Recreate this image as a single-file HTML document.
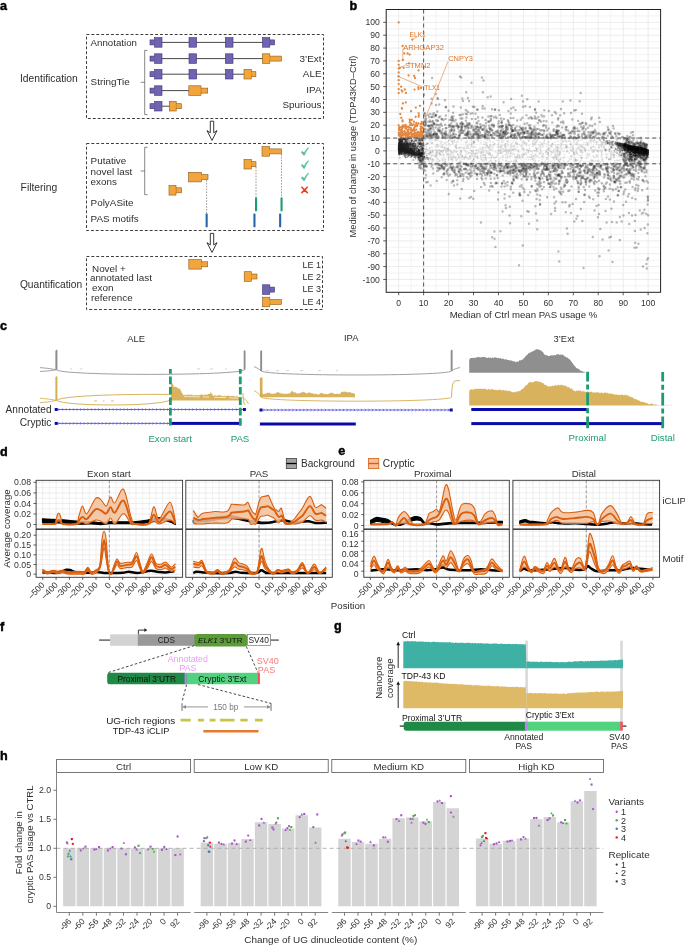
<!DOCTYPE html>
<html><head><meta charset="utf-8"><style>
html,body{margin:0;padding:0;background:#fff;}
svg{display:block;font-family:"Liberation Sans", sans-serif;opacity:0.999;will-change:transform;}
</style></head><body>
<svg width="685" height="945" viewBox="0 0 685 945">
<rect width="685" height="945" fill="#fff"/>
<text x="0.0" y="10.2" font-size="12.6" font-weight="bold" fill="#000" stroke="#000" stroke-width="0.45">a</text>
<rect x="86.5" y="34.5" width="237.0" height="84.0" fill="none" stroke="#333" stroke-width="0.95" stroke-dasharray="2.9,2.0"/>
<text x="20.0" y="81.8" font-size="10.3" fill="#2e2e2e">Identification</text>
<text x="90.6" y="45.7" font-size="9.7" fill="#2e2e2e">Annotation</text>
<text x="90.6" y="85.3" font-size="9.9" fill="#2e2e2e">StringTie</text>
<path d="M147.5,50.4 H144.7 V114.6 H147.5 M144.7,82.3 H140.7" fill="none" stroke="#555" stroke-width="0.7"/>
<line x1="160.0" y1="42.4" x2="263.0" y2="42.4" stroke="#333" stroke-width="0.9"/>
<rect x="150.0" y="39.9" width="4.6" height="5.0" fill="#6f64b2" stroke="#3d3475" stroke-width="0.6"/><rect x="154.6" y="37.6" width="7.4" height="9.6" fill="#6f64b2" stroke="#3d3475" stroke-width="0.6"/><rect x="154.2" y="40.2" width="0.9" height="4.4" fill="#6f64b2"/>
<rect x="189.0" y="37.6" width="7.6" height="9.6" fill="#6f64b2" stroke="#3d3475" stroke-width="0.6"/>
<rect x="225.4" y="37.6" width="7.6" height="9.6" fill="#6f64b2" stroke="#3d3475" stroke-width="0.6"/>
<rect x="269.8" y="39.9" width="4.8" height="5.0" fill="#6f64b2" stroke="#3d3475" stroke-width="0.6"/><rect x="262.5" y="37.6" width="7.3" height="9.6" fill="#6f64b2" stroke="#3d3475" stroke-width="0.6"/><rect x="269.3" y="40.2" width="0.9" height="4.4" fill="#6f64b2"/>
<line x1="160.0" y1="58.6" x2="263.0" y2="58.6" stroke="#333" stroke-width="0.9"/>
<rect x="150.0" y="56.1" width="4.6" height="5.0" fill="#6f64b2" stroke="#3d3475" stroke-width="0.6"/><rect x="154.6" y="53.8" width="7.4" height="9.6" fill="#6f64b2" stroke="#3d3475" stroke-width="0.6"/><rect x="154.2" y="56.4" width="0.9" height="4.4" fill="#6f64b2"/>
<rect x="189.0" y="53.8" width="7.6" height="9.6" fill="#6f64b2" stroke="#3d3475" stroke-width="0.6"/>
<rect x="225.4" y="53.8" width="7.6" height="9.6" fill="#6f64b2" stroke="#3d3475" stroke-width="0.6"/>
<rect x="269.8" y="56.1" width="11.7" height="5.0" fill="#f2a53c" stroke="#8a5a1c" stroke-width="0.6"/><rect x="262.4" y="53.8" width="7.4" height="9.6" fill="#f2a53c" stroke="#8a5a1c" stroke-width="0.6"/><rect x="269.3" y="56.4" width="0.9" height="4.4" fill="#f2a53c"/>
<line x1="160.0" y1="74.2" x2="245.0" y2="74.2" stroke="#333" stroke-width="0.9"/>
<rect x="150.0" y="71.7" width="4.6" height="5.0" fill="#6f64b2" stroke="#3d3475" stroke-width="0.6"/><rect x="154.6" y="69.4" width="7.4" height="9.6" fill="#6f64b2" stroke="#3d3475" stroke-width="0.6"/><rect x="154.2" y="72.0" width="0.9" height="4.4" fill="#6f64b2"/>
<rect x="189.0" y="69.4" width="7.6" height="9.6" fill="#6f64b2" stroke="#3d3475" stroke-width="0.6"/>
<rect x="225.4" y="69.4" width="7.6" height="9.6" fill="#6f64b2" stroke="#3d3475" stroke-width="0.6"/>
<rect x="251.3" y="71.7" width="4.6" height="5.0" fill="#f2a53c" stroke="#8a5a1c" stroke-width="0.6"/><rect x="244.0" y="69.4" width="7.3" height="9.6" fill="#f2a53c" stroke="#8a5a1c" stroke-width="0.6"/><rect x="250.8" y="72.0" width="0.9" height="4.4" fill="#f2a53c"/>
<line x1="160.0" y1="90.6" x2="190.0" y2="90.6" stroke="#333" stroke-width="0.9"/>
<rect x="150.0" y="88.1" width="4.6" height="5.0" fill="#6f64b2" stroke="#3d3475" stroke-width="0.6"/><rect x="154.6" y="85.8" width="7.4" height="9.6" fill="#6f64b2" stroke="#3d3475" stroke-width="0.6"/><rect x="154.2" y="88.4" width="0.9" height="4.4" fill="#6f64b2"/>
<rect x="201.0" y="88.1" width="6.7" height="5.0" fill="#f2a53c" stroke="#8a5a1c" stroke-width="0.6"/><rect x="188.8" y="85.8" width="12.2" height="9.6" fill="#f2a53c" stroke="#8a5a1c" stroke-width="0.6"/><rect x="200.5" y="88.4" width="0.9" height="4.4" fill="#f2a53c"/>
<line x1="160.0" y1="106.2" x2="170.0" y2="106.2" stroke="#333" stroke-width="0.9"/>
<rect x="150.0" y="103.7" width="4.6" height="5.0" fill="#6f64b2" stroke="#3d3475" stroke-width="0.6"/><rect x="154.6" y="101.4" width="7.4" height="9.6" fill="#6f64b2" stroke="#3d3475" stroke-width="0.6"/><rect x="154.2" y="104.0" width="0.9" height="4.4" fill="#6f64b2"/>
<rect x="176.2" y="103.7" width="5.3" height="5.0" fill="#f2a53c" stroke="#8a5a1c" stroke-width="0.6"/><rect x="169.4" y="101.4" width="6.8" height="9.6" fill="#f2a53c" stroke="#8a5a1c" stroke-width="0.6"/><rect x="175.7" y="104.0" width="0.9" height="4.4" fill="#f2a53c"/>
<text x="321.5" y="62.4" font-size="9.9" text-anchor="end" fill="#2e2e2e">3’Ext</text>
<text x="321.5" y="77.4" font-size="9.9" text-anchor="end" fill="#2e2e2e">ALE</text>
<text x="321.5" y="92.7" font-size="9.9" text-anchor="end" fill="#2e2e2e">IPA</text>
<text x="321.5" y="107.8" font-size="9.9" text-anchor="end" fill="#2e2e2e">Spurious</text>
<path d="M210.3,121.2 H213.7 V132.8 L217.0,130.6 L212.0,140.4 L207.0,130.6 L210.3,132.8 Z" fill="#fff" stroke="#222" stroke-width="0.9" stroke-linejoin="miter"/>
<rect x="86.5" y="143.5" width="237.0" height="87.0" fill="none" stroke="#333" stroke-width="0.95" stroke-dasharray="2.9,2.0"/>
<text x="20.6" y="191.2" font-size="10.3" fill="#2e2e2e">Filtering</text>
<text x="90.6" y="163.8" font-size="9.9" fill="#2e2e2e">Putative</text>
<text x="90.6" y="174.5" font-size="9.9" fill="#2e2e2e">novel last</text>
<text x="90.6" y="185.2" font-size="9.9" fill="#2e2e2e">exons</text>
<text x="90.6" y="205.6" font-size="9.9" fill="#2e2e2e">PolyASite</text>
<text x="90.6" y="221.9" font-size="9.9" fill="#2e2e2e">PAS motifs</text>
<path d="M147.5,147.3 H144.7 V194.7 H147.5 M144.7,171.0 H140.7" fill="none" stroke="#555" stroke-width="0.7"/>
<rect x="269.6" y="148.9" width="11.9" height="5.0" fill="#f2a53c" stroke="#8a5a1c" stroke-width="0.6"/><rect x="262.0" y="146.6" width="7.6" height="9.6" fill="#f2a53c" stroke="#8a5a1c" stroke-width="0.6"/><rect x="269.1" y="149.2" width="0.9" height="4.4" fill="#f2a53c"/>
<rect x="251.3" y="161.7" width="4.7" height="5.0" fill="#f2a53c" stroke="#8a5a1c" stroke-width="0.6"/><rect x="244.0" y="159.4" width="7.3" height="9.6" fill="#f2a53c" stroke="#8a5a1c" stroke-width="0.6"/><rect x="250.8" y="162.0" width="0.9" height="4.4" fill="#f2a53c"/>
<rect x="201.5" y="174.6" width="6.5" height="5.0" fill="#f2a53c" stroke="#8a5a1c" stroke-width="0.6"/><rect x="188.5" y="172.3" width="13.0" height="9.6" fill="#f2a53c" stroke="#8a5a1c" stroke-width="0.6"/><rect x="201.0" y="174.9" width="0.9" height="4.4" fill="#f2a53c"/>
<rect x="176.0" y="187.8" width="5.6" height="5.0" fill="#f2a53c" stroke="#8a5a1c" stroke-width="0.6"/><rect x="169.0" y="185.5" width="7.0" height="9.6" fill="#f2a53c" stroke="#8a5a1c" stroke-width="0.6"/><rect x="175.5" y="188.1" width="0.9" height="4.4" fill="#f2a53c"/>
<line x1="206.6" y1="180" x2="206.6" y2="214" stroke="#555" stroke-width="0.6" stroke-dasharray="1.6,1.3"/>
<line x1="256.0" y1="167" x2="256.0" y2="198" stroke="#555" stroke-width="0.6" stroke-dasharray="1.6,1.3"/>
<line x1="281.5" y1="154" x2="281.5" y2="198" stroke="#555" stroke-width="0.6" stroke-dasharray="1.6,1.3"/>
<rect x="255.0" y="197.4" width="2.1" height="13.9" rx="0.6" fill="#1f9a72"/>
<rect x="280.5" y="197.4" width="2.1" height="13.9" rx="0.6" fill="#1f9a72"/>
<rect x="205.6" y="213.5" width="2.1" height="13.8" rx="0.6" fill="#2566a8"/>
<rect x="253.4" y="213.5" width="2.1" height="13.8" rx="0.6" fill="#2566a8"/>
<rect x="279.1" y="213.5" width="2.1" height="13.8" rx="0.6" fill="#2566a8"/>
<path d="M301.20,152.20 L302.50,151.30 L304.10,153.10 Q305.80,149.30 308.30,147.50 L308.60,148.10 Q306.40,150.30 304.40,155.30 L303.70,155.30 Z" fill="#52be98" stroke="#52be98" stroke-width="0.5" stroke-linejoin="round"/>
<path d="M301.20,165.30 L302.50,164.40 L304.10,166.20 Q305.80,162.40 308.30,160.60 L308.60,161.20 Q306.40,163.40 304.40,168.40 L303.70,168.40 Z" fill="#52be98" stroke="#52be98" stroke-width="0.5" stroke-linejoin="round"/>
<path d="M301.20,177.70 L302.50,176.80 L304.10,178.60 Q305.80,174.80 308.30,173.00 L308.60,173.60 Q306.40,175.80 304.40,180.80 L303.70,180.80 Z" fill="#52be98" stroke="#52be98" stroke-width="0.5" stroke-linejoin="round"/>
<path d="M301.9,187.2 L307.3,192.6 M307.3,187.2 L301.9,192.6" stroke="#e8401e" stroke-width="1.6" stroke-linecap="round"/>
<path d="M210.3,233.4 H213.7 V244.9 L217.0,242.7 L212.0,252.4 L207.0,242.7 L210.3,244.9 Z" fill="#fff" stroke="#222" stroke-width="0.9" stroke-linejoin="miter"/>
<rect x="86.5" y="256.5" width="236.0" height="53.0" fill="none" stroke="#333" stroke-width="0.95" stroke-dasharray="2.9,2.0"/>
<text x="19.9" y="288.2" font-size="10.2" fill="#2e2e2e">Quantification</text>
<text x="92.0" y="271.8" font-size="9.9" fill="#2e2e2e">Novel +</text>
<text x="89.9" y="281.3" font-size="9.9" fill="#2e2e2e">annotated last</text>
<text x="92.0" y="291.2" font-size="9.9" fill="#2e2e2e">exon</text>
<text x="91.0" y="301.0" font-size="9.9" fill="#2e2e2e">reference</text>
<rect x="201.3" y="261.8" width="6.4" height="5.0" fill="#f2a53c" stroke="#8a5a1c" stroke-width="0.6"/><rect x="188.8" y="259.5" width="12.5" height="9.6" fill="#f2a53c" stroke="#8a5a1c" stroke-width="0.6"/><rect x="200.8" y="262.1" width="0.9" height="4.4" fill="#f2a53c"/>
<rect x="251.3" y="274.0" width="5.7" height="5.0" fill="#f2a53c" stroke="#8a5a1c" stroke-width="0.6"/><rect x="244.2" y="271.7" width="7.1" height="9.6" fill="#f2a53c" stroke="#8a5a1c" stroke-width="0.6"/><rect x="250.8" y="274.3" width="0.9" height="4.4" fill="#f2a53c"/>
<rect x="269.8" y="287.1" width="4.7" height="5.0" fill="#6f64b2" stroke="#3d3475" stroke-width="0.6"/><rect x="262.5" y="284.8" width="7.3" height="9.6" fill="#6f64b2" stroke="#3d3475" stroke-width="0.6"/><rect x="269.3" y="287.4" width="0.9" height="4.4" fill="#6f64b2"/>
<rect x="269.8" y="299.5" width="11.7" height="5.0" fill="#f2a53c" stroke="#8a5a1c" stroke-width="0.6"/><rect x="262.5" y="297.2" width="7.3" height="9.6" fill="#f2a53c" stroke="#8a5a1c" stroke-width="0.6"/><rect x="269.3" y="299.8" width="0.9" height="4.4" fill="#f2a53c"/>
<text x="321.0" y="267.9" font-size="9.0" text-anchor="end" fill="#2e2e2e">LE 1</text>
<text x="321.0" y="280.1" font-size="9.0" text-anchor="end" fill="#2e2e2e">LE 2</text>
<text x="321.0" y="292.4" font-size="9.0" text-anchor="end" fill="#2e2e2e">LE 3</text>
<text x="321.0" y="304.8" font-size="9.0" text-anchor="end" fill="#2e2e2e">LE 4</text>
<text x="349.6" y="10.3" font-size="12.6" font-weight="bold" fill="#000" stroke="#000" stroke-width="0.45">b</text>
<rect x="386.2" y="9.5" width="274.4" height="282.8" fill="#fff"/>
<line x1="411.15" y1="9.5" x2="411.15" y2="292.3" stroke="#f1f1f1" stroke-width="0.85"/><line x1="436.09" y1="9.5" x2="436.09" y2="292.3" stroke="#f1f1f1" stroke-width="0.85"/><line x1="461.04" y1="9.5" x2="461.04" y2="292.3" stroke="#f1f1f1" stroke-width="0.85"/><line x1="485.98" y1="9.5" x2="485.98" y2="292.3" stroke="#f1f1f1" stroke-width="0.85"/><line x1="510.93" y1="9.5" x2="510.93" y2="292.3" stroke="#f1f1f1" stroke-width="0.85"/><line x1="535.87" y1="9.5" x2="535.87" y2="292.3" stroke="#f1f1f1" stroke-width="0.85"/><line x1="560.82" y1="9.5" x2="560.82" y2="292.3" stroke="#f1f1f1" stroke-width="0.85"/><line x1="585.76" y1="9.5" x2="585.76" y2="292.3" stroke="#f1f1f1" stroke-width="0.85"/><line x1="610.71" y1="9.5" x2="610.71" y2="292.3" stroke="#f1f1f1" stroke-width="0.85"/><line x1="635.65" y1="9.5" x2="635.65" y2="292.3" stroke="#f1f1f1" stroke-width="0.85"/><line x1="386.2" y1="285.87" x2="660.6" y2="285.87" stroke="#f1f1f1" stroke-width="0.85"/><line x1="386.2" y1="273.02" x2="660.6" y2="273.02" stroke="#f1f1f1" stroke-width="0.85"/><line x1="386.2" y1="260.16" x2="660.6" y2="260.16" stroke="#f1f1f1" stroke-width="0.85"/><line x1="386.2" y1="247.31" x2="660.6" y2="247.31" stroke="#f1f1f1" stroke-width="0.85"/><line x1="386.2" y1="234.45" x2="660.6" y2="234.45" stroke="#f1f1f1" stroke-width="0.85"/><line x1="386.2" y1="221.60" x2="660.6" y2="221.60" stroke="#f1f1f1" stroke-width="0.85"/><line x1="386.2" y1="208.75" x2="660.6" y2="208.75" stroke="#f1f1f1" stroke-width="0.85"/><line x1="386.2" y1="195.89" x2="660.6" y2="195.89" stroke="#f1f1f1" stroke-width="0.85"/><line x1="386.2" y1="183.04" x2="660.6" y2="183.04" stroke="#f1f1f1" stroke-width="0.85"/><line x1="386.2" y1="170.18" x2="660.6" y2="170.18" stroke="#f1f1f1" stroke-width="0.85"/><line x1="386.2" y1="157.33" x2="660.6" y2="157.33" stroke="#f1f1f1" stroke-width="0.85"/><line x1="386.2" y1="144.47" x2="660.6" y2="144.47" stroke="#f1f1f1" stroke-width="0.85"/><line x1="386.2" y1="131.62" x2="660.6" y2="131.62" stroke="#f1f1f1" stroke-width="0.85"/><line x1="386.2" y1="118.76" x2="660.6" y2="118.76" stroke="#f1f1f1" stroke-width="0.85"/><line x1="386.2" y1="105.91" x2="660.6" y2="105.91" stroke="#f1f1f1" stroke-width="0.85"/><line x1="386.2" y1="93.05" x2="660.6" y2="93.05" stroke="#f1f1f1" stroke-width="0.85"/><line x1="386.2" y1="80.20" x2="660.6" y2="80.20" stroke="#f1f1f1" stroke-width="0.85"/><line x1="386.2" y1="67.35" x2="660.6" y2="67.35" stroke="#f1f1f1" stroke-width="0.85"/><line x1="386.2" y1="54.49" x2="660.6" y2="54.49" stroke="#f1f1f1" stroke-width="0.85"/><line x1="386.2" y1="41.64" x2="660.6" y2="41.64" stroke="#f1f1f1" stroke-width="0.85"/><line x1="386.2" y1="28.78" x2="660.6" y2="28.78" stroke="#f1f1f1" stroke-width="0.85"/><line x1="386.2" y1="15.93" x2="660.6" y2="15.93" stroke="#f1f1f1" stroke-width="0.85"/><line x1="398.67" y1="9.5" x2="398.67" y2="292.3" stroke="#ebebeb" stroke-width="0.95"/><line x1="423.62" y1="9.5" x2="423.62" y2="292.3" stroke="#ebebeb" stroke-width="0.95"/><line x1="448.56" y1="9.5" x2="448.56" y2="292.3" stroke="#ebebeb" stroke-width="0.95"/><line x1="473.51" y1="9.5" x2="473.51" y2="292.3" stroke="#ebebeb" stroke-width="0.95"/><line x1="498.45" y1="9.5" x2="498.45" y2="292.3" stroke="#ebebeb" stroke-width="0.95"/><line x1="523.40" y1="9.5" x2="523.40" y2="292.3" stroke="#ebebeb" stroke-width="0.95"/><line x1="548.35" y1="9.5" x2="548.35" y2="292.3" stroke="#ebebeb" stroke-width="0.95"/><line x1="573.29" y1="9.5" x2="573.29" y2="292.3" stroke="#ebebeb" stroke-width="0.95"/><line x1="598.24" y1="9.5" x2="598.24" y2="292.3" stroke="#ebebeb" stroke-width="0.95"/><line x1="623.18" y1="9.5" x2="623.18" y2="292.3" stroke="#ebebeb" stroke-width="0.95"/><line x1="648.13" y1="9.5" x2="648.13" y2="292.3" stroke="#ebebeb" stroke-width="0.95"/><line x1="386.2" y1="279.45" x2="660.6" y2="279.45" stroke="#ebebeb" stroke-width="0.95"/><line x1="386.2" y1="266.59" x2="660.6" y2="266.59" stroke="#ebebeb" stroke-width="0.95"/><line x1="386.2" y1="253.74" x2="660.6" y2="253.74" stroke="#ebebeb" stroke-width="0.95"/><line x1="386.2" y1="240.88" x2="660.6" y2="240.88" stroke="#ebebeb" stroke-width="0.95"/><line x1="386.2" y1="228.03" x2="660.6" y2="228.03" stroke="#ebebeb" stroke-width="0.95"/><line x1="386.2" y1="215.17" x2="660.6" y2="215.17" stroke="#ebebeb" stroke-width="0.95"/><line x1="386.2" y1="202.32" x2="660.6" y2="202.32" stroke="#ebebeb" stroke-width="0.95"/><line x1="386.2" y1="189.46" x2="660.6" y2="189.46" stroke="#ebebeb" stroke-width="0.95"/><line x1="386.2" y1="176.61" x2="660.6" y2="176.61" stroke="#ebebeb" stroke-width="0.95"/><line x1="386.2" y1="163.75" x2="660.6" y2="163.75" stroke="#ebebeb" stroke-width="0.95"/><line x1="386.2" y1="150.90" x2="660.6" y2="150.90" stroke="#ebebeb" stroke-width="0.95"/><line x1="386.2" y1="138.05" x2="660.6" y2="138.05" stroke="#ebebeb" stroke-width="0.95"/><line x1="386.2" y1="125.19" x2="660.6" y2="125.19" stroke="#ebebeb" stroke-width="0.95"/><line x1="386.2" y1="112.34" x2="660.6" y2="112.34" stroke="#ebebeb" stroke-width="0.95"/><line x1="386.2" y1="99.48" x2="660.6" y2="99.48" stroke="#ebebeb" stroke-width="0.95"/><line x1="386.2" y1="86.63" x2="660.6" y2="86.63" stroke="#ebebeb" stroke-width="0.95"/><line x1="386.2" y1="73.77" x2="660.6" y2="73.77" stroke="#ebebeb" stroke-width="0.95"/><line x1="386.2" y1="60.92" x2="660.6" y2="60.92" stroke="#ebebeb" stroke-width="0.95"/><line x1="386.2" y1="48.06" x2="660.6" y2="48.06" stroke="#ebebeb" stroke-width="0.95"/><line x1="386.2" y1="35.21" x2="660.6" y2="35.21" stroke="#ebebeb" stroke-width="0.95"/><line x1="386.2" y1="22.35" x2="660.6" y2="22.35" stroke="#ebebeb" stroke-width="0.95"/>
<path d="M611.1 152.4h0M444.4 142.9h0M476.1 163.0h0M548.8 155.7h0M453.7 155.2h0M523.6 153.7h0M436.5 144.7h0M471.6 150.8h0M446.8 142.2h0M575.5 139.7h0M507.0 143.6h0M610.6 158.6h0M580.5 161.2h0M622.2 153.6h0M427.3 153.6h0M598.6 161.1h0M440.0 154.2h0M507.6 156.0h0M442.0 141.7h0M558.5 160.6h0M433.0 159.6h0M600.7 141.4h0M575.8 159.8h0M516.0 149.1h0M533.5 146.1h0M548.3 155.0h0M574.6 158.0h0M494.2 143.9h0M619.2 147.8h0M551.6 145.6h0M504.9 145.4h0M497.9 144.8h0M508.2 156.3h0M534.1 142.3h0M462.3 138.6h0M478.5 140.2h0M597.2 142.3h0M590.7 140.3h0M555.9 155.8h0M507.6 144.5h0M613.3 157.6h0M612.3 143.7h0M442.2 146.5h0M425.0 146.2h0M558.1 141.2h0M435.7 156.4h0M472.2 152.4h0M574.8 160.5h0M617.3 160.1h0M451.0 151.2h0M461.7 162.5h0M558.7 155.0h0M486.3 160.3h0M474.0 142.9h0M606.5 158.0h0M591.0 142.7h0M587.2 143.4h0M521.6 154.9h0M517.0 139.4h0M451.2 141.5h0M476.5 155.6h0M461.0 154.5h0M480.8 157.6h0M544.7 138.1h0M556.8 159.0h0M615.9 148.2h0M498.8 146.9h0M463.4 138.6h0M558.2 156.3h0M574.3 141.7h0M517.1 156.7h0M451.6 159.8h0M436.6 153.3h0M433.1 161.2h0M511.5 147.4h0M511.9 147.1h0M581.1 145.8h0M448.5 141.0h0M540.3 142.4h0M581.6 157.8h0M431.9 143.2h0M558.9 155.5h0M593.7 142.5h0M455.6 158.3h0M603.8 147.7h0M597.4 156.4h0M620.5 139.4h0M602.4 158.8h0M537.5 149.1h0M616.8 149.4h0M500.1 149.8h0M564.8 162.3h0M434.9 146.4h0M458.6 138.7h0M481.4 140.4h0M565.5 140.9h0M619.2 148.2h0M616.4 139.3h0M431.6 155.7h0M566.3 141.7h0M581.9 150.5h0M455.8 145.4h0M439.4 150.3h0M574.7 155.0h0M566.8 146.3h0M481.1 159.1h0M522.4 145.6h0M504.3 145.6h0M454.5 142.4h0M535.4 154.5h0M435.6 138.1h0M533.6 159.0h0M508.1 153.3h0M597.9 151.6h0M608.8 143.5h0M497.0 155.6h0M444.3 147.0h0M448.3 160.1h0M518.1 151.1h0M557.5 148.3h0M517.2 142.9h0M578.2 143.9h0M541.8 155.6h0M580.2 149.7h0M450.3 151.9h0M490.0 152.9h0M528.6 140.6h0M457.1 151.3h0M524.6 149.6h0M574.1 154.1h0M540.5 150.2h0M564.0 140.3h0M539.9 153.5h0M570.4 143.4h0M558.1 159.9h0M427.7 150.5h0M611.0 159.4h0M460.3 163.0h0M613.2 147.9h0M503.5 163.7h0M465.8 143.4h0M612.6 153.8h0M589.5 140.5h0M618.2 147.7h0M554.1 159.1h0M494.6 139.4h0M555.3 141.9h0M539.0 144.7h0M462.4 159.0h0M567.0 147.3h0M489.1 147.2h0M441.9 152.1h0M512.9 163.1h0M491.4 157.8h0M607.6 154.1h0M599.1 146.7h0M550.5 151.3h0M565.8 163.3h0M565.7 147.2h0M616.2 162.8h0M500.0 150.0h0M446.5 138.3h0M427.2 143.6h0M455.4 151.5h0M573.2 138.5h0M519.1 154.8h0M477.9 158.6h0M574.0 153.0h0M608.8 160.1h0M576.5 143.5h0M564.5 162.4h0M617.6 138.8h0M438.5 149.8h0M561.5 163.3h0M525.0 138.5h0M455.9 146.6h0M572.9 151.4h0M510.6 146.4h0M609.4 142.3h0M486.7 158.4h0M618.6 146.3h0M570.7 147.1h0M536.9 141.7h0M484.8 139.6h0M467.3 148.1h0M477.7 156.1h0M434.3 155.7h0M440.0 160.4h0M576.7 142.7h0M569.1 153.0h0M447.6 154.5h0M513.5 160.9h0M568.6 140.8h0M548.8 141.9h0M580.0 145.0h0M472.4 147.6h0M579.5 145.6h0M431.4 143.2h0M609.0 151.4h0M432.7 142.9h0M544.6 143.3h0M601.8 151.7h0M602.3 160.1h0M533.5 155.9h0M435.1 149.7h0M556.8 158.2h0M611.7 142.6h0M618.5 149.1h0M526.7 154.6h0M500.3 153.1h0M611.1 157.2h0M448.8 150.4h0M458.9 156.9h0M489.7 140.2h0M450.8 151.0h0M443.6 150.4h0M473.8 159.1h0M555.7 154.8h0M490.7 145.3h0M431.3 156.2h0M619.0 150.9h0M587.3 154.9h0M604.3 149.1h0M437.3 145.8h0M499.3 150.0h0M613.6 152.8h0M461.6 140.3h0M573.1 146.4h0M461.2 151.5h0M576.8 153.5h0M571.6 145.2h0M464.9 158.1h0M500.9 151.9h0M493.1 156.1h0M611.4 143.1h0M458.0 140.9h0M451.0 157.8h0M442.4 160.6h0M592.2 160.7h0M557.6 146.9h0M578.5 148.2h0M601.2 156.6h0M614.1 157.4h0M578.5 148.3h0M593.9 161.2h0M445.4 160.0h0M482.6 147.6h0M432.0 147.2h0M535.8 147.8h0M483.9 144.4h0M572.0 147.4h0M476.1 153.3h0M448.8 157.8h0M551.2 146.3h0M540.7 149.0h0M435.4 163.2h0M459.4 158.7h0M485.1 158.0h0M453.1 142.9h0M619.2 143.0h0M602.2 142.3h0M443.8 150.0h0M606.6 149.4h0M571.1 141.6h0M478.5 150.7h0M507.0 154.8h0M519.9 156.7h0M605.9 151.3h0M614.5 145.4h0M506.6 138.2h0M446.8 148.5h0M486.2 145.3h0M589.7 153.9h0M601.5 154.8h0M563.7 151.6h0M450.8 153.9h0M547.7 152.8h0M616.2 149.6h0M533.5 139.9h0M600.3 161.7h0M501.4 146.6h0M537.6 151.9h0M484.2 163.4h0M529.3 147.7h0M575.0 163.4h0M471.9 146.7h0M526.7 143.2h0M596.3 149.6h0M547.9 148.8h0M607.5 143.6h0M614.0 140.9h0M529.7 150.1h0M498.8 163.0h0M459.2 148.3h0M497.1 139.9h0M559.2 162.0h0M501.3 153.2h0M522.2 156.8h0M553.5 151.9h0M554.0 157.4h0M468.1 146.9h0M466.9 157.1h0M429.6 154.0h0M547.1 149.9h0M558.0 149.0h0M585.5 139.1h0M593.2 155.6h0M535.3 139.0h0M554.0 160.0h0M547.2 157.5h0M581.2 151.7h0M498.2 150.0h0M584.6 150.0h0M443.0 160.8h0M470.9 145.4h0M507.8 142.3h0M602.0 150.5h0M598.5 138.3h0M429.9 153.6h0M506.2 148.6h0M498.0 153.9h0M616.1 162.4h0M542.8 147.1h0M505.3 155.0h0" stroke="#000" stroke-opacity="0.1" stroke-width="1.9" stroke-linecap="round" fill="none"/><path d="M570.2 148.9h0M434.4 160.1h0M490.2 146.8h0M566.7 151.6h0M601.7 143.9h0M496.6 156.9h0M473.9 152.9h0M431.5 140.2h0M573.1 139.0h0M500.9 146.8h0M459.7 162.8h0M466.3 148.4h0M483.9 154.8h0M581.8 147.2h0M573.0 148.1h0M527.0 138.3h0M456.1 148.7h0M576.9 144.6h0M441.6 163.5h0M558.0 150.0h0M507.3 150.1h0M594.0 139.7h0M499.4 152.8h0M601.1 146.0h0M585.6 145.2h0M556.2 150.1h0M517.2 156.3h0M520.5 158.7h0M582.7 152.6h0M522.2 141.6h0M543.5 156.3h0M452.3 144.1h0M426.2 158.5h0M475.2 156.2h0M524.6 154.8h0M485.8 144.1h0M515.7 161.4h0M546.2 151.8h0M431.6 150.4h0M570.2 144.6h0M488.5 148.4h0M487.1 163.0h0M458.1 148.0h0M541.0 145.8h0M513.2 146.2h0M471.9 153.6h0M484.6 158.0h0M581.1 152.5h0M452.3 152.3h0M559.2 160.3h0M434.5 140.4h0M485.5 159.1h0M610.2 145.5h0M469.8 144.1h0M560.1 158.9h0M511.1 161.4h0M454.6 157.2h0M535.2 162.5h0M506.0 150.3h0M590.7 148.3h0M591.7 149.0h0M610.6 155.7h0M475.1 154.0h0M579.7 162.6h0M566.7 147.1h0M585.4 162.8h0M616.2 149.5h0M430.6 150.6h0M431.6 153.1h0M446.3 151.4h0M457.4 153.5h0M424.9 161.2h0M612.1 146.2h0M532.1 151.6h0M516.7 163.0h0M621.8 145.7h0M543.5 163.3h0M515.3 157.1h0M587.6 153.4h0M455.7 159.6h0M595.2 147.4h0M484.1 141.9h0M619.0 156.2h0M468.7 147.8h0M622.7 157.5h0M460.7 162.3h0M593.2 151.3h0M621.5 154.9h0M524.4 142.9h0M438.8 160.4h0M533.2 144.2h0M612.3 155.3h0M512.0 154.7h0M622.9 143.5h0M526.1 144.4h0M521.4 146.8h0M456.6 142.0h0M446.1 162.4h0M482.4 152.8h0M426.2 152.5h0M550.6 161.3h0M576.6 160.5h0M544.4 139.8h0M444.4 148.3h0M560.9 146.4h0M581.3 157.4h0M559.7 152.2h0M435.0 140.1h0M559.3 154.8h0M433.3 152.6h0M609.4 151.5h0M440.8 151.3h0M570.8 156.1h0M498.7 151.5h0M580.1 155.5h0M474.5 142.1h0M443.4 159.5h0M502.7 157.3h0M508.1 152.0h0M616.9 146.2h0M445.4 142.9h0M551.9 163.4h0M515.9 149.6h0M456.3 152.4h0M491.8 146.6h0M425.9 138.4h0M516.1 160.2h0M620.7 143.7h0M531.5 157.4h0M603.8 163.5h0M491.1 149.2h0M470.5 140.0h0M473.3 159.5h0M526.3 159.4h0M477.6 158.0h0M530.3 138.9h0M471.6 150.8h0M503.4 149.1h0M603.5 142.2h0M440.0 153.1h0M531.0 154.6h0M570.7 149.7h0M489.7 149.9h0M489.8 153.4h0M424.5 140.2h0M559.7 159.4h0M582.5 139.7h0M592.5 146.7h0M491.5 157.3h0M515.6 142.3h0M474.9 155.7h0M528.7 150.8h0M501.8 148.1h0M577.0 153.3h0M577.8 154.9h0M456.1 160.5h0M447.7 148.8h0M532.5 146.1h0M534.7 150.8h0M621.8 153.8h0M475.6 153.7h0M443.1 154.6h0M435.7 156.2h0M553.2 158.2h0M491.9 162.2h0M445.4 162.5h0M585.2 151.0h0M600.1 150.7h0M589.9 162.9h0M582.9 152.5h0M461.7 157.3h0M621.5 147.5h0M607.7 141.4h0M451.4 152.2h0M576.1 153.1h0M591.6 150.0h0M581.0 152.0h0M549.0 150.3h0M610.6 154.8h0M524.9 143.0h0M424.0 144.9h0M552.2 143.6h0M487.7 139.1h0M429.3 150.0h0M585.4 149.3h0M588.7 149.8h0M461.2 151.0h0M605.9 153.9h0M483.0 154.9h0M610.5 144.8h0M437.4 144.8h0M432.9 139.0h0M555.6 157.1h0M514.4 149.3h0M575.1 159.8h0M439.1 161.2h0M425.5 139.6h0M452.1 158.7h0M619.2 160.6h0M592.5 146.6h0M509.1 150.4h0M486.6 151.0h0M556.7 154.6h0M479.1 161.9h0M472.5 160.6h0M533.1 143.6h0M498.3 161.9h0M534.8 139.5h0M612.4 142.8h0M561.6 143.9h0M566.0 145.8h0M454.0 140.3h0M474.4 146.5h0M555.9 138.8h0M589.1 161.6h0M541.6 144.0h0M445.7 162.3h0M536.5 150.4h0M474.6 157.0h0M566.5 147.4h0M573.2 149.2h0M595.6 160.7h0M595.4 157.6h0M486.9 147.3h0M452.4 156.7h0M519.5 144.7h0M556.5 159.3h0M462.2 156.0h0M551.4 153.2h0M479.3 148.9h0M478.4 140.9h0M464.4 147.3h0M528.2 152.5h0M513.1 146.1h0M466.8 153.5h0M480.6 156.3h0M559.1 160.6h0M492.3 150.1h0M452.8 142.0h0M500.7 158.1h0M596.3 142.4h0M510.7 153.1h0M493.2 144.9h0M476.5 150.0h0M529.0 145.4h0M469.9 155.5h0M485.0 155.4h0M604.2 147.1h0M429.1 153.7h0M489.3 157.9h0M597.9 150.9h0M523.5 155.4h0M615.9 151.6h0M571.6 156.0h0M440.0 154.9h0M546.1 159.4h0M465.7 156.3h0M518.7 152.4h0M490.2 142.3h0M558.4 151.7h0M468.4 158.4h0M509.4 151.0h0M505.7 157.7h0M554.7 162.8h0M457.4 158.6h0M582.6 152.7h0M528.9 141.4h0M424.6 157.1h0M439.0 145.7h0M494.8 158.3h0M621.1 147.4h0M534.3 162.1h0M595.0 149.9h0M539.5 153.8h0M573.9 152.2h0M505.7 161.0h0M602.3 143.5h0M490.6 154.9h0M425.6 151.9h0M457.0 142.7h0M456.3 145.3h0M565.5 139.1h0M477.5 139.7h0M560.8 143.5h0M432.6 158.9h0M441.0 151.3h0M472.4 156.2h0M467.2 152.1h0M539.2 138.3h0M493.0 142.2h0M611.4 151.1h0M480.8 142.7h0M440.4 146.0h0M593.6 152.1h0M495.4 151.9h0M445.7 139.2h0M586.8 157.7h0M537.3 156.3h0M593.0 146.5h0M437.7 154.6h0M465.7 154.6h0M500.6 146.7h0M437.8 147.1h0M611.6 144.8h0M505.3 143.5h0M499.5 161.1h0M551.0 139.5h0M482.7 149.6h0M557.4 157.1h0M559.2 152.7h0M513.7 140.6h0M506.8 140.9h0M562.0 142.6h0M442.8 144.7h0M522.9 148.7h0M424.3 154.5h0M470.6 157.6h0M518.6 151.9h0M551.2 154.9h0M439.5 150.8h0M449.0 144.0h0M495.8 160.6h0M506.8 151.5h0M561.5 149.4h0" stroke="#000" stroke-opacity="0.1" stroke-width="1.9" stroke-linecap="round" fill="none"/><path d="M583.5 147.6h0M528.0 149.9h0M621.9 154.9h0M567.6 150.5h0M526.3 145.6h0M505.3 150.8h0M559.9 151.8h0M594.2 150.8h0M477.3 157.0h0M618.0 147.7h0M602.1 139.1h0M603.2 161.2h0M621.0 153.7h0M449.8 155.4h0M615.0 160.8h0M430.0 147.8h0M468.8 153.0h0M442.0 150.4h0M482.8 148.6h0M498.8 143.5h0M505.0 144.3h0M473.3 150.6h0M508.2 146.1h0M477.6 156.8h0M514.6 146.2h0M474.2 161.2h0M458.2 162.5h0M492.5 147.9h0M454.8 146.3h0M557.3 152.3h0M568.2 147.4h0M597.5 161.1h0M548.1 153.2h0M593.3 149.6h0M432.4 151.7h0M611.2 138.4h0M500.8 139.3h0M487.1 145.6h0M528.2 151.8h0M612.1 144.4h0M616.7 139.5h0M578.4 146.8h0M463.4 148.7h0M448.5 158.7h0M532.6 153.6h0M473.5 150.9h0M592.8 152.0h0M518.4 155.5h0M593.6 140.7h0M558.8 145.2h0M435.2 139.8h0M590.9 161.5h0M508.9 149.2h0M436.7 147.0h0M504.8 150.2h0M582.0 155.1h0M432.2 143.0h0M577.8 148.9h0M527.6 157.1h0M610.5 148.8h0M601.6 141.9h0M564.4 148.3h0M450.7 155.9h0M485.8 156.9h0M536.1 155.5h0M489.1 161.7h0M579.4 148.7h0M559.6 148.4h0M466.3 138.6h0M566.3 148.1h0M583.9 142.5h0M458.2 154.9h0M490.7 160.1h0M536.8 149.0h0M614.9 147.7h0M545.8 152.5h0M501.0 162.6h0M453.5 156.4h0M536.4 151.1h0M534.1 150.5h0M550.9 145.9h0M620.8 143.1h0M466.8 140.9h0M480.3 147.4h0M617.5 142.2h0M477.4 153.5h0M452.7 160.5h0M602.5 145.3h0M452.4 159.7h0M576.3 151.7h0M587.0 142.3h0M425.7 159.6h0M547.0 149.8h0M571.5 163.2h0M623.2 140.7h0M541.7 156.5h0M609.5 146.3h0M562.5 148.1h0M472.2 161.4h0M475.6 139.5h0M472.0 154.0h0M467.1 142.3h0M437.6 162.3h0M471.9 144.1h0M465.2 163.2h0M616.6 146.6h0M560.1 138.8h0M514.0 149.9h0M602.0 159.6h0M512.8 142.8h0M465.6 157.4h0M436.4 154.6h0M563.5 144.8h0M563.4 141.8h0M611.5 147.0h0M423.9 145.7h0M616.3 142.4h0M481.7 159.5h0M445.3 158.9h0M514.9 159.4h0M525.0 143.0h0M521.0 140.3h0M560.0 153.2h0M587.3 144.4h0M537.3 138.8h0M462.4 156.4h0M607.1 141.7h0M436.0 153.0h0M489.1 154.6h0M552.3 157.1h0M436.8 139.4h0M568.8 160.6h0M517.3 143.6h0M580.4 147.3h0M476.5 150.1h0M552.5 144.1h0M534.4 143.7h0M524.8 153.7h0M460.8 147.7h0M573.9 138.4h0M506.0 147.2h0M603.7 142.6h0M548.5 145.5h0M474.2 141.1h0M474.9 154.0h0M578.6 140.4h0M488.1 153.6h0M584.5 148.8h0M432.7 150.9h0M426.6 142.9h0M447.8 153.7h0M436.9 153.3h0M437.9 152.1h0M446.4 152.7h0M621.0 155.4h0M507.3 157.8h0M533.4 160.6h0M609.9 149.4h0M450.4 139.2h0M622.9 157.3h0M522.4 154.5h0M505.4 149.5h0M570.6 144.1h0M519.7 156.3h0M513.1 153.4h0M544.5 140.9h0M603.4 162.8h0M468.6 159.3h0M604.8 142.2h0M425.1 139.5h0M481.2 152.7h0M431.9 160.7h0M617.4 160.6h0M470.2 158.7h0M492.2 162.4h0M481.9 161.0h0M519.3 157.2h0M481.3 152.1h0M529.8 163.8h0M483.3 155.2h0M538.9 160.7h0M575.5 144.3h0M427.5 149.1h0M620.6 152.7h0M459.5 147.3h0M619.0 145.7h0M509.8 156.9h0M569.6 158.9h0M561.1 145.3h0M605.0 149.7h0M527.0 149.4h0M521.1 145.6h0M489.9 145.0h0M569.3 138.2h0M439.7 153.6h0M592.9 141.1h0M428.3 159.3h0M436.5 150.5h0M474.2 142.3h0M532.9 163.4h0M448.8 140.1h0M483.6 147.0h0M545.5 161.6h0M446.4 149.2h0M546.5 151.5h0M534.5 157.6h0M561.5 140.3h0M499.1 140.7h0M439.6 153.2h0M616.5 143.1h0M482.1 159.8h0M566.9 151.5h0M483.3 152.1h0M488.7 147.2h0M601.7 143.9h0M449.2 140.1h0M430.9 142.5h0M574.1 153.2h0M447.5 151.2h0M546.1 146.6h0M512.5 149.7h0M538.1 139.4h0M426.3 154.4h0M459.0 163.1h0M582.8 144.8h0M440.2 154.4h0M596.6 144.5h0M582.1 158.4h0M621.9 159.6h0M615.7 138.3h0M430.7 139.0h0M474.1 159.1h0M597.0 155.4h0M436.1 140.6h0M543.3 153.7h0M518.8 158.3h0M575.9 160.8h0M594.1 156.7h0M570.9 156.3h0M495.7 163.2h0M540.2 146.1h0M558.1 144.7h0M515.7 144.1h0M529.2 157.0h0M469.9 156.6h0M441.2 143.5h0M437.0 158.1h0M564.4 154.9h0M597.2 150.7h0M508.3 150.3h0M576.2 151.4h0M429.6 161.8h0M516.3 157.8h0M605.0 143.9h0M451.0 155.3h0M460.8 150.6h0M505.5 145.9h0M562.4 163.7h0M456.4 148.0h0M473.0 151.3h0M557.2 162.9h0M495.1 143.7h0M590.8 146.9h0M432.1 162.6h0M559.8 148.0h0M581.2 160.1h0M520.3 138.6h0M459.8 152.6h0M621.8 157.3h0M506.3 152.0h0M471.7 139.4h0M577.4 160.2h0M487.7 139.7h0M549.1 149.0h0M446.1 153.2h0M515.4 161.2h0M449.3 154.8h0M480.1 152.3h0M425.4 157.0h0M447.9 148.9h0M606.8 142.4h0M503.8 140.2h0M606.5 157.7h0M508.2 141.0h0M464.5 156.6h0M506.0 160.3h0M485.5 154.7h0M604.9 149.2h0M444.4 162.4h0M442.7 147.6h0M516.1 160.5h0M449.4 156.4h0M428.6 153.4h0M557.3 147.5h0M565.0 163.6h0M532.3 143.2h0M473.2 142.0h0M473.5 143.0h0M557.8 154.2h0M591.9 140.7h0M517.4 147.0h0M455.6 147.8h0M445.1 147.6h0M550.7 144.5h0M506.3 153.1h0M452.0 163.2h0M463.7 162.8h0M495.7 157.3h0M555.6 148.5h0M445.1 149.1h0M602.3 154.4h0M546.8 157.7h0M455.9 156.7h0M483.8 160.0h0M461.1 152.8h0M484.0 160.7h0M532.6 158.5h0M581.9 146.0h0M538.8 157.4h0M585.7 150.4h0M483.6 152.8h0M606.2 149.4h0M601.9 146.2h0M534.0 156.0h0" stroke="#000" stroke-opacity="0.1" stroke-width="1.9" stroke-linecap="round" fill="none"/><path d="M542.7 143.5h0M500.5 145.5h0M500.4 150.7h0M561.0 163.4h0M530.8 151.0h0M555.4 156.5h0M567.7 163.5h0M584.4 138.7h0M445.1 161.4h0M503.7 150.8h0M501.7 140.4h0M552.7 143.4h0M437.0 151.6h0M509.0 161.7h0M553.7 150.5h0M503.1 155.1h0M555.6 145.0h0M571.0 163.6h0M457.0 159.9h0M552.0 146.5h0M526.9 149.9h0M476.4 157.4h0M446.4 145.5h0M549.1 147.8h0M464.2 159.0h0M574.5 154.2h0M424.3 148.4h0M430.0 148.1h0M576.1 150.0h0M491.1 160.5h0M502.8 159.8h0M425.6 151.2h0M453.6 150.6h0M591.1 159.8h0M594.8 139.8h0M564.3 157.5h0M465.5 142.0h0M525.4 163.1h0M535.5 142.5h0M601.9 147.6h0M541.7 144.1h0M480.6 153.2h0M574.0 139.4h0M443.3 151.2h0M460.0 161.2h0M609.2 144.2h0M616.3 153.0h0M459.6 156.5h0M517.3 158.2h0M601.5 152.5h0M576.3 148.1h0M588.0 155.7h0M471.6 144.1h0M575.7 159.1h0M596.0 141.5h0M489.0 153.9h0M541.9 161.9h0M614.0 162.5h0M493.6 157.7h0M481.1 155.3h0M566.0 144.7h0M581.1 157.6h0M592.3 163.5h0M432.7 151.2h0M502.9 142.1h0M518.5 150.0h0M584.2 148.0h0M587.9 145.8h0M607.0 140.8h0M557.2 150.6h0M517.1 161.5h0M488.7 152.1h0M562.8 157.9h0M486.7 142.7h0M499.4 159.1h0M553.9 149.1h0M588.6 142.7h0M510.2 155.7h0M534.8 144.6h0M440.6 141.8h0M514.1 162.2h0M426.4 147.1h0M531.3 159.5h0M541.4 152.7h0M560.5 159.3h0M495.7 160.8h0M566.7 146.0h0M497.1 153.2h0M452.3 141.0h0M442.7 152.5h0M578.0 141.1h0M577.1 141.6h0M432.3 159.4h0M469.3 152.9h0M489.2 162.9h0M620.0 159.7h0M431.6 155.3h0M486.1 142.8h0M622.4 146.9h0M543.6 142.4h0M470.3 148.7h0M617.4 140.0h0M618.8 148.3h0M600.2 149.6h0M502.8 152.0h0M437.7 159.2h0M583.8 161.9h0M493.1 163.1h0M505.1 138.6h0M471.6 142.8h0M439.9 141.4h0M606.7 156.0h0M542.9 157.7h0M552.5 152.6h0M550.3 148.4h0M589.1 155.3h0M428.4 159.7h0M522.5 143.5h0M437.0 155.9h0M464.3 148.9h0M567.8 161.5h0M525.9 153.0h0M504.4 147.4h0M575.3 161.4h0M450.4 145.5h0M620.7 152.1h0M492.2 155.3h0M569.5 141.3h0M615.2 152.6h0M516.0 143.0h0M501.5 142.4h0M425.5 163.7h0M523.4 149.1h0M528.3 139.9h0M580.6 139.8h0M511.3 145.4h0M504.1 151.1h0M441.7 155.3h0M470.0 138.2h0M604.0 145.8h0M615.2 163.7h0M536.4 149.0h0M465.4 151.7h0M477.9 152.6h0M517.3 154.5h0M539.0 147.7h0M502.5 156.2h0M437.4 140.3h0M471.9 155.2h0M436.7 162.1h0M499.9 147.6h0M566.7 141.4h0M542.3 159.5h0M611.3 153.6h0M468.3 145.5h0M443.7 157.2h0M493.9 145.7h0M471.7 141.4h0M581.9 149.5h0M514.7 155.8h0M429.6 140.9h0M457.9 154.7h0M454.3 140.4h0M490.3 154.8h0M535.6 144.0h0M432.7 150.3h0M618.4 163.2h0M486.5 152.5h0M481.7 151.4h0M531.9 155.7h0M547.7 162.4h0M469.9 156.4h0M618.8 139.2h0M458.4 162.7h0M437.9 139.5h0M612.0 145.1h0M464.2 157.7h0M554.0 156.5h0M456.4 146.7h0M617.2 150.0h0M442.0 158.9h0M571.3 151.0h0M453.3 157.7h0M609.3 141.7h0M555.0 152.9h0M547.9 159.3h0M612.2 146.4h0M447.0 155.5h0M582.9 146.9h0M429.9 152.0h0M532.8 140.8h0M441.0 150.9h0M559.5 161.7h0M543.2 145.5h0M428.6 154.5h0M500.9 153.0h0M466.9 145.5h0M507.6 161.7h0M497.4 146.9h0M563.5 160.5h0M442.7 152.1h0M429.4 139.9h0M531.0 157.0h0M514.2 154.1h0M428.5 160.7h0M432.9 155.0h0M471.8 146.3h0M502.3 145.1h0M465.2 150.8h0M501.6 163.1h0M445.8 150.4h0M489.7 149.1h0M540.4 147.4h0M484.2 150.4h0M435.6 155.3h0M460.7 138.2h0M529.0 159.6h0M623.1 143.6h0M481.1 149.2h0M621.5 154.9h0M517.1 161.4h0M483.1 157.2h0M470.5 152.9h0M560.1 153.7h0M534.9 160.4h0M605.8 144.0h0M576.3 138.3h0M452.1 153.5h0M547.2 154.3h0M510.7 148.9h0M450.7 159.3h0M513.2 149.0h0M467.0 158.6h0M547.0 143.7h0M439.0 153.0h0M453.7 152.8h0M474.4 142.6h0M621.4 149.2h0M600.1 144.7h0M485.3 147.9h0M473.7 141.5h0M487.4 146.3h0M557.1 147.2h0M591.9 139.1h0M593.7 146.5h0M577.1 139.4h0M571.1 159.0h0M613.9 156.8h0M454.2 150.7h0M616.0 142.5h0M601.7 138.6h0M495.2 161.9h0M599.0 144.9h0M441.2 147.5h0M585.5 163.7h0M532.2 159.4h0M598.3 138.3h0M456.5 138.6h0M466.5 146.2h0M572.5 149.2h0M520.7 162.9h0M514.0 146.8h0M441.7 146.9h0M605.7 149.8h0M460.2 162.1h0M511.8 150.2h0M548.5 153.4h0M499.7 151.0h0M510.6 152.1h0M458.9 157.3h0M460.2 154.4h0M622.7 150.8h0M475.6 147.0h0M522.1 148.7h0M535.9 141.8h0M619.6 163.2h0M511.0 144.0h0M451.8 140.5h0M517.1 144.4h0M556.5 151.4h0M616.0 149.2h0M552.8 144.1h0M501.8 149.3h0M598.8 147.5h0M590.5 140.9h0M424.7 162.1h0M570.2 138.8h0M573.2 149.8h0M510.2 153.6h0M542.9 154.4h0M610.4 159.3h0M505.5 146.1h0M616.2 155.6h0M537.2 140.0h0M548.4 141.9h0M523.8 141.4h0M540.3 152.5h0M444.0 154.8h0M436.9 150.1h0M562.5 141.2h0M438.2 138.2h0M596.1 155.2h0M591.1 148.3h0M565.9 145.1h0M555.2 154.2h0M522.5 157.2h0M556.4 158.4h0M448.0 150.1h0M462.8 147.2h0M592.7 160.3h0M487.2 152.8h0M620.0 143.8h0M556.4 146.4h0M551.4 151.8h0M522.1 148.2h0M448.4 148.1h0M580.4 150.6h0M588.4 143.7h0M520.9 139.1h0M540.8 150.6h0M462.6 156.0h0M450.1 149.7h0M510.2 150.3h0" stroke="#000" stroke-opacity="0.1" stroke-width="1.9" stroke-linecap="round" fill="none"/><path d="M468.1 173.6h0M513.0 130.6h0M488.4 132.3h0M507.5 171.4h0M640.6 161.4h0M536.1 112.7h0M486.3 168.8h0M553.1 166.0h0M513.5 170.1h0M445.7 128.3h0M434.0 134.1h0M624.4 162.1h0M426.0 137.6h0M528.2 136.1h0M455.5 167.6h0M585.7 123.0h0M533.7 130.3h0M641.5 159.4h0M486.0 133.8h0M489.5 172.8h0M461.3 126.6h0M620.7 187.3h0M625.9 163.8h0M643.6 148.5h0M441.5 119.3h0M646.5 163.1h0M558.7 137.1h0M531.2 164.2h0M474.1 170.8h0M521.3 216.3h0M481.8 167.9h0M526.4 130.9h0M641.9 213.5h0M628.3 138.8h0M558.2 166.1h0M578.1 121.1h0M474.4 106.9h0M593.4 133.2h0M523.1 171.3h0M524.5 133.0h0M502.1 135.6h0M503.0 132.7h0M423.1 155.1h0M431.4 125.2h0M558.4 251.6h0M642.7 180.6h0M630.1 164.0h0M633.2 167.0h0M466.9 177.3h0M564.3 135.0h0M646.2 213.8h0M545.2 137.7h0M538.5 129.0h0M546.2 166.1h0M500.4 171.1h0M493.5 126.8h0M517.7 175.5h0M436.2 124.4h0M641.3 156.9h0M554.5 203.6h0M451.9 168.1h0M455.7 119.9h0M635.5 156.2h0M615.3 134.0h0M474.5 134.6h0M511.5 135.6h0M640.6 163.4h0M639.3 145.6h0M516.4 136.6h0M550.5 137.8h0M635.3 146.4h0M609.6 188.7h0M606.6 222.6h0M510.0 223.2h0M507.4 168.4h0M522.1 169.5h0M452.8 118.3h0M427.1 137.3h0M639.2 169.5h0M642.3 144.6h0M571.8 131.4h0M491.5 172.7h0M547.2 134.8h0M420.5 161.3h0M554.1 170.6h0M475.5 166.0h0M645.3 152.9h0M431.6 103.5h0M528.1 133.3h0M444.3 132.9h0M419.0 167.6h0M635.4 150.2h0M451.4 164.1h0M615.2 181.7h0M599.9 121.9h0M429.2 117.0h0M558.9 180.7h0M447.3 173.2h0M470.9 127.9h0M454.3 121.2h0M543.7 133.8h0M524.8 164.3h0M646.3 144.9h0M617.1 170.1h0M565.4 164.4h0M430.5 136.0h0M498.3 192.5h0M488.7 170.2h0M463.8 164.0h0M454.3 129.8h0M626.0 160.1h0M635.3 154.9h0M465.5 169.1h0M643.4 149.7h0M546.7 136.7h0M554.1 170.9h0M624.4 160.8h0M504.2 171.0h0M436.5 133.7h0M462.8 114.3h0M546.5 168.9h0M641.3 158.2h0M634.3 153.6h0M629.6 146.6h0M576.4 218.8h0M433.9 113.3h0M624.7 144.7h0M546.6 164.4h0M596.5 163.9h0M600.9 165.7h0M580.1 165.6h0M581.4 182.6h0M515.0 168.9h0M480.9 126.4h0M578.2 163.9h0M624.0 165.8h0M439.5 168.0h0M482.0 175.5h0M617.8 187.3h0M489.4 132.1h0M550.2 177.0h0M644.6 150.1h0M517.8 132.7h0M538.4 137.3h0M551.9 135.9h0M520.7 166.9h0M572.6 203.9h0M590.3 164.7h0M425.9 118.8h0M643.7 149.7h0M520.5 174.5h0M616.1 167.5h0M548.8 110.9h0M441.6 168.3h0M470.3 172.9h0M615.8 188.9h0M445.9 133.1h0M640.3 164.7h0M441.4 164.7h0M643.4 147.6h0M491.1 120.4h0M633.6 144.5h0M621.5 172.7h0M623.6 167.7h0M626.5 140.2h0M507.3 185.5h0M443.9 169.5h0M521.2 164.9h0M634.7 148.6h0M454.7 126.2h0M558.8 175.0h0M494.9 109.7h0M620.5 176.1h0M516.6 126.5h0M640.1 157.0h0M561.4 166.1h0M628.1 158.7h0M584.6 195.1h0M602.6 239.6h0M547.3 130.2h0M633.0 131.9h0M592.2 133.5h0M621.9 169.0h0M632.1 148.1h0M420.7 153.8h0M619.9 177.4h0M607.7 177.9h0M457.8 127.1h0M542.1 170.4h0M574.6 137.0h0M632.4 173.8h0M643.5 152.2h0M506.1 126.7h0M628.8 160.3h0M600.4 134.6h0M462.4 123.7h0M635.7 167.4h0M525.6 127.8h0M433.8 124.0h0M520.8 133.6h0M646.9 146.7h0M638.3 179.6h0M646.1 148.2h0M525.2 137.3h0M526.5 169.9h0M534.7 118.6h0M579.2 137.2h0M632.9 152.0h0M527.1 136.7h0M571.5 131.8h0M648.1 215.3h0M626.3 170.1h0M619.8 133.8h0M425.3 131.7h0M521.6 166.0h0M597.0 173.2h0M603.6 136.7h0M489.1 190.5h0M586.3 167.6h0M426.2 182.2h0M534.4 126.7h0M420.3 157.2h0M475.9 135.1h0M595.9 168.4h0M618.5 167.7h0M561.8 137.6h0M433.4 137.0h0M566.2 164.3h0M593.8 182.4h0M635.5 152.6h0M476.0 165.0h0M457.3 184.4h0M551.1 134.7h0M520.5 171.5h0M514.5 136.3h0M641.2 167.1h0M643.3 212.8h0M640.8 147.8h0M459.9 134.6h0M577.9 135.7h0M454.1 134.4h0M489.2 169.4h0M595.5 131.7h0M643.3 160.1h0M455.1 137.5h0M511.6 128.5h0M437.8 129.8h0M489.2 125.7h0M452.5 137.5h0M630.1 172.9h0M489.2 127.9h0M420.3 165.0h0M557.0 133.4h0M618.6 191.0h0M647.4 233.3h0M613.6 166.9h0M560.9 168.1h0M563.0 121.6h0M531.7 137.5h0M643.0 152.2h0M624.7 145.1h0M631.1 146.7h0M419.9 159.5h0M485.6 120.0h0M554.8 171.1h0M502.1 183.2h0M555.1 208.0h0M424.4 129.7h0M504.5 198.6h0M419.4 158.9h0M614.0 169.9h0M576.3 176.7h0M592.8 237.1h0M600.1 173.0h0M573.4 170.2h0M644.8 146.2h0M532.9 132.5h0M434.7 132.0h0M455.7 125.8h0M638.0 153.3h0M629.8 150.0h0M593.4 169.3h0M437.4 167.6h0M627.9 149.0h0M598.6 204.9h0M582.5 133.7h0M496.7 131.3h0M504.9 134.5h0M531.2 128.8h0M577.2 138.0h0M420.7 159.9h0M631.6 158.4h0M430.6 185.5h0M637.5 149.7h0M644.9 149.7h0M609.8 133.3h0M471.6 137.3h0M503.8 181.1h0M543.0 135.1h0M608.0 174.8h0M607.2 169.0h0M427.4 130.5h0M509.5 196.5h0M593.0 172.4h0M420.2 165.6h0M579.0 176.3h0M482.0 167.8h0M637.0 178.9h0M637.9 147.4h0M630.6 159.5h0M591.2 119.3h0M453.4 116.4h0M518.9 170.8h0M586.8 179.3h0M463.5 174.5h0M431.9 125.9h0M481.3 164.5h0M637.3 138.2h0M561.4 194.2h0M561.7 135.4h0M641.8 157.6h0M588.2 178.0h0M543.9 182.0h0M428.8 125.7h0M562.5 165.8h0M513.3 117.9h0M522.4 117.7h0M478.0 133.8h0M459.2 171.9h0M520.2 194.9h0M524.2 175.9h0M644.9 160.7h0M529.5 166.5h0M647.5 204.5h0M420.0 158.0h0M419.4 143.4h0M632.5 148.0h0M547.2 137.0h0M519.7 126.8h0M584.4 169.8h0M425.9 136.8h0M482.5 129.3h0M451.3 135.5h0M431.5 116.9h0M645.7 149.9h0M537.2 220.5h0M640.2 154.5h0M418.9 157.2h0M490.7 96.5h0M586.1 137.0h0M628.7 158.3h0M626.2 158.5h0M564.5 166.1h0M607.5 172.0h0M421.9 152.8h0M634.5 159.1h0M611.4 208.8h0M639.7 150.5h0M451.6 128.1h0M466.5 165.2h0M444.5 167.5h0M426.6 134.6h0M495.4 247.1h0M638.0 162.7h0M577.1 174.5h0M564.1 113.3h0M452.2 120.7h0M494.7 167.5h0M550.2 186.9h0M525.4 164.9h0M473.8 137.6h0M625.3 189.4h0M423.7 132.1h0M447.2 174.1h0M625.6 160.6h0M478.0 127.2h0M451.6 135.5h0M637.6 147.7h0M534.6 128.0h0M628.4 141.9h0M642.1 156.5h0M509.0 124.9h0M641.6 146.7h0M522.8 245.6h0M454.9 172.8h0M555.0 134.9h0M581.3 171.6h0M489.7 129.3h0M631.4 147.5h0M477.2 173.9h0M639.9 154.3h0M589.3 180.9h0M639.0 169.6h0M434.6 134.5h0M418.8 162.8h0M631.4 157.4h0M490.9 182.9h0M463.3 176.0h0M625.2 143.9h0M517.0 175.2h0M499.0 110.2h0M537.4 165.0h0M635.5 199.3h0M634.5 247.8h0M644.4 143.7h0M574.8 128.0h0M590.8 179.7h0M543.5 137.2h0M628.3 147.0h0M642.5 157.4h0M618.1 195.2h0M573.9 170.5h0M539.6 184.1h0M604.4 173.9h0M591.4 164.3h0M643.8 147.4h0M460.4 123.4h0M477.9 129.9h0M569.9 175.3h0M480.2 135.6h0M464.4 169.0h0M638.4 185.8h0M619.4 170.0h0M425.8 123.3h0M535.4 206.3h0M420.3 141.5h0M422.6 153.4h0M536.6 199.1h0M515.0 172.3h0M531.5 133.0h0" stroke="#000" stroke-opacity="0.27" stroke-width="2.5" stroke-linecap="round" fill="none"/><path d="M462.0 124.1h0M513.1 166.5h0M612.0 221.9h0M468.3 136.1h0M476.7 168.1h0M476.9 133.0h0M634.2 145.9h0M641.7 145.4h0M602.7 137.9h0M577.1 165.6h0M519.9 186.6h0M516.0 177.5h0M554.7 167.9h0M508.3 137.1h0M570.4 100.5h0M530.4 136.4h0M629.5 149.6h0M461.0 124.1h0M449.9 132.8h0M456.8 123.5h0M515.5 110.1h0M451.6 129.9h0M583.8 127.7h0M490.3 164.0h0M648.0 199.5h0M556.1 131.9h0M482.8 137.2h0M530.9 164.2h0M564.3 168.0h0M538.9 164.3h0M645.2 144.4h0M632.3 147.9h0M613.6 164.0h0M599.4 174.2h0M421.0 168.4h0M478.5 169.8h0M495.6 132.9h0M455.2 136.9h0M606.1 168.1h0M644.4 209.7h0M558.7 174.6h0M646.7 152.9h0M523.1 167.9h0M637.8 150.7h0M501.5 167.1h0M631.1 151.3h0M646.9 151.8h0M645.1 149.5h0M461.7 129.3h0M442.7 137.6h0M596.7 182.1h0M568.5 137.9h0M543.3 125.9h0M484.6 169.3h0M546.6 177.3h0M627.5 145.2h0M527.0 166.0h0M630.1 147.1h0M459.5 115.1h0M460.8 107.6h0M556.2 188.5h0M575.6 178.2h0M419.1 138.2h0M498.0 166.2h0M432.1 137.4h0M539.3 120.3h0M425.5 122.9h0M513.3 178.9h0M491.1 135.0h0M522.6 133.1h0M626.6 162.8h0M562.2 127.6h0M626.6 138.6h0M442.1 134.9h0M640.7 146.9h0M556.0 183.5h0M638.8 154.9h0M547.1 197.3h0M494.0 125.9h0M601.2 165.7h0M548.7 175.3h0M535.3 180.4h0M554.7 168.9h0M589.1 137.2h0M632.0 215.4h0M425.4 178.1h0M597.3 192.8h0M500.6 168.6h0M544.0 169.2h0M581.9 135.4h0M566.8 179.8h0M619.8 240.0h0M562.8 101.6h0M461.6 166.8h0M638.2 146.9h0M613.3 171.4h0M420.8 144.2h0M632.5 163.5h0M640.0 146.0h0M630.8 148.3h0M597.1 177.3h0M617.1 164.0h0M492.1 137.1h0M514.5 165.3h0M518.6 167.6h0M638.4 243.7h0M553.2 134.9h0M505.8 134.6h0M583.4 175.8h0M633.5 147.5h0M552.0 165.3h0M605.5 188.2h0M538.6 101.5h0M566.8 182.9h0M505.3 183.6h0M487.0 172.9h0M584.3 131.6h0M541.9 135.1h0M447.9 169.2h0M523.5 130.4h0M571.9 167.0h0M554.0 197.3h0M573.6 179.1h0M528.0 176.7h0M556.2 131.9h0M562.3 138.0h0M638.9 154.0h0M586.5 135.7h0M553.9 129.2h0M645.6 160.8h0M572.6 137.7h0M593.0 169.9h0M504.9 133.9h0M563.2 135.1h0M457.5 165.6h0M560.9 122.3h0M422.7 158.9h0M644.1 159.9h0M549.4 175.6h0M632.1 152.4h0M491.6 115.9h0M636.0 155.6h0M478.0 134.6h0M505.9 128.2h0M422.8 140.9h0M506.8 165.8h0M495.7 169.5h0M644.2 168.8h0M640.2 145.5h0M424.3 121.6h0M426.5 133.0h0M545.1 164.7h0M457.8 165.8h0M579.6 168.8h0M552.4 182.7h0M512.0 182.7h0M578.6 134.5h0M504.6 186.4h0M567.8 176.3h0M436.1 115.1h0M468.0 133.0h0M470.5 113.8h0M601.1 166.1h0M471.6 163.8h0M641.6 149.0h0M533.2 166.7h0M468.7 137.7h0M508.1 165.0h0M469.3 197.9h0M575.1 131.5h0M568.4 173.7h0M568.1 169.0h0M637.4 142.8h0M521.6 171.1h0M457.3 180.3h0M532.0 135.5h0M439.4 165.1h0M500.6 165.5h0M498.5 135.9h0M636.9 151.4h0M628.7 147.7h0M583.5 267.9h0M495.5 132.0h0M508.3 121.6h0M588.5 135.5h0M464.9 126.0h0M536.8 128.9h0M509.8 206.8h0M614.1 173.0h0M628.0 171.4h0M459.2 132.3h0M624.2 169.1h0M594.4 166.9h0M503.8 166.6h0M626.6 152.7h0M632.4 148.6h0M537.4 168.7h0M627.9 196.5h0M630.2 170.4h0M486.0 123.2h0M637.1 159.2h0M450.4 165.5h0M471.9 118.9h0M641.4 148.5h0M551.3 178.8h0M637.5 149.3h0M560.1 180.7h0M477.1 132.6h0M509.2 163.8h0M596.4 165.3h0M523.4 176.6h0M633.7 163.7h0M557.9 164.9h0M468.5 134.0h0M424.9 113.8h0M522.1 129.3h0M596.3 174.8h0M631.8 159.2h0M501.5 186.5h0M483.8 170.4h0M522.9 134.6h0M506.8 133.3h0M614.0 166.1h0M635.1 160.8h0M477.9 134.4h0M446.4 128.0h0M614.4 177.9h0M539.3 177.9h0M624.9 147.1h0M624.4 157.6h0M578.7 188.4h0M479.1 129.9h0M547.2 169.7h0M444.4 174.0h0M579.4 175.8h0M441.6 133.4h0M535.1 190.4h0M510.6 125.3h0M476.0 165.8h0M510.6 172.8h0M429.4 134.6h0M525.6 177.1h0M460.1 176.2h0M465.0 134.9h0M566.6 127.0h0M639.6 165.2h0M430.3 128.8h0M628.5 145.2h0M450.2 174.6h0M530.1 169.5h0M435.7 94.1h0M634.6 145.3h0M438.0 99.0h0M556.7 126.8h0M497.6 136.1h0M431.4 166.5h0M646.7 144.9h0M581.0 178.6h0M438.2 136.3h0M555.4 174.2h0M525.7 169.0h0M522.9 127.9h0M570.7 137.0h0M552.7 165.9h0M527.4 131.4h0M498.5 126.6h0M646.1 150.4h0M524.2 166.6h0M583.8 126.3h0M585.5 181.9h0M626.3 144.7h0M439.9 169.0h0M630.8 151.5h0M536.0 164.3h0M590.7 131.9h0M524.0 166.8h0M551.7 165.7h0M459.5 130.9h0M507.5 182.0h0M582.0 113.7h0M556.4 178.5h0M590.1 136.4h0M633.9 155.9h0M460.6 133.1h0M525.4 137.6h0M588.9 136.4h0M494.5 178.6h0M577.6 175.8h0M480.9 222.6h0M484.5 136.5h0M636.4 148.5h0M554.8 112.0h0M467.2 135.4h0M503.2 168.7h0M489.7 121.1h0M536.8 173.2h0M527.3 172.2h0M515.1 134.1h0M603.8 191.2h0M563.0 135.2h0M482.9 92.2h0M473.3 133.7h0M531.7 185.9h0M497.7 178.1h0M642.4 170.0h0M510.9 137.3h0M624.1 156.5h0M646.9 268.6h0M552.3 166.1h0M604.7 175.2h0M625.3 164.5h0M526.9 133.2h0M646.4 170.2h0M558.1 133.7h0M492.1 124.6h0M477.9 135.8h0M590.0 180.1h0M432.3 135.2h0M422.9 148.1h0M449.8 167.7h0M506.0 127.5h0M557.4 170.0h0M543.9 173.8h0M592.7 169.4h0M558.8 126.2h0M562.5 172.4h0M625.2 144.3h0M475.6 119.0h0M584.1 132.6h0M638.8 164.0h0M438.4 131.2h0M483.5 80.4h0M516.3 167.8h0M498.0 199.5h0M595.5 174.6h0M611.1 168.1h0M640.9 152.8h0M441.7 177.2h0M635.9 149.9h0M506.4 132.3h0M586.2 124.2h0M600.3 229.0h0M594.2 136.8h0M619.9 217.1h0M638.6 155.7h0M501.7 121.1h0M539.6 186.8h0M526.2 174.3h0M547.0 168.1h0M642.3 158.1h0M644.6 163.0h0M642.9 148.2h0M641.6 170.4h0M458.6 170.5h0M546.5 137.5h0M502.7 175.4h0M527.1 179.2h0M461.9 174.0h0M638.1 152.9h0M500.0 170.8h0M626.8 147.9h0M608.5 129.6h0M477.0 175.2h0M429.9 120.7h0M554.7 183.7h0M627.4 141.5h0M442.1 118.9h0M424.1 94.7h0M514.1 135.5h0M628.8 143.1h0M483.3 129.8h0M553.5 186.9h0M501.3 171.0h0M441.9 125.8h0M439.4 164.6h0M560.4 193.5h0M511.8 127.0h0M478.8 137.5h0M629.3 169.7h0M526.2 172.1h0M629.5 148.4h0M628.0 150.0h0M582.4 129.5h0M625.1 149.8h0M577.9 183.3h0M635.1 161.3h0M531.4 179.2h0M594.3 170.7h0M597.9 217.2h0M419.7 138.2h0M531.1 168.3h0M573.6 178.8h0M524.1 133.4h0M506.9 164.9h0M601.6 168.5h0M540.0 204.7h0M559.6 180.7h0M547.4 180.2h0M519.2 194.2h0M628.9 155.5h0M500.9 118.6h0M432.1 165.3h0M537.8 134.6h0M606.7 167.1h0M626.9 149.0h0M470.5 133.5h0M485.1 169.0h0M628.5 145.0h0M424.1 114.9h0M642.6 154.1h0M644.4 172.5h0M426.9 125.5h0M538.0 164.4h0M541.0 174.0h0M523.5 136.9h0M596.5 172.8h0M624.3 165.1h0M454.2 172.3h0M514.1 169.9h0M637.1 141.7h0M558.6 131.1h0M493.4 132.9h0M503.8 119.0h0M428.3 121.8h0M465.9 168.8h0M594.6 176.8h0M439.6 125.1h0M521.5 185.2h0M646.5 153.5h0M597.1 165.9h0" stroke="#000" stroke-opacity="0.27" stroke-width="2.5" stroke-linecap="round" fill="none"/><path d="M513.6 176.7h0M630.3 152.0h0M558.9 184.1h0M634.3 148.4h0M632.5 161.3h0M448.8 194.0h0M644.3 153.4h0M475.2 166.6h0M541.5 114.9h0M490.4 128.8h0M418.7 139.5h0M504.4 131.3h0M428.4 133.0h0M514.1 130.6h0M634.2 146.6h0M623.8 146.2h0M438.9 117.2h0M453.1 167.7h0M556.1 113.6h0M495.2 109.5h0M631.6 174.6h0M469.3 131.6h0M624.3 175.6h0M633.1 135.2h0M490.1 175.4h0M522.6 130.3h0M421.7 158.5h0M445.0 134.0h0M453.0 119.7h0M468.0 130.7h0M594.6 210.5h0M646.8 144.8h0M553.4 130.4h0M547.7 137.6h0M471.6 175.4h0M621.6 171.6h0M604.1 177.4h0M496.3 168.1h0M419.1 144.1h0M452.9 134.5h0M639.7 149.8h0M594.4 184.0h0M631.1 142.0h0M454.7 170.6h0M469.3 124.8h0M523.2 136.9h0M633.3 176.1h0M424.5 113.2h0M469.0 124.7h0M450.9 166.9h0M563.7 135.1h0M515.3 130.6h0M554.4 165.3h0M627.7 166.1h0M495.3 165.9h0M595.8 135.4h0M428.9 125.9h0M422.6 164.4h0M512.5 183.8h0M480.4 127.4h0M613.9 181.6h0M613.1 190.3h0M492.0 109.2h0M467.4 170.5h0M419.0 151.4h0M434.2 124.5h0M524.4 191.9h0M438.6 168.4h0M425.5 116.3h0M446.9 165.6h0M618.4 178.2h0M504.8 168.6h0M451.3 123.3h0M632.2 176.3h0M604.6 134.3h0M528.7 211.7h0M462.3 98.6h0M568.8 133.6h0M639.7 143.4h0M547.0 176.2h0M619.6 175.9h0M535.4 132.4h0M446.0 106.9h0M638.3 143.5h0M549.2 183.8h0M633.7 148.1h0M512.3 130.9h0M545.5 165.7h0M574.6 129.1h0M582.5 165.2h0M624.1 170.8h0M527.3 99.3h0M632.6 157.4h0M580.0 165.6h0M524.2 170.0h0M459.1 135.3h0M615.7 180.4h0M456.0 134.5h0M636.7 149.9h0M629.9 160.7h0M562.5 135.8h0M624.7 144.5h0M640.7 142.2h0M485.1 163.9h0M465.7 172.7h0M588.0 127.8h0M488.0 173.8h0M577.2 180.9h0M449.1 125.4h0M557.9 167.0h0M528.2 195.0h0M449.0 126.8h0M611.8 136.2h0M566.8 130.0h0M553.8 130.9h0M503.6 102.3h0M449.9 135.4h0M484.7 184.8h0M583.2 164.7h0M437.2 171.0h0M494.5 167.1h0M535.0 166.3h0M607.5 164.8h0M430.5 133.2h0M471.5 125.8h0M635.9 147.9h0M421.9 160.8h0M493.9 169.5h0M630.8 154.6h0M453.2 126.6h0M499.9 134.1h0M535.1 129.9h0M607.7 175.1h0M512.3 130.6h0M557.1 131.2h0M596.4 133.6h0M605.8 132.5h0M491.8 130.5h0M630.4 136.7h0M516.1 165.7h0M531.0 135.3h0M432.9 121.1h0M542.2 172.4h0M635.0 159.1h0M535.9 177.4h0M461.9 132.9h0M559.6 136.3h0M616.2 165.5h0M623.6 160.8h0M633.9 149.3h0M420.6 156.5h0M484.0 164.1h0M628.5 146.7h0M576.6 177.7h0M535.6 130.5h0M500.4 136.0h0M419.5 153.5h0M605.9 168.2h0M524.0 132.9h0M544.1 116.3h0M627.9 146.8h0M427.7 181.9h0M564.4 164.3h0M483.3 167.4h0M423.4 153.4h0M639.1 151.7h0M471.6 167.4h0M438.3 170.5h0M546.2 135.7h0M529.8 134.8h0M499.8 115.0h0M488.5 172.8h0M510.7 113.6h0M466.2 164.7h0M625.1 138.4h0M633.9 149.5h0M547.2 179.7h0M495.5 116.4h0M631.0 164.9h0M473.3 198.7h0M445.5 119.0h0M630.8 142.9h0M646.4 149.3h0M507.7 173.8h0M529.4 134.5h0M479.9 132.3h0M515.5 171.1h0M470.5 163.8h0M435.9 115.8h0M425.7 165.9h0M551.3 181.9h0M645.5 176.2h0M538.3 185.1h0M557.5 164.4h0M484.3 128.3h0M640.2 155.2h0M444.4 163.8h0M456.8 174.7h0M510.8 126.0h0M642.7 180.1h0M607.5 170.6h0M546.0 169.3h0M457.2 125.8h0M591.6 180.7h0M644.4 149.4h0M499.8 137.0h0M419.5 149.8h0M483.9 182.9h0M505.6 165.7h0M549.1 174.0h0M534.8 116.4h0M491.0 118.7h0M553.3 163.8h0M493.8 124.7h0M513.6 176.2h0M630.9 146.3h0M598.2 195.7h0M484.7 108.5h0M584.2 171.1h0M612.5 262.0h0M643.9 154.8h0M641.6 164.1h0M580.2 173.0h0M451.4 117.7h0M465.8 133.8h0M629.8 182.5h0M474.6 168.2h0M488.4 116.6h0M431.6 98.8h0M647.8 196.5h0M500.6 134.9h0M642.5 151.5h0M475.1 173.3h0M462.1 127.2h0M439.0 130.6h0M599.5 171.8h0M640.7 229.6h0M556.6 130.1h0M550.3 135.2h0M500.2 164.3h0M637.0 147.9h0M639.2 152.4h0M574.3 110.6h0M558.6 175.6h0M547.6 169.0h0M467.5 125.3h0M484.5 136.2h0M463.4 179.1h0M579.2 137.1h0M491.2 172.8h0M422.0 155.7h0M593.2 199.3h0M565.2 165.6h0M442.0 166.4h0M565.1 138.0h0M497.2 182.9h0M585.9 129.3h0M508.2 133.1h0M594.8 180.9h0M582.3 221.0h0M529.4 166.2h0M500.2 126.2h0M540.8 175.8h0M419.7 140.5h0M497.6 171.2h0M634.5 144.3h0M418.8 153.6h0M646.4 158.4h0M490.5 130.3h0M481.5 178.0h0M512.1 170.5h0M534.9 175.8h0M453.4 181.2h0M633.3 143.2h0M522.9 137.1h0M634.7 144.9h0M419.1 157.0h0M440.3 132.5h0M611.5 137.5h0M442.3 167.5h0M594.4 174.0h0M625.5 149.3h0M456.3 174.2h0M645.5 151.4h0M475.0 131.4h0M523.0 106.8h0M643.4 167.7h0M468.3 164.5h0M629.2 150.8h0M446.0 165.8h0M528.7 168.4h0M496.7 175.0h0M572.3 119.4h0M449.7 120.1h0M635.5 159.2h0M633.7 152.8h0M479.1 131.5h0M636.7 247.4h0M552.0 115.2h0M561.8 177.1h0M577.3 128.5h0M481.4 173.8h0M631.2 149.1h0M514.4 137.6h0M477.3 109.6h0M582.7 122.7h0M638.3 173.0h0M636.8 157.4h0M511.1 99.1h0M635.9 148.5h0M625.0 157.6h0M636.1 156.2h0M624.1 153.7h0M523.8 169.3h0M589.8 125.5h0M423.4 163.4h0M624.1 138.3h0M635.3 153.0h0M460.5 169.2h0M519.6 170.5h0M572.9 172.1h0M554.0 137.4h0M629.1 147.3h0M517.7 133.1h0M513.1 124.9h0M507.0 166.9h0M453.5 106.4h0M531.7 166.0h0M531.9 133.7h0M472.9 106.8h0M640.3 158.5h0M477.3 123.5h0M420.4 160.5h0M436.0 136.0h0M588.4 170.1h0M593.3 167.7h0M633.1 154.7h0M437.3 164.4h0M535.1 136.2h0M524.6 123.8h0M515.9 166.7h0M639.4 149.0h0M603.0 134.6h0M568.2 173.5h0M462.9 131.1h0M539.8 179.0h0M634.9 221.0h0M624.3 177.4h0M624.4 155.2h0M629.0 142.2h0M568.2 130.5h0M448.0 135.3h0M442.7 129.3h0M634.7 151.6h0M500.9 130.9h0M638.1 148.7h0M453.1 112.7h0M434.0 123.0h0M583.0 178.1h0M510.7 133.6h0M560.6 133.3h0M624.0 191.7h0M599.0 213.9h0M534.3 134.9h0M502.1 126.6h0M618.7 173.5h0M459.9 76.5h0M514.5 175.5h0M613.7 175.9h0M632.6 187.0h0M519.7 192.9h0M560.1 115.2h0M621.1 187.1h0M577.5 216.1h0M421.1 162.2h0M589.8 198.0h0M510.3 168.1h0M494.1 117.2h0M541.9 163.8h0M485.7 126.4h0M612.5 189.2h0M480.0 132.9h0M554.3 178.1h0M635.1 242.7h0M436.0 104.9h0M537.9 123.0h0M640.6 148.3h0M629.8 154.1h0M641.0 168.5h0M571.4 186.4h0M552.3 122.4h0M467.7 134.3h0M607.5 167.4h0M640.7 167.3h0M621.9 167.8h0M422.4 149.4h0M630.7 155.8h0M570.1 165.8h0M588.1 171.5h0M580.8 166.2h0M451.7 130.1h0M635.1 147.6h0M542.4 116.5h0M578.7 191.4h0M493.2 165.4h0M616.9 168.8h0M490.3 165.4h0M456.7 174.0h0M636.7 158.2h0M630.8 160.0h0M421.7 139.3h0M555.4 168.3h0M458.7 126.8h0M447.6 134.8h0M540.1 204.0h0M504.9 132.3h0M501.7 122.6h0M467.0 123.3h0M605.5 211.0h0M559.0 165.7h0M555.4 179.2h0M437.4 97.9h0M519.3 164.5h0M419.5 158.7h0M497.4 170.9h0M640.8 137.7h0M521.9 165.5h0M612.1 165.1h0M568.3 191.0h0" stroke="#000" stroke-opacity="0.27" stroke-width="2.5" stroke-linecap="round" fill="none"/><path d="M451.7 182.5h0M632.8 175.0h0M421.7 138.4h0M588.4 168.5h0M454.0 185.6h0M504.7 194.3h0M532.6 167.9h0M644.3 144.4h0M629.6 159.1h0M433.7 123.4h0M622.6 177.2h0M523.8 168.3h0M520.5 129.5h0M585.0 190.1h0M574.1 176.5h0M627.9 148.7h0M578.2 165.9h0M420.1 143.8h0M644.1 181.6h0M498.6 132.8h0M444.6 137.1h0M566.1 179.8h0M478.2 167.4h0M579.7 101.2h0M590.7 165.0h0M480.6 127.9h0M502.8 134.2h0M587.4 169.6h0M640.6 142.8h0M639.3 162.0h0M566.6 182.0h0M615.4 182.3h0M462.3 118.6h0M629.0 141.5h0M428.1 135.8h0M540.7 183.0h0M561.0 109.1h0M435.3 136.8h0M535.5 164.6h0M521.7 164.2h0M484.2 168.8h0M594.1 166.5h0M466.6 110.8h0M508.2 167.7h0M465.8 109.9h0M631.8 165.8h0M437.3 111.6h0M599.2 171.2h0M546.7 164.3h0M556.1 201.4h0M426.8 166.1h0M422.2 146.5h0M629.1 143.0h0M422.5 144.9h0M508.7 124.7h0M630.1 148.8h0M497.1 175.2h0M610.4 179.4h0M559.1 191.8h0M631.7 143.1h0M645.0 151.9h0M423.3 157.3h0M492.1 237.2h0M487.2 175.1h0M609.3 175.9h0M421.5 162.7h0M531.4 118.1h0M644.7 164.3h0M586.1 182.2h0M434.9 164.2h0M454.1 169.7h0M440.4 130.9h0M476.1 133.4h0M580.8 183.8h0M589.5 133.5h0M584.4 133.7h0M439.7 127.4h0M430.4 135.6h0M423.5 149.0h0M559.3 182.3h0M512.0 182.9h0M625.2 149.8h0M632.0 148.1h0M463.3 123.7h0M502.1 128.3h0M647.9 200.8h0M552.9 135.5h0M574.7 133.9h0M501.0 130.5h0M542.1 189.3h0M442.3 133.6h0M565.4 202.2h0M544.3 175.8h0M421.8 155.5h0M647.9 224.6h0M518.7 164.1h0M504.5 167.2h0M579.4 131.0h0M613.9 175.9h0M482.4 129.7h0M549.4 166.6h0M533.9 173.2h0M606.2 169.6h0M526.5 179.8h0M644.3 145.2h0M482.9 135.3h0M626.9 164.9h0M494.7 163.9h0M631.2 147.2h0M576.0 199.0h0M477.4 109.7h0M432.7 114.5h0M546.1 127.8h0M641.2 148.7h0M637.6 162.9h0M471.9 126.6h0M481.5 136.5h0M626.5 156.0h0M525.6 164.7h0M457.3 166.7h0M630.7 164.7h0M625.9 144.5h0M630.1 145.8h0M495.7 183.6h0M644.7 152.5h0M637.7 191.0h0M635.7 144.1h0M617.7 195.2h0M627.6 173.9h0M607.8 135.7h0M478.4 136.2h0M623.5 137.4h0M537.3 194.4h0M588.3 132.3h0M575.0 172.0h0M526.0 175.5h0M522.7 131.9h0M522.6 200.8h0M479.8 174.0h0M418.9 150.3h0M481.8 171.0h0M543.7 130.2h0M643.1 159.1h0M543.9 165.6h0M578.6 186.8h0M585.4 179.2h0M501.0 137.7h0M531.3 167.6h0M619.5 165.1h0M635.5 142.9h0M523.5 163.8h0M589.9 164.2h0M512.5 130.7h0M556.3 133.3h0M639.5 152.9h0M631.3 157.4h0M640.7 146.6h0M424.2 170.0h0M637.9 143.7h0M539.8 133.7h0M640.6 156.9h0M592.2 173.3h0M537.6 190.4h0M635.7 147.8h0M591.1 134.7h0M626.9 143.6h0M634.6 147.7h0M636.4 164.2h0M629.8 173.1h0M616.7 222.4h0M419.2 155.2h0M591.7 117.4h0M420.4 153.4h0M477.0 126.8h0M624.7 145.3h0M473.7 129.6h0M520.2 132.7h0M625.3 145.0h0M425.1 170.7h0M577.5 164.3h0M625.3 145.7h0M563.4 168.3h0M628.5 147.3h0M573.0 165.1h0M521.9 95.8h0M644.7 158.9h0M579.6 171.9h0M574.1 174.3h0M631.4 146.8h0M565.8 212.3h0M589.3 186.6h0M551.5 137.7h0M529.9 128.1h0M481.5 136.2h0M643.5 149.5h0M620.2 183.8h0M498.3 123.4h0M525.4 106.3h0M539.5 165.9h0M630.1 141.3h0M643.0 143.7h0M436.8 181.0h0M580.9 209.1h0M553.2 137.6h0M539.7 199.9h0M623.5 166.2h0M614.0 201.4h0M605.0 187.1h0M627.7 139.9h0M634.9 143.7h0M644.6 228.1h0M572.8 130.8h0M513.1 172.9h0M477.5 137.9h0M630.0 143.6h0M504.7 173.0h0M576.9 164.2h0M446.7 179.9h0M626.3 156.3h0M509.6 171.7h0M447.6 164.1h0M579.7 169.4h0M646.2 144.3h0M441.6 131.4h0M537.2 229.2h0M452.8 169.9h0M565.1 185.6h0M599.6 256.2h0M469.1 137.8h0M623.4 149.6h0M437.6 125.1h0M453.2 166.6h0M529.3 137.3h0M511.1 128.9h0M628.9 213.1h0M632.6 150.7h0M437.2 135.6h0M625.2 162.2h0M632.4 150.0h0M432.2 125.2h0M435.6 114.9h0M574.0 137.8h0M502.8 129.3h0M631.9 145.7h0M422.1 150.2h0M484.5 172.6h0M635.8 151.8h0M623.8 146.1h0M493.1 134.4h0M470.3 177.0h0M513.2 168.7h0M630.7 154.1h0M627.9 146.3h0M558.6 167.8h0M592.0 170.7h0M608.6 250.5h0M631.0 149.6h0M643.4 154.9h0M515.0 128.0h0M635.4 156.1h0M494.4 231.6h0M425.4 128.8h0M636.4 185.0h0M587.6 171.5h0M487.1 131.2h0M627.3 146.7h0M570.0 132.8h0M589.0 196.6h0M499.3 135.4h0M480.3 124.2h0M453.0 171.1h0M635.5 188.3h0M535.9 136.8h0M627.3 169.0h0M535.0 110.0h0M466.2 164.1h0M468.2 128.3h0M510.3 174.4h0M644.2 148.4h0M433.1 134.5h0M505.9 208.1h0M600.1 174.7h0M484.4 135.2h0M647.8 197.5h0M599.1 180.8h0M549.9 183.7h0M473.3 135.2h0M513.3 171.3h0M422.6 152.5h0M627.3 136.0h0M527.8 164.3h0M633.4 150.4h0M439.2 104.4h0M441.8 165.8h0M530.7 116.9h0M479.9 128.1h0M513.7 180.8h0M629.1 137.2h0M490.8 178.8h0M503.4 136.2h0M469.9 175.6h0M467.3 132.9h0M581.2 126.8h0M429.3 135.0h0M438.5 128.1h0M629.1 147.3h0M618.7 191.0h0M570.4 136.3h0M570.6 168.7h0M476.7 137.4h0M626.8 182.6h0M561.2 178.6h0M549.5 168.7h0M594.5 137.8h0M492.4 168.1h0M645.9 156.8h0M626.8 174.5h0M589.6 171.0h0M607.8 127.3h0M422.4 148.1h0M644.5 148.9h0M458.1 128.4h0M524.2 189.3h0M617.8 133.3h0M597.0 169.9h0M479.3 128.1h0M587.2 177.9h0M629.8 149.8h0M452.0 168.6h0M472.3 165.6h0M534.7 177.7h0M635.1 190.1h0M493.0 168.5h0M587.0 137.9h0M476.1 133.8h0M581.3 166.8h0M460.8 114.9h0M635.5 152.6h0M447.4 170.5h0M645.3 147.1h0M618.5 180.7h0M517.5 178.2h0M530.9 164.8h0M531.5 177.0h0M494.5 238.8h0M636.3 157.0h0M604.9 164.9h0M646.4 264.1h0M508.9 173.0h0M513.2 192.7h0M506.7 129.2h0M542.2 163.8h0M478.5 120.9h0M599.0 133.3h0M629.8 148.1h0M606.0 183.7h0M505.9 131.7h0M487.8 163.9h0M560.6 174.0h0M538.7 182.2h0M606.8 182.4h0M425.2 121.6h0M592.6 131.9h0M482.6 166.3h0M453.6 127.5h0M635.5 152.7h0M468.0 112.1h0M421.0 154.5h0M529.7 174.3h0M432.2 117.1h0M630.7 146.4h0M496.5 118.1h0M633.8 169.9h0M644.2 156.6h0M573.3 169.6h0M502.5 211.6h0M421.3 155.4h0M459.7 135.7h0M503.7 132.2h0M591.6 169.9h0M425.1 125.2h0M642.6 148.4h0M632.2 151.3h0M646.3 151.4h0M629.7 148.0h0M518.7 134.2h0M627.1 149.3h0M646.5 164.2h0M625.4 182.7h0M528.1 167.8h0M558.4 174.5h0M597.5 172.7h0M594.4 177.8h0M562.4 202.3h0M514.9 134.9h0M637.3 149.7h0M467.2 127.6h0M610.9 236.7h0M510.3 173.4h0M593.0 137.0h0M471.7 164.0h0M492.7 135.2h0M623.2 205.1h0M458.0 137.9h0M546.6 167.2h0M449.6 124.8h0M510.7 118.0h0M473.0 127.4h0M502.6 125.9h0M422.8 145.4h0M536.9 166.5h0M604.1 186.8h0M592.2 126.0h0M506.4 134.0h0M501.9 165.6h0M490.5 116.3h0M519.9 195.6h0M608.7 178.7h0M492.1 130.1h0M452.9 180.8h0M607.3 164.1h0M559.3 164.1h0M614.8 182.0h0M627.3 146.4h0M488.0 121.6h0M532.9 168.5h0M565.5 181.4h0M493.6 133.7h0M638.8 176.9h0" stroke="#000" stroke-opacity="0.27" stroke-width="2.5" stroke-linecap="round" fill="none"/><path d="M643.2 148.7h0M550.2 179.1h0M626.7 151.4h0M633.2 149.5h0M538.7 177.7h0M428.7 131.5h0M635.3 149.6h0M553.3 165.4h0M640.4 146.0h0M584.1 202.0h0M531.2 137.8h0M481.5 164.1h0M600.5 166.4h0M613.0 125.9h0M531.6 134.2h0M430.1 113.9h0M593.2 132.7h0M501.5 123.0h0M428.2 115.0h0M532.5 131.7h0M483.2 172.1h0M531.9 118.5h0M419.5 150.7h0M466.2 126.2h0M455.3 175.3h0M471.8 172.8h0M573.8 167.4h0M577.6 167.4h0M562.4 173.0h0M594.5 165.9h0M543.7 121.1h0M543.8 124.9h0M571.1 133.5h0M552.0 168.0h0M421.1 160.8h0M502.1 138.0h0M516.4 177.1h0M626.9 146.8h0M475.2 126.4h0M424.9 166.2h0M582.0 123.0h0M611.4 180.4h0M482.0 77.6h0M525.8 168.6h0M631.0 147.2h0M484.9 137.0h0M587.4 166.8h0M550.2 186.7h0M492.7 186.7h0M629.1 171.0h0M610.5 177.9h0M637.5 150.5h0M494.4 166.8h0M629.4 152.5h0M624.3 138.9h0M499.6 165.3h0M627.1 139.0h0M521.4 169.7h0M580.7 92.9h0M514.1 165.5h0M597.7 173.4h0M629.5 139.3h0M636.1 170.9h0M560.6 176.7h0M622.1 137.1h0M468.5 127.1h0M468.4 179.0h0M525.6 137.1h0M581.1 176.5h0M507.9 127.7h0M500.9 126.7h0M525.8 137.7h0M638.3 146.5h0M489.1 138.0h0M590.7 172.2h0M523.6 164.3h0M433.0 168.5h0M451.2 131.0h0M580.9 123.7h0M565.0 177.0h0M495.5 165.1h0M626.4 153.2h0M473.3 165.9h0M639.7 147.6h0M570.3 172.6h0M632.2 198.1h0M489.9 135.2h0M549.8 133.4h0M466.9 114.2h0M575.9 178.8h0M519.4 135.2h0M526.4 169.4h0M421.9 139.3h0M587.2 173.6h0M558.0 134.5h0M467.3 133.6h0M495.9 182.8h0M607.4 171.3h0M472.5 113.2h0M628.3 172.4h0M563.4 123.1h0M536.6 118.4h0M443.4 174.6h0M547.4 138.0h0M603.2 169.5h0M558.0 119.5h0M560.6 164.7h0M647.2 259.6h0M448.6 110.7h0M620.5 164.0h0M445.7 131.2h0M552.3 171.6h0M559.5 136.7h0M584.4 194.5h0M534.4 171.0h0M642.0 153.4h0M590.2 174.9h0M457.7 125.4h0M481.1 166.3h0M500.6 133.1h0M522.9 174.3h0M643.7 160.4h0M531.7 130.2h0M546.0 125.8h0M437.7 121.0h0M620.1 181.3h0M497.5 132.5h0M588.0 165.1h0M624.7 144.4h0M450.0 130.6h0M529.0 223.8h0M598.0 188.2h0M482.5 108.5h0M423.2 169.0h0M471.3 171.0h0M461.8 122.2h0M638.6 148.2h0M644.6 159.1h0M482.3 179.4h0M422.7 138.3h0M632.9 165.9h0M633.8 179.4h0M527.3 211.2h0M448.6 175.7h0M531.7 186.4h0M641.5 149.1h0M643.2 147.9h0M573.4 128.2h0M459.8 164.8h0M428.5 129.6h0M476.3 129.1h0M523.2 168.3h0M535.2 169.1h0M626.0 201.8h0M464.3 164.0h0M537.5 133.9h0M522.4 166.2h0M634.1 151.8h0M582.4 178.0h0M488.1 171.1h0M503.0 170.9h0M540.6 134.4h0M551.0 172.0h0M546.9 166.8h0M616.9 174.2h0M504.3 133.4h0M500.0 172.2h0M633.3 143.9h0M509.5 215.4h0M470.4 166.3h0M640.4 146.8h0M564.6 137.0h0M520.9 172.5h0M626.1 165.1h0M648.1 258.3h0M482.9 125.6h0M476.9 127.1h0M486.4 166.5h0M626.7 163.2h0M475.2 133.7h0M529.7 128.2h0M423.0 157.6h0M538.7 133.0h0M646.3 159.2h0M444.2 168.3h0M628.9 149.2h0M470.8 134.9h0M643.9 143.0h0M608.6 172.8h0M625.5 147.8h0M598.9 192.5h0M441.0 123.7h0M640.8 143.3h0M625.1 149.8h0M444.9 100.2h0M533.4 129.4h0M536.0 135.6h0M634.7 153.8h0M506.0 124.6h0M533.8 166.9h0M629.4 148.9h0M540.9 165.2h0M616.4 179.0h0M603.6 133.3h0M646.7 181.0h0M580.4 184.4h0M420.2 160.5h0M533.5 137.4h0M578.3 182.5h0M630.8 155.5h0M461.7 189.1h0M425.8 120.5h0M645.4 146.3h0M424.8 125.3h0M556.9 175.4h0M550.8 136.0h0M432.1 77.9h0M487.5 131.8h0M571.0 112.9h0M544.9 169.9h0M598.0 174.1h0M507.2 172.7h0M428.9 136.2h0M614.5 169.5h0M614.7 182.6h0M593.7 178.5h0M530.7 128.2h0M526.5 115.3h0M635.0 154.4h0M631.7 146.7h0M508.3 166.7h0M530.0 133.5h0M443.4 120.3h0M519.5 137.1h0M527.2 137.3h0M643.2 149.3h0M530.3 125.4h0M468.5 127.6h0M466.2 92.2h0M497.0 135.4h0M526.3 166.4h0M511.9 131.5h0M631.2 132.8h0M546.4 121.2h0M451.9 116.5h0M461.2 77.4h0M575.6 137.9h0M460.5 166.0h0M569.3 206.6h0M519.0 170.5h0M623.5 215.5h0M489.5 133.0h0M497.9 130.6h0M581.0 175.4h0M511.1 108.4h0M461.5 128.3h0M508.5 111.0h0M646.5 155.1h0M445.8 115.4h0M478.3 134.9h0M421.7 152.9h0M575.6 171.0h0M482.4 117.4h0M481.7 135.1h0M578.7 191.9h0M578.8 173.1h0M524.7 132.3h0M521.8 137.3h0M636.0 165.8h0M516.8 137.9h0M542.6 171.7h0M625.9 146.9h0M422.6 160.9h0M632.1 160.2h0M645.8 151.6h0M424.2 125.6h0M510.1 136.7h0M446.1 136.6h0M487.7 97.2h0M633.6 145.7h0M635.1 155.3h0M561.0 187.7h0M507.0 163.9h0M470.0 169.6h0M540.3 130.3h0M644.1 144.2h0M422.6 150.4h0M633.0 167.4h0M421.6 148.6h0M597.5 174.8h0M513.4 107.6h0M511.4 166.7h0M502.8 136.7h0M419.7 139.0h0M460.6 118.6h0M543.6 168.7h0M529.9 107.0h0M559.2 261.6h0M636.0 169.8h0M555.1 210.8h0M476.8 174.1h0M510.8 186.8h0M490.1 171.4h0M632.4 160.6h0M501.5 137.4h0M573.8 132.2h0M431.2 128.4h0M561.5 188.9h0M558.0 133.5h0M564.7 164.4h0M467.9 98.0h0M510.8 170.5h0M516.8 173.6h0M439.6 130.2h0M438.7 137.5h0M534.7 166.9h0M641.1 147.4h0M546.9 178.6h0M484.9 167.3h0M610.7 134.0h0M434.1 133.6h0M548.8 128.6h0M537.0 166.7h0M451.5 125.9h0M567.6 233.8h0M490.3 167.4h0M625.8 174.1h0M586.1 165.7h0M449.7 137.0h0M428.8 136.5h0M608.3 130.0h0M537.6 168.7h0M511.3 135.5h0M485.0 174.8h0M483.5 172.7h0M582.8 128.2h0M601.8 183.2h0M498.7 164.2h0M513.9 164.5h0M536.6 168.5h0M605.9 199.0h0M631.2 147.2h0M443.1 136.0h0M498.8 121.3h0M638.2 188.5h0M626.0 143.1h0M423.2 157.9h0M536.2 191.3h0M641.5 145.8h0M490.8 166.1h0M641.2 140.5h0M520.8 119.7h0M629.5 150.1h0M598.8 189.5h0M625.0 153.9h0M490.8 167.7h0M644.9 168.0h0M563.9 186.8h0M645.8 149.1h0M542.8 173.6h0M510.6 170.0h0M452.7 137.8h0M627.2 150.2h0M490.5 128.4h0M638.2 150.7h0M575.1 167.3h0M505.5 205.3h0M503.5 132.9h0M636.0 158.6h0M631.4 156.9h0M535.0 109.1h0M577.7 130.9h0M634.7 152.9h0M617.2 173.5h0M571.2 163.9h0M445.5 135.3h0M548.1 179.3h0M539.5 120.4h0M534.1 134.3h0M491.8 125.4h0M507.9 129.5h0M422.4 143.9h0M521.0 128.0h0M524.9 170.2h0M557.2 132.3h0M519.7 134.7h0M555.1 135.1h0M648.0 182.5h0M539.1 137.7h0M544.3 110.3h0M425.6 163.8h0M469.0 123.5h0M436.7 134.1h0M434.7 134.1h0M582.7 165.7h0M461.4 131.1h0M498.2 164.5h0M547.9 164.6h0M499.4 127.6h0M483.9 125.7h0M465.9 120.7h0M459.9 174.1h0M629.6 181.0h0M465.8 134.9h0M471.6 136.0h0M468.0 132.3h0M644.8 147.8h0M466.4 117.6h0M603.6 185.8h0M486.5 129.5h0M488.0 134.5h0M468.1 164.8h0M479.3 136.3h0M423.2 161.8h0M613.3 169.4h0M643.9 155.5h0M585.1 173.1h0M463.0 100.9h0M447.5 137.8h0M500.0 172.3h0M538.3 172.6h0M583.7 187.0h0M633.4 146.7h0M556.8 130.7h0M619.5 171.1h0M426.9 136.3h0M565.8 127.2h0M536.9 184.1h0M463.1 181.1h0" stroke="#000" stroke-opacity="0.27" stroke-width="2.5" stroke-linecap="round" fill="none"/><path d="M576.5 167.1h0M574.4 127.1h0M519.3 172.1h0M434.3 116.5h0M422.1 151.9h0M491.4 172.4h0M424.1 136.4h0M597.9 134.1h0M510.8 189.3h0M499.8 135.1h0M631.5 178.7h0M506.0 165.1h0M609.4 237.5h0M473.4 130.4h0M469.0 100.9h0M503.3 131.7h0M509.4 166.4h0M500.4 231.2h0M553.2 167.9h0M540.1 195.5h0M526.4 168.1h0M515.2 129.2h0M487.9 135.7h0M514.9 166.5h0M544.5 131.0h0M551.1 214.1h0M626.7 169.2h0M625.7 144.8h0M465.0 126.9h0M640.0 163.0h0M525.4 128.8h0M430.3 122.0h0M511.2 136.2h0M634.8 231.0h0M594.1 167.7h0M468.3 166.0h0M534.1 174.6h0M511.8 166.4h0M630.7 175.3h0M444.0 173.2h0M429.6 129.7h0M517.0 170.0h0M430.3 127.1h0M639.9 145.5h0M558.8 175.7h0M551.0 137.1h0M634.0 177.0h0M628.2 165.6h0M632.8 149.8h0M477.3 168.7h0M628.9 171.7h0M494.3 173.7h0M608.8 167.3h0M509.5 171.1h0M645.9 154.2h0M458.8 136.5h0M528.3 131.1h0M548.4 169.7h0M558.5 130.5h0M567.3 165.1h0M630.7 162.3h0M569.7 176.5h0M582.2 137.5h0M596.5 206.0h0M453.5 132.7h0M480.6 166.1h0M620.1 169.7h0M481.1 186.9h0M646.5 172.3h0M560.1 175.8h0M460.9 130.0h0M630.3 162.3h0M519.0 265.3h0M634.3 174.6h0M521.7 179.2h0M642.9 149.2h0M630.2 158.9h0M480.4 169.7h0M603.9 189.1h0M644.2 157.3h0M486.2 164.3h0M454.1 130.8h0M516.4 130.4h0M587.5 173.0h0M612.8 137.3h0M604.1 133.4h0M555.8 166.0h0M613.4 178.2h0M524.3 172.0h0M462.1 126.2h0M626.3 141.1h0M646.1 147.1h0M539.9 180.7h0M629.2 165.8h0M607.3 163.9h0M644.1 159.2h0M515.4 165.7h0M629.5 173.0h0M512.2 137.7h0M615.6 164.6h0M462.5 125.7h0M570.8 213.1h0M506.1 164.0h0M436.1 120.2h0M633.3 140.1h0M454.1 137.1h0M585.9 180.2h0M425.0 134.9h0M557.8 175.6h0M522.4 187.4h0M493.5 164.0h0M580.8 165.7h0M431.0 136.4h0M637.7 154.7h0M640.7 150.1h0M452.7 126.2h0M469.7 123.5h0M485.3 132.1h0M436.7 134.1h0M435.7 127.4h0M638.8 153.7h0M606.1 164.0h0M420.5 167.6h0M636.9 149.4h0M522.1 128.5h0M422.5 151.1h0M633.2 155.9h0M476.5 122.7h0M433.5 129.4h0M643.6 167.9h0M644.3 146.8h0M642.8 146.9h0M563.2 191.8h0M534.9 175.0h0M639.6 162.5h0M636.1 147.2h0M571.9 164.8h0M523.0 101.4h0M435.4 133.9h0M621.7 221.5h0M517.8 134.8h0M625.7 147.6h0M467.3 135.5h0M615.1 133.3h0M594.5 176.1h0M544.0 167.0h0M451.8 169.8h0M540.8 185.9h0M631.3 168.6h0M420.5 154.3h0M632.2 149.0h0M548.1 183.4h0M559.1 167.4h0M635.7 143.4h0M639.2 164.5h0M643.3 149.6h0M585.2 167.5h0M642.2 190.2h0M473.4 129.9h0M446.4 171.5h0M428.5 126.3h0M550.4 175.0h0M572.8 171.6h0M551.5 184.8h0M574.4 164.2h0M560.6 191.8h0M476.5 131.6h0M493.7 165.1h0M549.8 171.7h0M623.6 194.1h0M569.6 205.0h0M633.4 152.9h0M608.0 196.5h0M506.9 167.4h0M646.1 147.8h0M469.1 173.7h0M460.2 198.5h0M529.0 125.4h0M524.4 166.1h0M629.2 224.1h0M527.2 123.3h0M561.8 171.1h0M625.0 164.3h0M516.6 168.2h0M567.8 181.6h0M554.0 171.1h0M419.8 153.9h0M433.1 127.3h0M618.8 134.2h0M638.8 161.0h0M430.3 125.6h0M586.0 184.5h0M612.9 169.1h0M611.6 171.7h0M485.0 135.5h0M485.8 178.5h0M643.0 146.7h0M421.4 153.6h0M431.2 131.6h0M569.5 190.4h0M609.9 184.4h0M432.0 121.8h0M540.1 178.3h0M556.6 171.4h0M554.0 189.4h0M543.8 187.0h0M618.1 167.4h0M478.7 168.5h0M640.6 148.8h0M633.0 146.9h0M584.6 178.9h0M441.1 166.3h0M611.0 131.8h0M580.8 180.6h0M630.1 169.1h0M634.2 160.6h0M641.1 149.4h0M558.3 118.1h0M627.0 148.2h0M553.4 180.8h0M556.6 131.8h0M629.8 148.9h0M628.4 145.3h0M594.3 167.9h0M436.9 137.8h0M552.6 137.5h0M625.3 153.4h0M564.4 184.5h0M489.0 121.9h0M443.5 168.6h0M426.4 167.0h0M531.7 131.9h0M595.0 129.9h0M599.5 188.9h0M437.5 120.4h0M541.8 130.3h0M637.4 152.5h0M490.2 186.4h0M555.9 169.3h0M506.8 126.7h0M590.2 136.1h0M512.9 130.6h0M537.2 188.8h0M592.5 175.3h0M501.2 171.1h0M506.4 129.7h0M482.8 168.8h0M519.1 135.5h0M542.4 178.4h0M620.0 166.5h0M538.7 134.6h0M446.2 134.7h0M421.4 163.9h0M579.6 124.1h0M616.3 136.3h0M518.7 130.2h0M473.9 130.5h0M430.4 128.3h0M505.0 136.4h0M480.2 171.4h0M602.7 164.4h0M631.7 160.0h0M465.7 113.8h0M420.2 143.3h0M502.6 125.9h0M644.9 166.2h0M561.1 136.7h0M594.5 166.5h0M643.9 145.7h0M640.1 150.2h0M639.8 210.5h0M534.0 175.7h0M606.1 163.9h0M526.0 171.8h0M625.9 142.8h0M640.8 148.2h0M625.7 160.5h0M647.3 188.5h0M623.3 159.3h0M529.7 167.4h0M485.4 131.1h0M575.8 109.9h0M546.5 169.3h0M594.8 124.0h0M637.3 147.5h0M473.2 136.5h0M643.0 266.5h0M638.7 146.3h0M538.9 168.5h0M584.7 135.0h0M484.9 134.0h0M566.9 228.4h0M639.6 143.1h0M639.3 165.8h0M459.3 168.5h0M630.2 156.5h0M584.7 171.2h0M595.2 190.6h0M635.0 150.8h0M589.7 182.0h0M451.4 120.1h0M459.8 168.7h0M572.6 176.8h0M543.6 164.1h0M632.4 141.6h0M642.9 148.5h0M426.7 135.6h0M475.5 128.7h0M640.9 163.9h0M505.7 130.4h0M642.4 156.9h0M487.1 173.2h0M627.6 149.3h0M637.8 165.5h0M557.3 136.3h0M637.8 142.9h0M541.1 121.8h0M554.9 164.6h0M640.8 150.2h0M503.0 137.7h0M639.4 166.8h0M564.6 185.4h0M598.9 166.2h0M512.8 134.5h0M544.8 163.8h0M639.0 164.9h0M642.0 171.6h0M609.3 132.8h0M420.3 151.3h0M601.9 137.3h0M621.5 175.4h0M582.3 177.0h0M491.7 186.1h0M445.7 107.3h0M591.2 163.8h0M599.2 117.7h0M459.4 126.7h0M509.1 122.7h0M465.3 128.6h0M533.9 165.7h0M495.2 135.0h0M424.4 165.6h0M421.1 145.6h0M457.7 167.5h0M530.1 192.2h0M531.1 137.9h0M528.7 118.2h0M420.3 152.5h0M445.6 164.5h0M565.6 129.4h0M486.0 137.2h0M478.1 117.3h0M442.0 137.7h0M557.6 125.5h0M641.9 154.8h0M598.7 165.2h0M430.7 134.3h0M635.5 214.9h0M614.7 166.2h0M593.7 131.5h0M486.6 136.4h0M479.8 165.5h0M507.9 120.2h0M471.1 197.1h0M482.7 105.9h0M639.5 143.2h0M616.9 180.0h0M422.3 151.0h0M502.1 183.5h0M636.3 145.9h0M467.5 125.0h0M517.3 169.8h0M517.2 120.6h0M464.3 130.4h0M463.2 132.9h0M625.0 142.5h0M538.5 137.3h0M460.8 176.1h0M443.0 166.8h0M589.6 169.2h0M509.3 171.5h0M491.1 135.3h0M516.8 170.4h0M440.2 116.6h0M574.3 221.4h0M474.2 191.1h0M439.4 164.9h0M461.4 170.5h0M585.0 137.3h0M609.9 199.4h0M423.7 167.0h0M532.9 164.8h0M637.6 150.2h0M433.3 135.1h0M513.8 179.7h0M608.2 168.0h0M464.2 169.1h0M642.9 143.1h0M426.1 174.9h0M486.7 135.5h0M482.7 168.9h0M513.0 172.7h0M599.6 165.2h0M466.4 164.1h0M458.9 171.7h0M445.2 124.8h0M628.8 194.1h0M556.8 134.8h0M444.5 133.7h0M422.7 150.9h0M477.0 179.1h0M475.5 113.7h0M471.5 82.7h0M433.3 173.5h0M419.2 165.2h0M535.9 133.4h0M618.7 178.6h0M529.8 137.7h0M458.0 176.8h0M613.6 128.4h0M536.0 213.4h0M592.5 165.3h0M450.3 126.2h0M635.9 147.7h0M499.7 168.5h0M538.5 116.9h0M600.2 167.6h0M423.0 143.2h0M526.0 173.6h0" stroke="#000" stroke-opacity="0.27" stroke-width="2.5" stroke-linecap="round" fill="none"/><path d="M638.7 149.2h0M415.6 158.5h0M638.8 149.5h0M641.7 150.7h0M647.2 150.3h0M645.4 151.1h0M645.9 151.5h0M630.4 146.4h0M647.7 152.0h0M623.5 144.7h0M406.6 150.7h0M623.8 145.6h0M646.5 152.6h0M404.4 148.7h0M410.0 151.8h0M408.8 151.4h0M399.0 150.1h0M641.5 157.8h0M644.5 151.2h0M404.0 145.7h0M638.2 150.3h0M647.6 151.6h0M640.2 150.7h0M642.5 151.1h0M640.3 149.5h0M402.7 149.1h0M399.3 148.3h0M635.5 148.1h0M404.0 143.8h0M639.8 150.1h0M406.5 154.9h0M405.9 148.5h0M644.3 150.0h0M644.3 151.0h0M399.4 146.2h0M404.7 148.9h0M647.9 151.2h0M407.3 152.1h0M400.5 148.5h0M632.6 151.9h0M642.5 150.9h0M401.9 150.1h0M647.5 151.4h0M404.7 147.7h0M622.1 144.1h0M399.8 146.5h0M636.4 148.2h0M647.7 152.3h0M648.0 151.1h0M414.4 155.4h0M413.9 150.5h0M401.5 145.3h0M400.6 144.2h0M642.8 149.2h0M408.0 146.5h0M408.9 151.9h0M647.5 155.4h0M646.4 151.6h0M409.4 145.1h0M405.7 147.9h0M399.9 144.6h0M631.4 146.4h0M408.7 146.3h0M403.5 145.8h0M617.4 142.6h0M639.6 153.3h0M414.1 152.3h0M402.4 150.6h0M630.0 147.4h0M404.8 150.8h0M407.5 152.4h0M641.5 152.0h0M647.9 152.4h0M405.7 140.8h0M647.0 150.7h0M402.0 150.9h0M643.5 149.2h0M620.4 144.3h0M416.0 155.9h0M409.7 145.6h0M644.0 149.6h0M416.6 138.9h0M648.0 151.4h0M410.2 151.0h0M630.0 145.5h0M634.4 147.6h0M418.7 144.5h0M411.5 153.6h0M411.8 150.7h0M633.4 147.4h0M643.0 150.8h0M399.1 147.5h0M625.4 145.1h0M646.9 150.3h0M648.0 150.6h0M635.5 152.7h0M648.1 152.4h0M407.6 139.0h0M628.1 149.9h0M400.1 149.1h0M404.2 150.2h0M411.3 151.3h0M645.0 149.4h0M644.8 152.9h0M637.7 149.2h0M646.5 151.0h0M637.2 149.6h0M642.7 155.0h0M635.0 148.7h0M646.1 152.3h0M635.1 147.8h0M404.8 150.9h0M399.4 149.4h0M400.9 145.5h0M400.9 150.6h0M629.6 148.0h0M632.8 146.8h0M400.3 147.7h0M398.9 150.0h0M403.9 151.1h0M646.7 150.4h0M405.7 149.7h0M400.3 146.8h0M647.9 150.2h0M634.9 149.0h0M639.6 150.3h0M643.9 150.6h0M642.9 151.5h0M642.3 153.3h0M411.2 152.6h0M642.7 150.9h0M647.2 152.0h0M636.7 150.4h0M403.9 148.2h0M636.0 147.4h0M640.2 150.6h0M404.7 151.7h0M405.4 153.7h0M618.1 142.7h0M648.0 152.5h0M624.5 156.2h0M641.0 150.7h0M412.2 155.7h0M624.6 145.2h0M412.6 150.9h0M399.4 149.0h0M642.0 149.6h0M643.2 150.5h0M644.5 152.9h0M398.7 148.7h0M646.9 150.6h0M404.1 151.5h0M402.9 146.2h0M407.7 152.6h0M399.7 150.2h0M399.4 148.9h0M399.8 147.3h0M407.2 152.3h0M422.4 152.7h0M634.1 147.6h0M635.3 148.3h0M400.1 149.1h0M401.0 149.2h0M411.2 151.6h0M636.3 148.4h0M632.7 149.3h0M398.9 149.2h0M639.5 149.3h0M630.5 147.5h0M646.1 151.3h0M638.0 148.6h0M644.1 154.5h0M646.7 152.4h0M647.3 152.0h0M398.9 149.2h0M646.0 152.3h0M637.8 148.5h0M628.3 146.9h0M645.4 150.8h0M647.8 150.1h0M412.2 152.6h0M398.7 154.2h0M643.5 149.2h0M418.3 150.4h0M638.1 149.6h0M398.9 148.8h0M644.5 150.6h0M408.0 147.1h0M639.8 152.2h0M636.5 151.0h0M404.7 145.8h0M632.8 151.0h0M634.2 147.3h0M408.5 146.2h0M646.4 150.8h0M644.3 150.9h0M407.4 149.1h0M405.2 144.3h0M407.7 144.7h0M637.1 149.5h0M400.6 147.0h0M400.3 141.0h0M643.4 151.9h0M627.7 150.2h0M633.7 147.1h0M647.8 150.6h0M625.0 144.3h0M406.2 151.4h0M414.3 152.4h0M414.0 148.9h0M634.7 152.0h0M631.3 154.7h0M405.6 148.0h0M398.8 150.1h0M644.2 149.3h0M399.2 144.6h0M633.7 148.5h0M405.3 149.7h0M644.7 151.8h0M647.7 150.8h0M399.9 148.7h0M399.2 149.9h0M409.1 152.9h0M645.0 152.9h0M416.0 154.0h0M629.3 146.6h0M627.0 147.2h0M406.3 138.6h0M410.3 151.7h0M628.7 147.6h0M646.9 150.1h0M410.5 149.4h0M412.4 140.3h0M632.5 150.8h0M645.9 151.3h0M402.7 150.4h0M642.8 149.8h0M629.0 148.6h0M609.3 149.5h0M635.5 153.8h0M411.7 144.9h0M616.5 144.6h0M415.7 153.1h0M405.4 151.9h0M622.8 149.9h0M399.2 146.7h0M400.7 149.2h0M647.1 150.4h0M417.0 155.0h0M647.7 151.1h0M648.1 150.3h0M645.5 150.4h0M403.4 150.8h0M646.5 151.2h0M408.5 152.7h0M641.6 150.6h0M414.9 145.3h0M414.6 149.1h0M413.5 153.2h0M401.4 146.4h0M625.2 148.3h0M638.2 148.2h0M404.7 148.0h0M399.2 149.0h0M401.0 144.4h0M406.0 143.5h0M403.4 146.4h0M400.6 147.5h0M400.7 149.8h0M406.3 150.9h0M400.2 151.2h0M641.5 150.4h0M402.4 139.8h0M629.1 149.0h0M647.8 152.4h0M401.4 149.6h0M408.3 146.6h0M405.8 151.7h0M638.2 149.7h0M402.1 148.5h0M628.9 147.3h0M646.5 150.5h0M401.5 150.7h0M646.8 151.5h0M637.5 150.0h0M403.7 148.9h0M646.3 155.4h0M647.7 150.3h0M619.2 145.4h0M403.3 148.5h0M399.2 149.8h0M638.0 148.2h0M411.3 153.5h0M401.1 150.8h0M639.8 149.5h0M403.6 150.6h0M643.5 149.5h0M642.7 151.3h0M399.9 149.1h0M405.8 143.4h0M646.9 151.1h0M648.1 150.2h0M400.5 148.7h0M640.7 153.2h0M645.8 150.2h0M636.0 151.7h0M406.6 151.1h0M406.8 152.4h0M405.1 146.6h0M401.1 149.0h0M399.2 142.5h0M398.9 143.4h0M401.6 146.8h0M411.4 149.7h0M644.1 150.3h0M398.7 146.9h0M636.4 148.6h0M620.2 145.7h0M647.8 152.0h0M642.2 153.1h0M400.1 146.9h0M414.5 145.1h0M405.6 153.4h0M409.4 150.6h0M635.1 148.2h0M406.5 149.3h0M630.9 148.2h0M642.4 149.0h0M399.9 150.4h0M412.0 148.9h0M409.0 151.7h0M401.2 143.3h0M644.2 149.8h0M409.3 150.2h0M407.0 152.2h0M647.9 151.2h0M419.6 160.8h0M640.9 148.4h0M402.2 141.6h0M638.2 148.2h0M419.3 151.2h0M645.8 151.3h0M647.3 151.1h0M647.7 155.0h0M414.4 143.9h0M611.6 147.4h0M646.9 150.6h0M408.4 151.9h0M647.1 150.8h0M646.5 151.2h0M634.2 147.4h0M405.3 152.6h0M647.7 151.5h0M646.3 150.0h0M636.2 148.2h0M400.8 148.9h0M404.8 151.8h0M629.8 154.4h0M408.6 151.0h0M629.5 152.4h0M408.6 152.0h0M412.5 152.0h0M647.8 151.2h0M635.8 149.1h0M411.5 153.4h0M398.7 149.0h0M405.0 152.3h0M640.5 149.9h0M648.0 157.2h0M399.5 144.3h0M399.0 149.6h0M633.1 147.6h0M401.0 143.7h0M643.8 149.6h0M620.4 150.8h0M398.9 148.9h0M641.1 148.7h0M643.4 149.4h0M408.0 152.5h0M412.2 144.2h0M414.1 147.0h0M630.9 146.9h0M637.5 149.3h0M409.8 142.9h0M400.9 154.3h0M638.8 154.9h0M625.0 146.0h0M399.1 139.4h0M646.5 151.4h0M637.7 153.7h0M640.1 150.2h0M411.5 153.1h0M644.5 150.6h0M640.4 152.6h0M636.8 148.5h0M421.2 156.0h0M401.7 148.8h0M639.0 151.0h0M398.7 148.6h0M404.1 145.5h0M412.9 150.7h0M398.9 154.2h0M404.7 143.7h0M409.0 151.2h0M647.3 152.9h0M410.6 143.8h0M404.6 147.8h0M647.8 150.6h0M402.8 149.9h0M410.6 152.4h0M634.5 150.3h0M413.4 152.7h0M647.8 151.0h0M645.4 151.7h0M639.0 150.3h0M406.2 152.2h0M642.7 148.9h0M627.9 145.5h0M630.1 149.2h0M409.0 151.0h0M407.6 152.3h0M633.4 148.8h0M416.9 140.5h0M416.7 155.2h0M640.9 149.8h0M624.5 144.5h0M398.9 148.2h0M631.6 146.6h0M644.2 149.4h0M400.1 148.5h0M633.4 148.9h0M645.4 153.1h0M647.8 151.2h0M412.8 152.6h0M633.4 147.3h0M625.8 147.5h0M647.5 152.5h0M399.3 144.7h0M403.3 147.9h0M416.1 148.1h0M413.8 150.8h0M399.8 143.2h0M408.4 150.7h0M412.0 154.2h0M419.9 155.4h0M411.0 150.6h0M398.7 149.8h0M623.4 149.3h0M410.0 155.1h0M627.6 146.8h0M639.6 148.4h0M609.0 159.1h0M647.1 150.4h0M408.2 151.2h0M624.4 150.0h0M402.3 150.9h0M646.9 149.9h0M400.3 144.3h0M645.3 150.6h0M640.8 151.3h0M640.5 149.5h0M414.6 146.9h0M641.1 151.8h0M647.6 150.1h0M647.1 151.0h0M642.3 148.7h0M645.3 151.2h0M404.1 148.5h0M625.7 145.6h0M647.4 152.3h0M418.8 155.0h0M635.6 150.3h0M409.1 152.3h0M643.7 149.9h0M634.0 147.3h0M647.7 150.1h0M407.5 152.1h0M411.4 150.1h0M640.4 148.3h0M644.8 149.5h0M624.9 147.5h0M628.3 146.6h0M624.0 146.7h0M411.9 154.0h0M641.7 151.3h0M642.3 150.5h0M401.3 152.0h0M643.0 150.4h0M409.0 153.6h0M408.0 152.6h0M414.2 151.8h0M407.4 152.3h0M641.2 149.5h0M400.1 146.4h0M647.8 152.3h0M628.9 145.4h0M402.9 148.4h0M647.4 150.9h0M644.1 152.6h0M644.2 149.5h0M635.1 148.3h0M406.1 149.7h0M630.9 149.1h0M401.7 148.6h0M401.8 150.6h0M637.7 151.0h0M401.2 143.3h0M642.1 149.9h0M637.0 148.4h0M632.0 147.1h0M620.9 146.0h0M647.0 152.6h0M638.2 149.9h0M399.2 149.7h0M407.9 152.0h0M400.4 146.4h0M647.9 151.7h0M637.0 149.6h0M632.7 148.7h0M412.0 152.2h0M624.2 146.2h0M647.7 150.2h0M638.4 148.4h0M417.4 148.5h0M646.2 157.9h0M401.6 149.4h0M416.7 147.9h0M403.1 149.8h0M646.5 151.2h0M402.8 149.5h0M641.2 148.4h0M638.3 152.1h0M647.7 150.4h0M399.7 151.9h0M407.6 150.7h0M644.2 149.5h0M646.3 151.0h0M399.0 148.2h0M628.2 151.1h0M401.9 143.7h0M633.9 146.9h0M632.9 147.6h0M642.2 152.2h0M401.1 148.3h0M414.5 140.6h0M403.6 144.7h0M616.2 143.2h0M647.2 150.7h0M412.7 145.2h0M405.5 153.8h0M400.2 148.8h0M644.5 151.4h0M644.6 155.3h0M616.6 144.5h0M402.8 149.2h0M418.4 145.8h0M648.1 151.4h0M399.3 151.0h0M400.6 152.5h0M645.7 149.8h0M627.7 151.0h0M642.2 149.5h0M639.4 149.4h0M413.4 149.2h0M630.4 145.9h0M636.8 151.5h0M645.6 150.4h0M647.0 151.1h0M647.4 151.6h0M408.2 155.4h0M410.5 149.8h0M631.9 149.2h0M640.0 153.5h0M636.4 147.9h0M645.2 152.8h0M642.5 149.0h0M407.5 150.8h0M399.8 149.5h0M399.9 150.3h0M647.7 152.2h0M632.6 146.9h0M414.1 141.2h0M640.7 151.4h0M645.3 151.1h0M401.4 148.4h0M632.0 150.5h0M617.5 143.7h0M411.2 153.6h0M626.4 147.6h0M408.7 151.1h0M409.7 148.5h0M413.3 152.8h0M637.8 153.7h0M402.5 150.5h0M646.7 153.0h0M636.3 147.6h0M413.1 154.9h0M421.5 153.7h0M399.7 150.1h0M411.1 138.3h0M619.0 154.7h0M409.0 149.0h0M401.0 149.1h0M404.1 150.7h0M399.8 149.1h0M402.9 148.3h0M399.4 147.8h0M399.9 150.5h0M647.3 150.3h0M418.5 157.7h0M399.1 147.9h0M638.6 150.6h0M646.9 150.5h0M627.1 146.5h0M402.1 144.3h0M404.5 153.2h0M409.0 150.8h0M399.5 149.7h0M647.1 153.3h0M402.7 143.3h0M399.7 151.0h0M407.8 144.5h0M645.2 151.5h0M399.8 147.2h0M628.4 146.3h0M417.1 151.2h0M640.8 150.1h0M638.6 148.0h0M644.9 151.5h0M646.5 150.2h0M407.0 149.6h0M398.7 148.9h0M625.0 148.3h0M405.4 152.8h0M638.3 157.2h0M410.5 148.3h0M646.6 152.0h0M637.4 148.0h0M401.4 141.5h0M420.5 150.0h0M646.9 151.1h0M637.2 149.5h0M405.8 145.0h0M399.6 148.3h0M405.1 149.7h0M399.1 147.1h0M642.7 149.3h0M405.5 152.0h0M647.5 151.2h0M636.4 149.1h0M414.1 149.3h0M635.1 149.1h0M404.9 138.5h0M413.5 153.6h0M639.5 151.1h0M400.7 148.2h0M637.8 151.7h0M418.5 144.8h0M638.1 148.3h0M411.2 154.1h0M634.0 146.6h0M645.7 153.3h0M405.5 146.2h0M402.3 150.0h0M402.2 148.6h0M639.2 152.5h0M637.6 148.3h0M405.7 150.4h0M400.1 150.5h0M644.0 151.8h0M647.3 153.6h0M406.3 149.8h0M643.3 149.2h0M400.1 143.7h0M647.0 151.1h0M409.8 145.8h0M640.0 149.2h0M399.6 144.9h0M403.1 154.7h0M415.9 154.2h0M404.2 145.0h0M399.2 153.5h0M400.5 149.9h0M633.7 146.7h0M399.2 147.4h0M647.6 150.2h0M644.0 149.5h0M402.1 153.0h0M410.7 149.1h0M413.5 153.0h0M402.8 143.5h0M647.0 151.2h0M409.0 143.8h0M401.3 150.3h0M409.4 146.1h0M647.6 152.7h0M637.2 155.7h0M632.2 150.8h0M418.0 159.9h0M633.7 149.8h0M399.2 142.7h0M399.7 145.0h0M619.4 143.6h0M416.7 153.9h0M619.7 152.8h0M407.1 150.9h0M647.8 152.0h0M633.9 146.9h0M414.5 154.3h0M629.6 149.1h0M631.9 150.6h0M645.6 150.3h0M411.7 151.6h0M645.6 151.0h0M644.9 150.2h0M633.6 148.8h0M408.2 153.5h0M421.0 156.3h0M413.4 150.6h0M406.1 147.1h0M638.5 148.7h0M629.4 147.5h0M399.5 149.5h0M646.0 152.4h0M402.1 148.3h0M398.8 144.5h0M406.2 141.8h0M411.3 153.4h0M646.8 150.4h0M646.4 151.5h0M406.0 151.2h0M401.4 138.7h0M627.2 147.1h0M632.6 146.5h0" stroke="#000" stroke-opacity="0.3" stroke-width="1.8" stroke-linecap="round" fill="none"/><path d="M645.8 151.0h0M404.5 148.1h0M409.8 151.6h0M400.2 146.7h0M402.2 141.0h0M646.3 152.4h0M405.0 138.7h0M404.8 147.9h0M404.0 144.7h0M627.6 148.1h0M647.7 150.7h0M643.6 151.9h0M400.9 149.7h0M632.9 147.6h0M409.5 153.2h0M399.8 144.7h0M406.1 144.7h0M401.8 147.7h0M648.0 151.1h0M411.7 152.2h0M630.4 149.0h0M634.7 151.3h0M638.2 152.6h0M412.3 152.7h0M627.0 149.6h0M403.5 145.1h0M417.1 155.2h0M648.0 150.5h0M637.4 153.1h0M620.5 145.1h0M646.8 154.1h0M626.8 145.7h0M623.1 145.9h0M630.5 146.8h0M404.7 143.1h0M640.5 150.0h0M410.3 151.5h0M405.4 151.0h0M405.0 148.9h0M403.4 145.8h0M404.0 150.3h0M400.1 145.5h0M620.3 144.1h0M410.6 148.1h0M401.1 147.1h0M401.2 147.0h0M414.0 155.9h0M426.1 149.1h0M644.7 149.9h0M416.3 152.2h0M642.1 149.2h0M632.3 146.7h0M405.4 149.1h0M639.2 151.0h0M406.7 146.5h0M415.8 146.9h0M647.9 150.5h0M636.9 147.7h0M405.9 151.8h0M404.7 144.8h0M641.7 150.2h0M399.7 148.5h0M405.4 151.7h0M628.2 146.6h0M406.0 150.5h0M404.2 146.7h0M636.5 154.7h0M409.1 150.8h0M636.7 148.3h0M643.0 150.7h0M423.5 153.5h0M399.9 139.9h0M646.7 150.5h0M639.2 148.5h0M403.8 150.0h0M646.0 150.1h0M407.4 149.8h0M414.4 141.6h0M407.6 143.4h0M405.0 149.1h0M401.2 149.9h0M646.0 150.4h0M400.4 150.5h0M410.0 149.8h0M398.8 146.9h0M400.5 147.4h0M638.9 148.2h0M645.7 159.0h0M643.8 153.2h0M413.6 154.2h0M627.0 145.9h0M626.2 151.7h0M399.2 149.8h0M400.7 149.1h0M635.7 148.9h0M415.2 148.4h0M407.4 153.4h0M414.9 153.6h0M630.5 155.5h0M405.3 149.0h0M609.0 142.9h0M645.9 151.5h0M399.9 149.9h0M412.2 148.5h0M645.9 152.7h0M401.2 145.3h0M628.1 146.3h0M401.7 146.1h0M638.8 149.2h0M643.4 149.0h0M407.2 150.2h0M412.8 146.6h0M644.3 152.5h0M630.0 150.2h0M406.5 141.2h0M629.4 145.7h0M413.9 153.0h0M400.4 144.0h0M414.3 152.8h0M641.8 149.0h0M640.1 150.0h0M416.8 145.9h0M404.6 150.4h0M643.9 153.9h0M646.3 150.7h0M398.7 143.3h0M401.3 144.8h0M621.1 145.6h0M414.3 152.8h0M644.9 151.9h0M411.4 147.4h0M633.0 149.3h0M641.0 148.7h0M419.2 153.9h0M648.0 151.1h0M632.8 147.3h0M399.2 146.3h0M647.9 151.2h0M405.1 142.8h0M636.9 148.0h0M400.9 150.1h0M398.7 149.2h0M405.4 151.9h0M421.7 152.8h0M399.1 148.5h0M407.1 150.0h0M647.6 151.0h0M407.9 149.7h0M640.6 149.0h0M403.6 150.0h0M638.1 148.3h0M647.2 151.1h0M643.8 150.1h0M647.8 150.6h0M403.8 145.0h0M647.0 150.4h0M637.0 148.6h0M406.2 150.3h0M641.8 151.2h0M407.2 151.8h0M628.2 152.1h0M647.0 152.8h0M646.5 150.1h0M412.7 150.8h0M405.0 146.6h0M399.3 144.8h0M415.7 140.8h0M399.9 147.2h0M627.5 147.2h0M403.3 144.0h0M400.8 148.7h0M639.5 148.2h0M398.8 153.0h0M400.5 140.7h0M412.0 153.5h0M407.9 148.6h0M417.2 154.1h0M410.9 150.6h0M400.0 149.4h0M624.1 144.8h0M646.7 151.2h0M399.1 143.0h0M410.0 153.6h0M404.4 143.9h0M630.1 148.5h0M410.3 152.9h0M640.8 151.9h0M404.2 149.8h0M417.2 154.1h0M400.5 147.0h0M643.9 150.1h0M647.4 151.3h0M642.7 153.4h0M412.3 152.4h0M637.6 149.7h0M413.8 151.9h0M406.9 151.7h0M646.8 150.3h0M404.4 150.6h0M412.8 151.6h0M401.3 150.2h0M399.3 147.5h0M644.0 149.9h0M414.4 153.5h0M648.1 152.4h0M636.1 151.2h0M401.0 147.2h0M407.7 151.0h0M403.9 151.0h0M638.2 150.1h0M637.1 151.2h0M647.7 150.3h0M404.2 147.0h0M405.6 149.5h0M620.6 144.8h0M633.0 147.3h0M647.4 150.9h0M647.3 154.9h0M415.9 149.9h0M626.2 151.5h0M631.3 146.8h0M410.6 144.6h0M408.4 150.4h0M634.6 149.4h0M647.4 150.9h0M401.9 153.5h0M410.4 144.1h0M639.5 155.3h0M639.4 149.1h0M406.4 150.3h0M400.2 145.7h0M399.6 149.7h0M401.2 150.6h0M402.3 146.3h0M411.9 153.6h0M401.9 147.4h0M629.6 147.2h0M630.4 150.2h0M639.5 149.3h0M399.7 147.5h0M639.0 148.0h0M407.8 148.0h0M409.5 147.9h0M647.4 150.2h0M646.5 151.4h0M637.6 149.2h0M645.9 151.4h0M630.2 150.3h0M399.9 149.3h0M407.9 145.0h0M639.1 148.3h0M644.3 155.0h0M404.5 148.8h0M398.8 148.9h0M635.9 147.7h0M632.4 149.4h0M630.6 146.2h0M402.8 144.0h0M406.3 151.3h0M404.7 143.6h0M399.7 142.1h0M405.3 148.4h0M637.3 149.8h0M401.9 148.4h0M407.1 147.4h0M399.2 145.6h0M636.9 149.9h0M404.9 139.2h0M640.1 153.1h0M643.6 155.4h0M404.2 149.7h0M401.6 149.7h0M627.8 146.5h0M636.8 150.4h0M404.4 153.4h0M646.4 150.9h0M405.5 150.1h0M402.2 150.5h0M646.6 152.5h0M646.1 150.8h0M644.5 150.3h0M647.7 151.3h0M401.5 154.0h0M409.3 151.3h0M404.9 147.4h0M415.2 157.6h0M399.6 148.8h0M400.5 145.8h0M403.4 149.1h0M418.2 151.9h0M645.8 150.3h0M409.6 152.9h0M647.7 154.7h0M631.0 147.6h0M407.3 152.3h0M645.1 149.9h0M645.5 150.3h0M639.2 149.0h0M617.1 143.2h0M634.5 159.3h0M405.8 150.3h0M641.5 150.2h0M414.7 152.4h0M416.9 149.1h0M638.3 147.7h0M636.0 152.2h0M400.1 146.5h0M406.5 153.1h0M410.3 146.3h0M646.8 150.0h0M403.7 147.6h0M419.3 149.7h0M400.4 147.6h0M401.4 150.2h0M405.0 146.5h0M410.5 152.6h0M406.1 150.0h0M630.8 149.1h0M638.9 150.4h0M647.1 150.1h0M647.1 152.0h0M636.8 148.0h0M632.5 147.5h0M403.3 147.2h0M408.4 150.9h0M633.3 147.1h0M645.9 150.6h0M411.7 155.6h0M401.3 145.7h0M399.5 151.9h0M646.8 151.5h0M636.7 147.2h0M647.0 153.6h0M630.5 148.4h0M644.2 150.1h0M638.7 149.1h0M648.0 150.3h0M647.3 150.0h0M404.3 145.7h0M407.8 149.9h0M398.7 148.9h0M633.8 147.8h0M400.0 151.0h0M643.6 149.7h0M641.4 148.5h0M406.2 149.3h0M407.7 149.9h0M643.9 152.4h0M414.7 153.5h0M400.6 149.7h0M400.9 149.9h0M406.1 149.6h0M631.8 151.0h0M407.9 150.0h0M614.5 143.7h0M636.4 147.7h0M400.1 148.4h0M633.0 148.8h0M643.4 149.3h0M635.6 149.6h0M401.9 150.1h0M646.7 151.9h0M640.1 149.4h0M640.7 148.2h0M647.2 151.5h0M398.9 149.7h0M628.1 146.5h0M639.1 148.1h0M406.1 152.0h0M646.1 150.0h0M402.1 149.8h0M639.3 149.0h0M399.8 148.4h0M399.9 144.6h0M646.8 151.9h0M639.9 150.6h0M636.6 147.6h0M420.3 155.5h0M403.5 149.9h0M410.4 151.7h0M403.4 150.8h0M399.9 145.2h0M398.8 146.1h0M644.4 150.1h0M399.7 148.1h0M404.3 153.3h0M639.8 149.3h0M415.0 152.5h0M402.0 149.3h0M409.6 151.4h0M645.1 149.8h0M647.6 151.0h0M406.5 150.9h0M606.6 140.6h0M646.1 151.2h0M631.9 147.9h0M418.9 140.5h0M408.9 151.8h0M647.1 150.1h0M632.4 148.1h0M646.7 150.1h0M631.3 146.2h0M640.1 149.5h0M641.7 149.2h0M401.2 151.8h0M414.9 154.1h0M400.6 150.2h0M647.1 153.5h0M411.3 147.4h0M398.7 146.3h0M406.2 145.4h0M634.4 146.9h0M402.2 150.1h0M399.6 153.4h0M632.5 150.2h0M410.7 151.5h0M402.1 150.3h0M403.0 151.4h0M607.5 142.8h0M636.4 148.7h0M415.5 154.6h0M401.5 150.4h0M641.0 148.4h0M617.8 150.5h0M627.2 148.1h0M410.5 149.9h0M399.7 148.9h0M405.8 147.6h0M399.3 147.3h0M414.7 153.7h0M630.5 148.3h0M415.5 139.8h0M644.9 153.9h0M625.1 148.2h0M647.6 150.0h0M642.7 149.0h0M647.8 150.2h0M644.1 149.3h0M415.1 151.5h0M400.4 147.1h0M620.2 143.5h0M640.3 148.2h0M416.3 154.0h0M401.0 152.9h0M398.9 144.0h0M400.8 146.4h0M405.7 141.1h0M638.6 151.0h0M409.3 145.0h0M398.8 149.7h0M404.8 151.8h0M406.7 149.4h0M418.1 153.2h0M399.2 145.6h0M401.5 147.2h0M624.9 145.7h0M418.8 151.1h0M415.8 153.4h0M399.5 145.9h0M406.1 153.4h0M643.5 149.8h0M644.3 150.6h0M648.1 150.5h0M640.6 150.9h0M631.9 146.8h0M402.6 147.8h0M640.6 151.5h0M646.2 150.1h0M633.8 149.7h0M647.3 150.4h0M400.3 150.1h0M615.9 144.3h0M641.6 148.5h0M646.9 150.5h0M416.8 153.8h0M403.7 149.0h0M645.3 151.7h0M411.9 154.0h0M403.1 152.6h0M647.6 151.3h0M399.8 148.9h0M404.2 148.9h0M401.4 146.2h0M406.8 151.7h0M414.4 153.9h0M646.7 149.9h0M646.5 150.6h0M399.4 147.8h0M628.5 146.4h0M637.8 150.6h0M401.0 153.3h0M404.7 151.2h0M403.9 146.3h0M403.7 147.7h0M399.8 143.9h0M635.8 149.4h0M399.4 149.7h0M403.9 154.3h0M640.0 150.6h0M399.1 149.7h0M401.6 149.9h0M400.1 149.7h0M402.9 148.4h0M648.0 150.9h0M414.8 153.9h0M630.4 147.1h0M644.3 149.4h0M419.7 147.4h0M399.7 147.7h0M407.9 148.6h0M401.3 143.6h0M634.5 152.9h0M403.6 149.3h0M409.4 153.0h0M405.8 150.0h0M640.6 149.4h0M400.9 149.2h0M407.9 151.7h0M408.0 150.3h0M408.2 147.4h0M417.7 156.8h0M399.9 146.5h0M415.6 154.3h0M647.4 152.1h0M639.4 148.8h0M403.2 151.0h0M399.7 150.2h0M399.5 146.3h0M640.3 153.6h0M399.9 151.8h0M399.0 149.0h0M406.0 148.9h0M402.8 138.8h0M646.3 149.7h0M647.5 153.3h0M623.9 148.6h0M643.3 149.5h0M633.4 147.2h0M630.1 147.9h0M634.2 147.9h0M628.7 146.3h0M647.6 151.3h0M417.6 148.6h0M408.0 150.9h0M421.1 156.0h0M637.0 150.2h0M647.2 150.8h0M637.0 149.9h0M407.4 152.0h0M412.5 144.2h0M639.7 148.1h0M647.7 151.1h0M408.5 152.4h0M405.7 151.9h0M627.4 149.4h0M413.9 143.4h0M636.8 150.9h0M635.1 147.2h0M642.1 154.7h0M405.3 151.9h0M402.8 149.3h0M647.7 151.1h0M399.3 149.8h0M630.2 146.0h0M625.8 144.9h0M404.0 143.4h0M400.0 149.3h0M647.7 152.4h0M401.4 150.4h0M635.6 149.6h0M633.4 151.3h0M414.5 153.6h0M646.1 151.2h0M644.0 152.1h0M407.9 151.2h0M633.7 155.2h0M644.9 151.1h0M404.1 147.1h0M642.8 150.0h0M418.4 155.1h0M404.1 152.5h0M416.1 154.3h0M647.1 149.9h0M405.8 151.7h0M406.0 151.5h0M399.1 149.9h0M634.4 149.6h0M399.0 151.8h0M643.6 149.6h0M401.3 141.4h0M401.9 149.3h0M637.3 147.4h0M637.8 151.7h0M633.8 148.8h0M399.4 147.6h0M401.3 151.2h0M400.6 148.7h0M622.9 145.3h0M399.5 149.4h0M645.9 149.9h0M408.7 150.0h0M406.5 152.1h0M639.1 148.8h0M645.9 149.9h0M647.6 150.6h0M641.9 150.5h0M400.0 140.2h0M624.0 147.2h0M407.8 145.8h0M647.5 150.4h0M632.8 147.1h0M647.5 151.7h0M412.3 145.5h0M647.4 151.5h0M412.1 154.7h0M406.0 149.2h0M405.1 147.6h0M643.8 152.9h0M400.0 150.3h0M403.1 150.7h0M639.8 148.0h0M631.6 148.5h0M643.2 150.7h0M626.9 145.9h0M647.0 152.0h0M624.5 148.2h0M636.7 149.3h0M399.4 149.7h0M403.7 149.2h0M401.3 151.1h0M410.2 151.9h0M647.4 150.2h0M399.0 146.0h0M643.2 154.0h0M407.4 144.0h0M413.2 153.1h0M419.9 155.0h0M399.5 149.5h0M639.7 148.1h0M407.2 149.2h0M398.8 143.4h0M399.0 149.5h0M417.1 152.6h0M623.8 148.6h0M400.6 149.1h0M406.6 143.0h0M409.9 140.7h0M399.3 150.1h0M402.1 149.5h0M402.1 148.7h0M412.0 153.1h0M633.7 151.9h0M644.1 151.3h0M629.8 147.0h0M411.9 149.7h0M409.8 151.8h0M400.2 148.7h0M641.7 151.1h0M636.0 151.4h0M410.5 153.3h0M409.3 141.0h0M407.5 152.3h0M625.4 148.4h0M647.8 151.3h0M413.5 143.6h0M648.0 150.6h0M401.3 144.7h0M399.9 149.7h0M399.7 147.8h0M404.2 153.6h0M402.8 151.8h0M406.9 151.7h0M421.0 154.6h0M398.9 148.5h0M646.8 155.9h0M407.5 145.4h0M403.3 146.1h0M412.7 144.6h0M399.3 149.5h0M401.9 150.2h0M643.3 151.1h0M408.9 151.3h0M647.6 150.5h0M647.3 150.0h0M409.4 149.2h0M414.9 150.2h0M647.7 152.9h0M624.2 144.5h0M400.3 147.1h0M645.7 150.1h0M402.6 149.6h0M400.0 149.4h0M400.8 148.6h0M400.1 145.8h0M631.6 150.3h0M408.5 151.5h0M407.3 149.0h0M647.7 150.1h0M622.2 144.9h0M405.5 149.8h0M645.2 149.6h0M645.5 149.8h0M399.2 147.6h0M613.1 141.7h0M399.8 150.0h0M647.8 151.0h0M637.1 147.9h0M627.9 146.5h0M618.1 144.8h0M642.6 150.8h0M402.1 153.8h0M416.7 148.7h0M634.6 162.4h0M647.3 151.4h0M401.1 147.6h0M400.9 142.7h0M405.8 150.9h0M647.2 152.3h0M424.1 157.2h0M647.4 152.8h0M631.3 149.6h0M637.7 148.2h0M645.9 151.0h0M399.8 145.5h0M646.4 150.1h0M644.1 149.4h0M641.8 150.3h0M430.5 152.5h0M413.3 160.0h0M640.7 149.2h0M399.2 149.9h0M645.1 153.5h0M404.5 155.0h0M407.8 147.0h0" stroke="#000" stroke-opacity="0.3" stroke-width="1.8" stroke-linecap="round" fill="none"/><path d="M646.5 152.1h0M400.0 148.6h0M648.0 150.3h0M401.0 139.4h0M408.1 152.7h0M647.6 150.2h0M643.7 151.7h0M402.9 150.0h0M404.4 150.0h0M414.3 147.5h0M630.7 147.3h0M634.5 147.3h0M408.3 151.9h0M643.0 150.4h0M409.5 143.5h0M624.1 144.9h0M415.8 143.4h0M407.3 150.4h0M626.4 145.7h0M407.4 150.9h0M642.0 150.2h0M408.2 151.0h0M412.3 153.0h0M405.5 150.0h0M406.9 149.5h0M413.7 145.6h0M622.1 143.8h0M628.0 150.9h0M647.8 151.9h0M420.8 160.3h0M633.4 147.5h0M643.2 149.0h0M406.1 150.6h0M633.6 148.0h0M408.8 150.1h0M647.4 150.4h0M642.2 150.3h0M401.1 148.8h0M405.1 147.3h0M642.8 149.3h0M414.2 153.1h0M629.2 146.2h0M402.7 151.0h0M401.7 147.4h0M402.1 144.6h0M404.8 149.4h0M633.3 147.6h0M647.3 150.7h0M399.2 147.1h0M637.6 149.2h0M645.1 151.2h0M400.8 146.6h0M400.7 149.6h0M633.5 146.8h0M398.8 150.1h0M409.8 151.7h0M646.6 149.9h0M400.3 142.4h0M647.3 150.1h0M630.3 147.8h0M636.9 148.2h0M403.1 143.6h0M636.7 148.1h0M402.0 150.9h0M415.5 147.8h0M628.0 147.6h0M641.9 151.5h0M400.3 147.6h0M421.1 156.3h0M405.1 151.3h0M404.7 151.5h0M408.4 145.1h0M647.1 150.4h0M629.0 145.9h0M643.8 149.5h0M401.8 153.1h0M634.9 148.1h0M647.2 151.0h0M647.2 152.5h0M399.6 145.4h0M404.5 151.4h0M401.5 150.8h0M416.0 154.3h0M400.4 145.3h0M629.1 149.2h0M402.6 149.4h0M400.0 149.8h0M645.6 150.8h0M400.6 138.4h0M409.9 143.7h0M400.0 150.4h0M645.1 150.7h0M408.0 149.3h0M418.0 151.0h0M647.2 151.3h0M401.7 144.2h0M624.2 145.1h0M404.0 150.8h0M632.9 148.3h0M416.2 153.0h0M401.7 148.2h0M399.3 147.1h0M632.2 150.6h0M640.1 149.6h0M403.4 151.1h0M405.7 155.4h0M409.0 152.4h0M632.8 149.7h0M409.2 154.2h0M400.2 151.3h0M406.7 145.1h0M418.4 154.2h0M619.2 142.8h0M400.5 148.7h0M401.2 150.5h0M647.6 151.9h0M400.6 138.5h0M405.6 144.0h0M405.9 144.2h0M402.2 140.7h0M637.3 150.9h0M400.7 143.7h0M400.2 147.6h0M411.7 140.0h0M401.3 140.3h0M402.2 152.2h0M406.3 151.6h0M633.0 146.6h0M400.9 145.6h0M633.5 148.7h0M405.6 151.3h0M647.6 150.4h0M647.0 150.1h0M414.6 156.6h0M401.1 151.9h0M418.4 152.6h0M638.9 147.8h0M639.8 148.3h0M399.9 145.9h0M635.4 151.0h0M400.9 148.2h0M637.7 148.5h0M635.3 152.7h0M640.0 148.7h0M400.7 148.9h0M399.7 145.8h0M646.8 152.9h0M632.9 146.8h0M398.9 147.7h0M640.4 151.0h0M647.8 151.7h0M645.2 149.4h0M407.1 142.7h0M417.4 155.3h0M637.4 148.6h0M422.2 140.2h0M628.8 148.7h0M645.2 152.0h0M628.3 147.9h0M401.8 154.0h0M644.4 151.0h0M400.4 151.2h0M647.7 150.7h0M647.7 150.7h0M644.7 149.2h0M413.4 153.5h0M412.9 151.4h0M406.6 151.3h0M405.5 152.2h0M648.0 151.5h0M635.6 146.9h0M641.0 151.9h0M404.9 148.6h0M641.9 148.7h0M404.0 153.1h0M412.7 148.7h0M401.1 151.0h0M401.5 148.2h0M643.7 155.0h0M398.8 147.7h0M414.3 151.4h0M619.0 144.5h0M645.4 151.5h0M642.7 151.4h0M407.0 140.5h0M416.1 155.0h0M647.8 150.4h0M400.8 146.6h0M644.6 149.3h0M402.1 153.7h0M647.0 150.9h0M399.2 141.0h0M403.6 139.2h0M407.3 148.3h0M620.2 143.4h0M411.6 142.2h0M416.9 155.3h0M414.1 157.3h0M400.1 149.1h0M399.9 149.5h0M413.9 154.2h0M640.9 148.6h0M638.9 149.8h0M636.6 148.2h0M636.6 147.2h0M637.8 149.1h0M399.3 145.5h0M399.3 144.5h0M401.2 146.8h0M409.1 151.3h0M643.7 150.5h0M399.8 146.5h0M629.7 153.5h0M399.3 143.7h0M407.6 147.7h0M405.7 150.4h0M639.8 151.6h0M625.2 145.1h0M404.1 153.7h0M400.3 149.0h0M409.3 151.9h0M411.2 150.6h0M414.5 153.4h0M403.7 150.9h0M402.8 149.5h0M646.0 151.3h0M647.8 150.7h0M639.1 152.8h0M403.8 148.2h0M621.3 144.0h0M417.0 153.1h0M628.8 147.0h0M642.9 150.4h0M627.7 145.5h0M399.0 145.3h0M623.9 159.4h0M628.0 148.3h0M405.7 151.8h0M624.5 150.6h0M637.6 148.2h0M405.3 144.9h0M401.4 141.6h0M633.8 146.9h0M645.9 152.2h0M399.1 150.6h0M407.6 152.1h0M647.5 150.2h0M400.5 146.0h0M647.0 150.3h0M647.0 149.8h0M405.2 149.3h0M406.3 152.1h0M647.8 152.7h0M399.3 150.1h0M647.4 153.0h0M401.0 148.4h0M399.4 148.6h0M407.5 157.0h0M640.8 151.0h0M647.4 154.6h0M646.3 149.7h0M621.7 155.3h0M630.9 148.1h0M412.6 149.3h0M648.0 151.0h0M647.7 152.0h0M398.9 147.7h0M623.0 148.3h0M641.0 154.9h0M405.5 151.1h0M399.0 144.4h0M646.5 150.1h0M399.5 144.9h0M645.3 152.2h0M398.9 149.9h0M633.9 149.2h0M647.4 151.3h0M636.9 148.0h0M645.6 149.5h0M405.1 147.7h0M645.4 151.3h0M639.5 148.2h0M645.4 150.6h0M638.9 147.9h0M635.4 153.1h0M414.2 149.9h0M402.3 153.4h0M642.1 149.6h0M605.7 141.8h0M401.7 144.6h0M646.0 152.1h0M646.2 150.9h0M398.7 139.0h0M638.8 148.6h0M640.0 149.4h0M406.4 150.0h0M647.6 151.4h0M641.0 152.2h0M642.7 149.5h0M409.6 149.8h0M633.0 149.9h0M636.5 148.2h0M643.0 152.1h0M402.5 144.7h0M634.9 148.5h0M629.8 156.6h0M637.9 147.9h0M624.7 144.5h0M645.1 149.7h0M400.8 144.4h0M642.5 153.3h0M615.3 142.9h0M405.9 139.6h0M636.7 148.0h0M634.6 146.9h0M643.4 154.0h0M405.2 153.0h0M402.6 153.5h0M407.6 154.2h0M413.9 152.5h0M407.9 152.7h0M406.4 143.6h0M645.3 153.1h0M646.3 150.1h0M621.6 148.7h0M625.8 145.1h0M406.1 151.4h0M632.0 147.1h0M400.4 147.0h0M647.2 151.3h0M399.1 151.3h0M399.3 150.0h0M415.3 146.4h0M607.1 143.6h0M645.9 150.5h0M633.3 148.1h0M647.2 151.8h0M633.1 146.5h0M403.3 146.8h0M399.1 149.6h0M416.2 154.1h0M414.7 153.6h0M398.9 149.5h0M647.4 151.9h0M636.6 147.7h0M638.5 149.7h0M405.7 153.4h0M406.9 153.5h0M646.6 152.4h0M637.0 148.5h0M407.4 151.2h0M638.0 149.2h0M403.1 142.9h0M629.9 147.7h0M639.2 148.8h0M630.3 152.3h0M399.6 148.1h0M647.5 152.7h0M404.3 149.8h0M416.7 152.6h0M403.6 148.5h0M647.9 154.2h0M415.4 154.1h0M642.8 148.8h0M400.5 150.6h0M403.6 147.3h0M400.8 149.4h0M617.5 142.6h0M424.3 156.2h0M641.8 148.6h0M414.9 156.3h0M399.8 150.4h0M416.1 152.5h0M409.9 152.2h0M405.8 151.1h0M399.0 152.5h0M406.0 151.9h0M404.4 149.4h0M634.6 149.1h0M400.7 148.7h0M628.1 146.0h0M647.4 151.2h0M646.5 150.2h0M646.4 150.4h0M627.2 147.5h0M633.4 148.9h0M419.4 154.1h0M413.1 152.1h0M400.7 149.2h0M405.9 151.2h0M646.5 150.7h0M628.8 149.1h0M400.6 145.5h0M418.2 148.9h0M398.8 147.6h0M402.1 151.0h0M401.3 148.4h0M415.5 152.9h0M647.3 150.6h0M637.8 150.1h0M646.9 151.7h0M400.8 147.5h0M402.7 150.7h0M646.0 151.0h0M406.7 149.8h0M628.3 146.6h0M644.9 149.4h0M400.2 149.5h0M401.7 153.5h0M403.9 148.2h0M400.0 145.2h0M404.7 148.4h0M402.9 153.0h0M639.6 150.3h0M405.1 145.2h0M405.7 146.9h0M411.9 154.7h0M634.8 148.0h0M399.6 148.6h0M409.9 142.8h0M636.1 147.3h0M412.9 152.3h0M637.7 149.8h0M414.1 149.1h0M647.9 152.2h0M647.2 150.7h0M624.5 144.2h0M400.0 148.4h0M638.1 147.7h0M404.0 146.1h0M646.5 151.7h0M399.3 149.0h0M633.6 147.0h0M400.1 147.0h0M411.5 149.0h0M647.8 154.9h0M638.2 152.4h0M402.4 143.5h0M402.0 145.5h0M646.4 150.0h0M646.1 152.2h0M636.8 149.7h0M399.5 149.1h0M402.5 150.4h0M626.9 145.2h0M644.3 152.3h0M629.6 146.1h0M410.0 149.4h0M408.2 152.8h0M640.5 148.6h0M631.8 147.2h0M405.8 148.8h0M401.1 148.2h0M398.7 150.0h0M641.3 149.3h0M405.9 150.0h0M638.6 147.7h0M400.1 147.8h0M408.6 151.1h0M634.8 147.2h0M410.3 152.7h0M634.4 151.3h0M642.2 150.3h0M640.4 148.4h0M413.4 149.9h0M410.9 152.1h0M399.0 149.4h0M628.1 145.1h0M404.7 151.5h0M622.0 147.1h0M406.5 138.5h0M643.9 150.5h0M646.2 151.2h0M644.0 150.9h0M406.1 148.7h0M411.4 149.9h0M647.9 151.1h0M634.1 148.3h0M408.9 151.5h0M403.6 152.1h0M406.8 150.7h0M399.7 146.9h0M408.1 151.2h0M636.0 154.7h0M644.1 152.1h0M415.4 154.5h0M411.9 153.3h0M408.4 143.7h0M420.5 154.1h0M647.5 151.0h0M632.6 149.9h0M399.9 148.3h0M413.0 148.1h0M400.6 145.9h0M415.5 154.2h0M402.5 141.6h0M646.5 153.1h0M640.1 149.6h0M638.4 149.1h0M403.8 151.4h0M416.6 151.4h0M399.5 146.0h0M629.7 154.2h0M641.9 150.2h0M404.8 149.5h0M415.4 154.7h0M638.9 147.9h0M628.3 151.1h0M638.0 155.9h0M648.1 150.6h0M399.2 143.7h0M411.1 139.9h0M422.3 148.4h0M643.4 153.0h0M627.7 145.1h0M404.2 150.3h0M627.6 154.6h0M625.5 144.8h0M408.3 147.2h0M647.1 151.5h0M407.4 148.0h0M406.2 148.8h0M629.3 146.2h0M648.0 152.4h0M636.9 149.3h0M647.4 151.5h0M403.6 144.7h0M641.6 151.2h0M399.8 150.1h0M401.8 150.5h0M604.0 140.3h0M640.9 149.5h0M398.9 148.9h0M641.2 149.0h0M406.2 150.8h0M646.4 150.7h0M645.1 150.0h0M599.9 140.0h0M417.9 153.8h0M402.0 144.8h0M624.9 146.3h0M399.9 152.9h0M647.1 153.1h0M641.9 150.5h0M403.0 149.2h0M399.4 150.1h0M642.2 148.6h0M627.6 147.3h0M399.4 151.8h0M633.0 147.5h0M407.2 144.3h0M646.5 150.0h0M399.5 150.7h0M646.4 150.3h0M646.9 149.9h0M399.7 150.1h0M405.8 146.0h0M411.0 153.2h0M399.0 148.1h0M645.8 150.4h0M404.9 145.9h0M641.7 151.0h0M408.1 146.3h0M643.1 151.8h0M628.7 146.7h0M402.6 148.1h0M634.1 148.0h0M633.5 149.0h0M644.8 151.7h0M647.8 152.6h0M620.1 148.0h0M403.7 149.7h0M646.2 157.4h0M413.4 143.8h0M633.3 149.6h0M638.7 148.7h0M644.0 152.3h0M614.3 150.8h0M406.3 152.3h0M406.9 139.3h0M398.8 149.9h0M637.0 147.4h0M409.3 151.6h0M647.8 151.7h0M619.7 145.8h0M647.0 150.2h0M399.3 146.2h0M410.0 152.9h0M420.3 153.7h0M400.4 145.9h0M407.1 151.0h0M647.3 151.0h0M623.2 145.6h0M408.4 147.4h0M402.2 143.6h0M402.9 143.3h0M419.4 153.4h0M635.4 146.9h0M642.4 149.8h0M406.5 152.2h0M418.6 152.0h0M645.9 151.2h0M402.3 149.3h0M400.5 149.7h0M646.1 149.7h0M642.5 149.6h0M646.9 150.0h0M399.8 144.5h0M635.2 148.9h0M399.7 150.1h0M399.9 148.9h0M405.6 148.9h0M647.8 153.8h0M399.9 143.4h0M401.7 149.6h0M403.9 138.2h0M405.4 149.4h0M642.4 153.5h0M402.9 147.1h0M420.1 153.7h0M647.6 150.2h0M406.4 151.9h0M647.4 150.9h0M399.1 148.5h0M645.6 150.6h0M408.8 146.9h0M646.6 149.8h0M636.4 150.8h0M634.7 147.3h0M631.5 149.6h0M648.0 153.6h0M647.6 151.6h0M647.1 151.4h0M648.0 150.7h0M406.6 152.0h0M636.5 149.6h0M647.8 151.0h0M630.1 148.9h0M415.2 153.9h0M399.7 150.1h0M399.3 144.3h0M633.8 148.6h0M647.6 151.5h0M415.1 154.6h0M640.0 149.5h0M400.7 148.2h0M634.9 147.5h0M404.9 140.8h0M648.1 150.8h0M648.1 152.9h0M646.7 152.4h0M636.1 147.7h0M404.1 146.0h0M402.0 148.4h0M401.9 144.0h0M398.8 148.5h0M402.4 152.0h0M427.8 159.1h0M410.7 149.0h0M647.7 150.7h0M407.2 143.6h0M399.9 147.9h0M417.6 142.6h0M611.0 147.5h0M399.1 145.1h0M622.1 150.7h0M407.3 149.6h0M648.0 150.4h0M633.3 147.2h0M647.9 151.2h0M406.5 148.8h0M625.4 144.5h0M643.5 151.1h0M408.5 146.3h0M401.1 150.7h0M635.0 148.4h0M638.4 149.5h0M407.5 145.8h0M644.7 152.1h0M636.8 148.2h0M399.9 150.0h0M406.1 150.5h0M402.4 146.1h0M611.7 143.5h0M625.7 146.3h0M402.2 152.4h0M645.5 150.9h0M400.0 150.5h0M400.6 148.6h0M644.4 149.8h0M644.1 150.5h0M633.9 149.1h0M399.8 146.4h0M402.3 151.1h0M627.9 147.4h0M637.7 147.4h0M402.4 149.2h0M401.6 151.3h0M416.5 143.8h0M410.3 151.2h0M647.0 150.5h0M408.0 151.8h0M399.5 149.1h0M405.7 150.4h0M636.3 150.4h0M410.4 153.4h0M399.4 148.6h0M404.8 149.6h0M416.8 152.7h0M410.2 150.8h0M643.6 149.5h0M399.9 153.2h0M636.9 152.5h0M633.9 150.1h0M646.1 150.1h0M402.9 150.0h0M645.4 149.9h0M618.0 145.7h0M648.1 152.6h0M398.8 148.7h0M639.0 156.6h0M644.6 151.5h0M402.8 149.5h0M404.0 149.6h0M623.9 144.2h0M416.4 150.9h0M414.3 153.2h0M642.9 148.8h0M401.9 146.7h0M405.3 151.6h0M647.0 150.7h0M647.7 156.8h0M403.1 150.4h0" stroke="#000" stroke-opacity="0.3" stroke-width="1.8" stroke-linecap="round" fill="none"/><path d="M399.7 149.9h0M400.5 152.9h0M412.1 153.7h0M640.4 151.5h0M618.1 145.4h0M638.1 156.7h0M401.7 147.9h0M401.2 149.9h0M399.4 146.6h0M403.4 150.6h0M402.2 146.8h0M640.2 148.2h0M641.0 152.4h0M617.4 143.9h0M637.1 147.6h0M641.8 148.9h0M622.3 143.8h0M413.9 138.7h0M627.0 150.8h0M617.8 144.3h0M411.2 150.2h0M399.6 145.8h0M629.5 147.5h0M420.8 156.3h0M409.7 152.9h0M411.3 138.3h0M647.3 150.8h0M642.9 150.7h0M408.1 152.1h0M633.4 149.1h0M647.2 155.1h0M631.4 146.7h0M647.2 150.8h0M403.1 149.7h0M641.1 150.5h0M403.0 147.7h0M399.8 151.6h0M408.8 148.2h0M638.3 148.2h0M398.9 148.6h0M404.7 149.1h0M399.5 148.6h0M402.9 149.3h0M647.5 150.7h0M647.0 150.5h0M637.2 148.0h0M639.1 154.9h0M627.8 146.0h0M399.7 146.9h0M409.6 151.8h0M621.7 146.3h0M408.1 153.5h0M608.0 143.0h0M399.4 141.9h0M400.6 149.0h0M639.9 148.8h0M646.0 153.2h0M402.1 151.0h0M399.5 154.9h0M403.3 151.2h0M405.9 151.5h0M402.9 149.5h0M401.6 144.1h0M641.5 149.6h0M413.1 152.8h0M645.5 150.6h0M647.6 151.8h0M399.8 149.1h0M398.9 148.7h0M647.6 151.3h0M642.7 149.0h0M647.7 152.3h0M414.9 152.9h0M622.3 143.9h0M399.4 148.5h0M399.9 149.9h0M401.0 150.7h0M646.3 150.9h0M417.4 152.7h0M399.4 147.7h0M398.9 147.6h0M405.2 152.7h0M400.5 147.6h0M400.1 149.5h0M420.1 156.2h0M645.9 151.7h0M645.1 150.6h0M403.7 149.4h0M645.7 152.3h0M623.5 155.6h0M407.1 150.9h0M627.9 148.6h0M400.5 148.4h0M399.9 148.3h0M646.9 150.6h0M647.4 152.5h0M629.9 148.6h0M638.3 147.7h0M418.1 158.0h0M402.9 151.0h0M400.1 144.1h0M642.0 149.3h0M638.8 152.1h0M406.3 150.8h0M603.8 139.5h0M625.1 147.5h0M398.8 145.9h0M400.1 146.8h0M646.3 151.0h0M630.8 147.2h0M400.3 149.4h0M648.1 150.3h0M634.0 147.0h0M399.6 148.0h0M632.3 148.7h0M631.0 149.8h0M402.9 138.9h0M413.0 155.3h0M647.7 152.2h0M400.9 153.5h0M420.5 153.0h0M633.3 154.9h0M404.8 150.9h0M399.1 148.3h0M411.3 143.2h0M410.5 151.7h0M607.4 141.7h0M641.9 149.4h0M633.5 148.5h0M637.7 149.1h0M645.0 150.8h0M638.5 149.6h0M639.7 155.4h0M408.2 143.5h0M402.9 149.2h0M647.1 152.3h0M640.1 149.8h0M632.7 147.1h0M628.1 154.9h0M404.3 150.2h0M637.6 149.0h0M637.2 147.5h0M401.9 147.6h0M399.3 146.6h0M411.6 156.3h0M641.7 148.9h0M638.6 148.0h0M403.4 149.9h0M400.5 145.8h0M647.4 153.1h0M643.8 149.8h0M647.3 154.1h0M627.2 146.2h0M647.4 151.7h0M406.2 151.4h0M623.2 144.3h0M403.5 148.0h0M402.4 150.9h0M408.1 138.2h0M647.1 150.4h0M400.8 144.7h0M399.1 145.5h0M404.8 151.1h0M636.6 148.5h0M398.8 150.0h0M410.2 148.1h0M400.7 149.4h0M399.2 150.0h0M398.8 148.6h0M403.7 150.5h0M409.0 152.2h0M407.8 152.2h0M411.0 149.6h0M422.2 154.3h0M404.7 150.0h0M405.3 149.8h0M640.4 155.5h0M626.4 145.9h0M405.9 150.0h0M620.1 146.3h0M400.4 146.2h0M638.6 149.8h0M630.5 146.7h0M404.4 139.3h0M644.9 153.3h0M400.2 148.6h0M618.4 145.8h0M644.8 150.7h0M642.6 151.0h0M644.4 150.4h0M416.0 146.3h0M404.4 150.3h0M404.7 149.2h0M634.1 149.0h0M645.1 150.1h0M407.4 148.3h0M418.2 143.2h0M633.9 152.2h0M635.5 147.1h0M622.8 145.7h0M646.4 150.6h0M644.2 150.7h0M413.8 145.7h0M646.4 150.0h0M647.7 153.3h0M629.4 148.8h0M405.6 151.2h0M405.4 144.6h0M646.9 151.7h0M642.0 151.7h0M398.8 149.4h0M401.1 150.7h0M398.7 148.2h0M410.9 152.1h0M633.5 148.2h0M626.0 144.8h0M645.9 149.6h0M640.4 149.0h0M401.5 148.3h0M409.1 152.2h0M408.7 152.3h0M410.6 148.1h0M633.3 146.9h0M640.6 149.4h0M398.8 150.9h0M403.8 148.8h0M414.4 143.4h0M408.2 146.4h0M633.4 150.4h0M404.7 148.6h0M407.9 152.7h0M634.1 147.2h0M405.8 151.1h0M647.2 152.4h0M411.9 151.7h0M413.9 151.4h0M645.7 149.7h0M398.9 149.5h0M400.2 151.7h0M409.3 152.7h0M400.5 141.0h0M408.3 149.1h0M636.5 151.9h0M415.2 144.0h0M619.6 149.9h0M404.3 148.2h0M406.9 143.7h0M634.0 152.0h0M637.4 150.5h0M418.2 141.9h0M401.2 147.4h0M405.2 146.4h0M404.4 150.7h0M426.3 144.4h0M402.3 150.9h0M411.3 152.9h0M410.7 150.9h0M406.4 149.1h0M408.6 155.6h0M646.2 149.9h0M623.1 144.8h0M644.2 152.5h0M398.8 149.7h0M648.0 151.8h0M619.3 146.5h0M399.1 146.3h0M401.1 138.8h0M621.7 143.4h0M638.2 148.4h0M401.6 144.7h0M404.7 151.5h0M629.0 149.8h0M637.4 147.8h0M404.2 143.2h0M631.7 154.1h0M399.5 149.4h0M411.5 141.4h0M641.5 148.5h0M405.3 150.7h0M623.5 153.9h0M408.4 152.6h0M646.9 149.8h0M637.0 147.9h0M398.8 148.2h0M400.1 148.3h0M412.3 152.4h0M414.5 153.4h0M424.4 157.0h0M409.7 152.0h0M636.2 149.6h0M404.3 143.0h0M637.5 148.9h0M636.8 149.6h0M642.6 150.7h0M635.3 148.8h0M629.1 147.1h0M403.5 138.4h0M410.5 150.2h0M403.7 151.4h0M399.9 150.0h0M405.9 150.2h0M405.2 149.8h0M623.1 147.5h0M644.1 149.6h0M404.9 150.1h0M418.7 153.0h0M400.4 147.6h0M420.7 143.5h0M414.0 154.6h0M403.0 145.3h0M647.9 150.3h0M625.2 145.8h0M623.6 144.1h0M647.9 151.3h0M401.2 139.8h0M417.2 154.3h0M645.9 149.7h0M412.2 151.1h0M401.4 152.5h0M400.5 145.9h0M639.2 148.8h0M625.4 149.7h0M635.4 147.3h0M642.4 152.9h0M647.3 151.1h0M641.5 152.2h0M629.4 147.9h0M402.3 144.2h0M647.7 150.4h0M408.9 150.7h0M413.9 150.7h0M644.5 149.3h0M400.8 148.9h0M398.7 149.6h0M409.7 152.7h0M399.2 143.8h0M406.8 150.6h0M637.4 148.1h0M634.6 147.8h0M631.2 147.2h0M620.1 151.6h0M634.5 151.8h0M399.1 145.5h0M646.4 150.6h0M636.8 147.3h0M400.8 148.0h0M400.8 150.2h0M404.5 151.4h0M639.5 149.1h0M647.2 152.1h0M638.8 154.4h0M640.7 149.1h0M409.9 144.3h0M400.4 149.2h0M399.4 147.4h0M633.4 146.6h0M430.4 158.7h0M636.0 148.3h0M404.9 149.2h0M647.4 150.1h0M645.5 150.5h0M639.8 152.4h0M632.2 148.7h0M409.4 152.4h0M400.0 141.9h0M405.5 157.3h0M643.0 150.4h0M401.7 150.5h0M410.7 143.6h0M403.2 148.9h0M399.5 149.8h0M642.7 149.9h0M642.4 149.5h0M634.7 147.9h0M410.8 152.2h0M407.0 150.5h0M401.7 142.3h0M613.9 155.0h0M646.7 150.6h0M399.7 147.4h0M641.0 148.7h0M409.6 153.0h0M414.5 154.8h0M400.5 149.9h0M643.3 149.8h0M641.0 149.2h0M400.1 150.4h0M400.5 148.3h0M404.9 150.7h0M621.9 143.7h0M646.9 150.7h0M400.8 154.0h0M647.7 151.8h0M403.5 138.6h0M638.3 150.5h0M633.1 154.9h0M402.4 142.4h0M637.1 151.0h0M643.2 150.4h0M403.2 149.7h0M417.5 153.7h0M646.5 153.6h0M412.0 153.1h0M411.5 148.7h0M626.5 145.2h0M401.7 148.7h0M420.4 146.5h0M634.6 148.1h0M399.5 148.4h0M647.6 150.5h0M647.9 151.3h0M399.0 150.6h0M398.7 149.7h0M407.9 148.7h0M405.7 152.0h0M407.1 150.3h0M398.9 147.4h0M624.1 148.1h0M641.0 149.0h0M619.7 145.3h0M624.0 153.6h0M408.4 150.6h0M640.6 150.3h0M401.6 148.2h0M646.9 150.3h0M619.0 147.2h0M400.3 148.2h0M633.4 151.4h0M635.6 151.8h0M627.9 148.9h0M401.9 139.9h0M422.0 147.3h0M398.7 146.4h0M639.0 148.0h0M399.4 152.1h0M405.9 152.0h0M637.7 149.6h0M419.6 146.8h0M421.7 158.3h0M642.4 151.2h0M422.4 140.6h0M402.4 150.1h0M400.3 149.3h0M625.0 149.8h0M401.9 146.1h0M399.5 149.0h0M644.3 151.3h0M402.4 150.2h0M407.0 150.4h0M647.5 150.9h0M398.9 148.2h0M399.4 139.7h0M634.8 146.8h0M401.5 144.3h0M404.4 151.2h0M646.8 150.9h0M632.8 149.0h0M624.5 148.1h0M417.0 155.3h0M630.2 153.5h0M644.5 149.2h0M399.0 152.3h0M627.8 146.5h0M630.7 147.9h0M417.2 146.7h0M646.9 152.2h0M412.4 153.9h0M637.2 148.2h0M644.0 150.8h0M408.4 151.9h0M399.7 150.2h0M644.5 150.7h0M406.9 146.2h0M642.2 151.9h0M399.4 149.5h0M640.5 148.2h0M633.9 148.2h0M637.4 155.0h0M636.1 147.7h0M414.6 153.0h0M402.2 144.8h0M407.8 152.5h0M405.7 151.6h0M633.7 149.7h0M400.2 144.3h0M401.6 148.1h0M403.3 150.0h0M647.3 151.2h0M634.8 153.4h0M632.5 148.7h0M398.8 149.8h0M639.2 148.9h0M399.8 147.9h0M628.7 145.3h0M638.6 150.0h0M634.4 148.1h0M415.4 154.6h0M626.9 147.3h0M642.4 149.6h0M422.7 156.6h0M637.9 150.5h0M398.9 149.7h0M632.0 147.3h0M399.6 143.0h0M645.3 150.1h0M628.4 147.6h0M634.7 148.3h0M629.6 153.0h0M647.5 152.6h0M640.2 149.7h0M636.6 151.5h0M400.1 148.7h0M421.8 146.6h0M402.3 148.0h0M410.3 148.1h0M644.5 149.8h0M411.6 146.4h0M400.9 148.8h0M647.3 152.7h0M400.8 145.4h0M398.9 149.0h0M399.0 145.0h0M624.5 145.0h0M399.5 152.2h0M412.3 153.7h0M400.0 148.6h0M421.3 142.7h0M641.5 150.3h0M409.7 150.9h0M406.4 151.5h0M629.5 146.9h0M647.8 151.0h0M400.1 148.8h0M399.7 148.0h0M408.6 152.6h0M401.4 145.5h0M647.5 153.1h0M639.8 148.4h0M635.6 147.7h0M648.0 152.6h0M405.5 154.1h0M399.3 146.5h0M632.5 148.8h0M400.1 149.7h0M420.2 152.5h0M407.6 144.3h0M399.2 148.9h0M635.1 152.5h0M631.0 151.4h0M647.7 151.8h0M640.8 149.8h0M631.0 147.7h0M410.2 153.5h0M415.3 145.3h0M646.6 150.1h0M647.5 150.7h0M413.9 150.2h0M645.2 149.5h0M643.7 150.7h0M621.6 146.0h0M409.9 153.0h0M640.6 149.8h0M400.3 148.9h0M624.2 144.9h0M628.9 147.7h0M630.3 145.6h0M620.6 155.6h0M402.9 151.2h0M639.0 149.5h0M411.7 152.1h0M641.3 150.5h0M637.9 150.0h0M626.0 146.9h0M398.7 152.0h0M642.4 149.6h0M399.9 145.6h0M399.6 149.3h0M399.1 149.4h0M645.3 149.7h0M633.3 148.4h0M624.3 144.6h0M410.1 150.4h0M648.1 154.6h0M620.9 149.5h0M402.2 150.2h0M402.7 148.1h0M403.4 144.6h0M402.8 144.6h0M400.0 150.2h0M402.2 149.7h0M401.5 144.0h0M635.0 149.0h0M647.3 153.6h0M403.1 148.8h0M401.1 147.5h0M401.9 150.3h0M646.9 151.4h0M403.9 150.5h0M416.0 149.4h0M647.5 150.0h0M401.5 150.1h0M645.2 150.5h0M398.7 145.2h0M419.7 153.3h0M639.8 152.8h0M645.3 154.0h0M633.3 146.5h0M411.6 151.0h0M647.5 150.2h0M411.9 151.2h0M405.8 150.3h0M648.0 150.5h0M409.8 152.3h0M401.7 148.2h0M413.7 146.3h0M399.6 147.2h0M638.2 149.0h0M402.5 149.0h0M648.1 152.7h0M403.9 148.8h0M412.7 150.7h0M619.9 144.2h0M408.9 151.7h0M637.2 152.4h0M413.8 152.5h0M644.9 151.6h0M399.3 153.2h0M408.5 149.7h0M399.6 150.5h0M399.3 150.3h0M646.2 152.3h0M619.1 143.5h0M647.9 153.7h0M412.3 146.5h0M405.2 141.5h0M403.5 146.3h0M399.7 147.6h0M403.4 150.2h0M402.9 148.9h0M401.0 139.5h0M406.9 149.3h0M631.3 148.0h0M642.7 150.1h0M634.3 146.9h0M417.6 152.8h0M619.5 143.6h0M644.5 150.9h0M401.8 140.8h0M625.7 145.7h0M424.6 152.9h0M404.4 156.1h0M400.7 141.9h0M642.0 149.7h0M404.3 143.7h0M641.9 148.8h0M647.9 152.5h0M635.2 152.0h0M627.9 156.6h0M628.8 146.8h0M642.5 149.6h0M627.5 149.0h0M637.1 149.2h0M401.0 149.7h0M646.6 150.0h0M647.9 151.2h0M402.0 150.7h0M422.8 159.2h0M400.3 149.4h0M407.7 145.0h0M643.0 152.3h0M642.4 150.9h0M403.0 151.3h0M636.3 155.3h0M644.7 151.1h0M647.7 150.2h0M404.8 148.0h0M417.8 145.5h0M645.3 150.8h0M402.8 151.0h0M404.9 148.0h0M643.1 150.4h0M399.0 140.0h0M414.6 154.4h0M642.7 150.6h0M402.5 152.7h0M401.1 149.5h0M406.8 150.6h0M399.9 147.6h0M402.5 149.3h0M638.1 150.5h0M401.8 150.9h0M637.5 148.2h0M637.6 148.0h0M644.3 152.3h0M647.7 150.2h0M634.5 151.9h0M399.7 154.2h0M412.8 153.8h0M639.5 148.0h0M625.6 146.0h0M640.9 153.4h0M631.2 148.4h0M638.6 148.0h0M627.7 145.6h0M410.9 152.7h0M642.3 151.0h0M647.6 152.9h0M646.2 150.8h0M403.0 149.4h0M642.3 152.6h0M642.9 150.2h0M638.1 150.0h0M403.0 148.0h0M615.4 149.2h0M401.4 142.6h0M419.8 144.4h0M643.4 150.3h0M401.7 143.3h0M630.0 147.6h0M399.0 149.1h0M639.9 151.4h0M412.7 143.4h0M398.8 144.8h0M400.3 149.8h0M639.3 151.5h0M641.2 151.8h0M401.6 150.5h0M623.2 147.1h0M407.9 150.5h0M422.7 153.8h0M412.2 152.3h0M631.0 147.2h0M405.8 147.6h0" stroke="#000" stroke-opacity="0.3" stroke-width="1.8" stroke-linecap="round" fill="none"/><path d="M644.4 149.6h0M618.1 146.7h0M402.6 150.0h0M415.2 153.4h0M642.2 150.6h0M399.1 148.5h0M406.3 147.9h0M647.8 150.7h0M399.0 147.3h0M405.5 148.4h0M638.0 148.2h0M414.3 150.9h0M411.1 153.5h0M410.0 148.8h0M637.3 149.2h0M414.2 146.9h0M403.6 151.0h0M635.7 148.5h0M398.8 148.7h0M408.9 152.5h0M408.8 152.4h0M411.9 141.0h0M641.4 151.3h0M407.2 141.7h0M399.6 138.3h0M403.2 145.5h0M404.8 150.7h0M633.4 149.9h0M642.5 151.2h0M630.3 146.5h0M399.7 144.7h0M412.7 152.4h0M411.8 147.0h0M403.7 151.0h0M401.5 138.2h0M401.4 145.5h0M402.0 149.7h0M404.8 151.6h0M638.0 148.4h0M401.5 144.3h0M647.4 152.8h0M409.9 155.3h0M407.4 151.5h0M402.3 144.3h0M399.5 138.6h0M630.9 148.3h0M627.7 149.2h0M406.7 147.4h0M636.4 150.6h0M401.9 144.4h0M401.5 150.5h0M635.0 148.5h0M428.6 157.9h0M639.9 148.8h0M403.0 148.7h0M645.6 150.1h0M636.5 152.0h0M411.3 151.0h0M411.4 149.6h0M646.2 154.0h0M419.7 154.1h0M412.6 153.4h0M643.5 149.8h0M646.7 150.3h0M635.0 147.3h0M412.1 147.9h0M629.2 148.6h0M401.1 149.8h0M647.5 151.3h0M409.7 146.2h0M647.0 156.3h0M647.8 150.4h0M407.7 144.2h0M409.7 149.6h0M399.3 146.4h0M405.3 152.3h0M409.1 152.9h0M644.3 150.7h0M400.8 149.2h0M402.3 148.4h0M646.8 152.1h0M645.6 151.5h0M404.5 146.7h0M646.2 149.9h0M399.3 151.2h0M402.4 142.1h0M406.9 151.2h0M416.2 151.0h0M644.7 149.7h0M634.8 152.7h0M401.0 150.4h0M405.4 143.8h0M631.1 148.4h0M398.8 143.6h0M642.9 152.7h0M416.4 151.8h0M628.0 145.2h0M631.2 151.6h0M638.2 153.4h0M411.6 156.0h0M647.1 152.0h0M410.4 150.0h0M641.0 149.8h0M403.4 145.7h0M626.9 146.5h0M401.3 150.5h0M628.4 152.0h0M634.7 150.3h0M636.1 149.6h0M402.1 151.0h0M632.0 149.8h0M644.9 150.4h0M635.7 147.2h0M407.2 145.5h0M638.8 148.7h0M400.9 148.8h0M630.9 147.2h0M411.5 155.1h0M647.5 152.7h0M647.2 150.7h0M418.0 153.1h0M635.9 147.9h0M646.6 152.0h0M401.6 152.9h0M414.5 149.8h0M635.2 150.6h0M630.8 150.3h0M632.4 146.5h0M406.5 153.0h0M401.3 149.7h0M407.0 150.4h0M400.4 150.6h0M642.1 149.6h0M418.1 153.7h0M630.3 158.3h0M644.4 149.2h0M399.8 149.9h0M401.1 149.9h0M400.0 148.9h0M634.1 147.3h0M398.9 148.2h0M400.6 150.4h0M641.7 149.5h0M646.1 151.0h0M419.4 153.0h0M402.5 150.9h0M408.0 154.4h0M646.9 153.4h0M399.3 148.3h0M398.9 149.7h0M406.9 139.7h0M400.2 150.0h0M647.7 151.0h0M638.4 148.5h0M636.9 147.8h0M647.2 150.6h0M399.8 149.5h0M641.5 150.8h0M401.1 149.7h0M403.1 150.1h0M410.9 151.6h0M423.5 156.8h0M647.6 152.3h0M641.3 151.1h0M399.0 147.1h0M648.1 152.5h0M640.4 150.8h0M627.6 149.9h0M647.1 150.6h0M399.4 149.6h0M402.4 149.1h0M411.8 153.8h0M630.9 151.3h0M399.1 149.4h0M401.9 149.6h0M399.3 149.7h0M409.8 153.2h0M643.0 151.8h0M400.9 149.7h0M400.1 149.6h0M639.1 150.5h0M624.5 144.7h0M631.0 153.7h0M629.1 148.3h0M644.8 149.5h0M627.5 151.7h0M408.8 151.8h0M641.2 149.2h0M640.3 157.3h0M410.5 150.8h0M400.8 150.6h0M399.3 145.8h0M426.7 155.6h0M402.1 141.5h0M404.0 148.9h0M404.3 153.3h0M402.8 147.4h0M634.7 148.1h0M637.1 149.7h0M408.2 151.6h0M400.5 144.8h0M632.5 155.8h0M626.1 144.5h0M399.6 143.9h0M644.0 156.1h0M646.8 150.2h0M639.7 150.3h0M646.1 151.1h0M412.1 153.3h0M623.9 147.4h0M410.3 152.9h0M647.0 150.4h0M647.5 150.8h0M403.7 150.1h0M400.4 148.7h0M637.8 147.6h0M404.5 149.3h0M637.2 147.6h0M642.3 151.5h0M638.1 152.2h0M399.2 148.3h0M648.1 152.5h0M398.9 148.3h0M647.4 154.8h0M621.5 145.3h0M637.2 150.6h0M629.9 145.8h0M647.9 151.1h0M639.7 148.6h0M398.9 148.2h0M399.2 149.9h0M401.8 143.5h0M627.1 157.9h0M402.1 147.9h0M642.0 150.0h0M646.4 153.7h0M416.3 140.7h0M410.9 148.8h0M644.3 151.3h0M631.0 148.3h0M619.2 143.8h0M411.7 150.4h0M642.2 149.9h0M636.6 147.4h0M643.1 150.7h0M640.8 153.8h0M411.9 145.0h0M631.3 149.6h0M399.5 147.6h0M406.6 150.9h0M632.3 147.0h0M417.0 153.8h0M414.9 154.7h0M406.0 150.7h0M399.8 145.7h0M647.5 150.2h0M420.9 152.3h0M634.3 149.3h0M621.5 146.7h0M647.0 150.3h0M647.4 150.5h0M418.0 153.2h0M399.3 140.1h0M646.9 150.2h0M399.8 146.6h0M644.6 154.7h0M648.1 153.7h0M426.5 157.9h0M627.9 145.3h0M406.0 151.5h0M402.9 151.1h0M404.0 149.9h0M401.7 149.4h0M408.8 152.8h0M646.5 150.2h0M647.1 154.5h0M413.1 153.6h0M409.1 155.3h0M400.5 139.0h0M647.4 150.1h0M399.1 139.8h0M643.6 149.4h0M415.7 153.1h0M624.2 146.5h0M403.1 140.5h0M647.2 152.2h0M405.6 151.1h0M408.5 152.9h0M399.6 149.0h0M422.4 145.3h0M416.7 138.3h0M399.1 145.3h0M399.2 148.6h0M638.7 148.3h0M636.6 148.3h0M638.1 153.1h0M639.5 149.3h0M400.2 149.9h0M411.1 151.8h0M404.6 139.4h0M403.7 146.0h0M413.8 154.2h0M617.9 148.2h0M404.9 150.6h0M400.6 150.5h0M618.3 145.6h0M412.9 147.1h0M409.4 148.5h0M622.9 143.9h0M399.5 149.5h0M647.9 150.4h0M399.1 149.5h0M422.0 156.1h0M406.1 151.7h0M623.1 144.1h0M404.6 150.6h0M646.6 152.5h0M640.6 151.2h0M646.0 149.8h0M628.0 145.2h0M412.8 149.9h0M632.9 146.8h0M631.3 147.4h0M622.3 150.4h0M648.1 150.3h0M638.6 148.1h0M647.5 150.3h0M634.9 148.7h0M415.4 150.2h0M399.0 146.3h0M403.8 149.4h0M400.9 148.6h0M402.4 150.5h0M401.9 147.0h0M417.2 147.5h0M399.4 149.9h0M648.0 151.2h0M400.2 141.5h0M640.2 156.0h0M627.1 144.8h0M401.4 145.1h0M402.1 150.7h0M627.2 150.0h0M398.8 149.8h0M643.3 151.7h0M410.0 153.3h0M400.3 149.6h0M647.8 151.1h0M630.7 152.3h0M403.6 149.8h0M635.2 147.3h0M399.6 144.5h0M643.1 151.6h0M412.2 150.6h0M641.7 150.0h0M641.2 148.8h0M400.2 144.1h0M420.6 146.3h0M400.6 143.0h0M416.7 152.4h0M643.3 150.9h0M400.0 147.4h0M398.8 143.3h0M410.8 152.1h0M419.2 157.4h0M400.0 139.9h0M398.8 149.9h0M418.7 155.7h0M638.4 150.8h0M647.9 150.7h0M638.4 147.7h0M401.9 145.3h0M622.5 145.9h0M647.3 153.2h0M400.6 148.4h0M400.4 146.7h0M422.2 149.3h0M645.9 150.9h0M636.3 147.7h0M413.9 152.2h0M623.7 154.6h0M646.8 150.2h0M405.8 151.5h0M636.2 150.9h0M413.4 144.8h0M414.7 154.4h0M647.9 151.1h0M407.4 148.6h0M640.9 149.2h0M640.3 148.9h0M642.0 149.9h0M403.3 148.7h0M404.0 146.7h0M411.1 153.6h0M634.0 147.0h0M643.4 149.3h0M626.4 146.4h0M402.9 146.7h0M404.8 150.4h0M416.4 153.8h0M400.3 146.7h0M422.7 160.0h0M640.9 152.4h0M641.0 149.1h0M646.2 150.4h0M412.7 150.4h0M400.7 150.7h0M416.4 148.9h0M632.1 146.8h0M629.0 152.0h0M647.8 151.5h0M633.1 149.0h0M635.8 149.0h0M399.8 148.9h0M408.1 156.3h0M637.9 147.5h0M398.8 145.4h0M647.6 150.4h0M647.5 153.9h0M642.5 150.5h0M644.2 149.5h0M621.2 144.0h0M415.5 149.1h0M628.4 148.4h0M399.5 147.8h0M406.3 144.6h0M647.7 150.1h0M409.6 146.2h0M400.3 142.0h0M647.1 154.3h0M410.6 144.7h0M423.6 158.0h0M644.0 150.1h0M401.2 148.1h0M406.5 148.2h0M409.9 148.5h0M646.8 151.2h0M413.1 153.2h0M404.7 143.2h0M639.9 149.0h0M399.8 151.0h0M403.6 146.7h0M405.4 151.8h0M617.5 143.8h0M646.6 150.1h0M419.3 154.4h0M403.7 144.6h0M404.4 149.6h0M642.0 150.0h0M408.6 152.3h0M625.2 144.8h0M414.6 149.4h0M630.2 147.9h0M399.5 146.4h0M410.5 149.8h0M637.1 148.3h0M646.4 152.7h0M647.8 150.5h0M402.8 145.1h0M648.1 150.5h0M402.5 147.9h0M637.1 147.8h0M404.9 151.0h0M400.6 151.9h0M645.4 151.3h0M631.1 149.6h0M400.1 149.7h0M410.2 154.1h0M629.4 145.6h0M643.4 149.2h0M622.0 145.1h0M620.2 145.5h0M402.8 144.5h0M408.4 152.4h0M399.5 144.1h0M403.3 141.1h0M399.5 149.0h0M407.5 145.6h0M630.5 146.0h0M645.6 151.9h0M404.0 149.6h0M645.6 151.0h0M646.2 151.1h0M413.4 154.2h0M402.3 143.9h0M626.0 147.1h0M647.2 149.9h0M422.2 155.0h0M632.6 148.5h0M403.6 148.1h0M401.9 150.5h0M406.6 141.2h0M407.2 143.4h0M618.3 144.4h0M637.9 149.0h0M402.9 148.7h0M641.1 149.3h0M408.9 139.1h0M646.4 150.1h0M647.7 152.6h0M639.4 148.1h0M406.9 148.8h0M404.8 149.2h0M403.9 150.2h0M413.7 148.8h0M609.9 144.1h0M622.1 143.9h0M625.4 144.7h0M401.1 150.5h0M646.8 150.7h0M401.2 150.4h0M632.5 146.8h0M641.6 149.5h0M399.8 149.8h0M647.0 151.3h0M646.1 150.9h0M643.9 150.7h0M405.5 144.1h0M405.9 157.4h0M646.4 151.7h0M633.1 147.2h0M641.9 152.3h0M404.1 147.4h0M642.2 150.1h0M399.6 146.7h0M643.7 152.2h0M408.0 139.8h0M398.9 147.2h0M411.3 146.1h0M617.4 143.6h0M399.5 148.0h0M400.0 150.3h0M409.4 151.7h0M642.8 148.9h0M401.3 152.2h0M637.7 149.3h0M413.9 154.2h0M646.3 150.1h0M407.9 152.9h0M406.4 151.6h0M399.9 148.3h0M403.3 148.4h0M643.9 152.7h0M399.1 148.5h0M636.1 147.6h0M416.2 153.6h0M403.6 151.2h0M628.8 149.1h0M629.7 148.8h0M643.5 150.5h0M400.5 147.6h0M645.1 152.7h0M417.4 152.4h0M405.1 148.4h0M646.6 152.8h0M407.9 152.2h0M398.8 147.8h0M403.9 150.5h0M399.6 153.0h0M409.4 152.6h0M646.3 151.1h0M405.0 151.7h0M408.6 141.5h0M643.8 151.3h0M409.6 154.5h0M405.4 146.6h0M640.9 148.3h0M645.0 150.2h0M400.4 150.3h0M647.8 150.5h0M605.5 150.2h0M646.7 152.2h0M642.6 152.1h0M399.3 150.2h0M404.0 150.5h0M408.0 152.3h0M413.4 143.9h0M634.6 148.2h0M630.7 146.2h0M631.9 147.3h0M635.7 148.7h0M647.5 150.2h0M647.8 154.3h0M415.6 144.5h0M416.0 153.8h0M628.7 148.4h0M400.3 147.8h0M648.1 150.8h0M646.1 149.9h0M641.5 148.9h0M633.4 149.5h0M400.7 148.9h0M639.7 153.0h0M403.6 149.6h0M401.4 148.6h0M647.0 150.1h0M633.1 148.7h0M405.5 149.2h0M644.3 149.8h0M635.2 147.5h0M406.9 150.6h0M405.7 151.6h0M647.9 151.4h0M411.2 155.0h0M401.9 145.6h0M644.9 149.6h0M642.1 150.5h0M403.0 150.8h0M409.0 150.4h0M399.1 147.8h0M639.4 148.4h0M628.8 159.2h0M646.8 150.0h0M408.8 150.2h0M399.1 142.2h0M645.3 151.6h0M632.1 146.6h0M639.8 148.1h0M403.3 140.1h0M402.1 151.1h0M400.6 150.2h0M420.1 157.8h0M647.2 151.0h0M648.1 151.1h0M647.1 150.9h0M399.6 149.6h0M647.1 150.4h0M647.3 151.2h0M404.5 153.8h0M405.5 140.5h0M401.4 144.3h0M401.7 150.8h0M413.3 153.1h0M402.5 145.2h0M412.2 145.3h0M646.8 150.3h0M399.4 153.5h0M399.5 147.6h0M423.6 154.0h0M407.6 151.6h0M413.2 151.4h0M642.4 149.9h0M411.5 153.5h0M645.8 150.0h0M399.7 146.2h0M408.5 149.5h0M402.9 149.4h0M407.7 147.1h0M408.4 151.1h0M639.9 152.9h0M638.6 148.1h0M407.0 151.5h0M410.6 143.4h0M404.1 138.7h0M647.5 150.7h0M418.6 154.2h0M405.3 147.2h0M399.5 147.1h0M401.7 150.5h0M418.4 150.3h0M400.1 149.5h0M404.3 145.6h0M407.8 153.0h0M634.1 149.3h0M404.8 150.8h0M398.8 149.6h0M399.4 143.4h0M398.7 145.8h0M401.5 150.7h0M641.9 149.2h0M411.3 150.0h0M402.9 148.4h0M407.5 151.9h0M648.1 150.9h0M647.4 151.2h0M412.4 152.0h0M647.7 150.7h0M634.8 155.9h0M640.7 148.5h0M629.0 158.6h0M648.0 150.4h0M628.8 147.2h0M401.7 144.5h0M624.0 148.5h0M636.4 147.3h0M640.3 150.0h0M647.5 150.2h0M401.3 150.1h0M398.8 151.4h0M643.2 153.1h0M631.8 148.5h0M630.5 151.8h0M399.8 144.6h0M411.6 153.9h0M399.6 149.5h0M398.7 147.6h0M616.3 144.8h0M636.2 152.0h0M407.1 152.0h0M400.7 139.6h0M399.7 148.4h0M647.8 152.1h0M638.1 149.7h0M409.9 138.4h0M401.6 148.7h0M636.1 147.9h0M647.4 150.5h0M400.6 149.3h0M645.2 152.5h0M399.9 143.7h0M402.8 144.3h0M403.5 144.8h0M402.6 149.4h0M641.8 148.6h0M643.0 150.4h0M638.2 157.4h0M399.5 150.1h0M399.5 149.4h0M632.8 152.2h0M640.6 151.5h0M647.7 153.8h0M624.4 145.2h0M399.4 149.2h0M643.2 149.3h0M643.8 154.4h0M398.9 150.0h0M411.0 151.0h0M643.5 150.0h0M405.3 147.0h0M409.0 148.2h0M639.2 148.8h0M646.3 153.0h0M641.7 150.6h0" stroke="#000" stroke-opacity="0.3" stroke-width="1.8" stroke-linecap="round" fill="none"/><path d="M414.4 154.5h0M648.1 151.9h0M414.8 153.3h0M632.3 153.9h0M640.1 153.0h0M408.2 150.5h0M633.2 147.9h0M399.0 148.5h0M408.2 152.6h0M398.9 154.1h0M632.6 147.2h0M643.7 153.3h0M399.3 145.3h0M399.0 147.3h0M627.9 152.6h0M638.3 150.5h0M632.6 147.5h0M419.9 156.1h0M406.0 145.3h0M411.2 150.2h0M636.8 149.7h0M403.7 147.9h0M647.8 150.6h0M405.2 150.6h0M398.8 145.7h0M647.9 152.7h0M407.4 148.5h0M403.5 152.0h0M645.5 149.6h0M638.2 150.5h0M420.6 148.6h0M398.7 145.4h0M640.8 150.0h0M635.4 147.4h0M635.5 152.2h0M640.7 149.0h0M630.7 149.1h0M412.9 152.7h0M399.0 150.0h0M640.6 151.6h0M408.6 151.6h0M403.0 148.0h0M627.0 148.8h0M647.7 150.3h0M405.0 155.9h0M399.1 151.2h0M648.0 153.5h0M627.4 145.5h0M414.6 153.6h0M645.8 150.6h0M402.6 151.2h0M400.0 147.4h0M647.0 150.5h0M415.1 155.0h0M413.6 152.9h0M406.6 151.9h0M643.3 150.5h0M399.9 153.0h0M632.2 149.7h0M403.4 149.0h0M410.9 157.2h0M647.1 151.0h0M647.8 153.3h0M408.4 151.5h0M631.5 149.8h0M631.0 147.3h0M621.0 147.3h0M399.8 148.6h0M401.0 139.4h0M627.3 147.2h0M647.4 150.8h0M636.5 150.3h0M409.3 152.5h0M415.3 145.6h0M421.3 155.0h0M409.3 144.1h0M628.9 147.1h0M404.7 150.4h0M640.1 149.5h0M623.8 145.4h0M399.5 147.0h0M415.6 154.7h0M647.1 149.9h0M404.5 151.2h0M647.1 150.6h0M401.0 149.6h0M398.7 148.3h0M626.1 147.3h0M401.0 146.1h0M411.7 152.6h0M640.6 148.7h0M400.0 148.7h0M635.6 159.1h0M407.3 151.2h0M638.6 149.2h0M644.2 150.5h0M417.5 138.3h0M644.9 149.6h0M636.4 152.4h0M633.7 149.0h0M399.6 148.7h0M402.1 150.2h0M408.7 146.3h0M613.1 145.0h0M640.6 149.3h0M404.6 149.7h0M644.5 152.2h0M413.9 151.0h0M642.0 154.7h0M624.5 150.5h0M642.5 149.6h0M405.5 146.7h0M636.1 149.6h0M612.4 141.9h0M631.3 148.9h0M625.4 147.5h0M642.8 150.9h0M405.8 149.7h0M635.5 147.1h0M405.9 152.1h0M628.2 147.0h0M407.3 146.6h0M640.0 149.7h0M408.8 138.3h0M404.6 149.9h0M621.6 148.0h0M643.3 150.6h0M410.6 143.4h0M643.3 152.6h0M631.6 157.1h0M410.5 152.9h0M643.5 150.2h0M636.2 148.3h0M405.9 145.5h0M638.7 148.9h0M633.0 146.9h0M628.5 145.8h0M644.2 151.1h0M398.8 145.9h0M399.0 147.2h0M637.2 150.7h0M647.6 151.2h0M406.6 142.1h0M624.2 145.4h0M399.3 150.3h0M418.9 159.5h0M625.7 146.4h0M401.5 149.2h0M406.5 150.0h0M637.5 150.3h0M412.8 152.6h0M643.8 149.4h0M413.2 154.5h0M640.1 149.6h0M642.5 151.2h0M399.6 142.6h0M647.1 152.3h0M648.1 151.0h0M403.0 150.1h0M410.0 152.5h0M405.9 151.7h0M404.6 150.0h0M647.7 153.0h0M419.8 158.6h0M403.5 151.2h0M400.3 143.3h0M645.0 152.5h0M642.5 149.9h0M647.0 150.2h0M406.8 150.9h0M403.0 148.7h0M399.0 151.6h0M632.9 146.8h0M637.1 148.8h0M412.3 154.0h0M400.9 148.4h0M400.7 150.3h0M410.8 145.1h0M643.1 149.0h0M398.7 149.4h0M644.2 149.5h0M410.3 147.1h0M631.5 146.3h0M646.9 150.3h0M646.0 149.9h0M642.5 151.4h0M419.3 140.1h0M405.0 146.4h0M647.6 157.3h0M400.8 150.4h0M647.3 151.7h0M420.4 140.5h0M399.2 145.4h0M644.3 149.2h0M409.1 152.9h0M641.7 148.7h0M647.9 152.8h0M400.5 150.5h0M418.7 151.7h0M400.5 145.9h0M636.8 148.7h0M406.3 151.4h0M407.9 152.2h0M403.6 148.0h0M403.1 145.8h0M623.3 145.7h0M642.4 150.2h0M644.7 150.9h0M402.2 150.7h0M633.0 148.3h0M399.6 143.6h0M402.8 150.2h0M427.8 143.5h0M636.8 152.8h0M647.8 150.8h0M421.3 154.1h0M401.2 146.2h0M638.1 148.5h0M647.8 151.8h0M609.3 140.6h0M406.6 148.5h0M646.2 154.8h0M399.3 149.6h0M410.3 152.6h0M401.7 149.0h0M399.5 150.5h0M646.9 151.7h0M647.5 151.2h0M406.8 143.3h0M403.5 151.1h0M418.8 149.8h0M404.0 152.9h0M407.3 149.0h0M644.2 149.5h0M415.0 156.4h0M405.6 151.9h0M639.1 148.9h0M405.1 145.6h0M403.2 146.7h0M624.7 145.1h0M402.3 151.3h0M410.7 152.4h0M638.9 148.2h0M401.2 147.8h0M637.5 148.1h0M419.7 143.2h0M400.2 146.5h0M639.5 148.0h0M401.1 149.6h0M417.6 155.9h0M410.1 153.2h0M637.8 149.2h0M635.2 149.5h0M647.7 151.9h0M642.2 149.3h0M399.1 149.0h0M637.3 149.2h0M640.8 150.1h0M636.8 149.9h0M643.6 150.3h0M399.3 148.4h0M620.2 145.3h0M399.1 144.1h0M398.8 148.2h0M632.8 148.4h0M398.8 147.3h0M418.2 146.9h0M401.2 150.8h0M401.9 144.5h0M400.2 147.2h0M412.7 154.2h0M647.9 152.1h0M406.3 149.8h0M641.3 151.2h0M399.5 148.4h0M399.8 149.3h0M635.4 147.6h0M405.9 151.6h0M398.7 149.6h0M644.6 151.4h0M645.7 152.3h0M403.5 150.8h0M647.8 154.1h0M638.7 151.2h0M400.7 139.9h0M634.8 147.2h0M647.3 156.1h0M400.6 145.1h0M398.9 151.6h0M645.8 151.0h0M398.8 147.4h0M648.0 153.6h0M636.8 147.2h0M642.7 150.1h0M402.1 148.6h0M401.6 145.8h0M418.9 154.8h0M404.9 150.6h0M399.2 147.3h0M423.2 148.3h0M398.7 149.2h0M639.5 152.2h0M402.6 150.8h0M639.8 148.9h0M644.1 150.5h0M641.4 151.1h0M417.4 155.4h0M410.2 153.3h0M399.2 149.6h0M640.2 149.7h0M399.3 150.9h0M635.8 147.0h0M403.4 149.0h0M418.2 155.4h0M416.5 155.2h0M636.8 149.6h0M633.8 147.5h0M640.9 148.4h0M644.1 150.2h0M624.9 144.8h0M642.4 153.1h0M619.7 145.2h0M399.4 150.1h0M641.2 150.3h0M627.4 147.0h0M643.9 152.9h0M643.2 151.2h0M648.0 150.7h0M406.5 149.7h0M404.2 151.5h0M413.1 154.0h0M648.0 150.6h0M410.9 151.1h0M413.4 142.5h0M411.6 149.5h0M414.9 153.6h0M405.1 146.2h0M404.5 150.9h0M639.0 150.2h0M641.1 149.5h0M400.6 150.1h0M412.9 152.2h0M627.1 145.4h0M630.6 146.7h0M634.7 147.5h0M413.6 146.3h0M631.7 146.4h0M411.7 152.7h0M413.2 151.5h0M398.8 147.3h0M404.6 139.2h0M399.9 149.4h0M646.7 152.2h0M633.6 148.8h0M647.3 151.8h0M638.3 148.3h0M640.7 148.6h0M407.0 144.0h0M399.8 157.8h0M642.0 150.3h0M401.0 145.2h0M399.9 148.5h0M647.6 151.9h0M399.8 146.3h0M639.9 149.4h0M630.1 146.9h0M399.7 140.8h0M410.6 149.7h0M631.6 147.6h0M399.7 149.3h0M639.1 149.0h0M399.4 149.8h0M408.3 145.9h0M398.9 150.0h0M400.9 151.2h0M646.7 151.9h0M644.7 150.3h0M631.7 150.3h0M630.2 147.3h0M404.2 142.5h0M648.1 150.3h0M413.2 150.8h0M404.4 146.2h0M643.0 149.0h0M646.2 151.6h0M408.4 150.5h0M398.8 148.7h0M647.1 150.5h0M648.0 154.0h0M642.5 148.8h0M401.4 148.7h0M404.2 146.9h0M627.3 159.6h0M408.7 151.0h0M406.9 150.9h0M415.7 154.6h0M400.1 150.7h0M404.2 148.5h0M411.2 153.3h0M403.8 150.0h0M399.4 149.7h0M407.9 150.8h0M633.9 147.2h0M414.5 149.3h0M407.8 147.6h0M646.9 152.9h0M617.3 144.1h0M411.5 153.7h0M643.9 150.7h0M401.9 145.0h0M623.2 147.5h0M410.5 147.7h0M645.0 150.1h0M642.2 155.1h0M610.4 142.3h0M644.8 149.5h0M623.1 146.6h0M399.7 145.5h0M633.1 146.5h0M400.1 151.0h0M624.5 147.6h0M642.9 151.0h0M398.9 146.0h0M408.2 147.1h0M398.7 148.8h0M645.4 156.4h0M406.6 151.4h0M408.2 152.1h0M638.7 149.9h0M635.2 148.1h0M647.4 151.0h0M406.4 150.5h0M407.1 147.1h0M414.5 152.6h0M405.7 142.4h0M622.9 145.0h0M416.8 151.3h0M401.6 149.8h0M408.2 145.1h0M643.1 150.1h0M400.9 149.6h0M401.9 151.3h0M642.7 152.5h0M400.3 147.3h0M406.3 151.8h0M636.7 147.8h0M403.2 149.2h0M417.0 154.5h0M401.0 150.4h0M647.6 150.3h0M400.6 148.1h0M642.8 149.0h0M627.1 148.6h0M399.8 147.3h0M647.6 150.3h0M413.8 153.0h0M626.7 145.3h0M647.5 152.0h0M400.6 148.3h0M402.2 148.9h0M635.0 147.6h0M648.0 151.0h0M405.9 150.1h0M644.3 149.5h0M637.9 147.9h0M412.0 152.2h0M408.3 146.2h0M630.7 146.9h0M622.7 153.1h0M644.6 153.3h0M408.8 150.1h0M629.6 157.2h0M398.7 149.3h0M400.9 141.6h0M642.3 153.9h0M625.9 147.1h0M640.4 151.4h0M412.4 145.9h0M627.2 146.7h0M634.1 147.6h0M411.8 140.7h0M647.0 151.0h0M647.3 152.4h0M399.6 147.8h0M639.6 150.6h0M632.1 151.1h0M402.1 151.0h0M403.9 149.8h0M409.1 152.5h0M405.5 145.9h0M644.0 150.4h0M405.7 150.3h0M405.6 151.2h0M403.7 138.5h0M634.7 146.8h0M406.6 151.9h0M419.3 154.2h0M644.2 149.2h0M402.7 147.8h0M636.5 148.4h0M406.6 150.1h0M410.8 152.5h0M417.7 157.1h0M399.3 150.9h0M625.3 151.6h0M409.5 151.6h0M403.1 148.3h0M399.5 153.1h0M409.1 151.9h0M400.0 149.1h0M400.3 149.2h0M410.2 146.4h0M405.9 150.6h0M400.8 147.8h0M636.6 151.8h0M635.4 155.0h0M643.9 149.8h0M403.9 146.7h0M647.5 150.6h0M409.8 148.8h0M411.8 154.1h0M628.5 145.3h0M405.5 147.9h0M410.2 150.4h0M619.8 144.6h0M632.8 148.8h0M404.6 145.5h0M647.1 150.2h0M637.2 147.3h0M625.0 144.4h0M645.2 150.1h0M625.0 145.1h0M401.5 149.3h0M635.8 148.2h0M629.5 145.6h0M647.6 150.7h0M402.6 148.8h0M647.3 151.0h0M635.1 147.5h0M647.6 152.6h0M413.3 147.5h0M640.9 150.8h0M398.9 146.4h0M409.0 151.4h0M403.0 147.4h0M400.3 150.3h0M642.2 149.2h0M410.2 151.0h0M414.5 151.7h0M641.0 149.0h0M400.8 148.3h0M636.2 148.0h0M407.0 146.3h0M647.1 150.1h0M417.5 153.2h0M634.4 157.3h0M408.2 151.2h0M631.8 147.9h0M405.0 150.6h0M646.8 152.0h0M639.6 152.9h0M407.5 151.3h0M401.2 150.5h0M400.7 148.3h0M405.3 144.9h0M645.7 153.7h0M647.3 153.7h0M627.9 152.6h0M416.1 156.8h0M645.3 153.8h0M645.2 153.2h0M643.9 150.0h0M640.3 148.5h0M619.7 149.0h0M398.8 148.2h0M412.5 144.3h0M399.0 150.1h0M647.4 151.9h0M640.9 148.6h0M399.3 143.9h0M647.9 153.1h0M641.7 149.0h0M399.7 148.7h0M632.2 146.9h0M402.4 146.9h0M646.2 149.7h0M400.4 144.8h0M404.0 150.7h0M401.8 142.2h0M399.0 149.4h0M414.9 154.7h0M413.3 151.8h0M645.6 151.8h0M404.3 148.4h0M415.4 140.2h0M628.0 149.6h0M409.4 143.5h0M398.7 146.0h0M402.4 139.4h0M403.0 146.0h0M408.6 144.2h0M399.4 148.8h0M399.2 149.8h0M411.8 152.9h0M640.8 151.3h0M632.5 146.2h0M401.3 146.8h0M421.1 144.0h0M408.7 152.4h0M400.8 149.7h0M398.9 146.8h0M642.4 149.3h0M647.7 150.8h0M400.1 148.7h0M646.8 151.0h0M623.1 148.2h0M627.5 152.6h0M628.9 160.6h0M415.3 152.5h0M412.6 148.4h0M646.7 157.7h0M403.8 143.9h0M401.6 147.3h0M401.8 150.3h0M407.8 142.7h0M400.3 149.3h0M412.2 150.1h0M401.1 149.8h0M410.0 148.7h0M427.1 157.3h0M400.9 141.1h0M631.7 148.3h0M622.0 145.3h0M647.8 151.9h0M640.7 151.8h0M630.2 148.3h0M409.5 154.9h0M642.5 150.5h0M630.1 147.3h0M621.8 147.0h0M636.8 151.7h0M629.4 148.1h0M644.0 151.5h0M636.9 149.4h0M411.2 151.6h0M628.8 145.7h0M640.5 148.7h0M642.8 150.5h0M399.9 143.3h0M625.1 146.2h0M405.7 151.7h0M645.3 152.2h0M400.4 148.6h0M643.5 149.6h0M647.6 150.6h0M615.8 141.9h0M417.9 150.7h0M414.3 152.0h0M400.4 144.7h0M645.5 149.6h0M400.0 141.4h0M416.4 152.6h0M634.8 157.3h0M617.3 153.1h0M404.0 151.0h0M634.5 148.0h0M644.1 151.7h0M633.4 148.7h0M414.5 147.6h0M632.0 149.9h0M404.1 150.0h0M424.9 158.9h0M399.0 147.6h0M411.7 152.5h0M644.7 150.4h0M633.4 148.9h0M407.5 139.1h0M646.3 149.8h0M610.8 142.3h0M416.9 153.0h0M399.1 154.4h0M400.4 147.0h0M625.9 145.1h0M642.0 150.6h0M646.5 151.4h0M625.5 147.1h0M629.8 145.8h0M418.5 154.6h0M645.3 150.6h0M408.0 148.9h0M400.2 144.3h0M643.3 150.5h0M403.8 149.8h0M413.7 142.2h0M399.8 149.2h0M635.0 147.3h0M641.6 151.7h0M408.3 148.3h0M400.8 149.6h0M413.5 147.2h0M637.7 148.7h0M628.1 145.9h0M401.1 148.2h0M645.8 149.9h0M641.2 149.9h0M634.9 158.5h0M644.1 149.6h0M631.7 150.0h0M645.7 152.0h0M640.9 153.8h0M647.9 151.7h0M405.6 147.7h0M401.1 147.7h0M636.2 150.7h0M405.6 139.2h0M407.1 150.1h0M400.1 146.9h0M634.5 152.4h0M407.0 152.3h0M611.9 141.3h0M408.5 151.0h0M415.3 154.6h0M632.9 147.9h0M630.6 150.8h0M405.1 143.6h0M635.3 151.7h0M635.8 150.3h0M641.0 151.0h0M636.7 148.3h0M399.6 148.2h0M641.9 149.1h0M647.9 150.6h0M635.1 147.9h0" stroke="#000" stroke-opacity="0.3" stroke-width="1.8" stroke-linecap="round" fill="none"/><path d="M401.2 135.8h0M399.6 133.3h0M422.6 136.5h0M402.1 129.0h0M403.3 127.0h0M402.9 103.4h0M415.2 133.7h0M400.9 132.7h0M420.3 134.7h0M418.5 70.4h0M420.0 134.1h0M405.8 126.7h0M410.5 122.8h0M401.2 137.0h0M417.3 134.9h0M423.3 135.4h0M405.5 128.5h0M400.8 127.4h0M422.7 135.2h0M416.0 125.1h0M413.3 134.9h0M405.0 125.4h0M410.9 129.0h0M403.0 133.8h0M401.3 117.8h0M414.9 135.0h0M416.6 126.1h0M417.7 132.9h0M405.3 134.3h0M411.1 111.2h0M422.2 127.3h0M411.9 119.8h0M414.5 89.6h0M409.9 120.8h0M420.5 129.0h0M412.1 136.9h0M417.0 126.2h0M399.1 130.2h0M410.9 129.3h0M418.3 87.3h0M405.1 126.3h0M404.5 131.2h0M401.7 130.0h0M403.1 135.3h0M411.0 130.0h0M413.3 135.6h0M402.3 126.7h0M414.7 130.4h0M423.0 135.5h0M417.8 131.8h0M421.8 121.9h0M399.1 128.2h0M412.1 125.3h0M421.0 130.7h0M408.6 129.3h0M422.8 136.8h0M412.9 137.0h0M405.5 125.0h0M420.7 123.9h0M400.0 134.5h0M411.4 136.3h0M422.5 131.9h0M421.2 131.0h0M401.6 90.3h0M406.7 135.7h0M423.6 128.4h0M400.3 114.0h0M409.7 119.6h0M418.7 116.7h0M403.0 127.3h0M419.3 136.9h0M404.8 89.5h0M412.9 130.0h0M422.6 133.0h0M406.0 137.2h0M404.2 134.2h0M408.5 135.7h0M415.2 134.1h0M413.9 128.7h0M414.4 131.6h0M422.7 136.3h0M420.1 132.2h0M415.5 132.6h0M402.6 121.4h0M423.4 131.4h0M401.1 134.2h0M410.6 132.5h0M418.9 115.3h0M422.8 135.5h0M400.1 132.8h0M401.9 135.1h0M405.7 135.9h0M408.7 127.0h0M410.2 136.8h0M402.3 91.5h0M420.9 126.5h0M412.8 136.9h0M421.3 135.9h0M406.9 134.4h0M412.1 136.4h0M405.9 132.6h0M414.2 76.0h0M401.1 86.7h0M401.1 131.1h0M416.0 137.1h0M398.7 125.3h0M402.6 131.9h0M400.7 133.1h0M408.2 130.1h0M403.6 67.8h0M402.9 135.3h0M420.7 129.2h0M411.3 133.1h0M413.7 124.3h0M399.4 127.1h0M408.3 133.4h0M411.2 134.2h0M420.8 135.4h0M408.2 130.9h0M418.7 135.5h0M421.6 128.6h0M399.8 67.8h0M398.9 133.4h0M420.3 133.4h0M419.7 137.1h0M417.2 136.9h0M420.7 126.6h0M411.7 133.4h0M420.5 134.3h0M407.4 137.3h0M415.8 135.7h0M416.3 133.3h0M405.8 136.2h0M411.9 134.7h0M417.6 133.1h0M403.2 135.5h0M404.5 134.7h0M402.5 120.4h0M410.8 132.1h0M419.2 135.5h0M408.9 133.0h0M406.6 136.6h0M413.6 134.1h0M411.8 134.1h0M419.5 132.3h0M404.3 53.4h0M405.2 132.9h0M401.2 133.2h0M399.7 136.0h0M421.1 133.4h0M414.5 137.1h0M406.8 136.8h0M415.2 126.0h0M409.7 122.6h0M409.3 137.0h0M401.6 136.2h0M411.0 119.9h0M398.9 134.1h0M406.1 128.5h0M417.4 136.6h0M411.3 124.0h0M402.8 125.5h0M416.2 123.0h0M407.6 135.5h0M398.8 135.3h0M415.8 107.6h0M405.8 102.4h0M420.0 105.8h0M422.4 136.9h0M418.7 113.3h0M417.2 125.1h0M398.8 133.2h0M398.8 132.7h0M400.9 130.5h0M422.2 127.4h0M419.8 136.4h0M408.9 134.4h0M417.3 133.1h0M406.0 92.9h0M413.9 121.7h0M422.3 123.7h0M406.6 137.0h0M401.9 135.5h0M407.5 126.6h0M415.9 137.3h0M399.1 129.1h0M408.6 75.5h0M409.0 63.3h0M421.9 134.6h0M407.5 130.1h0M414.5 127.5h0M402.3 134.6h0M416.3 129.6h0M400.6 130.3h0M410.1 125.1h0M415.6 116.8h0M411.7 131.5h0M405.3 134.0h0M413.7 133.8h0M400.5 133.0h0M399.8 130.0h0M407.3 133.8h0M421.4 134.6h0M408.0 131.4h0M401.8 108.2h0M420.8 134.8h0M406.3 128.0h0M418.8 134.8h0M422.6 136.3h0M418.4 123.4h0M408.8 132.9h0M413.8 136.9h0M410.6 127.9h0M421.9 132.7h0M402.0 108.8h0M412.3 39.6h0M402.8 60.0h0M402.6 46.0h0M399.9 67.7h0M398.4 76.4h0M407.6 53.5h0M409.6 54.6h0M415.0 78.0h0M421.0 88.0h0M418.5 89.0h0M398.7 93.1h0M398.7 89.2h0M398.7 84.1h0M398.7 80.2h0M398.7 76.3h0M398.7 72.5h0M398.7 68.6h0M398.7 64.8h0M398.7 60.9h0M398.7 22.4h0" stroke="#e07b2c" stroke-opacity="0.9" stroke-width="2.3" stroke-linecap="round" fill="none"/>
<line x1="423.62" y1="9.5" x2="423.62" y2="292.3" stroke="#555" stroke-width="1" stroke-dasharray="4,3"/>
<line x1="386.2" y1="138.05" x2="660.6" y2="138.05" stroke="#555" stroke-width="1" stroke-dasharray="4,3"/>
<line x1="386.2" y1="163.75" x2="660.6" y2="163.75" stroke="#555" stroke-width="1" stroke-dasharray="4,3"/>
<path d="M412.3,39.6 L417.0,37.0" fill="none" stroke="#e07b2c" stroke-width="0.6"/>
<text x="409.6" y="37.0" font-size="8.1" fill="#dc7428" textLength="16.1" lengthAdjust="spacingAndGlyphs">ELK1</text>
<path d="M402.8,60.0 L402.8,49.4 L404.0,48.5" fill="none" stroke="#e07b2c" stroke-width="0.6"/>
<text x="403.2" y="50.1" font-size="8.1" fill="#dc7428" textLength="40.9" lengthAdjust="spacingAndGlyphs">ARHGAP32</text>
<path d="M399.9,67.7 L405.0,65.5" fill="none" stroke="#e07b2c" stroke-width="0.6"/>
<text x="405.0" y="68.1" font-size="8.1" fill="#dc7428" textLength="25.5" lengthAdjust="spacingAndGlyphs">STMN2</text>
<path d="M448.0,61.5 L424.5,120.0" fill="none" stroke="#e07b2c" stroke-width="0.6"/>
<text x="448.2" y="60.8" font-size="8.1" fill="#dc7428" textLength="24.8" lengthAdjust="spacingAndGlyphs">CNPY3</text>
<path d="M398.4,76.4 L422.5,86.9" fill="none" stroke="#e07b2c" stroke-width="0.6"/>
<text x="424.2" y="90.3" font-size="8.1" fill="#dc7428" textLength="15.8" lengthAdjust="spacingAndGlyphs">TLX1</text>
<rect x="386.2" y="9.5" width="274.4" height="282.8" fill="none" stroke="#222" stroke-width="1"/>
<line x1="383.2" y1="279.45" x2="386.2" y2="279.45" stroke="#333" stroke-width="0.8"/>
<text x="379.8" y="282.5" font-size="8.6" text-anchor="end" fill="#333">-100</text>
<line x1="383.2" y1="266.59" x2="386.2" y2="266.59" stroke="#333" stroke-width="0.8"/>
<text x="379.8" y="269.6" font-size="8.6" text-anchor="end" fill="#333">-90</text>
<line x1="383.2" y1="253.74" x2="386.2" y2="253.74" stroke="#333" stroke-width="0.8"/>
<text x="379.8" y="256.8" font-size="8.6" text-anchor="end" fill="#333">-80</text>
<line x1="383.2" y1="240.88" x2="386.2" y2="240.88" stroke="#333" stroke-width="0.8"/>
<text x="379.8" y="243.9" font-size="8.6" text-anchor="end" fill="#333">-70</text>
<line x1="383.2" y1="228.03" x2="386.2" y2="228.03" stroke="#333" stroke-width="0.8"/>
<text x="379.8" y="231.1" font-size="8.6" text-anchor="end" fill="#333">-60</text>
<line x1="383.2" y1="215.17" x2="386.2" y2="215.17" stroke="#333" stroke-width="0.8"/>
<text x="379.8" y="218.2" font-size="8.6" text-anchor="end" fill="#333">-50</text>
<line x1="383.2" y1="202.32" x2="386.2" y2="202.32" stroke="#333" stroke-width="0.8"/>
<text x="379.8" y="205.4" font-size="8.6" text-anchor="end" fill="#333">-40</text>
<line x1="383.2" y1="189.46" x2="386.2" y2="189.46" stroke="#333" stroke-width="0.8"/>
<text x="379.8" y="192.5" font-size="8.6" text-anchor="end" fill="#333">-30</text>
<line x1="383.2" y1="176.61" x2="386.2" y2="176.61" stroke="#333" stroke-width="0.8"/>
<text x="379.8" y="179.7" font-size="8.6" text-anchor="end" fill="#333">-20</text>
<line x1="383.2" y1="163.75" x2="386.2" y2="163.75" stroke="#333" stroke-width="0.8"/>
<text x="379.8" y="166.8" font-size="8.6" text-anchor="end" fill="#333">-10</text>
<line x1="383.2" y1="150.90" x2="386.2" y2="150.90" stroke="#333" stroke-width="0.8"/>
<text x="379.8" y="154.0" font-size="8.6" text-anchor="end" fill="#333">0</text>
<line x1="383.2" y1="138.05" x2="386.2" y2="138.05" stroke="#333" stroke-width="0.8"/>
<text x="379.8" y="141.1" font-size="8.6" text-anchor="end" fill="#333">10</text>
<line x1="383.2" y1="125.19" x2="386.2" y2="125.19" stroke="#333" stroke-width="0.8"/>
<text x="379.8" y="128.2" font-size="8.6" text-anchor="end" fill="#333">20</text>
<line x1="383.2" y1="112.34" x2="386.2" y2="112.34" stroke="#333" stroke-width="0.8"/>
<text x="379.8" y="115.4" font-size="8.6" text-anchor="end" fill="#333">30</text>
<line x1="383.2" y1="99.48" x2="386.2" y2="99.48" stroke="#333" stroke-width="0.8"/>
<text x="379.8" y="102.5" font-size="8.6" text-anchor="end" fill="#333">40</text>
<line x1="383.2" y1="86.63" x2="386.2" y2="86.63" stroke="#333" stroke-width="0.8"/>
<text x="379.8" y="89.7" font-size="8.6" text-anchor="end" fill="#333">50</text>
<line x1="383.2" y1="73.77" x2="386.2" y2="73.77" stroke="#333" stroke-width="0.8"/>
<text x="379.8" y="76.8" font-size="8.6" text-anchor="end" fill="#333">60</text>
<line x1="383.2" y1="60.92" x2="386.2" y2="60.92" stroke="#333" stroke-width="0.8"/>
<text x="379.8" y="64.0" font-size="8.6" text-anchor="end" fill="#333">70</text>
<line x1="383.2" y1="48.06" x2="386.2" y2="48.06" stroke="#333" stroke-width="0.8"/>
<text x="379.8" y="51.1" font-size="8.6" text-anchor="end" fill="#333">80</text>
<line x1="383.2" y1="35.21" x2="386.2" y2="35.21" stroke="#333" stroke-width="0.8"/>
<text x="379.8" y="38.3" font-size="8.6" text-anchor="end" fill="#333">90</text>
<line x1="383.2" y1="22.35" x2="386.2" y2="22.35" stroke="#333" stroke-width="0.8"/>
<text x="379.8" y="25.4" font-size="8.6" text-anchor="end" fill="#333">100</text>
<line x1="398.67" y1="292.3" x2="398.67" y2="295.3" stroke="#333" stroke-width="0.8"/>
<text x="398.7" y="305.7" font-size="8.6" text-anchor="middle" fill="#333">0</text>
<line x1="423.62" y1="292.3" x2="423.62" y2="295.3" stroke="#333" stroke-width="0.8"/>
<text x="423.6" y="305.7" font-size="8.6" text-anchor="middle" fill="#333">10</text>
<line x1="448.56" y1="292.3" x2="448.56" y2="295.3" stroke="#333" stroke-width="0.8"/>
<text x="448.6" y="305.7" font-size="8.6" text-anchor="middle" fill="#333">20</text>
<line x1="473.51" y1="292.3" x2="473.51" y2="295.3" stroke="#333" stroke-width="0.8"/>
<text x="473.5" y="305.7" font-size="8.6" text-anchor="middle" fill="#333">30</text>
<line x1="498.45" y1="292.3" x2="498.45" y2="295.3" stroke="#333" stroke-width="0.8"/>
<text x="498.5" y="305.7" font-size="8.6" text-anchor="middle" fill="#333">40</text>
<line x1="523.40" y1="292.3" x2="523.40" y2="295.3" stroke="#333" stroke-width="0.8"/>
<text x="523.4" y="305.7" font-size="8.6" text-anchor="middle" fill="#333">50</text>
<line x1="548.35" y1="292.3" x2="548.35" y2="295.3" stroke="#333" stroke-width="0.8"/>
<text x="548.3" y="305.7" font-size="8.6" text-anchor="middle" fill="#333">60</text>
<line x1="573.29" y1="292.3" x2="573.29" y2="295.3" stroke="#333" stroke-width="0.8"/>
<text x="573.3" y="305.7" font-size="8.6" text-anchor="middle" fill="#333">70</text>
<line x1="598.24" y1="292.3" x2="598.24" y2="295.3" stroke="#333" stroke-width="0.8"/>
<text x="598.2" y="305.7" font-size="8.6" text-anchor="middle" fill="#333">80</text>
<line x1="623.18" y1="292.3" x2="623.18" y2="295.3" stroke="#333" stroke-width="0.8"/>
<text x="623.2" y="305.7" font-size="8.6" text-anchor="middle" fill="#333">90</text>
<line x1="648.13" y1="292.3" x2="648.13" y2="295.3" stroke="#333" stroke-width="0.8"/>
<text x="648.1" y="305.7" font-size="8.6" text-anchor="middle" fill="#333">100</text>
<text x="523.4" y="318.4" font-size="9.6" text-anchor="middle" fill="#2e2e2e">Median of Ctrl mean PAS usage %</text>
<text transform="translate(356.0,146.5) rotate(-90)" font-size="9.3" text-anchor="middle" fill="#2e2e2e">Median of change in usage (TDP43KD–Ctrl)</text>
<text x="0.0" y="329.6" font-size="12.6" font-weight="bold" fill="#000" stroke="#000" stroke-width="0.45">c</text>
<text x="136.2" y="342.2" font-size="9.4" text-anchor="middle" fill="#2e2e2e">ALE</text>
<text x="351.2" y="340.9" font-size="9.4" text-anchor="middle" fill="#2e2e2e">IPA</text>
<text x="564.0" y="342.2" font-size="9.4" text-anchor="middle" fill="#2e2e2e">3’Ext</text>
<path d="M39.9,367.6 Q50,368.3 56.4,369.8 M39.9,371.5 Q50,371 56.4,369.8" fill="none" stroke="#9a9a9a" stroke-width="0.9"/>
<path d="M56.4,369.8 C62.0,375.9 238.9,375.9 244.5,369.8" fill="none" stroke="#9a9a9a" stroke-width="0.95"/>
<path d="M55.4,369.8 L55.4,351.1 L56.4,349.6 L57.4,350.6 L57.4,369.8 Z" fill="#8c8c8c"/>
<path d="M243.7,369.8 L243.7,351.5 L244.6,350.0 L245.5,351.0 L245.5,369.8 Z" fill="#8c8c8c"/>
<path d="M70,368.9 h2 M80,368.9 h2.5 M197,368.9 h3 M210,368.9 h3 M225,368.9 h2" stroke="#bbb" stroke-width="0.6"/>
<path d="M39.9,398.2 Q50,399 56.4,400.4 M39.9,402.7 Q50,402 56.4,400.4" fill="none" stroke="#d8b25c" stroke-width="0.9"/>
<path d="M56.4,400.4 C63.2,394.0 163.7,394.0 170.5,394.6" fill="none" stroke="#d8b25c" stroke-width="1.0"/>
<path d="M56.4,400.4 C65.5,406.6 161.4,406.6 170.5,399.8" fill="none" stroke="#d8b25c" stroke-width="1.0"/>
<path d="M55.4,400.4 L55.4,377.4 L56.4,375.9 L57.4,376.9 L57.4,400.4 Z" fill="#d5ad55"/>
<path d="M170.8,400.4 L170.8,385.8 L171.4,384.1 L172.0,383.1 L172.6,383.8 L173.2,384.8 L173.8,386.7 L174.4,387.2 L175.0,386.2 L175.6,387.1 L176.2,387.4 L176.8,386.8 L177.4,388.0 L178.0,387.9 L178.6,388.6 L179.2,388.5 L179.8,389.3 L180.4,389.6 L181.0,390.7 L181.6,392.5 L182.2,393.2 L182.8,394.3 L183.4,395.5 L184.0,394.6 L184.6,394.8 L185.2,395.2 L185.8,395.6 L186.4,394.4 L187.0,395.0 L187.6,394.7 L188.2,394.5 L188.8,394.7 L189.4,394.4 L190.0,395.2 L190.6,394.6 L191.2,395.1 L191.8,394.4 L192.4,394.5 L193.0,395.6 L193.6,395.6 L194.2,395.5 L194.8,394.5 L195.4,395.2 L196.0,395.0 L196.6,395.4 L197.2,395.1 L197.8,395.3 L198.4,395.4 L199.0,395.1 L199.6,395.1 L200.2,394.6 L200.8,394.9 L201.4,394.6 L202.0,394.6 L202.6,394.4 L203.2,394.9 L203.8,395.5 L204.4,394.5 L205.0,394.4 L205.6,394.4 L206.2,394.8 L206.8,394.4 L207.4,394.9 L208.0,393.8 L208.6,393.9 L209.2,394.1 L209.8,394.0 L210.4,392.5 L211.0,391.9 L211.6,394.0 L212.2,393.9 L212.8,395.2 L213.4,395.9 L214.0,395.7 L214.6,395.1 L215.2,395.0 L215.8,396.1 L216.4,395.4 L217.0,396.2 L217.6,395.2 L218.2,395.8 L218.8,395.1 L219.4,394.9 L220.0,395.6 L220.6,395.0 L221.2,395.9 L221.8,396.3 L222.4,395.6 L223.0,396.4 L223.6,396.2 L224.2,395.9 L224.8,395.6 L225.4,396.3 L226.0,396.5 L226.6,395.4 L227.2,396.2 L227.8,395.3 L228.4,395.4 L229.0,396.2 L229.6,396.1 L230.2,396.0 L230.8,395.9 L231.4,396.0 L232.0,396.1 L232.6,396.0 L233.2,395.6 L233.8,396.3 L234.4,396.4 L235.0,396.0 L235.6,396.7 L236.2,396.7 L236.8,395.8 L237.4,396.4 L238.0,396.4 L238.6,397.2 L239.2,396.7 L239.8,396.5 L239.8,400.4 Z" fill="#d8b25c"/>
<path d="M184,396.6 L200,396.9 M203,396.9 L209,397.1 M214,397.3 L226,397.6 M229,397.8 L238,398.2" fill="none" stroke="#fff" stroke-width="0.8" stroke-opacity="0.85"/>
<path d="M94,400.9 h3 M103,400.9 h1.5 M111,400.9 h3" stroke="#d8b25c" stroke-width="0.8"/>
<path d="M242,394.5 L243,393.5 L244,404 L245.5,404.5 M240,397 Q246,398 248.5,404" fill="none" stroke="#d8b25c" stroke-width="0.9"/>
<path d="M254,366.6 Q258,368 261.2,371" fill="none" stroke="#9a9a9a" stroke-width="0.9"/>
<path d="M261.2,371.0 C266.9,376.3 445.9,376.3 451.6,371.0" fill="none" stroke="#9a9a9a" stroke-width="0.95"/>
<path d="M260.2,371.0 L260.2,351.6 L261.2,350.1 L262.1,351.1 L262.1,371.0 Z" fill="#8c8c8c"/>
<path d="M450.7,371.0 L450.7,351.0 L451.6,349.5 L452.6,350.5 L452.6,371.0 Z" fill="#8c8c8c"/>
<path d="M451.6,370.8 Q455,368.3 460,367.5" fill="none" stroke="#9a9a9a" stroke-width="0.9"/>
<path d="M266,370.6 h3 M276,370.6 h3 M286,370.6 h3 M300,370.6 h3 M318,370.6 h3 M336,370.6 h2" stroke="#bbb" stroke-width="0.6"/>
<path d="M254,390.5 Q258,392 261.2,397" fill="none" stroke="#d8b25c" stroke-width="0.9"/>
<path d="M261.2,397.2 C266.9,402.5 445.9,402.5 451.6,397.2" fill="none" stroke="#d8b25c" stroke-width="0.95"/>
<path d="M259.9,397.2 L259.9,378.5 L261.2,377.0 L262.5,378.0 L262.5,397.2 Z" fill="#d5ad55"/>
<path d="M262.0,397.2 L262.0,394.3 L262.6,393.6 L263.2,393.7 L263.8,394.4 L264.4,393.8 L265.0,394.0 L265.6,393.5 L266.2,393.6 L266.8,393.0 L267.4,392.6 L268.0,393.2 L268.6,392.9 L269.2,392.5 L269.8,392.5 L270.4,393.7 L271.0,393.8 L271.6,393.6 L272.2,393.9 L272.8,393.8 L273.4,393.8 L274.0,393.8 L274.6,393.2 L275.2,393.4 L275.8,393.0 L276.4,392.3 L277.0,393.0 L277.6,392.1 L278.2,392.1 L278.8,392.8 L279.4,393.1 L280.0,392.6 L280.6,393.4 L281.2,393.6 L281.8,393.4 L282.4,393.1 L283.0,394.0 L283.6,393.8 L284.2,393.9 L284.8,393.4 L285.4,393.9 L286.0,393.3 L286.6,394.1 L287.2,393.9 L287.8,393.5 L288.4,393.2 L289.0,393.7 L289.6,393.4 L290.2,393.0 L290.8,392.0 L291.4,391.9 L292.0,390.6 L292.6,391.0 L293.2,392.2 L293.8,392.5 L294.4,392.3 L295.0,392.6 L295.6,392.5 L296.2,393.2 L296.8,393.5 L297.4,393.4 L298.0,392.9 L298.6,393.6 L299.2,393.5 L299.8,393.2 L300.4,392.9 L301.0,392.7 L301.6,391.8 L302.2,392.5 L302.8,392.4 L303.4,391.4 L304.0,391.9 L304.6,392.1 L305.2,393.2 L305.8,392.9 L306.4,393.0 L307.0,393.7 L307.6,392.9 L308.2,392.6 L308.8,392.6 L309.4,392.6 L310.0,392.8 L310.6,392.7 L311.2,393.1 L311.8,393.5 L312.4,393.1 L313.0,393.7 L313.6,393.4 L314.2,394.5 L314.8,393.6 L315.4,393.9 L316.0,393.7 L316.6,393.9 L317.2,394.0 L317.8,394.5 L318.4,395.0 L319.0,393.7 L319.6,394.1 L320.2,393.6 L320.8,392.8 L321.4,393.1 L322.0,393.4 L322.6,393.0 L323.2,393.6 L323.8,394.0 L324.4,394.3 L325.0,393.8 L325.6,394.2 L326.2,393.7 L326.8,394.2 L327.4,394.3 L328.0,393.9 L328.6,393.5 L329.2,394.1 L329.8,393.2 L330.4,392.8 L331.0,392.8 L331.6,392.5 L332.2,393.5 L332.8,392.9 L333.4,392.8 L334.0,393.9 L334.6,393.9 L335.2,394.0 L335.8,393.9 L336.4,394.0 L337.0,393.8 L337.6,393.3 L338.2,394.2 L338.8,394.0 L339.4,393.8 L340.0,393.7 L340.6,393.4 L341.2,391.9 L341.8,391.7 L342.4,392.3 L343.0,391.4 L343.6,391.7 L344.2,391.8 L344.8,391.8 L345.4,391.6 L346.0,391.7 L346.6,392.1 L347.2,392.4 L347.8,392.2 L348.4,392.5 L349.0,392.0 L349.6,391.9 L350.2,392.3 L350.8,392.7 L351.4,392.8 L352.0,393.0 L352.6,393.0 L353.2,393.1 L353.8,393.8 L354.4,393.4 L355.0,393.8 L355.0,397.2 Z" fill="#d8b25c"/>
<path d="M451.6,397 Q451.6,381.5 455,381 L460,380.5" fill="none" stroke="#d8b25c" stroke-width="1.0"/>
<path d="M469.2,372.7 L469.2,359.8 L469.8,358.7 L470.4,358.2 L471.0,357.9 L471.6,358.1 L472.2,357.7 L472.8,358.0 L473.4,358.2 L474.0,357.8 L474.6,357.5 L475.2,358.2 L475.8,357.7 L476.4,357.6 L477.0,357.0 L477.6,356.9 L478.2,357.5 L478.8,356.8 L479.4,356.9 L480.0,357.5 L480.6,357.3 L481.2,357.7 L481.8,356.9 L482.4,357.1 L483.0,356.8 L483.6,357.0 L484.2,357.1 L484.8,357.1 L485.4,357.3 L486.0,357.9 L486.6,357.3 L487.2,358.0 L487.8,357.9 L488.4,357.1 L489.0,358.0 L489.6,358.0 L490.2,358.0 L490.8,357.1 L491.4,358.0 L492.0,358.2 L492.6,357.3 L493.2,358.2 L493.8,357.4 L494.4,357.6 L495.0,357.4 L495.6,357.3 L496.2,357.8 L496.8,357.6 L497.4,358.6 L498.0,357.7 L498.6,358.1 L499.2,357.9 L499.8,358.7 L500.4,358.0 L501.0,357.9 L501.6,359.0 L502.2,358.9 L502.8,358.7 L503.4,358.5 L504.0,359.3 L504.6,359.5 L505.2,359.5 L505.8,359.2 L506.4,359.2 L507.0,359.7 L507.6,359.9 L508.2,360.0 L508.8,360.1 L509.4,360.2 L510.0,360.7 L510.6,360.4 L511.2,360.0 L511.8,360.9 L512.4,360.7 L513.0,361.6 L513.6,361.2 L514.2,361.3 L514.8,361.6 L515.4,362.0 L516.0,362.2 L516.6,361.8 L517.2,361.2 L517.8,361.9 L518.4,361.7 L519.0,360.7 L519.6,360.2 L520.2,360.4 L520.8,360.3 L521.4,359.7 L522.0,360.1 L522.6,359.4 L523.2,358.9 L523.8,357.9 L524.4,357.7 L525.0,357.2 L525.6,356.1 L526.2,355.2 L526.8,355.4 L527.4,354.4 L528.0,354.2 L528.6,353.1 L529.2,352.8 L529.8,352.7 L530.4,352.4 L531.0,352.3 L531.6,351.5 L532.2,351.4 L532.8,351.4 L533.4,350.9 L534.0,350.7 L534.6,349.9 L535.2,350.4 L535.8,349.1 L536.4,349.5 L537.0,349.1 L537.6,349.5 L538.2,349.2 L538.8,349.5 L539.4,350.0 L540.0,350.3 L540.6,350.3 L541.2,350.5 L541.8,351.6 L542.4,351.8 L543.0,352.1 L543.6,353.3 L544.2,354.2 L544.8,354.8 L545.4,354.8 L546.0,355.5 L546.6,355.1 L547.2,355.3 L547.8,356.0 L548.4,356.1 L549.0,356.0 L549.6,356.1 L550.2,355.5 L550.8,355.3 L551.4,355.2 L552.0,356.0 L552.6,355.1 L553.2,355.6 L553.8,355.3 L554.4,354.8 L555.0,355.4 L555.6,355.3 L556.2,354.2 L556.8,354.7 L557.4,354.5 L558.0,354.1 L558.6,354.1 L559.2,355.0 L559.8,354.7 L560.4,354.6 L561.0,354.6 L561.6,355.1 L562.2,354.7 L562.8,354.3 L563.4,355.3 L564.0,355.5 L564.6,356.5 L565.2,356.7 L565.8,356.6 L566.4,357.7 L567.0,357.2 L567.6,357.6 L568.2,358.9 L568.8,358.3 L569.4,359.4 L570.0,359.4 L570.6,360.2 L571.2,361.6 L571.8,362.0 L572.4,362.9 L573.0,363.5 L573.6,365.0 L574.2,365.3 L574.8,365.9 L575.4,366.8 L576.0,367.4 L576.6,368.3 L577.2,368.2 L577.8,368.8 L578.4,368.8 L579.0,369.3 L579.6,369.8 L580.2,370.7 L580.8,370.4 L581.4,370.7 L582.0,371.5 L582.6,370.9 L583.2,371.4 L583.8,372.3 L584.4,371.6 L585.0,372.7 L585.0,372.7 Z" fill="#8f8f8f"/>
<path d="M469.2,405.6 L469.2,391.8 L469.8,389.8 L470.4,389.4 L471.0,389.4 L471.6,389.2 L472.2,389.4 L472.8,389.6 L473.4,389.7 L474.0,389.8 L474.6,388.8 L475.2,388.7 L475.8,389.0 L476.4,388.6 L477.0,389.1 L477.6,389.2 L478.2,388.9 L478.8,388.2 L479.4,389.3 L480.0,388.6 L480.6,389.0 L481.2,388.3 L481.8,388.9 L482.4,389.0 L483.0,388.9 L483.6,388.8 L484.2,388.5 L484.8,389.1 L485.4,388.5 L486.0,389.6 L486.6,389.4 L487.2,389.7 L487.8,389.7 L488.4,388.8 L489.0,388.9 L489.6,389.7 L490.2,389.8 L490.8,389.5 L491.4,389.1 L492.0,389.0 L492.6,389.2 L493.2,389.4 L493.8,390.1 L494.4,389.8 L495.0,390.1 L495.6,389.7 L496.2,389.7 L496.8,390.3 L497.4,390.2 L498.0,389.5 L498.6,390.6 L499.2,389.6 L499.8,389.5 L500.4,389.5 L501.0,390.4 L501.6,390.2 L502.2,390.2 L502.8,390.2 L503.4,389.8 L504.0,390.2 L504.6,390.8 L505.2,390.1 L505.8,390.7 L506.4,390.6 L507.0,390.5 L507.6,391.6 L508.2,390.5 L508.8,390.8 L509.4,391.1 L510.0,391.1 L510.6,391.3 L511.2,391.9 L511.8,391.6 L512.4,392.5 L513.0,392.0 L513.6,392.0 L514.2,392.4 L514.8,392.4 L515.4,391.8 L516.0,391.6 L516.6,392.4 L517.2,391.2 L517.8,391.2 L518.4,391.8 L519.0,391.1 L519.6,391.0 L520.2,391.0 L520.8,390.1 L521.4,389.3 L522.0,389.8 L522.6,388.5 L523.2,388.2 L523.8,388.4 L524.4,386.8 L525.0,386.6 L525.6,385.6 L526.2,385.4 L526.8,384.8 L527.4,384.8 L528.0,383.5 L528.6,382.8 L529.2,382.3 L529.8,382.4 L530.4,381.7 L531.0,382.0 L531.6,382.4 L532.2,382.4 L532.8,382.3 L533.4,382.0 L534.0,382.0 L534.6,381.4 L535.2,381.1 L535.8,381.2 L536.4,381.3 L537.0,380.9 L537.6,381.6 L538.2,381.5 L538.8,381.3 L539.4,382.0 L540.0,382.4 L540.6,381.6 L541.2,382.1 L541.8,382.7 L542.4,383.0 L543.0,383.1 L543.6,383.4 L544.2,384.3 L544.8,384.9 L545.4,385.0 L546.0,384.5 L546.6,385.8 L547.2,385.7 L547.8,386.4 L548.4,386.5 L549.0,386.4 L549.6,386.0 L550.2,386.3 L550.8,386.4 L551.4,386.2 L552.0,386.1 L552.6,385.5 L553.2,386.1 L553.8,386.0 L554.4,385.4 L555.0,385.4 L555.6,384.9 L556.2,385.7 L556.8,385.2 L557.4,385.1 L558.0,385.6 L558.6,384.2 L559.2,385.2 L559.8,385.4 L560.4,384.8 L561.0,385.2 L561.6,384.5 L562.2,384.9 L562.8,385.5 L563.4,385.8 L564.0,385.1 L564.6,386.0 L565.2,385.5 L565.8,386.2 L566.4,385.8 L567.0,387.0 L567.6,387.3 L568.2,387.5 L568.8,387.1 L569.4,387.6 L570.0,388.3 L570.6,389.0 L571.2,388.4 L571.8,388.3 L572.4,389.2 L573.0,390.3 L573.6,390.6 L574.2,390.8 L574.8,391.0 L575.4,391.3 L576.0,391.3 L576.6,390.5 L577.2,390.2 L577.8,391.2 L578.4,390.2 L579.0,390.9 L579.6,390.5 L580.2,390.4 L580.8,390.4 L581.4,391.7 L582.0,391.4 L582.6,391.0 L583.2,390.6 L583.8,391.9 L584.4,391.7 L585.0,391.0 L585.6,392.1 L586.2,391.8 L586.8,391.9 L587.4,391.5 L588.0,391.3 L588.6,392.4 L589.2,391.7 L589.8,391.7 L590.4,391.7 L591.0,392.1 L591.6,391.6 L592.2,392.4 L592.8,392.4 L593.4,392.6 L594.0,391.9 L594.6,392.4 L595.2,392.7 L595.8,392.9 L596.4,392.1 L597.0,392.3 L597.6,392.2 L598.2,392.7 L598.8,392.6 L599.4,393.1 L600.0,392.3 L600.6,393.3 L601.2,392.7 L601.8,392.4 L602.4,392.6 L603.0,393.4 L603.6,393.3 L604.2,392.5 L604.8,392.8 L605.4,392.5 L606.0,392.6 L606.6,393.2 L607.2,392.6 L607.8,392.9 L608.4,393.5 L609.0,393.5 L609.6,394.0 L610.2,393.6 L610.8,392.9 L611.4,394.1 L612.0,393.5 L612.6,394.3 L613.2,394.4 L613.8,393.7 L614.4,394.4 L615.0,394.8 L615.6,394.8 L616.2,394.2 L616.8,394.4 L617.4,395.3 L618.0,395.1 L618.6,394.2 L619.2,395.3 L619.8,395.0 L620.4,395.2 L621.0,394.6 L621.6,394.8 L622.2,394.5 L622.8,394.8 L623.4,395.3 L624.0,395.2 L624.6,395.3 L625.2,394.2 L625.8,395.2 L626.4,395.5 L627.0,394.4 L627.6,395.8 L628.2,395.1 L628.8,396.6 L629.4,396.3 L630.0,397.0 L630.6,396.4 L631.2,397.0 L631.8,397.3 L632.4,397.4 L633.0,397.5 L633.6,398.5 L634.2,398.4 L634.8,398.9 L635.4,399.6 L636.0,398.9 L636.6,399.5 L637.2,399.4 L637.8,400.5 L638.4,400.3 L639.0,400.7 L639.6,400.6 L640.2,401.8 L640.8,401.6 L641.4,401.6 L642.0,402.3 L642.6,401.8 L643.2,401.8 L643.8,402.4 L644.4,402.3 L645.0,402.5 L645.6,403.3 L646.2,403.2 L646.8,402.5 L647.4,403.6 L648.0,403.7 L648.6,404.3 L649.2,404.2 L649.8,404.4 L650.4,403.4 L651.0,403.8 L651.6,403.8 L652.2,403.7 L652.8,404.3 L653.4,404.0 L654.0,404.7 L654.6,405.0 L655.2,404.3 L655.8,404.5 L656.4,404.5 L657.0,405.2 L657.6,404.9 L658.2,405.5 L658.8,404.8 L659.4,404.9 L660.0,405.6 L660.0,405.6 Z" fill="#d8b25c"/>
<line x1="660" y1="405.3" x2="672" y2="405.3" stroke="#eadcb6" stroke-width="0.6"/>
<text x="51.6" y="413.2" font-size="10.1" text-anchor="end" fill="#2e2e2e">Annotated</text>
<text x="51.4" y="426.0" font-size="10.2" text-anchor="end" fill="#2e2e2e">Cryptic</text>
<line x1="56.2" y1="409.5" x2="244.4" y2="409.5" stroke="#2a2ad0" stroke-width="0.7"/><path d="M58.5,408.3 L59.7,409.5 L58.5,410.7 M62.1,408.3 L63.3,409.5 L62.1,410.7 M65.7,408.3 L66.9,409.5 L65.7,410.7 M69.4,408.3 L70.6,409.5 L69.4,410.7 M73.0,408.3 L74.2,409.5 L73.0,410.7 M76.6,408.3 L77.8,409.5 L76.6,410.7 M80.2,408.3 L81.4,409.5 L80.2,410.7 M83.8,408.3 L85.0,409.5 L83.8,410.7 M87.5,408.3 L88.7,409.5 L87.5,410.7 M91.1,408.3 L92.3,409.5 L91.1,410.7 M94.7,408.3 L95.9,409.5 L94.7,410.7 M98.3,408.3 L99.5,409.5 L98.3,410.7 M101.9,408.3 L103.1,409.5 L101.9,410.7 M105.6,408.3 L106.8,409.5 L105.6,410.7 M109.2,408.3 L110.4,409.5 L109.2,410.7 M112.8,408.3 L114.0,409.5 L112.8,410.7 M116.4,408.3 L117.6,409.5 L116.4,410.7 M120.0,408.3 L121.2,409.5 L120.0,410.7 M123.7,408.3 L124.9,409.5 L123.7,410.7 M127.3,408.3 L128.5,409.5 L127.3,410.7 M130.9,408.3 L132.1,409.5 L130.9,410.7 M134.5,408.3 L135.7,409.5 L134.5,410.7 M138.1,408.3 L139.3,409.5 L138.1,410.7 M141.8,408.3 L143.0,409.5 L141.8,410.7 M145.4,408.3 L146.6,409.5 L145.4,410.7 M149.0,408.3 L150.2,409.5 L149.0,410.7 M152.6,408.3 L153.8,409.5 L152.6,410.7 M156.2,408.3 L157.4,409.5 L156.2,410.7 M159.9,408.3 L161.1,409.5 L159.9,410.7 M163.5,408.3 L164.7,409.5 L163.5,410.7 M167.1,408.3 L168.3,409.5 L167.1,410.7 M170.7,408.3 L171.9,409.5 L170.7,410.7 M174.3,408.3 L175.5,409.5 L174.3,410.7 M178.0,408.3 L179.2,409.5 L178.0,410.7 M181.6,408.3 L182.8,409.5 L181.6,410.7 M185.2,408.3 L186.4,409.5 L185.2,410.7 M188.8,408.3 L190.0,409.5 L188.8,410.7 M192.4,408.3 L193.6,409.5 L192.4,410.7 M196.1,408.3 L197.3,409.5 L196.1,410.7 M199.7,408.3 L200.9,409.5 L199.7,410.7 M203.3,408.3 L204.5,409.5 L203.3,410.7 M206.9,408.3 L208.1,409.5 L206.9,410.7 M210.5,408.3 L211.7,409.5 L210.5,410.7 M214.2,408.3 L215.4,409.5 L214.2,410.7 M217.8,408.3 L219.0,409.5 L217.8,410.7 M221.4,408.3 L222.6,409.5 L221.4,410.7 M225.0,408.3 L226.2,409.5 L225.0,410.7 M228.6,408.3 L229.8,409.5 L228.6,410.7 M232.3,408.3 L233.5,409.5 L232.3,410.7 M235.9,408.3 L237.1,409.5 L235.9,410.7 M239.5,408.3 L240.7,409.5 L239.5,410.7 " fill="none" stroke="#3838dc" stroke-width="0.65" stroke-opacity="0.9"/>
<rect x="54.7" y="408.0" width="3" height="3" fill="#0a0aa8"/>
<rect x="242.9" y="408.0" width="3" height="3" fill="#0a0aa8"/>
<line x1="56.2" y1="423.4" x2="171.7" y2="423.4" stroke="#2a2ad0" stroke-width="0.7"/><path d="M58.5,422.2 L59.7,423.4 L58.5,424.6 M62.1,422.2 L63.3,423.4 L62.1,424.6 M65.7,422.2 L66.9,423.4 L65.7,424.6 M69.4,422.2 L70.6,423.4 L69.4,424.6 M73.0,422.2 L74.2,423.4 L73.0,424.6 M76.6,422.2 L77.8,423.4 L76.6,424.6 M80.2,422.2 L81.4,423.4 L80.2,424.6 M83.8,422.2 L85.0,423.4 L83.8,424.6 M87.5,422.2 L88.7,423.4 L87.5,424.6 M91.1,422.2 L92.3,423.4 L91.1,424.6 M94.7,422.2 L95.9,423.4 L94.7,424.6 M98.3,422.2 L99.5,423.4 L98.3,424.6 M101.9,422.2 L103.1,423.4 L101.9,424.6 M105.6,422.2 L106.8,423.4 L105.6,424.6 M109.2,422.2 L110.4,423.4 L109.2,424.6 M112.8,422.2 L114.0,423.4 L112.8,424.6 M116.4,422.2 L117.6,423.4 L116.4,424.6 M120.0,422.2 L121.2,423.4 L120.0,424.6 M123.7,422.2 L124.9,423.4 L123.7,424.6 M127.3,422.2 L128.5,423.4 L127.3,424.6 M130.9,422.2 L132.1,423.4 L130.9,424.6 M134.5,422.2 L135.7,423.4 L134.5,424.6 M138.1,422.2 L139.3,423.4 L138.1,424.6 M141.8,422.2 L143.0,423.4 L141.8,424.6 M145.4,422.2 L146.6,423.4 L145.4,424.6 M149.0,422.2 L150.2,423.4 L149.0,424.6 M152.6,422.2 L153.8,423.4 L152.6,424.6 M156.2,422.2 L157.4,423.4 L156.2,424.6 M159.9,422.2 L161.1,423.4 L159.9,424.6 M163.5,422.2 L164.7,423.4 L163.5,424.6 M167.1,422.2 L168.3,423.4 L167.1,424.6 " fill="none" stroke="#3838dc" stroke-width="0.65" stroke-opacity="0.9"/>
<rect x="54.7" y="421.9" width="3" height="3" fill="#0a0aa8"/>
<rect x="171.2" y="421.9" width="68.4" height="3" fill="#0a0aa8"/>
<line x1="261.0" y1="410.0" x2="451.2" y2="410.0" stroke="#2a2ad0" stroke-width="0.7"/><path d="M263.3,408.8 L264.5,410.0 L263.3,411.2 M266.9,408.8 L268.1,410.0 L266.9,411.2 M270.5,408.8 L271.7,410.0 L270.5,411.2 M274.2,408.8 L275.4,410.0 L274.2,411.2 M277.8,408.8 L279.0,410.0 L277.8,411.2 M281.4,408.8 L282.6,410.0 L281.4,411.2 M285.0,408.8 L286.2,410.0 L285.0,411.2 M288.6,408.8 L289.8,410.0 L288.6,411.2 M292.3,408.8 L293.5,410.0 L292.3,411.2 M295.9,408.8 L297.1,410.0 L295.9,411.2 M299.5,408.8 L300.7,410.0 L299.5,411.2 M303.1,408.8 L304.3,410.0 L303.1,411.2 M306.7,408.8 L307.9,410.0 L306.7,411.2 M310.4,408.8 L311.6,410.0 L310.4,411.2 M314.0,408.8 L315.2,410.0 L314.0,411.2 M317.6,408.8 L318.8,410.0 L317.6,411.2 M321.2,408.8 L322.4,410.0 L321.2,411.2 M324.8,408.8 L326.0,410.0 L324.8,411.2 M328.5,408.8 L329.7,410.0 L328.5,411.2 M332.1,408.8 L333.3,410.0 L332.1,411.2 M335.7,408.8 L336.9,410.0 L335.7,411.2 M339.3,408.8 L340.5,410.0 L339.3,411.2 M342.9,408.8 L344.1,410.0 L342.9,411.2 M346.6,408.8 L347.8,410.0 L346.6,411.2 M350.2,408.8 L351.4,410.0 L350.2,411.2 M353.8,408.8 L355.0,410.0 L353.8,411.2 M357.4,408.8 L358.6,410.0 L357.4,411.2 M361.0,408.8 L362.2,410.0 L361.0,411.2 M364.7,408.8 L365.9,410.0 L364.7,411.2 M368.3,408.8 L369.5,410.0 L368.3,411.2 M371.9,408.8 L373.1,410.0 L371.9,411.2 M375.5,408.8 L376.7,410.0 L375.5,411.2 M379.1,408.8 L380.3,410.0 L379.1,411.2 M382.8,408.8 L384.0,410.0 L382.8,411.2 M386.4,408.8 L387.6,410.0 L386.4,411.2 M390.0,408.8 L391.2,410.0 L390.0,411.2 M393.6,408.8 L394.8,410.0 L393.6,411.2 M397.2,408.8 L398.4,410.0 L397.2,411.2 M400.9,408.8 L402.1,410.0 L400.9,411.2 M404.5,408.8 L405.7,410.0 L404.5,411.2 M408.1,408.8 L409.3,410.0 L408.1,411.2 M411.7,408.8 L412.9,410.0 L411.7,411.2 M415.3,408.8 L416.5,410.0 L415.3,411.2 M419.0,408.8 L420.2,410.0 L419.0,411.2 M422.6,408.8 L423.8,410.0 L422.6,411.2 M426.2,408.8 L427.4,410.0 L426.2,411.2 M429.8,408.8 L431.0,410.0 L429.8,411.2 M433.4,408.8 L434.6,410.0 L433.4,411.2 M437.1,408.8 L438.3,410.0 L437.1,411.2 M440.7,408.8 L441.9,410.0 L440.7,411.2 M444.3,408.8 L445.5,410.0 L444.3,411.2 M447.9,408.8 L449.1,410.0 L447.9,411.2 " fill="none" stroke="#3838dc" stroke-width="0.65" stroke-opacity="0.9"/>
<rect x="259.5" y="408.5" width="3" height="3" fill="#0a0aa8"/>
<rect x="449.7" y="408.5" width="3" height="3" fill="#0a0aa8"/>
<rect x="259.9" y="422.5" width="95.9" height="3" fill="#0a0aa8"/>
<rect x="471.3" y="408.0" width="116.2" height="3" fill="#0a0aa8"/>
<rect x="471.3" y="422.1" width="190.7" height="3" fill="#0a0aa8"/>
<line x1="170.4" y1="369.0" x2="170.4" y2="425.5" stroke="#1b9c73" stroke-width="2.8" stroke-dasharray="7.6,2.8" stroke-dashoffset="2.8"/>
<line x1="240.3" y1="369.0" x2="240.3" y2="425.7" stroke="#1b9c73" stroke-width="2.8" stroke-dasharray="7.6,2.8" stroke-dashoffset="2.8"/>
<line x1="587.6" y1="371.8" x2="587.6" y2="428.2" stroke="#1b9c73" stroke-width="2.8" stroke-dasharray="12.6,3.1,5,3.1" stroke-dashoffset="3.0"/>
<line x1="662.7" y1="372.0" x2="662.7" y2="428.2" stroke="#1b9c73" stroke-width="2.8" stroke-dasharray="12.6,3.1,5,3.1" stroke-dashoffset="3.0"/>
<text x="170.2" y="441.6" font-size="9.7" text-anchor="middle" fill="#1b9c73">Exon start</text>
<text x="240.0" y="441.6" font-size="9.7" text-anchor="middle" fill="#1b9c73">PAS</text>
<text x="587.3" y="441.2" font-size="9.7" text-anchor="middle" fill="#1b9c73">Proximal</text>
<text x="662.8" y="441.2" font-size="9.7" text-anchor="middle" fill="#1b9c73">Distal</text>
<text x="0.0" y="455.6" font-size="12.6" font-weight="bold" fill="#000" stroke="#000" stroke-width="0.45">d</text>
<text x="338.3" y="455.2" font-size="12.6" font-weight="bold" fill="#000" stroke="#000" stroke-width="0.45">e</text>
<rect x="286.3" y="458.4" width="10.2" height="10.2" fill="#a3a3a3" stroke="#444" stroke-width="0.8"/><line x1="286.3" y1="463.5" x2="296.5" y2="463.5" stroke="#000" stroke-width="1.3"/>
<text x="301.0" y="467.0" font-size="10.1" fill="#2e2e2e">Background</text>
<rect x="368.6" y="458.4" width="10.2" height="10.2" fill="#f2bf9a" stroke="#d95f0e" stroke-width="0.8"/><line x1="368.6" y1="463.5" x2="378.8" y2="463.5" stroke="#d95f0e" stroke-width="1.3"/>
<text x="382.8" y="467.0" font-size="10.2" fill="#2e2e2e">Cryptic</text>
<rect x="36.1" y="480.3" width="146.5" height="48.6" fill="#fff"/><path d="M49.42,480.3V528.9M62.74,480.3V528.9M76.05,480.3V528.9M89.37,480.3V528.9M102.69,480.3V528.9M116.01,480.3V528.9M129.33,480.3V528.9M142.65,480.3V528.9M155.96,480.3V528.9M169.28,480.3V528.9" stroke="#ececec" stroke-width="0.75"/><path d="M36.1,487.60H182.6M36.1,498.20H182.6M36.1,508.80H182.6M36.1,519.30H182.6" stroke="#ececec" stroke-width="0.75"/><path d="M42.76,480.3V528.9M56.08,480.3V528.9M69.40,480.3V528.9M82.71,480.3V528.9M96.03,480.3V528.9M109.35,480.3V528.9M122.67,480.3V528.9M135.99,480.3V528.9M149.30,480.3V528.9M162.62,480.3V528.9M175.94,480.3V528.9M36.1,482.30H182.6M36.1,492.90H182.6M36.1,503.50H182.6M36.1,514.00H182.6M36.1,524.50H182.6" stroke="#e8e8e8" stroke-width="0.8"/>
<line x1="109.35" y1="480.3" x2="109.35" y2="528.9" stroke="#888" stroke-width="0.8" stroke-dasharray="3,2"/>
<path d="M42.48,518.84 C45.00,518.97 53.29,519.37 57.61,519.62 C61.93,519.87 64.81,520.08 68.41,520.36 C72.01,520.65 75.61,521.13 79.22,521.32 C82.82,521.52 86.42,521.32 90.02,521.54 C93.62,521.76 97.58,522.58 100.82,522.62 C104.06,522.66 105.86,521.90 109.47,521.76 C113.07,521.61 118.47,521.76 122.43,521.76 C126.39,521.76 129.63,521.94 133.23,521.76 C136.84,521.57 140.80,521.12 144.04,520.65 C147.28,520.18 150.52,519.35 152.68,518.94 C154.84,518.53 155.56,518.40 157.00,518.19 C158.44,517.98 159.16,517.44 161.32,517.69 C163.48,517.95 167.63,518.89 169.97,519.73 C172.31,520.57 174.47,522.23 175.37,522.73 L175.37,524.46 C174.47,524.02 172.31,522.51 169.97,521.84 C167.63,521.16 163.48,520.52 161.32,520.41 C159.16,520.31 158.44,520.99 157.00,521.22 C155.56,521.44 154.84,521.45 152.68,521.77 C150.52,522.08 147.28,522.76 144.04,523.08 C140.80,523.40 136.84,523.60 133.23,523.70 C129.63,523.80 126.39,523.70 122.43,523.70 C118.47,523.70 113.07,523.56 109.47,523.70 C105.86,523.84 104.06,524.53 100.82,524.56 C97.58,524.60 93.62,523.99 90.02,523.92 C86.42,523.84 82.82,524.22 79.22,524.13 C75.61,524.04 72.01,523.58 68.41,523.36 C64.81,523.14 61.93,522.99 57.61,522.81 C53.29,522.63 45.00,522.38 42.48,522.30 Z" fill="#000" stroke="#000" stroke-width="1.2" stroke-linejoin="round"/><path d="M42.48,523.85 C44.46,523.85 52.10,524.65 54.37,523.85 C56.64,523.05 55.55,520.65 56.10,519.05 C56.64,517.46 57.18,515.31 57.61,514.30 C58.04,513.29 58.33,513.00 58.69,513.00 C59.05,513.00 59.34,513.29 59.77,514.30 C60.20,515.31 60.74,517.46 61.28,519.05 C61.82,520.65 60.56,523.05 63.01,523.85 C65.46,524.65 73.27,525.37 75.97,523.85 C78.68,522.33 78.13,517.69 79.22,514.73 C80.30,511.77 81.20,506.27 82.46,506.09 C83.72,505.91 84.62,514.91 86.78,513.65 C88.94,512.39 93.08,500.87 95.42,498.53 C97.76,496.19 99.02,498.35 100.82,499.61 C102.62,500.87 104.60,506.52 106.22,506.09 C107.85,505.66 109.11,497.55 110.55,497.01 C111.99,496.47 112.71,504.15 114.87,502.85 C117.03,501.55 120.81,486.90 123.51,489.24 C126.21,491.58 129.09,511.12 131.07,516.89 C133.05,522.66 132.51,522.77 135.39,523.85 C138.28,524.93 145.30,526.23 148.36,523.38 C151.42,520.52 151.96,507.46 153.76,506.74 C155.56,506.02 156.46,519.81 159.16,519.05 C161.86,518.30 167.27,501.84 169.97,502.20 C172.67,502.56 174.47,518.05 175.37,521.22 L175.37,524.02 C174.47,523.38 172.67,520.13 169.97,520.13 C167.27,520.13 161.86,523.84 159.16,524.02 C156.46,524.20 155.56,521.22 153.76,521.22 C151.96,521.22 151.42,523.56 148.36,524.02 C145.30,524.49 138.28,524.02 135.39,524.02 C132.51,524.02 133.05,525.75 131.07,524.02 C129.09,522.30 126.21,513.65 123.51,513.65 C120.81,513.65 117.03,523.30 114.87,524.02 C112.71,524.74 111.99,517.97 110.55,517.97 C109.11,517.97 107.85,523.48 106.22,524.02 C104.60,524.56 102.62,521.86 100.82,521.22 C99.02,520.57 97.76,519.67 95.42,520.13 C93.08,520.60 88.94,523.66 86.78,524.02 C84.62,524.38 83.72,522.40 82.46,522.30 C81.20,522.19 80.30,523.09 79.22,523.38 C78.13,523.66 78.68,523.92 75.97,524.02 C73.27,524.13 65.46,524.28 63.01,524.02 C60.56,523.76 61.82,522.94 61.28,522.47 C60.74,522.00 60.20,521.57 59.77,521.21 C59.34,520.85 59.05,520.31 58.69,520.31 C58.33,520.31 58.04,520.85 57.61,521.21 C57.18,521.57 56.64,522.00 56.10,522.47 C55.55,522.94 56.64,523.76 54.37,524.02 C52.10,524.28 44.46,524.02 42.48,524.02 Z" fill="#f2bf9a" fill-opacity="0.85" stroke="none"/><path d="M42.48,523.85 C44.46,523.85 52.10,524.65 54.37,523.85 C56.64,523.05 55.55,520.65 56.10,519.05 C56.64,517.46 57.18,515.31 57.61,514.30 C58.04,513.29 58.33,513.00 58.69,513.00 C59.05,513.00 59.34,513.29 59.77,514.30 C60.20,515.31 60.74,517.46 61.28,519.05 C61.82,520.65 60.56,523.05 63.01,523.85 C65.46,524.65 73.27,525.37 75.97,523.85 C78.68,522.33 78.13,517.69 79.22,514.73 C80.30,511.77 81.20,506.27 82.46,506.09 C83.72,505.91 84.62,514.91 86.78,513.65 C88.94,512.39 93.08,500.87 95.42,498.53 C97.76,496.19 99.02,498.35 100.82,499.61 C102.62,500.87 104.60,506.52 106.22,506.09 C107.85,505.66 109.11,497.55 110.55,497.01 C111.99,496.47 112.71,504.15 114.87,502.85 C117.03,501.55 120.81,486.90 123.51,489.24 C126.21,491.58 129.09,511.12 131.07,516.89 C133.05,522.66 132.51,522.77 135.39,523.85 C138.28,524.93 145.30,526.23 148.36,523.38 C151.42,520.52 151.96,507.46 153.76,506.74 C155.56,506.02 156.46,519.81 159.16,519.05 C161.86,518.30 167.27,501.84 169.97,502.20 C172.67,502.56 174.47,518.05 175.37,521.22" fill="none" stroke="#d95f0e" stroke-width="1.1"/><path d="M42.48,524.02 C44.46,524.02 52.10,524.28 54.37,524.02 C56.64,523.76 55.55,522.94 56.10,522.47 C56.64,522.00 57.18,521.57 57.61,521.21 C58.04,520.85 58.33,520.31 58.69,520.31 C59.05,520.31 59.34,520.85 59.77,521.21 C60.20,521.57 60.74,522.00 61.28,522.47 C61.82,522.94 60.56,523.76 63.01,524.02 C65.46,524.28 73.27,524.13 75.97,524.02 C78.68,523.92 78.13,523.66 79.22,523.38 C80.30,523.09 81.20,522.19 82.46,522.30 C83.72,522.40 84.62,524.38 86.78,524.02 C88.94,523.66 93.08,520.60 95.42,520.13 C97.76,519.67 99.02,520.57 100.82,521.22 C102.62,521.86 104.60,524.56 106.22,524.02 C107.85,523.48 109.11,517.97 110.55,517.97 C111.99,517.97 112.71,524.74 114.87,524.02 C117.03,523.30 120.81,513.65 123.51,513.65 C126.21,513.65 129.09,522.30 131.07,524.02 C133.05,525.75 132.51,524.02 135.39,524.02 C138.28,524.02 145.30,524.49 148.36,524.02 C151.42,523.56 151.96,521.22 153.76,521.22 C155.56,521.22 156.46,524.20 159.16,524.02 C161.86,523.84 167.27,520.13 169.97,520.13 C172.67,520.13 174.47,523.38 175.37,524.02" fill="none" stroke="#d95f0e" stroke-width="1.1"/><path d="M42.48,524.02 C44.46,524.02 52.10,524.31 54.37,524.02 C56.64,523.74 55.55,522.79 56.10,522.30 C56.64,521.80 57.18,521.40 57.61,521.04 C58.04,520.68 58.33,520.13 58.69,520.13 C59.05,520.13 59.34,520.68 59.77,521.04 C60.20,521.40 60.74,521.80 61.28,522.30 C61.82,522.79 60.56,523.74 63.01,524.02 C65.46,524.31 73.27,524.67 75.97,524.02 C78.68,523.38 78.13,521.32 79.22,520.13 C80.30,518.95 81.20,517.07 82.46,516.89 C83.72,516.71 84.62,520.31 86.78,519.05 C88.94,517.79 93.08,510.77 95.42,509.33 C97.76,507.89 99.02,509.69 100.82,510.41 C102.62,511.13 104.60,514.19 106.22,513.65 C107.85,513.11 109.11,507.35 110.55,507.17 C111.99,506.99 112.71,513.65 114.87,512.57 C117.03,511.49 120.81,499.25 123.51,500.69 C126.21,502.13 129.09,517.33 131.07,521.22 C133.05,525.10 132.51,523.56 135.39,524.02 C138.28,524.49 145.30,525.57 148.36,524.02 C151.42,522.48 151.96,515.02 153.76,514.73 C155.56,514.44 156.46,522.84 159.16,522.30 C161.86,521.76 167.27,511.31 169.97,511.49 C172.67,511.67 174.47,521.40 175.37,523.38" fill="none" stroke="#d95f0e" stroke-width="1.9" stroke-linejoin="round"/>
<rect x="36.1" y="480.3" width="146.5" height="48.6" fill="none" stroke="#333" stroke-width="0.9"/>
<rect x="36.1" y="529.5" width="146.5" height="47.8" fill="#fff"/><path d="M49.42,529.5V577.3M62.74,529.5V577.3M76.05,529.5V577.3M89.37,529.5V577.3M102.69,529.5V577.3M116.01,529.5V577.3M129.33,529.5V577.3M142.65,529.5V577.3M155.96,529.5V577.3M169.28,529.5V577.3" stroke="#ececec" stroke-width="0.75"/><path d="M36.1,540.10H182.6M36.1,549.90H182.6M36.1,559.70H182.6M36.1,569.40H182.6" stroke="#ececec" stroke-width="0.75"/><path d="M42.76,529.5V577.3M56.08,529.5V577.3M69.40,529.5V577.3M82.71,529.5V577.3M96.03,529.5V577.3M109.35,529.5V577.3M122.67,529.5V577.3M135.99,529.5V577.3M149.30,529.5V577.3M162.62,529.5V577.3M175.94,529.5V577.3M36.1,535.20H182.6M36.1,545.00H182.6M36.1,554.80H182.6M36.1,564.50H182.6M36.1,574.20H182.6" stroke="#e8e8e8" stroke-width="0.8"/>
<line x1="109.35" y1="529.5" x2="109.35" y2="577.3" stroke="#888" stroke-width="0.8" stroke-dasharray="3,2"/>
<path d="M42.48,572.38 C45.00,572.45 53.65,573.24 57.61,572.81 C61.57,572.38 64.09,570.22 66.25,569.78 C68.41,569.35 69.13,569.86 70.57,570.22 C72.01,570.58 71.65,571.51 74.89,571.94 C78.13,572.38 86.42,572.81 90.02,572.81 C93.62,572.81 93.62,571.91 96.50,571.94 C99.38,571.98 102.98,572.88 107.31,573.02 C111.63,573.17 118.83,573.02 122.43,572.81 C126.03,572.59 126.39,571.69 128.91,571.73 C131.43,571.76 133.95,573.17 137.56,573.02 C141.16,572.88 147.28,571.08 150.52,570.86 C153.76,570.65 154.48,571.48 157.00,571.73 C159.52,571.98 162.76,572.45 165.65,572.38 C168.53,572.30 172.85,571.48 174.29,571.30" fill="none" stroke="#000" stroke-width="2.5" stroke-linejoin="round"/><path d="M42.48,569.13 C43.20,569.57 45.00,571.55 46.80,571.73 C48.60,571.91 51.49,570.29 53.29,570.22 C55.09,570.14 56.17,571.30 57.61,571.30 C59.05,571.30 60.13,570.14 61.93,570.22 C63.73,570.29 65.53,571.55 68.41,571.73 C71.29,571.91 76.51,571.37 79.22,571.30 C81.92,571.22 83.18,571.94 84.62,571.30 C86.06,570.65 86.78,567.30 87.86,567.41 C88.94,567.51 89.84,571.48 91.10,571.94 C92.36,572.41 93.98,571.22 95.42,570.22 C96.86,569.21 98.66,570.94 99.74,565.89 C100.82,560.85 101.18,545.73 101.90,539.96 C102.62,534.20 103.34,531.32 104.06,531.32 C104.78,531.32 105.50,533.84 106.22,539.96 C106.94,546.09 107.56,562.39 108.39,568.05 C109.21,573.72 110.29,574.29 111.19,573.93 C112.09,573.57 112.82,568.39 113.79,565.89 C114.76,563.40 115.95,559.41 117.03,558.98 C118.11,558.55 118.65,562.76 120.27,563.30 C121.89,563.84 124.77,562.51 126.75,562.22 C128.73,561.93 130.53,563.19 132.15,561.57 C133.77,559.95 135.21,552.39 136.48,552.50 C137.74,552.61 138.64,559.09 139.72,562.22 C140.80,565.35 141.70,571.22 142.96,571.30 C144.22,571.37 145.84,565.53 147.28,562.65 C148.72,559.77 150.16,553.90 151.60,554.01 C153.04,554.12 154.30,561.61 155.92,563.30 C157.54,564.99 159.70,564.38 161.32,564.17 C162.94,563.95 164.03,561.54 165.65,562.00 C167.27,562.47 169.43,566.69 171.05,566.97 C172.67,567.26 174.65,564.27 175.37,563.73 L175.37,570.22 C174.65,570.40 172.67,571.66 171.05,571.30 C169.43,570.94 167.27,568.31 165.65,568.05 C164.03,567.80 162.94,569.71 161.32,569.78 C159.70,569.86 157.54,569.86 155.92,568.49 C154.30,567.12 153.04,561.57 151.60,561.57 C150.16,561.57 148.72,566.51 147.28,568.49 C145.84,570.47 144.22,573.53 142.96,573.46 C141.70,573.38 140.80,570.22 139.72,568.05 C138.64,565.89 137.74,560.67 136.48,560.49 C135.21,560.31 133.77,565.79 132.15,566.97 C130.53,568.16 128.73,567.37 126.75,567.62 C124.77,567.87 121.89,568.95 120.27,568.49 C118.65,568.02 118.11,564.53 117.03,564.81 C115.95,565.10 114.76,568.67 113.79,570.22 C112.82,571.76 112.09,573.92 111.19,574.10 C110.29,574.28 109.21,573.74 108.39,571.30 C107.56,568.85 106.94,563.37 106.22,559.41 C105.50,555.45 104.78,547.53 104.06,547.53 C103.34,547.53 102.62,555.81 101.90,559.41 C101.18,563.01 100.82,566.81 99.74,569.13 C98.66,571.46 96.86,572.55 95.42,573.37 C93.98,574.20 92.36,574.60 91.10,574.10 C89.84,573.61 88.94,570.42 87.86,570.42 C86.78,570.42 86.06,573.49 84.62,574.10 C83.18,574.72 81.92,574.10 79.22,574.10 C76.51,574.10 71.29,574.33 68.41,574.10 C65.53,573.88 63.73,572.80 61.93,572.74 C60.13,572.68 59.05,573.77 57.61,573.74 C56.17,573.71 55.09,572.54 53.29,572.58 C51.49,572.62 48.60,574.18 46.80,573.97 C45.00,573.76 43.20,571.74 42.48,571.30 Z" fill="#f2bf9a" fill-opacity="0.85" stroke="none"/><path d="M42.48,569.13 C43.20,569.57 45.00,571.55 46.80,571.73 C48.60,571.91 51.49,570.29 53.29,570.22 C55.09,570.14 56.17,571.30 57.61,571.30 C59.05,571.30 60.13,570.14 61.93,570.22 C63.73,570.29 65.53,571.55 68.41,571.73 C71.29,571.91 76.51,571.37 79.22,571.30 C81.92,571.22 83.18,571.94 84.62,571.30 C86.06,570.65 86.78,567.30 87.86,567.41 C88.94,567.51 89.84,571.48 91.10,571.94 C92.36,572.41 93.98,571.22 95.42,570.22 C96.86,569.21 98.66,570.94 99.74,565.89 C100.82,560.85 101.18,545.73 101.90,539.96 C102.62,534.20 103.34,531.32 104.06,531.32 C104.78,531.32 105.50,533.84 106.22,539.96 C106.94,546.09 107.56,562.39 108.39,568.05 C109.21,573.72 110.29,574.29 111.19,573.93 C112.09,573.57 112.82,568.39 113.79,565.89 C114.76,563.40 115.95,559.41 117.03,558.98 C118.11,558.55 118.65,562.76 120.27,563.30 C121.89,563.84 124.77,562.51 126.75,562.22 C128.73,561.93 130.53,563.19 132.15,561.57 C133.77,559.95 135.21,552.39 136.48,552.50 C137.74,552.61 138.64,559.09 139.72,562.22 C140.80,565.35 141.70,571.22 142.96,571.30 C144.22,571.37 145.84,565.53 147.28,562.65 C148.72,559.77 150.16,553.90 151.60,554.01 C153.04,554.12 154.30,561.61 155.92,563.30 C157.54,564.99 159.70,564.38 161.32,564.17 C162.94,563.95 164.03,561.54 165.65,562.00 C167.27,562.47 169.43,566.69 171.05,566.97 C172.67,567.26 174.65,564.27 175.37,563.73" fill="none" stroke="#d95f0e" stroke-width="1.1"/><path d="M42.48,571.30 C43.20,571.74 45.00,573.76 46.80,573.97 C48.60,574.18 51.49,572.62 53.29,572.58 C55.09,572.54 56.17,573.71 57.61,573.74 C59.05,573.77 60.13,572.68 61.93,572.74 C63.73,572.80 65.53,573.88 68.41,574.10 C71.29,574.33 76.51,574.10 79.22,574.10 C81.92,574.10 83.18,574.72 84.62,574.10 C86.06,573.49 86.78,570.42 87.86,570.42 C88.94,570.42 89.84,573.61 91.10,574.10 C92.36,574.60 93.98,574.20 95.42,573.37 C96.86,572.55 98.66,571.46 99.74,569.13 C100.82,566.81 101.18,563.01 101.90,559.41 C102.62,555.81 103.34,547.53 104.06,547.53 C104.78,547.53 105.50,555.45 106.22,559.41 C106.94,563.37 107.56,568.85 108.39,571.30 C109.21,573.74 110.29,574.28 111.19,574.10 C112.09,573.92 112.82,571.76 113.79,570.22 C114.76,568.67 115.95,565.10 117.03,564.81 C118.11,564.53 118.65,568.02 120.27,568.49 C121.89,568.95 124.77,567.87 126.75,567.62 C128.73,567.37 130.53,568.16 132.15,566.97 C133.77,565.79 135.21,560.31 136.48,560.49 C137.74,560.67 138.64,565.89 139.72,568.05 C140.80,570.22 141.70,573.38 142.96,573.46 C144.22,573.53 145.84,570.47 147.28,568.49 C148.72,566.51 150.16,561.57 151.60,561.57 C153.04,561.57 154.30,567.12 155.92,568.49 C157.54,569.86 159.70,569.86 161.32,569.78 C162.94,569.71 164.03,567.80 165.65,568.05 C167.27,568.31 169.43,570.94 171.05,571.30 C172.67,571.66 174.65,570.40 175.37,570.22" fill="none" stroke="#d95f0e" stroke-width="1.1"/><path d="M42.48,570.22 C43.20,570.65 45.00,572.63 46.80,572.81 C48.60,572.99 51.49,571.37 53.29,571.30 C55.09,571.22 56.17,572.38 57.61,572.38 C59.05,572.38 60.13,571.22 61.93,571.30 C63.73,571.37 65.53,572.63 68.41,572.81 C71.29,572.99 76.51,572.45 79.22,572.38 C81.92,572.30 83.18,573.02 84.62,572.38 C86.06,571.73 86.78,568.38 87.86,568.49 C88.94,568.59 89.84,572.56 91.10,573.02 C92.36,573.49 93.98,572.30 95.42,571.30 C96.86,570.29 98.66,570.04 99.74,566.97 C100.82,563.91 101.18,557.43 101.90,552.93 C102.62,548.43 103.34,539.96 104.06,539.96 C104.78,539.96 105.50,548.07 106.22,552.93 C106.94,557.79 107.56,565.61 108.39,569.13 C109.21,572.66 110.29,574.28 111.19,574.10 C112.09,573.92 112.82,570.14 113.79,568.05 C114.76,565.97 115.95,561.93 117.03,561.57 C118.11,561.21 118.65,565.35 120.27,565.89 C121.89,566.43 124.77,565.17 126.75,564.81 C128.73,564.45 130.53,565.17 132.15,563.73 C133.77,562.29 135.21,555.99 136.48,556.17 C137.74,556.35 138.64,562.11 139.72,564.81 C140.80,567.51 141.70,572.20 142.96,572.38 C144.22,572.56 145.84,568.41 147.28,565.89 C148.72,563.37 150.16,557.25 151.60,557.25 C153.04,557.25 154.30,564.27 155.92,565.89 C157.54,567.51 159.70,567.15 161.32,566.97 C162.94,566.79 164.03,564.45 165.65,564.81 C167.27,565.17 169.43,568.77 171.05,569.13 C172.67,569.49 174.65,567.33 175.37,566.97" fill="none" stroke="#d95f0e" stroke-width="1.9" stroke-linejoin="round"/>
<rect x="36.1" y="529.5" width="146.5" height="47.8" fill="none" stroke="#333" stroke-width="0.9"/>
<text x="108.9" y="477.2" font-size="9.7" text-anchor="middle" fill="#2e2e2e">Exon start</text>
<path d="M42.76,577.3v2.6M56.08,577.3v2.6M69.40,577.3v2.6M82.71,577.3v2.6M96.03,577.3v2.6M109.35,577.3v2.6M122.67,577.3v2.6M135.99,577.3v2.6M149.30,577.3v2.6M162.62,577.3v2.6M175.94,577.3v2.6" stroke="#333" stroke-width="0.8"/><text transform="translate(45.2,585.7) rotate(-45)" font-size="8.7" text-anchor="end" fill="#333">–500</text><text transform="translate(58.5,585.7) rotate(-45)" font-size="8.7" text-anchor="end" fill="#333">–400</text><text transform="translate(71.8,585.7) rotate(-45)" font-size="8.7" text-anchor="end" fill="#333">–300</text><text transform="translate(85.1,585.7) rotate(-45)" font-size="8.7" text-anchor="end" fill="#333">–200</text><text transform="translate(98.4,585.7) rotate(-45)" font-size="8.7" text-anchor="end" fill="#333">–100</text><text transform="translate(111.8,585.7) rotate(-45)" font-size="8.7" text-anchor="end" fill="#333">0</text><text transform="translate(125.1,585.7) rotate(-45)" font-size="8.7" text-anchor="end" fill="#333">100</text><text transform="translate(138.4,585.7) rotate(-45)" font-size="8.7" text-anchor="end" fill="#333">200</text><text transform="translate(151.7,585.7) rotate(-45)" font-size="8.7" text-anchor="end" fill="#333">300</text><text transform="translate(165.0,585.7) rotate(-45)" font-size="8.7" text-anchor="end" fill="#333">400</text><text transform="translate(178.3,585.7) rotate(-45)" font-size="8.7" text-anchor="end" fill="#333">500</text>
<text x="31.0" y="485.4" font-size="8.7" text-anchor="end" fill="#333">0.08</text><text x="31.0" y="496.0" font-size="8.7" text-anchor="end" fill="#333">0.06</text><text x="31.0" y="506.6" font-size="8.7" text-anchor="end" fill="#333">0.04</text><text x="31.0" y="517.1" font-size="8.7" text-anchor="end" fill="#333">0.02</text><text x="31.0" y="527.6" font-size="8.7" text-anchor="end" fill="#333">0</text><path d="M33.5,482.30h2.6M33.5,492.90h2.6M33.5,503.50h2.6M33.5,514.00h2.6M33.5,524.50h2.6" stroke="#333" stroke-width="0.8"/>
<text x="31.0" y="538.3" font-size="8.7" text-anchor="end" fill="#333">0.20</text><text x="31.0" y="548.1" font-size="8.7" text-anchor="end" fill="#333">0.15</text><text x="31.0" y="557.9" font-size="8.7" text-anchor="end" fill="#333">0.10</text><text x="31.0" y="567.6" font-size="8.7" text-anchor="end" fill="#333">0.05</text><text x="31.0" y="577.3" font-size="8.7" text-anchor="end" fill="#333">0</text><path d="M33.5,535.20h2.6M33.5,545.00h2.6M33.5,554.80h2.6M33.5,564.50h2.6M33.5,574.20h2.6" stroke="#333" stroke-width="0.8"/>
<rect x="185.8" y="480.3" width="146.5" height="48.6" fill="#fff"/><path d="M199.12,480.3V528.9M212.44,480.3V528.9M225.75,480.3V528.9M239.07,480.3V528.9M252.39,480.3V528.9M265.71,480.3V528.9M279.03,480.3V528.9M292.35,480.3V528.9M305.66,480.3V528.9M318.98,480.3V528.9" stroke="#ececec" stroke-width="0.75"/><path d="M185.8,487.60H332.3M185.8,498.20H332.3M185.8,508.80H332.3M185.8,519.30H332.3" stroke="#ececec" stroke-width="0.75"/><path d="M192.46,480.3V528.9M205.78,480.3V528.9M219.10,480.3V528.9M232.41,480.3V528.9M245.73,480.3V528.9M259.05,480.3V528.9M272.37,480.3V528.9M285.69,480.3V528.9M299.00,480.3V528.9M312.32,480.3V528.9M325.64,480.3V528.9M185.8,482.30H332.3M185.8,492.90H332.3M185.8,503.50H332.3M185.8,514.00H332.3M185.8,524.50H332.3" stroke="#e8e8e8" stroke-width="0.8"/>
<line x1="259.05" y1="480.3" x2="259.05" y2="528.9" stroke="#888" stroke-width="0.8" stroke-dasharray="3,2"/>
<path d="M193.26,520.13 C195.60,519.94 202.81,519.54 207.31,518.97 C211.81,518.40 216.67,517.26 220.27,516.73 C223.87,516.20 227.11,516.00 228.92,515.81 C230.72,515.63 228.92,515.27 231.08,515.63 C233.24,515.99 238.64,517.19 241.88,517.96 C245.12,518.73 248.00,519.67 250.52,520.25 C253.04,520.83 254.84,521.11 257.01,521.43 C259.17,521.75 260.97,522.14 263.49,522.17 C266.01,522.21 268.89,522.09 272.13,521.65 C275.37,521.20 279.33,519.49 282.93,519.49 C286.54,519.49 289.60,521.47 293.74,521.65 C297.88,521.83 304.18,520.46 307.78,520.57 C311.38,520.68 312.28,522.04 315.35,522.30 C318.41,522.55 324.35,522.12 326.15,522.08 L326.15,523.38 C324.35,523.41 318.41,523.84 315.35,523.59 C312.28,523.34 311.38,521.97 307.78,521.86 C304.18,521.76 297.88,523.12 293.74,522.94 C289.60,522.76 286.54,520.78 282.93,520.78 C279.33,520.78 275.37,522.46 272.13,522.94 C268.89,523.43 266.01,523.68 263.49,523.72 C260.97,523.75 259.17,523.42 257.01,523.16 C254.84,522.90 253.04,522.68 250.52,522.18 C248.00,521.68 245.12,520.82 241.88,520.15 C238.64,519.48 233.24,518.45 231.08,518.16 C228.92,517.87 230.72,518.23 228.92,518.41 C227.11,518.58 223.87,518.74 220.27,519.22 C216.67,519.70 211.81,520.79 207.31,521.30 C202.81,521.81 195.60,522.13 193.26,522.30 Z" fill="#000" stroke="#000" stroke-width="1.2" stroke-linejoin="round"/><path d="M193.26,510.41 C193.98,511.49 196.68,515.86 197.58,516.89 C198.48,517.93 197.94,517.15 198.66,516.61 C199.38,516.07 201.19,514.20 201.91,513.65 C202.63,513.10 202.09,513.49 202.99,513.31 C203.89,513.13 205.51,512.83 207.31,512.57 C209.11,512.31 212.35,511.91 213.79,511.73 C215.23,511.55 213.79,511.53 215.95,511.49 C218.11,511.45 224.23,512.57 226.75,511.49 C229.28,510.41 230.18,506.21 231.08,505.01 C231.98,503.81 230.00,504.31 232.16,504.31 C234.32,504.31 241.52,505.32 244.04,505.01 C246.56,504.69 246.56,502.76 247.28,502.42 C248.00,502.07 247.82,501.95 248.36,502.92 C248.90,503.89 249.80,506.72 250.52,508.25 C251.24,509.78 251.96,511.22 252.68,512.12 C253.40,513.02 254.30,513.41 254.84,513.65 C255.38,513.90 255.02,516.10 255.92,513.58 C256.83,511.06 258.81,501.40 260.25,498.53 C261.69,495.66 263.31,496.86 264.57,496.37 C265.83,495.88 267.09,495.59 267.81,495.59 C268.53,495.59 267.81,494.26 268.89,496.37 C269.97,498.48 273.03,506.00 274.29,508.25 C275.55,510.50 275.73,509.33 276.45,509.87 C277.17,510.41 277.89,511.76 278.61,511.49 C279.33,511.22 280.23,508.57 280.77,508.25 C281.31,507.94 281.13,507.44 281.85,509.60 C282.57,511.76 284.01,518.84 285.09,521.22 C286.18,523.59 287.26,523.83 288.34,523.85 C289.42,523.88 290.68,522.08 291.58,521.37 C292.48,520.66 293.02,520.34 293.74,519.59 C294.46,518.85 294.46,518.80 295.90,516.89 C297.34,514.98 301.12,509.93 302.38,508.13 C303.64,506.33 302.20,508.05 303.46,506.09 C304.72,504.13 307.96,496.19 309.94,496.37 C311.92,496.55 313.55,505.73 315.35,507.17 C317.15,508.61 319.67,505.37 320.75,505.01 C321.83,504.65 320.93,504.47 321.83,505.01 C322.73,505.55 325.43,507.71 326.15,508.25 L326.15,522.30 C325.43,521.94 322.73,520.49 321.83,520.13 C320.93,519.77 321.83,520.13 320.75,520.13 C319.67,520.13 317.15,520.86 315.35,520.13 C313.55,519.41 311.92,515.61 309.94,515.81 C307.96,516.02 304.72,520.29 303.46,521.37 C302.20,522.45 303.64,521.88 302.38,522.30 C301.12,522.72 297.34,523.60 295.90,523.89 C294.46,524.18 294.46,524.00 293.74,524.02 C293.02,524.05 292.48,524.02 291.58,524.02 C290.68,524.02 289.42,524.02 288.34,524.02 C287.26,524.02 286.18,524.74 285.09,524.02 C284.01,523.31 282.57,520.26 281.85,519.73 C281.13,519.20 281.31,520.27 280.77,520.82 C280.23,521.36 279.33,522.93 278.61,523.00 C277.89,523.06 277.17,521.98 276.45,521.22 C275.73,520.45 275.55,519.29 274.29,518.39 C273.03,517.49 269.97,516.37 268.89,515.81 C267.81,515.26 268.53,515.04 267.81,515.05 C267.09,515.05 265.83,515.53 264.57,515.84 C263.31,516.15 261.69,515.53 260.25,516.89 C258.81,518.26 256.83,522.84 255.92,524.02 C255.02,525.21 255.38,524.02 254.84,524.02 C254.30,524.02 253.40,524.02 252.68,524.02 C251.96,524.02 251.24,524.78 250.52,524.02 C249.80,523.27 248.90,520.26 248.36,519.49 C247.82,518.71 248.00,519.45 247.28,519.38 C246.56,519.31 246.56,519.11 244.04,519.05 C241.52,519.00 234.32,518.92 232.16,519.05 C230.00,519.18 231.98,519.18 231.08,519.83 C230.18,520.48 229.28,522.40 226.75,522.94 C224.23,523.49 218.11,523.09 215.95,523.12 C213.79,523.16 215.23,523.12 213.79,523.16 C212.35,523.20 209.11,523.23 207.31,523.38 C205.51,523.52 203.89,523.90 202.99,524.01 C202.09,524.12 202.63,524.02 201.91,524.02 C201.19,524.03 199.38,524.02 198.66,524.02 C197.94,524.02 198.48,524.13 197.58,524.02 C196.68,523.92 193.98,523.48 193.26,523.38 Z" fill="#f2bf9a" fill-opacity="0.85" stroke="none"/><path d="M193.26,510.41 C193.98,511.49 196.68,515.86 197.58,516.89 C198.48,517.93 197.94,517.15 198.66,516.61 C199.38,516.07 201.19,514.20 201.91,513.65 C202.63,513.10 202.09,513.49 202.99,513.31 C203.89,513.13 205.51,512.83 207.31,512.57 C209.11,512.31 212.35,511.91 213.79,511.73 C215.23,511.55 213.79,511.53 215.95,511.49 C218.11,511.45 224.23,512.57 226.75,511.49 C229.28,510.41 230.18,506.21 231.08,505.01 C231.98,503.81 230.00,504.31 232.16,504.31 C234.32,504.31 241.52,505.32 244.04,505.01 C246.56,504.69 246.56,502.76 247.28,502.42 C248.00,502.07 247.82,501.95 248.36,502.92 C248.90,503.89 249.80,506.72 250.52,508.25 C251.24,509.78 251.96,511.22 252.68,512.12 C253.40,513.02 254.30,513.41 254.84,513.65 C255.38,513.90 255.02,516.10 255.92,513.58 C256.83,511.06 258.81,501.40 260.25,498.53 C261.69,495.66 263.31,496.86 264.57,496.37 C265.83,495.88 267.09,495.59 267.81,495.59 C268.53,495.59 267.81,494.26 268.89,496.37 C269.97,498.48 273.03,506.00 274.29,508.25 C275.55,510.50 275.73,509.33 276.45,509.87 C277.17,510.41 277.89,511.76 278.61,511.49 C279.33,511.22 280.23,508.57 280.77,508.25 C281.31,507.94 281.13,507.44 281.85,509.60 C282.57,511.76 284.01,518.84 285.09,521.22 C286.18,523.59 287.26,523.83 288.34,523.85 C289.42,523.88 290.68,522.08 291.58,521.37 C292.48,520.66 293.02,520.34 293.74,519.59 C294.46,518.85 294.46,518.80 295.90,516.89 C297.34,514.98 301.12,509.93 302.38,508.13 C303.64,506.33 302.20,508.05 303.46,506.09 C304.72,504.13 307.96,496.19 309.94,496.37 C311.92,496.55 313.55,505.73 315.35,507.17 C317.15,508.61 319.67,505.37 320.75,505.01 C321.83,504.65 320.93,504.47 321.83,505.01 C322.73,505.55 325.43,507.71 326.15,508.25" fill="none" stroke="#d95f0e" stroke-width="1.1"/><path d="M193.26,523.38 C193.98,523.48 196.68,523.92 197.58,524.02 C198.48,524.13 197.94,524.02 198.66,524.02 C199.38,524.02 201.19,524.03 201.91,524.02 C202.63,524.02 202.09,524.12 202.99,524.01 C203.89,523.90 205.51,523.52 207.31,523.38 C209.11,523.23 212.35,523.20 213.79,523.16 C215.23,523.12 213.79,523.16 215.95,523.12 C218.11,523.09 224.23,523.49 226.75,522.94 C229.28,522.40 230.18,520.48 231.08,519.83 C231.98,519.18 230.00,519.18 232.16,519.05 C234.32,518.92 241.52,519.00 244.04,519.05 C246.56,519.11 246.56,519.31 247.28,519.38 C248.00,519.45 247.82,518.71 248.36,519.49 C248.90,520.26 249.80,523.27 250.52,524.02 C251.24,524.78 251.96,524.02 252.68,524.02 C253.40,524.02 254.30,524.02 254.84,524.02 C255.38,524.02 255.02,525.21 255.92,524.02 C256.83,522.84 258.81,518.26 260.25,516.89 C261.69,515.53 263.31,516.15 264.57,515.84 C265.83,515.53 267.09,515.05 267.81,515.05 C268.53,515.04 267.81,515.26 268.89,515.81 C269.97,516.37 273.03,517.49 274.29,518.39 C275.55,519.29 275.73,520.45 276.45,521.22 C277.17,521.98 277.89,523.06 278.61,523.00 C279.33,522.93 280.23,521.36 280.77,520.82 C281.31,520.27 281.13,519.20 281.85,519.73 C282.57,520.26 284.01,523.31 285.09,524.02 C286.18,524.74 287.26,524.02 288.34,524.02 C289.42,524.02 290.68,524.02 291.58,524.02 C292.48,524.02 293.02,524.05 293.74,524.02 C294.46,524.00 294.46,524.18 295.90,523.89 C297.34,523.60 301.12,522.72 302.38,522.30 C303.64,521.88 302.20,522.45 303.46,521.37 C304.72,520.29 307.96,516.02 309.94,515.81 C311.92,515.61 313.55,519.41 315.35,520.13 C317.15,520.86 319.67,520.13 320.75,520.13 C321.83,520.13 320.93,519.77 321.83,520.13 C322.73,520.49 325.43,521.94 326.15,522.30" fill="none" stroke="#d95f0e" stroke-width="1.1"/><path d="M193.26,517.97 C193.98,518.26 196.68,519.34 197.58,519.70 C198.48,520.06 197.94,520.20 198.66,520.13 C199.38,520.07 201.19,519.50 201.91,519.32 C202.63,519.14 202.09,519.17 202.99,519.05 C203.89,518.94 205.51,518.80 207.31,518.62 C209.11,518.44 212.35,518.11 213.79,517.97 C215.23,517.84 213.79,517.97 215.95,517.79 C218.11,517.61 224.23,517.62 226.75,516.89 C229.28,516.17 230.18,514.16 231.08,513.44 C231.98,512.72 230.00,512.90 232.16,512.57 C234.32,512.25 241.52,511.81 244.04,511.49 C246.56,511.18 246.56,510.86 247.28,510.68 C248.00,510.50 247.82,509.83 248.36,510.41 C248.90,511.00 249.80,512.93 250.52,514.19 C251.24,515.45 251.96,517.10 252.68,517.97 C253.40,518.84 254.30,519.05 254.84,519.41 C255.38,519.77 255.02,522.00 255.92,520.13 C256.83,518.27 258.81,510.44 260.25,508.25 C261.69,506.06 263.31,507.38 264.57,507.02 C265.83,506.66 267.09,506.12 267.81,506.09 C268.53,506.06 267.81,506.09 268.89,506.81 C269.97,507.53 273.03,509.27 274.29,510.41 C275.55,511.55 275.73,512.57 276.45,513.65 C277.17,514.73 277.89,516.47 278.61,516.89 C279.33,517.31 280.23,516.35 280.77,516.17 C281.31,515.99 281.13,514.79 281.85,515.81 C282.57,516.83 284.01,520.93 285.09,522.30 C286.18,523.66 287.26,523.91 288.34,524.02 C289.42,524.14 290.68,523.28 291.58,522.99 C292.48,522.70 293.02,522.68 293.74,522.30 C294.46,521.91 294.46,521.76 295.90,520.68 C297.34,519.59 301.12,516.86 302.38,515.81 C303.64,514.77 302.20,516.04 303.46,514.42 C304.72,512.80 307.96,506.22 309.94,506.09 C311.92,505.96 313.55,512.48 315.35,513.65 C317.15,514.82 319.67,513.22 320.75,513.11 C321.83,513.00 320.93,512.55 321.83,513.00 C322.73,513.45 325.43,515.35 326.15,515.81" fill="none" stroke="#d95f0e" stroke-width="1.9" stroke-linejoin="round"/>
<rect x="185.8" y="480.3" width="146.5" height="48.6" fill="none" stroke="#333" stroke-width="0.9"/>
<rect x="185.8" y="529.5" width="146.5" height="47.8" fill="#fff"/><path d="M199.12,529.5V577.3M212.44,529.5V577.3M225.75,529.5V577.3M239.07,529.5V577.3M252.39,529.5V577.3M265.71,529.5V577.3M279.03,529.5V577.3M292.35,529.5V577.3M305.66,529.5V577.3M318.98,529.5V577.3" stroke="#ececec" stroke-width="0.75"/><path d="M185.8,540.10H332.3M185.8,549.90H332.3M185.8,559.70H332.3M185.8,569.40H332.3" stroke="#ececec" stroke-width="0.75"/><path d="M192.46,529.5V577.3M205.78,529.5V577.3M219.10,529.5V577.3M232.41,529.5V577.3M245.73,529.5V577.3M259.05,529.5V577.3M272.37,529.5V577.3M285.69,529.5V577.3M299.00,529.5V577.3M312.32,529.5V577.3M325.64,529.5V577.3M185.8,535.20H332.3M185.8,545.00H332.3M185.8,554.80H332.3M185.8,564.50H332.3M185.8,574.20H332.3" stroke="#e8e8e8" stroke-width="0.8"/>
<line x1="259.05" y1="529.5" x2="259.05" y2="577.3" stroke="#888" stroke-width="0.8" stroke-dasharray="3,2"/>
<path d="M193.26,573.02 C193.80,572.81 194.88,571.84 196.50,571.73 C198.12,571.62 200.47,572.16 202.99,572.38 C205.51,572.59 207.31,572.92 211.63,573.02 C215.95,573.13 224.95,573.24 228.92,573.02 C232.88,572.81 233.24,571.76 235.40,571.73 C237.56,571.69 238.28,572.63 241.88,572.81 C245.48,572.99 253.76,573.24 257.01,572.81 C260.25,572.38 259.89,570.29 261.33,570.22 C262.77,570.14 263.85,571.91 265.65,572.38 C267.45,572.84 262.05,572.92 272.13,573.02 C282.21,573.13 317.15,573.02 326.15,573.02" fill="none" stroke="#000" stroke-width="2.5" stroke-linejoin="round"/><path d="M193.26,561.14 C194.16,561.39 197.22,562.76 198.66,562.65 C200.11,562.54 200.65,559.23 201.91,560.49 C203.17,561.75 204.97,568.34 206.23,570.22 C207.49,572.09 208.21,571.48 209.47,571.73 C210.73,571.98 212.42,572.09 213.79,571.73 C215.16,571.37 216.42,569.53 217.68,569.57 C218.94,569.60 219.48,571.84 221.35,571.94 C223.23,572.05 226.75,572.48 228.92,570.22 C231.08,567.95 232.70,559.59 234.32,558.33 C235.94,557.07 237.20,561.72 238.64,562.65 C240.08,563.59 241.52,563.34 242.96,563.95 C244.40,564.56 246.02,565.10 247.28,566.33 C248.54,567.55 248.90,570.47 250.52,571.30 C252.14,572.12 255.20,575.08 257.01,571.30 C258.81,567.51 260.07,550.59 261.33,548.61 C262.59,546.63 263.49,556.24 264.57,559.41 C265.65,562.58 266.37,565.35 267.81,567.62 C269.25,569.89 271.59,572.68 273.21,573.02 C274.83,573.36 276.09,570.06 277.53,569.67 C278.97,569.27 280.05,570.75 281.85,570.63 C283.65,570.51 286.72,568.80 288.34,568.94 C289.96,569.07 290.14,571.23 291.58,571.44 C293.02,571.66 295.18,571.68 296.98,570.22 C298.78,568.75 300.58,562.29 302.38,562.65 C304.18,563.01 305.80,572.12 307.78,572.38 C309.76,572.63 312.28,564.17 314.27,564.17 C316.25,564.17 317.69,571.91 319.67,572.38 C321.65,572.84 325.07,567.87 326.15,566.97 L326.15,569.78 C325.07,570.40 321.65,573.46 319.67,573.46 C317.69,573.46 316.25,569.78 314.27,569.78 C312.28,569.78 309.76,573.74 307.78,573.46 C305.80,573.17 304.18,568.23 302.38,568.05 C300.58,567.87 298.78,571.44 296.98,572.38 C295.18,573.31 293.02,573.86 291.58,573.66 C290.14,573.46 289.96,571.30 288.34,571.18 C286.72,571.06 283.65,572.80 281.85,572.94 C280.05,573.07 278.97,571.82 277.53,572.02 C276.09,572.21 274.83,574.22 273.21,574.10 C271.59,573.98 269.25,572.30 267.81,571.30 C266.37,570.29 265.65,569.68 264.57,568.05 C263.49,566.43 262.59,560.74 261.33,561.57 C260.07,562.40 258.81,570.95 257.01,573.02 C255.20,575.10 252.14,574.32 250.52,574.03 C248.90,573.74 248.54,572.02 247.28,571.30 C246.02,570.57 244.40,570.04 242.96,569.68 C241.52,569.31 240.08,569.58 238.64,569.13 C237.20,568.68 235.94,566.43 234.32,566.97 C232.70,567.51 231.08,571.19 228.92,572.38 C226.75,573.56 223.23,574.21 221.35,574.10 C219.48,574.00 218.94,571.76 217.68,571.73 C216.42,571.69 215.16,573.53 213.79,573.89 C212.42,574.25 210.73,574.14 209.47,573.89 C208.21,573.64 207.49,573.71 206.23,572.38 C204.97,571.04 203.17,566.69 201.91,565.89 C200.65,565.10 200.11,567.44 198.66,567.62 C197.22,567.80 194.16,567.08 193.26,566.97 Z" fill="#f2bf9a" fill-opacity="0.85" stroke="none"/><path d="M193.26,561.14 C194.16,561.39 197.22,562.76 198.66,562.65 C200.11,562.54 200.65,559.23 201.91,560.49 C203.17,561.75 204.97,568.34 206.23,570.22 C207.49,572.09 208.21,571.48 209.47,571.73 C210.73,571.98 212.42,572.09 213.79,571.73 C215.16,571.37 216.42,569.53 217.68,569.57 C218.94,569.60 219.48,571.84 221.35,571.94 C223.23,572.05 226.75,572.48 228.92,570.22 C231.08,567.95 232.70,559.59 234.32,558.33 C235.94,557.07 237.20,561.72 238.64,562.65 C240.08,563.59 241.52,563.34 242.96,563.95 C244.40,564.56 246.02,565.10 247.28,566.33 C248.54,567.55 248.90,570.47 250.52,571.30 C252.14,572.12 255.20,575.08 257.01,571.30 C258.81,567.51 260.07,550.59 261.33,548.61 C262.59,546.63 263.49,556.24 264.57,559.41 C265.65,562.58 266.37,565.35 267.81,567.62 C269.25,569.89 271.59,572.68 273.21,573.02 C274.83,573.36 276.09,570.06 277.53,569.67 C278.97,569.27 280.05,570.75 281.85,570.63 C283.65,570.51 286.72,568.80 288.34,568.94 C289.96,569.07 290.14,571.23 291.58,571.44 C293.02,571.66 295.18,571.68 296.98,570.22 C298.78,568.75 300.58,562.29 302.38,562.65 C304.18,563.01 305.80,572.12 307.78,572.38 C309.76,572.63 312.28,564.17 314.27,564.17 C316.25,564.17 317.69,571.91 319.67,572.38 C321.65,572.84 325.07,567.87 326.15,566.97" fill="none" stroke="#d95f0e" stroke-width="1.1"/><path d="M193.26,566.97 C194.16,567.08 197.22,567.80 198.66,567.62 C200.11,567.44 200.65,565.10 201.91,565.89 C203.17,566.69 204.97,571.04 206.23,572.38 C207.49,573.71 208.21,573.64 209.47,573.89 C210.73,574.14 212.42,574.25 213.79,573.89 C215.16,573.53 216.42,571.69 217.68,571.73 C218.94,571.76 219.48,574.00 221.35,574.10 C223.23,574.21 226.75,573.56 228.92,572.38 C231.08,571.19 232.70,567.51 234.32,566.97 C235.94,566.43 237.20,568.68 238.64,569.13 C240.08,569.58 241.52,569.31 242.96,569.68 C244.40,570.04 246.02,570.57 247.28,571.30 C248.54,572.02 248.90,573.74 250.52,574.03 C252.14,574.32 255.20,575.10 257.01,573.02 C258.81,570.95 260.07,562.40 261.33,561.57 C262.59,560.74 263.49,566.43 264.57,568.05 C265.65,569.68 266.37,570.29 267.81,571.30 C269.25,572.30 271.59,573.98 273.21,574.10 C274.83,574.22 276.09,572.21 277.53,572.02 C278.97,571.82 280.05,573.07 281.85,572.94 C283.65,572.80 286.72,571.06 288.34,571.18 C289.96,571.30 290.14,573.46 291.58,573.66 C293.02,573.86 295.18,573.31 296.98,572.38 C298.78,571.44 300.58,567.87 302.38,568.05 C304.18,568.23 305.80,573.17 307.78,573.46 C309.76,573.74 312.28,569.78 314.27,569.78 C316.25,569.78 317.69,573.46 319.67,573.46 C321.65,573.46 325.07,570.40 326.15,569.78" fill="none" stroke="#d95f0e" stroke-width="1.1"/><path d="M193.26,563.73 C194.16,563.91 197.22,564.99 198.66,564.81 C200.11,564.63 200.65,561.57 201.91,562.65 C203.17,563.73 204.97,569.60 206.23,571.30 C207.49,572.99 208.21,572.56 209.47,572.81 C210.73,573.06 212.42,573.17 213.79,572.81 C215.16,572.45 216.42,570.61 217.68,570.65 C218.94,570.68 219.48,572.92 221.35,573.02 C223.23,573.13 226.75,573.02 228.92,571.30 C231.08,569.57 232.70,563.55 234.32,562.65 C235.94,561.75 237.20,565.17 238.64,565.89 C240.08,566.61 241.52,566.43 242.96,566.97 C244.40,567.51 246.02,568.23 247.28,569.13 C248.54,570.04 248.90,571.84 250.52,572.38 C252.14,572.92 255.20,575.08 257.01,572.38 C258.81,569.68 260.07,557.43 261.33,556.17 C262.59,554.91 263.49,562.65 264.57,564.81 C265.65,566.97 266.37,567.69 267.81,569.13 C269.25,570.58 271.59,573.28 273.21,573.46 C274.83,573.64 276.09,570.58 277.53,570.22 C278.97,569.86 280.05,571.37 281.85,571.30 C283.65,571.22 286.72,569.60 288.34,569.78 C289.96,569.96 290.14,572.12 291.58,572.38 C293.02,572.63 295.18,572.56 296.98,571.30 C298.78,570.04 300.58,564.53 302.38,564.81 C304.18,565.10 305.80,572.66 307.78,573.02 C309.76,573.38 312.28,566.97 314.27,566.97 C316.25,566.97 317.69,572.84 319.67,573.02 C321.65,573.20 325.07,568.88 326.15,568.05" fill="none" stroke="#d95f0e" stroke-width="1.9" stroke-linejoin="round"/>
<rect x="185.8" y="529.5" width="146.5" height="47.8" fill="none" stroke="#333" stroke-width="0.9"/>
<text x="259.0" y="477.2" font-size="9.7" text-anchor="middle" fill="#2e2e2e">PAS</text>
<path d="M192.46,577.3v2.6M205.78,577.3v2.6M219.10,577.3v2.6M232.41,577.3v2.6M245.73,577.3v2.6M259.05,577.3v2.6M272.37,577.3v2.6M285.69,577.3v2.6M299.00,577.3v2.6M312.32,577.3v2.6M325.64,577.3v2.6" stroke="#333" stroke-width="0.8"/><text transform="translate(194.9,585.7) rotate(-45)" font-size="8.7" text-anchor="end" fill="#333">–500</text><text transform="translate(208.2,585.7) rotate(-45)" font-size="8.7" text-anchor="end" fill="#333">–400</text><text transform="translate(221.5,585.7) rotate(-45)" font-size="8.7" text-anchor="end" fill="#333">–300</text><text transform="translate(234.8,585.7) rotate(-45)" font-size="8.7" text-anchor="end" fill="#333">–200</text><text transform="translate(248.1,585.7) rotate(-45)" font-size="8.7" text-anchor="end" fill="#333">–100</text><text transform="translate(261.4,585.7) rotate(-45)" font-size="8.7" text-anchor="end" fill="#333">0</text><text transform="translate(274.8,585.7) rotate(-45)" font-size="8.7" text-anchor="end" fill="#333">100</text><text transform="translate(288.1,585.7) rotate(-45)" font-size="8.7" text-anchor="end" fill="#333">200</text><text transform="translate(301.4,585.7) rotate(-45)" font-size="8.7" text-anchor="end" fill="#333">300</text><text transform="translate(314.7,585.7) rotate(-45)" font-size="8.7" text-anchor="end" fill="#333">400</text><text transform="translate(328.0,585.7) rotate(-45)" font-size="8.7" text-anchor="end" fill="#333">500</text>
<rect x="363.8" y="480.3" width="145.5" height="48.6" fill="#fff"/><path d="M377.03,480.3V528.9M390.25,480.3V528.9M403.48,480.3V528.9M416.71,480.3V528.9M429.94,480.3V528.9M443.16,480.3V528.9M456.39,480.3V528.9M469.62,480.3V528.9M482.85,480.3V528.9M496.07,480.3V528.9" stroke="#ececec" stroke-width="0.75"/><path d="M363.8,487.35H509.3M363.8,498.25H509.3M363.8,509.15H509.3M363.8,520.05H509.3" stroke="#ececec" stroke-width="0.75"/><path d="M370.41,480.3V528.9M383.64,480.3V528.9M396.87,480.3V528.9M410.10,480.3V528.9M423.32,480.3V528.9M436.55,480.3V528.9M449.78,480.3V528.9M463.00,480.3V528.9M476.23,480.3V528.9M489.46,480.3V528.9M502.69,480.3V528.9M363.8,481.90H509.3M363.8,492.80H509.3M363.8,503.70H509.3M363.8,514.60H509.3M363.8,525.50H509.3" stroke="#e8e8e8" stroke-width="0.8"/>
<line x1="436.55" y1="480.3" x2="436.55" y2="528.9" stroke="#888" stroke-width="0.8" stroke-dasharray="3,2"/>
<path d="M370.64,520.35 C371.54,519.88 374.24,517.90 376.04,517.54 C377.85,517.18 379.83,517.96 381.45,518.19 C383.07,518.42 384.69,518.67 385.77,518.91 C386.85,519.15 386.85,519.03 387.93,519.63 C389.01,520.23 390.99,521.69 392.25,522.51 C393.51,523.33 394.77,524.23 395.49,524.56 C396.21,524.90 395.67,524.69 396.57,524.54 C397.47,524.40 399.45,524.25 400.89,523.70 C402.33,523.15 404.13,521.83 405.22,521.22 C406.30,520.60 405.76,520.75 407.38,519.99 C409.00,519.23 412.78,517.07 414.94,516.68 C417.10,516.28 419.08,517.09 420.34,517.63 C421.60,518.17 421.78,519.12 422.50,519.92 C423.22,520.71 423.94,521.94 424.66,522.40 C425.38,522.87 425.74,522.68 426.82,522.73 C427.90,522.78 429.52,522.54 431.14,522.72 C432.76,522.89 433.67,523.79 436.55,523.78 C439.43,523.77 444.65,522.93 448.43,522.67 C452.21,522.40 455.63,522.29 459.23,522.20 C462.84,522.12 466.08,522.22 470.04,522.17 C474.00,522.12 479.40,522.04 483.00,521.92 C486.60,521.80 488.40,521.54 491.65,521.46 C494.89,521.38 500.65,521.44 502.45,521.43 L502.45,523.16 C500.65,523.15 494.89,523.07 491.65,523.13 C488.40,523.19 486.60,523.44 483.00,523.54 C479.40,523.63 474.00,523.69 470.04,523.72 C466.08,523.74 462.84,523.62 459.23,523.68 C455.63,523.75 452.21,523.84 448.43,524.09 C444.65,524.33 439.43,525.14 436.55,525.13 C433.67,525.12 432.76,524.22 431.14,524.04 C429.52,523.85 427.90,523.97 426.82,524.02 C425.74,524.08 425.38,524.60 424.66,524.35 C423.94,524.10 423.22,523.16 422.50,522.51 C421.78,521.87 421.60,520.87 420.34,520.47 C419.08,520.08 417.10,519.81 414.94,520.13 C412.78,520.46 409.00,521.90 407.38,522.44 C405.76,522.98 406.30,522.91 405.22,523.38 C404.13,523.84 402.33,524.87 400.89,525.21 C399.45,525.55 397.47,525.34 396.57,525.41 C395.67,525.48 396.21,525.84 395.49,525.64 C394.77,525.45 393.51,524.71 392.25,524.24 C390.99,523.77 389.01,523.04 387.93,522.80 C386.85,522.56 386.85,522.92 385.77,522.80 C384.69,522.68 383.07,522.31 381.45,522.08 C379.83,521.85 377.85,521.07 376.04,521.43 C374.24,521.79 371.54,523.77 370.64,524.24 Z" fill="#000" stroke="#000" stroke-width="1.2" stroke-linejoin="round"/><path d="M370.64,524.50 C373.52,524.39 384.33,524.29 387.93,523.85 C391.53,523.41 390.99,521.65 392.25,521.86 C393.51,522.07 394.41,525.93 395.49,525.10 C396.57,524.28 397.29,519.16 398.73,516.89 C400.17,514.62 402.51,511.67 404.13,511.49 C405.76,511.31 406.84,513.57 408.46,515.81 C410.08,518.05 411.16,523.67 413.86,524.93 C416.56,526.19 422.14,525.26 424.66,523.38 C427.18,521.50 427.54,515.63 428.98,513.65 C430.42,511.67 432.04,512.21 433.31,511.49 C434.57,510.77 435.47,509.51 436.55,509.33 C437.63,509.15 438.35,514.26 439.79,510.41 C441.23,506.56 443.75,489.81 445.19,486.21 C446.63,482.61 447.17,484.77 448.43,488.80 C449.69,492.84 451.49,505.19 452.75,510.41 C454.01,515.63 454.55,521.04 455.99,520.13 C457.43,519.23 459.05,507.71 461.39,505.01 C463.74,502.31 467.88,503.39 470.04,503.93 C472.20,504.47 472.92,505.01 474.36,508.25 C475.80,511.49 476.88,522.48 478.68,523.38 C480.48,524.28 483.00,515.74 485.16,513.65 C487.32,511.56 490.03,510.66 491.65,510.84 C493.27,511.02 493.81,512.38 494.89,514.73 C495.97,517.08 496.87,523.42 498.13,524.93 C499.39,526.44 501.73,524.00 502.45,523.81 L502.45,524.02 C501.73,524.02 499.39,524.31 498.13,524.02 C496.87,523.74 495.97,522.58 494.89,522.30 C493.81,522.01 493.27,522.12 491.65,522.30 C490.03,522.48 487.32,523.09 485.16,523.38 C483.00,523.66 480.48,524.38 478.68,524.02 C476.88,523.66 475.80,521.86 474.36,521.22 C472.92,520.57 472.20,520.13 470.04,520.13 C467.88,520.13 463.74,520.57 461.39,521.22 C459.05,521.86 457.43,523.66 455.99,524.02 C454.55,524.38 454.01,525.28 452.75,523.38 C451.49,521.47 449.69,514.73 448.43,512.57 C447.17,510.41 446.63,509.29 445.19,510.41 C443.75,511.54 441.23,517.52 439.79,519.32 C438.35,521.13 437.63,520.80 436.55,521.22 C435.47,521.63 434.57,521.47 433.31,521.83 C432.04,522.19 430.42,523.01 428.98,523.38 C427.54,523.74 427.18,523.92 424.66,524.02 C422.14,524.13 416.56,524.02 413.86,524.02 C411.16,524.02 410.08,524.13 408.46,524.02 C406.84,523.92 405.76,523.38 404.13,523.38 C402.51,523.38 400.17,523.92 398.73,524.02 C397.29,524.13 396.57,524.28 395.49,524.02 C394.41,523.76 393.51,522.47 392.25,522.47 C390.99,522.47 391.53,523.76 387.93,524.02 C384.33,524.28 373.52,524.02 370.64,524.02 Z" fill="#f2bf9a" fill-opacity="0.85" stroke="none"/><path d="M370.64,524.50 C373.52,524.39 384.33,524.29 387.93,523.85 C391.53,523.41 390.99,521.65 392.25,521.86 C393.51,522.07 394.41,525.93 395.49,525.10 C396.57,524.28 397.29,519.16 398.73,516.89 C400.17,514.62 402.51,511.67 404.13,511.49 C405.76,511.31 406.84,513.57 408.46,515.81 C410.08,518.05 411.16,523.67 413.86,524.93 C416.56,526.19 422.14,525.26 424.66,523.38 C427.18,521.50 427.54,515.63 428.98,513.65 C430.42,511.67 432.04,512.21 433.31,511.49 C434.57,510.77 435.47,509.51 436.55,509.33 C437.63,509.15 438.35,514.26 439.79,510.41 C441.23,506.56 443.75,489.81 445.19,486.21 C446.63,482.61 447.17,484.77 448.43,488.80 C449.69,492.84 451.49,505.19 452.75,510.41 C454.01,515.63 454.55,521.04 455.99,520.13 C457.43,519.23 459.05,507.71 461.39,505.01 C463.74,502.31 467.88,503.39 470.04,503.93 C472.20,504.47 472.92,505.01 474.36,508.25 C475.80,511.49 476.88,522.48 478.68,523.38 C480.48,524.28 483.00,515.74 485.16,513.65 C487.32,511.56 490.03,510.66 491.65,510.84 C493.27,511.02 493.81,512.38 494.89,514.73 C495.97,517.08 496.87,523.42 498.13,524.93 C499.39,526.44 501.73,524.00 502.45,523.81" fill="none" stroke="#d95f0e" stroke-width="1.1"/><path d="M370.64,524.02 C373.52,524.02 384.33,524.28 387.93,524.02 C391.53,523.76 390.99,522.47 392.25,522.47 C393.51,522.47 394.41,523.76 395.49,524.02 C396.57,524.28 397.29,524.13 398.73,524.02 C400.17,523.92 402.51,523.38 404.13,523.38 C405.76,523.38 406.84,523.92 408.46,524.02 C410.08,524.13 411.16,524.02 413.86,524.02 C416.56,524.02 422.14,524.13 424.66,524.02 C427.18,523.92 427.54,523.74 428.98,523.38 C430.42,523.01 432.04,522.19 433.31,521.83 C434.57,521.47 435.47,521.63 436.55,521.22 C437.63,520.80 438.35,521.13 439.79,519.32 C441.23,517.52 443.75,511.54 445.19,510.41 C446.63,509.29 447.17,510.41 448.43,512.57 C449.69,514.73 451.49,521.47 452.75,523.38 C454.01,525.28 454.55,524.38 455.99,524.02 C457.43,523.66 459.05,521.86 461.39,521.22 C463.74,520.57 467.88,520.13 470.04,520.13 C472.20,520.13 472.92,520.57 474.36,521.22 C475.80,521.86 476.88,523.66 478.68,524.02 C480.48,524.38 483.00,523.66 485.16,523.38 C487.32,523.09 490.03,522.48 491.65,522.30 C493.27,522.12 493.81,522.01 494.89,522.30 C495.97,522.58 496.87,523.74 498.13,524.02 C499.39,524.31 501.73,524.02 502.45,524.02" fill="none" stroke="#d95f0e" stroke-width="1.1"/><path d="M370.64,524.67 C373.52,524.56 384.33,524.42 387.93,524.02 C391.53,523.63 390.99,522.04 392.25,522.30 C393.51,522.55 394.41,525.36 395.49,525.54 C396.57,525.72 397.29,524.64 398.73,523.38 C400.17,522.12 402.51,517.97 404.13,517.97 C405.76,517.97 406.84,522.19 408.46,523.38 C410.08,524.56 411.16,524.89 413.86,525.10 C416.56,525.32 422.14,525.50 424.66,524.67 C427.18,523.84 427.54,521.25 428.98,520.13 C430.42,519.02 432.04,518.51 433.31,517.97 C434.57,517.43 435.47,517.79 436.55,516.89 C437.63,515.99 438.35,515.45 439.79,512.57 C441.23,509.69 443.75,501.41 445.19,499.61 C446.63,497.81 447.17,498.53 448.43,501.77 C449.69,505.01 451.49,515.45 452.75,519.05 C454.01,522.66 454.55,524.28 455.99,523.38 C457.43,522.48 459.05,515.45 461.39,513.65 C463.74,511.85 467.88,512.21 470.04,512.57 C472.20,512.93 472.92,513.83 474.36,515.81 C475.80,517.79 476.88,523.74 478.68,524.46 C480.48,525.18 483.00,521.22 485.16,520.13 C487.32,519.05 490.03,517.97 491.65,517.97 C493.27,517.97 493.81,518.95 494.89,520.13 C495.97,521.32 496.87,524.38 498.13,525.10 C499.39,525.82 501.73,524.56 502.45,524.46" fill="none" stroke="#d95f0e" stroke-width="1.9" stroke-linejoin="round"/>
<rect x="363.8" y="480.3" width="145.5" height="48.6" fill="none" stroke="#333" stroke-width="0.9"/>
<rect x="363.8" y="529.5" width="145.5" height="47.8" fill="#fff"/><path d="M377.03,529.5V577.3M390.25,529.5V577.3M403.48,529.5V577.3M416.71,529.5V577.3M429.94,529.5V577.3M443.16,529.5V577.3M456.39,529.5V577.3M469.62,529.5V577.3M482.85,529.5V577.3M496.07,529.5V577.3" stroke="#ececec" stroke-width="0.75"/><path d="M363.8,536.20H509.3M363.8,546.20H509.3M363.8,556.20H509.3M363.8,566.20H509.3M363.8,576.20H509.3" stroke="#ececec" stroke-width="0.75"/><path d="M370.41,529.5V577.3M383.64,529.5V577.3M396.87,529.5V577.3M410.10,529.5V577.3M423.32,529.5V577.3M436.55,529.5V577.3M449.78,529.5V577.3M463.00,529.5V577.3M476.23,529.5V577.3M489.46,529.5V577.3M502.69,529.5V577.3M363.8,531.20H509.3M363.8,541.20H509.3M363.8,551.20H509.3M363.8,561.20H509.3M363.8,571.20H509.3" stroke="#e8e8e8" stroke-width="0.8"/>
<line x1="436.55" y1="529.5" x2="436.55" y2="577.3" stroke="#888" stroke-width="0.8" stroke-dasharray="3,2"/>
<path d="M370.64,570.65 C372.80,570.40 379.29,569.21 383.61,569.13 C387.93,569.06 391.17,570.22 396.57,570.22 C401.97,570.22 410.98,569.13 416.02,569.13 C421.06,569.13 423.58,570.22 426.82,570.22 C430.06,570.22 432.76,569.57 435.47,569.13 C438.17,568.70 440.87,567.55 443.03,567.62 C445.19,567.69 445.73,569.13 448.43,569.57 C451.13,570.00 455.63,570.11 459.23,570.22 C462.84,570.32 466.44,570.40 470.04,570.22 C473.64,570.04 477.24,569.13 480.84,569.13 C484.44,569.13 488.04,569.93 491.65,570.22 C495.25,570.50 500.65,570.76 502.45,570.86" fill="none" stroke="#000" stroke-width="2.5" stroke-linejoin="round"/><path d="M370.64,563.73 C371.18,562.47 372.80,556.35 373.88,556.17 C374.96,555.99 376.04,560.49 377.13,562.65 C378.21,564.81 379.29,567.87 380.37,569.13 C381.45,570.40 382.35,571.84 383.61,570.22 C384.87,568.59 386.67,559.95 387.93,559.41 C389.19,558.87 390.09,565.17 391.17,566.97 C392.25,568.77 393.33,570.40 394.41,570.22 C395.49,570.04 396.57,565.89 397.65,565.89 C398.73,565.89 399.63,570.04 400.89,570.22 C402.15,570.40 403.95,566.97 405.22,566.97 C406.48,566.97 406.30,569.68 408.46,570.22 C410.62,570.76 415.66,571.01 418.18,570.22 C420.70,569.42 421.78,567.08 423.58,565.46 C425.38,563.84 427.54,560.42 428.98,560.49 C430.42,560.56 431.14,564.27 432.22,565.89 C433.31,567.51 434.39,570.40 435.47,570.22 C436.55,570.04 437.45,567.23 438.71,564.81 C439.97,562.40 441.77,556.35 443.03,555.74 C444.29,555.13 445.01,561.97 446.27,561.14 C447.53,560.31 449.15,551.24 450.59,550.77 C452.03,550.30 453.47,555.09 454.91,558.33 C456.35,561.57 457.79,570.11 459.23,570.22 C460.67,570.32 462.12,561.43 463.56,558.98 C465.00,556.53 466.62,555.27 467.88,555.52 C469.14,555.77 470.04,557.86 471.12,560.49 C472.20,563.12 472.92,569.68 474.36,571.30 C475.80,572.92 477.78,570.68 479.76,570.22 C481.74,569.75 484.26,570.36 486.24,568.49 C488.22,566.61 490.03,559.77 491.65,558.98 C493.27,558.19 494.17,561.79 495.97,563.73 C497.77,565.68 501.37,569.49 502.45,570.65 L502.45,571.94 C501.37,571.48 497.77,570.14 495.97,569.13 C494.17,568.13 493.27,565.20 491.65,565.89 C490.03,566.59 488.22,571.92 486.24,573.29 C484.26,574.65 481.74,573.97 479.76,574.10 C477.78,574.24 475.80,575.04 474.36,574.10 C472.92,573.17 472.20,570.22 471.12,568.49 C470.04,566.76 469.14,564.17 467.88,563.73 C466.62,563.30 465.00,564.53 463.56,565.89 C462.12,567.26 460.67,571.58 459.23,571.94 C457.79,572.30 456.35,569.60 454.91,568.05 C453.47,566.51 452.03,562.65 450.59,562.65 C449.15,562.65 447.53,567.69 446.27,568.05 C445.01,568.41 444.29,564.53 443.03,564.81 C441.77,565.10 439.97,568.41 438.71,569.78 C437.45,571.15 436.55,573.02 435.47,573.02 C434.39,573.02 433.31,570.79 432.22,569.78 C431.14,568.77 430.42,566.90 428.98,566.97 C427.54,567.05 425.38,569.15 423.58,570.22 C421.78,571.28 420.70,572.86 418.18,573.35 C415.66,573.84 410.62,573.56 408.46,573.15 C406.30,572.75 406.48,570.95 405.22,570.93 C403.95,570.90 402.15,573.28 400.89,573.00 C399.63,572.73 398.73,569.29 397.65,569.26 C396.57,569.24 395.49,572.64 394.41,572.87 C393.33,573.10 392.25,571.63 391.17,570.65 C390.09,569.66 389.19,566.45 387.93,566.97 C386.67,567.49 384.87,573.04 383.61,573.77 C382.35,574.49 381.45,572.07 380.37,571.30 C379.29,570.52 378.21,570.22 377.13,569.13 C376.04,568.05 374.96,564.81 373.88,564.81 C372.80,564.81 371.18,568.41 370.64,569.13 Z" fill="#f2bf9a" fill-opacity="0.85" stroke="none"/><path d="M370.64,563.73 C371.18,562.47 372.80,556.35 373.88,556.17 C374.96,555.99 376.04,560.49 377.13,562.65 C378.21,564.81 379.29,567.87 380.37,569.13 C381.45,570.40 382.35,571.84 383.61,570.22 C384.87,568.59 386.67,559.95 387.93,559.41 C389.19,558.87 390.09,565.17 391.17,566.97 C392.25,568.77 393.33,570.40 394.41,570.22 C395.49,570.04 396.57,565.89 397.65,565.89 C398.73,565.89 399.63,570.04 400.89,570.22 C402.15,570.40 403.95,566.97 405.22,566.97 C406.48,566.97 406.30,569.68 408.46,570.22 C410.62,570.76 415.66,571.01 418.18,570.22 C420.70,569.42 421.78,567.08 423.58,565.46 C425.38,563.84 427.54,560.42 428.98,560.49 C430.42,560.56 431.14,564.27 432.22,565.89 C433.31,567.51 434.39,570.40 435.47,570.22 C436.55,570.04 437.45,567.23 438.71,564.81 C439.97,562.40 441.77,556.35 443.03,555.74 C444.29,555.13 445.01,561.97 446.27,561.14 C447.53,560.31 449.15,551.24 450.59,550.77 C452.03,550.30 453.47,555.09 454.91,558.33 C456.35,561.57 457.79,570.11 459.23,570.22 C460.67,570.32 462.12,561.43 463.56,558.98 C465.00,556.53 466.62,555.27 467.88,555.52 C469.14,555.77 470.04,557.86 471.12,560.49 C472.20,563.12 472.92,569.68 474.36,571.30 C475.80,572.92 477.78,570.68 479.76,570.22 C481.74,569.75 484.26,570.36 486.24,568.49 C488.22,566.61 490.03,559.77 491.65,558.98 C493.27,558.19 494.17,561.79 495.97,563.73 C497.77,565.68 501.37,569.49 502.45,570.65" fill="none" stroke="#d95f0e" stroke-width="1.1"/><path d="M370.64,569.13 C371.18,568.41 372.80,564.81 373.88,564.81 C374.96,564.81 376.04,568.05 377.13,569.13 C378.21,570.22 379.29,570.52 380.37,571.30 C381.45,572.07 382.35,574.49 383.61,573.77 C384.87,573.04 386.67,567.49 387.93,566.97 C389.19,566.45 390.09,569.66 391.17,570.65 C392.25,571.63 393.33,573.10 394.41,572.87 C395.49,572.64 396.57,569.24 397.65,569.26 C398.73,569.29 399.63,572.73 400.89,573.00 C402.15,573.28 403.95,570.90 405.22,570.93 C406.48,570.95 406.30,572.75 408.46,573.15 C410.62,573.56 415.66,573.84 418.18,573.35 C420.70,572.86 421.78,571.28 423.58,570.22 C425.38,569.15 427.54,567.05 428.98,566.97 C430.42,566.90 431.14,568.77 432.22,569.78 C433.31,570.79 434.39,573.02 435.47,573.02 C436.55,573.02 437.45,571.15 438.71,569.78 C439.97,568.41 441.77,565.10 443.03,564.81 C444.29,564.53 445.01,568.41 446.27,568.05 C447.53,567.69 449.15,562.65 450.59,562.65 C452.03,562.65 453.47,566.51 454.91,568.05 C456.35,569.60 457.79,572.30 459.23,571.94 C460.67,571.58 462.12,567.26 463.56,565.89 C465.00,564.53 466.62,563.30 467.88,563.73 C469.14,564.17 470.04,566.76 471.12,568.49 C472.20,570.22 472.92,573.17 474.36,574.10 C475.80,575.04 477.78,574.24 479.76,574.10 C481.74,573.97 484.26,574.65 486.24,573.29 C488.22,571.92 490.03,566.59 491.65,565.89 C493.27,565.20 494.17,568.13 495.97,569.13 C497.77,570.14 501.37,571.48 502.45,571.94" fill="none" stroke="#d95f0e" stroke-width="1.1"/><path d="M370.64,566.97 C371.18,565.89 372.80,560.67 373.88,560.49 C374.96,560.31 376.04,564.27 377.13,565.89 C378.21,567.51 379.29,569.31 380.37,570.22 C381.45,571.12 382.35,572.56 383.61,571.30 C384.87,570.04 386.67,563.01 387.93,562.65 C389.19,562.29 390.09,567.69 391.17,569.13 C392.25,570.58 393.33,571.55 394.41,571.30 C395.49,571.04 396.57,567.62 397.65,567.62 C398.73,567.62 399.63,571.04 400.89,571.30 C402.15,571.55 403.95,569.13 405.22,569.13 C406.48,569.13 406.30,570.94 408.46,571.30 C410.62,571.66 415.66,571.84 418.18,571.30 C420.70,570.76 421.78,569.31 423.58,568.05 C425.38,566.79 427.54,563.73 428.98,563.73 C430.42,563.73 431.14,566.79 432.22,568.05 C433.31,569.31 434.39,571.30 435.47,571.30 C436.55,571.30 437.45,569.86 438.71,568.05 C439.97,566.25 441.77,561.03 443.03,560.49 C444.29,559.95 445.01,565.35 446.27,564.81 C447.53,564.27 449.15,557.43 450.59,557.25 C452.03,557.07 453.47,561.39 454.91,563.73 C456.35,566.07 457.79,571.48 459.23,571.30 C460.67,571.12 462.12,564.63 463.56,562.65 C465.00,560.67 466.62,558.87 467.88,559.41 C469.14,559.95 470.04,563.80 471.12,565.89 C472.20,567.98 472.92,571.04 474.36,571.94 C475.80,572.84 477.78,571.58 479.76,571.30 C481.74,571.01 484.26,571.66 486.24,570.22 C488.22,568.77 490.03,563.19 491.65,562.65 C493.27,562.11 494.17,565.53 495.97,566.97 C497.77,568.41 501.37,570.58 502.45,571.30" fill="none" stroke="#d95f0e" stroke-width="1.9" stroke-linejoin="round"/>
<rect x="363.8" y="529.5" width="145.5" height="47.8" fill="none" stroke="#333" stroke-width="0.9"/>
<text x="432.8" y="477.2" font-size="9.7" text-anchor="middle" fill="#2e2e2e">Proximal</text>
<path d="M370.41,577.3v2.6M383.64,577.3v2.6M396.87,577.3v2.6M410.10,577.3v2.6M423.32,577.3v2.6M436.55,577.3v2.6M449.78,577.3v2.6M463.00,577.3v2.6M476.23,577.3v2.6M489.46,577.3v2.6M502.69,577.3v2.6" stroke="#333" stroke-width="0.8"/><text transform="translate(372.8,585.7) rotate(-45)" font-size="8.7" text-anchor="end" fill="#333">–500</text><text transform="translate(386.0,585.7) rotate(-45)" font-size="8.7" text-anchor="end" fill="#333">–400</text><text transform="translate(399.3,585.7) rotate(-45)" font-size="8.7" text-anchor="end" fill="#333">–300</text><text transform="translate(412.5,585.7) rotate(-45)" font-size="8.7" text-anchor="end" fill="#333">–200</text><text transform="translate(425.7,585.7) rotate(-45)" font-size="8.7" text-anchor="end" fill="#333">–100</text><text transform="translate(438.9,585.7) rotate(-45)" font-size="8.7" text-anchor="end" fill="#333">0</text><text transform="translate(452.2,585.7) rotate(-45)" font-size="8.7" text-anchor="end" fill="#333">100</text><text transform="translate(465.4,585.7) rotate(-45)" font-size="8.7" text-anchor="end" fill="#333">200</text><text transform="translate(478.6,585.7) rotate(-45)" font-size="8.7" text-anchor="end" fill="#333">300</text><text transform="translate(491.9,585.7) rotate(-45)" font-size="8.7" text-anchor="end" fill="#333">400</text><text transform="translate(505.1,585.7) rotate(-45)" font-size="8.7" text-anchor="end" fill="#333">500</text>
<text x="358.7" y="485.0" font-size="8.7" text-anchor="end" fill="#333">0.08</text><text x="358.7" y="495.9" font-size="8.7" text-anchor="end" fill="#333">0.06</text><text x="358.7" y="506.8" font-size="8.7" text-anchor="end" fill="#333">0.04</text><text x="358.7" y="517.7" font-size="8.7" text-anchor="end" fill="#333">0.02</text><text x="358.7" y="528.6" font-size="8.7" text-anchor="end" fill="#333">0</text><path d="M361.2,481.90h2.6M361.2,492.80h2.6M361.2,503.70h2.6M361.2,514.60h2.6M361.2,525.50h2.6" stroke="#333" stroke-width="0.8"/>
<text x="358.7" y="537.3" font-size="8.7" text-anchor="end" fill="#333">0.16</text><text x="358.7" y="547.3" font-size="8.7" text-anchor="end" fill="#333">0.12</text><text x="358.7" y="557.3" font-size="8.7" text-anchor="end" fill="#333">0.08</text><text x="358.7" y="567.3" font-size="8.7" text-anchor="end" fill="#333">0.04</text><text x="358.7" y="577.3" font-size="8.7" text-anchor="end" fill="#333">0</text><path d="M361.2,531.20h2.6M361.2,541.20h2.6M361.2,551.20h2.6M361.2,561.20h2.6M361.2,571.20h2.6" stroke="#333" stroke-width="0.8"/>
<rect x="512.9" y="480.3" width="146.7" height="48.6" fill="#fff"/><path d="M526.24,480.3V528.9M539.57,480.3V528.9M552.91,480.3V528.9M566.25,480.3V528.9M579.58,480.3V528.9M592.92,480.3V528.9M606.25,480.3V528.9M619.59,480.3V528.9M632.93,480.3V528.9M646.26,480.3V528.9" stroke="#ececec" stroke-width="0.75"/><path d="M512.9,487.35H659.6M512.9,498.25H659.6M512.9,509.15H659.6M512.9,520.05H659.6" stroke="#ececec" stroke-width="0.75"/><path d="M519.57,480.3V528.9M532.90,480.3V528.9M546.24,480.3V528.9M559.58,480.3V528.9M572.91,480.3V528.9M586.25,480.3V528.9M599.59,480.3V528.9M612.92,480.3V528.9M626.26,480.3V528.9M639.60,480.3V528.9M652.93,480.3V528.9M512.9,481.90H659.6M512.9,492.80H659.6M512.9,503.70H659.6M512.9,514.60H659.6M512.9,525.50H659.6" stroke="#e8e8e8" stroke-width="0.8"/>
<line x1="586.25" y1="480.3" x2="586.25" y2="528.9" stroke="#888" stroke-width="0.8" stroke-dasharray="3,2"/>
<path d="M519.74,521.00 C520.64,520.76 523.52,519.55 525.14,519.58 C526.77,519.60 528.21,520.85 529.47,521.16 C530.73,521.47 531.09,521.28 532.71,521.43 C534.33,521.58 537.03,521.87 539.19,522.08 C541.35,522.29 544.41,522.56 545.67,522.67 C546.93,522.77 545.67,522.90 546.75,522.73 C547.83,522.56 549.81,521.65 552.15,521.65 C554.50,521.65 556.84,522.55 560.80,522.73 C564.76,522.91 571.60,522.62 575.92,522.73 C580.24,522.84 583.13,523.16 586.73,523.38 C590.33,523.59 593.93,524.13 597.53,524.02 C601.13,523.92 605.45,523.12 608.33,522.73 C611.22,522.33 612.30,521.65 614.82,521.65 C617.34,521.65 620.58,522.62 623.46,522.73 C626.34,522.84 629.22,522.19 632.10,522.30 C634.98,522.40 637.50,523.12 640.75,523.38 C643.99,523.63 649.75,523.74 651.55,523.81 L651.55,525.10 C649.75,525.03 643.99,524.92 640.75,524.67 C637.50,524.42 634.98,523.70 632.10,523.59 C629.22,523.48 626.34,524.13 623.46,524.02 C620.58,523.92 617.34,522.94 614.82,522.94 C612.30,522.94 611.22,523.63 608.33,524.02 C605.45,524.42 601.13,525.21 597.53,525.32 C593.93,525.43 590.33,524.89 586.73,524.67 C583.13,524.46 580.24,524.13 575.92,524.02 C571.60,523.92 564.76,524.20 560.80,524.02 C556.84,523.84 554.50,522.94 552.15,522.94 C549.81,522.94 547.83,523.85 546.75,524.02 C545.67,524.19 546.93,524.00 545.67,523.96 C544.41,523.93 541.35,523.87 539.19,523.81 C537.03,523.75 534.33,523.66 532.71,523.59 C531.09,523.53 530.73,523.70 529.47,523.43 C528.21,523.16 526.77,521.96 525.14,521.99 C523.52,522.02 520.64,523.32 519.74,523.59 Z" fill="#000" stroke="#000" stroke-width="1.2" stroke-linejoin="round"/><path d="M519.74,524.50 C523.70,524.50 538.83,525.41 543.51,524.50 C548.19,523.59 546.57,521.04 547.83,519.05 C549.09,517.07 549.63,514.36 551.07,512.57 C552.51,510.79 555.22,509.07 556.48,508.35 C557.74,507.63 557.56,507.55 558.64,508.25 C559.72,508.95 560.08,511.92 562.96,512.57 C565.84,513.22 571.96,512.50 575.92,512.14 C579.88,511.78 583.85,510.34 586.73,510.41 C589.61,510.48 591.41,510.15 593.21,512.57 C595.01,514.99 596.09,524.75 597.53,524.93 C598.97,525.11 599.69,516.86 601.85,513.65 C604.01,510.44 607.97,505.66 610.49,505.66 C613.02,505.66 615.18,510.88 616.98,513.65 C618.78,516.43 619.86,520.70 621.30,522.30 C622.74,523.89 624.54,523.27 625.62,523.20 C626.70,523.14 626.88,523.03 627.78,521.91 C628.68,520.78 629.76,516.22 631.02,516.46 C632.28,516.71 633.36,522.07 635.34,523.38 C637.32,524.68 640.93,525.90 642.91,524.28 C644.89,522.66 645.61,515.60 647.23,513.65 C648.85,511.70 651.73,512.75 652.63,512.57 L652.63,523.38 C651.73,523.45 648.85,523.70 647.23,523.81 C645.61,523.92 644.89,523.99 642.91,524.02 C640.93,524.06 637.32,524.06 635.34,524.02 C633.36,523.99 632.28,523.81 631.02,523.81 C629.76,523.81 628.68,523.99 627.78,524.02 C626.88,524.06 626.70,524.02 625.62,524.02 C624.54,524.02 622.74,524.06 621.30,524.02 C619.86,523.99 618.78,524.28 616.98,523.81 C615.18,523.34 613.02,521.59 610.49,521.22 C607.97,520.84 604.01,521.11 601.85,521.58 C599.69,522.04 598.97,524.01 597.53,524.02 C596.09,524.04 595.01,521.76 593.21,521.65 C591.41,521.54 589.61,523.07 586.73,523.38 C583.85,523.68 579.88,523.47 575.92,523.47 C571.96,523.47 565.84,523.75 562.96,523.38 C560.08,523.00 559.72,521.71 558.64,521.22 C557.56,520.72 557.74,520.21 556.48,520.39 C555.22,520.57 552.51,521.69 551.07,522.30 C549.63,522.90 549.09,523.74 547.83,524.02 C546.57,524.31 548.19,524.02 543.51,524.02 C538.83,524.02 523.70,524.02 519.74,524.02 Z" fill="#f2bf9a" fill-opacity="0.85" stroke="none"/><path d="M519.74,524.50 C523.70,524.50 538.83,525.41 543.51,524.50 C548.19,523.59 546.57,521.04 547.83,519.05 C549.09,517.07 549.63,514.36 551.07,512.57 C552.51,510.79 555.22,509.07 556.48,508.35 C557.74,507.63 557.56,507.55 558.64,508.25 C559.72,508.95 560.08,511.92 562.96,512.57 C565.84,513.22 571.96,512.50 575.92,512.14 C579.88,511.78 583.85,510.34 586.73,510.41 C589.61,510.48 591.41,510.15 593.21,512.57 C595.01,514.99 596.09,524.75 597.53,524.93 C598.97,525.11 599.69,516.86 601.85,513.65 C604.01,510.44 607.97,505.66 610.49,505.66 C613.02,505.66 615.18,510.88 616.98,513.65 C618.78,516.43 619.86,520.70 621.30,522.30 C622.74,523.89 624.54,523.27 625.62,523.20 C626.70,523.14 626.88,523.03 627.78,521.91 C628.68,520.78 629.76,516.22 631.02,516.46 C632.28,516.71 633.36,522.07 635.34,523.38 C637.32,524.68 640.93,525.90 642.91,524.28 C644.89,522.66 645.61,515.60 647.23,513.65 C648.85,511.70 651.73,512.75 652.63,512.57" fill="none" stroke="#d95f0e" stroke-width="1.1"/><path d="M519.74,524.02 C523.70,524.02 538.83,524.02 543.51,524.02 C548.19,524.02 546.57,524.31 547.83,524.02 C549.09,523.74 549.63,522.90 551.07,522.30 C552.51,521.69 555.22,520.57 556.48,520.39 C557.74,520.21 557.56,520.72 558.64,521.22 C559.72,521.71 560.08,523.00 562.96,523.38 C565.84,523.75 571.96,523.47 575.92,523.47 C579.88,523.47 583.85,523.68 586.73,523.38 C589.61,523.07 591.41,521.54 593.21,521.65 C595.01,521.76 596.09,524.04 597.53,524.02 C598.97,524.01 599.69,522.04 601.85,521.58 C604.01,521.11 607.97,520.84 610.49,521.22 C613.02,521.59 615.18,523.34 616.98,523.81 C618.78,524.28 619.86,523.99 621.30,524.02 C622.74,524.06 624.54,524.02 625.62,524.02 C626.70,524.02 626.88,524.06 627.78,524.02 C628.68,523.99 629.76,523.81 631.02,523.81 C632.28,523.81 633.36,523.99 635.34,524.02 C637.32,524.06 640.93,524.06 642.91,524.02 C644.89,523.99 645.61,523.92 647.23,523.81 C648.85,523.70 651.73,523.45 652.63,523.38" fill="none" stroke="#d95f0e" stroke-width="1.1"/><path d="M519.74,524.67 C523.70,524.67 538.83,524.89 543.51,524.67 C548.19,524.46 546.57,524.31 547.83,523.38 C549.09,522.44 549.63,520.13 551.07,519.05 C552.51,517.97 555.22,517.13 556.48,516.89 C557.74,516.65 557.56,517.25 558.64,517.61 C559.72,517.97 560.08,518.99 562.96,519.05 C565.84,519.11 571.96,518.33 575.92,517.97 C579.88,517.61 583.85,516.71 586.73,516.89 C589.61,517.07 591.41,517.69 593.21,519.05 C595.01,520.42 596.09,525.10 597.53,525.10 C598.97,525.10 599.69,520.96 601.85,519.05 C604.01,517.15 607.97,513.47 610.49,513.65 C613.02,513.83 615.18,518.51 616.98,520.13 C618.78,521.76 619.86,522.84 621.30,523.38 C622.74,523.92 624.54,523.59 625.62,523.38 C626.70,523.16 626.88,522.62 627.78,522.08 C628.68,521.54 629.76,519.74 631.02,520.13 C632.28,520.53 633.36,523.74 635.34,524.46 C637.32,525.18 640.93,525.18 642.91,524.46 C644.89,523.74 645.61,521.22 647.23,520.13 C648.85,519.05 651.73,518.33 652.63,517.97" fill="none" stroke="#d95f0e" stroke-width="1.9" stroke-linejoin="round"/>
<rect x="512.9" y="480.3" width="146.7" height="48.6" fill="none" stroke="#333" stroke-width="0.9"/>
<rect x="512.9" y="529.5" width="146.7" height="47.8" fill="#fff"/><path d="M526.24,529.5V577.3M539.57,529.5V577.3M552.91,529.5V577.3M566.25,529.5V577.3M579.58,529.5V577.3M592.92,529.5V577.3M606.25,529.5V577.3M619.59,529.5V577.3M632.93,529.5V577.3M646.26,529.5V577.3" stroke="#ececec" stroke-width="0.75"/><path d="M512.9,536.20H659.6M512.9,546.20H659.6M512.9,556.20H659.6M512.9,566.20H659.6M512.9,576.20H659.6" stroke="#ececec" stroke-width="0.75"/><path d="M519.57,529.5V577.3M532.90,529.5V577.3M546.24,529.5V577.3M559.58,529.5V577.3M572.91,529.5V577.3M586.25,529.5V577.3M599.59,529.5V577.3M612.92,529.5V577.3M626.26,529.5V577.3M639.60,529.5V577.3M652.93,529.5V577.3M512.9,531.20H659.6M512.9,541.20H659.6M512.9,551.20H659.6M512.9,561.20H659.6M512.9,571.20H659.6" stroke="#e8e8e8" stroke-width="0.8"/>
<line x1="586.25" y1="529.5" x2="586.25" y2="577.3" stroke="#888" stroke-width="0.8" stroke-dasharray="3,2"/>
<path d="M519.74,571.30 C520.46,570.83 522.62,568.67 524.06,568.49 C525.51,568.31 525.14,570.00 528.39,570.22 C531.63,570.43 537.39,570.14 543.51,569.78 C549.63,569.42 559.72,568.05 565.12,568.05 C570.52,568.05 572.68,569.57 575.92,569.78 C579.16,570.00 582.59,570.00 584.57,569.35 C586.55,568.70 586.73,566.04 587.81,565.89 C588.89,565.75 589.43,567.59 591.05,568.49 C592.67,569.39 594.65,571.01 597.53,571.30 C600.41,571.58 604.73,570.40 608.33,570.22 C611.94,570.04 615.18,570.58 619.14,570.22 C623.10,569.86 628.50,568.31 632.10,568.05 C635.70,567.80 637.86,568.41 640.75,568.70 C643.63,568.99 647.95,569.60 649.39,569.78" fill="none" stroke="#000" stroke-width="2.5" stroke-linejoin="round"/><path d="M519.74,570.22 C520.46,567.87 522.62,556.71 524.06,556.17 C525.51,555.63 527.13,564.63 528.39,566.97 C529.65,569.31 530.55,570.32 531.63,570.22 C532.71,570.11 533.61,566.51 534.87,566.33 C536.13,566.15 537.75,568.49 539.19,569.13 C540.63,569.78 542.25,571.30 543.51,570.22 C544.77,569.13 545.67,563.37 546.75,562.65 C547.83,561.93 548.73,566.61 549.99,565.89 C551.25,565.17 553.05,558.40 554.32,558.33 C555.58,558.26 556.48,563.66 557.56,565.46 C558.64,567.26 559.54,570.50 560.80,569.13 C562.06,567.77 563.86,557.61 565.12,557.25 C566.38,556.89 567.28,564.99 568.36,566.97 C569.44,568.95 570.34,570.40 571.60,569.13 C572.86,567.87 574.48,561.21 575.92,559.41 C577.36,557.61 578.80,557.07 580.24,558.33 C581.68,559.59 583.49,567.15 584.57,566.97 C585.65,566.79 585.93,562.65 586.73,557.25 C587.52,551.85 588.42,537.80 589.32,534.56 C590.22,531.32 591.12,535.10 592.13,537.80 C593.14,540.50 594.29,545.73 595.37,550.77 C596.45,555.81 597.17,564.81 598.61,568.05 C600.05,571.30 602.39,570.76 604.01,570.22 C605.63,569.68 606.89,567.23 608.33,564.81 C609.77,562.40 611.40,555.56 612.66,555.74 C613.92,555.92 614.82,563.48 615.90,565.89 C616.98,568.31 618.06,570.40 619.14,570.22 C620.22,570.04 621.30,565.97 622.38,564.81 C623.46,563.66 624.36,563.91 625.62,563.30 C626.88,562.69 628.68,560.17 629.94,561.14 C631.20,562.11 632.10,568.34 633.18,569.13 C634.26,569.93 635.16,565.71 636.42,565.89 C637.68,566.07 638.95,569.68 640.75,570.22 C642.55,570.76 645.25,569.57 647.23,569.13 C649.21,568.70 651.73,567.87 652.63,567.62 L652.63,570.22 C651.73,570.36 649.21,570.81 647.23,571.10 C645.25,571.39 642.55,572.48 640.75,571.94 C638.95,571.41 637.68,567.98 636.42,567.87 C635.16,567.76 634.26,571.44 633.18,571.30 C632.10,571.15 631.20,567.41 629.94,566.97 C628.68,566.54 626.88,568.26 625.62,568.67 C624.36,569.07 623.46,568.62 622.38,569.40 C621.30,570.18 620.22,573.31 619.14,573.37 C618.06,573.44 616.98,571.21 615.90,569.78 C614.82,568.36 613.92,564.73 612.66,564.81 C611.40,564.90 609.77,568.83 608.33,570.30 C606.89,571.77 605.63,573.46 604.01,573.62 C602.39,573.79 600.05,572.58 598.61,571.30 C597.17,570.01 596.45,568.23 595.37,565.89 C594.29,563.55 593.14,559.59 592.13,557.25 C591.12,554.91 590.22,550.41 589.32,551.85 C588.42,553.29 587.52,562.83 586.73,565.89 C585.93,568.95 585.65,569.86 584.57,570.22 C583.49,570.58 581.68,568.34 580.24,568.05 C578.80,567.77 577.36,567.76 575.92,568.49 C574.48,569.21 572.86,572.12 571.60,572.41 C570.34,572.69 569.44,571.12 568.36,570.22 C567.28,569.31 566.38,566.42 565.12,566.97 C563.86,567.52 562.06,573.05 560.80,573.52 C559.54,573.99 558.64,570.87 557.56,569.78 C556.48,568.69 555.58,566.71 554.32,566.97 C553.05,567.24 551.25,571.14 549.99,571.39 C548.73,571.64 547.83,568.11 546.75,568.49 C545.67,568.86 544.77,573.01 543.51,573.62 C542.25,574.24 540.63,572.84 539.19,572.19 C537.75,571.53 536.13,569.59 534.87,569.67 C533.61,569.74 532.71,572.55 531.63,572.64 C530.55,572.73 529.65,571.16 528.39,570.22 C527.13,569.27 525.51,566.69 524.06,566.97 C522.62,567.26 520.46,571.12 519.74,571.94 Z" fill="#f2bf9a" fill-opacity="0.85" stroke="none"/><path d="M519.74,570.22 C520.46,567.87 522.62,556.71 524.06,556.17 C525.51,555.63 527.13,564.63 528.39,566.97 C529.65,569.31 530.55,570.32 531.63,570.22 C532.71,570.11 533.61,566.51 534.87,566.33 C536.13,566.15 537.75,568.49 539.19,569.13 C540.63,569.78 542.25,571.30 543.51,570.22 C544.77,569.13 545.67,563.37 546.75,562.65 C547.83,561.93 548.73,566.61 549.99,565.89 C551.25,565.17 553.05,558.40 554.32,558.33 C555.58,558.26 556.48,563.66 557.56,565.46 C558.64,567.26 559.54,570.50 560.80,569.13 C562.06,567.77 563.86,557.61 565.12,557.25 C566.38,556.89 567.28,564.99 568.36,566.97 C569.44,568.95 570.34,570.40 571.60,569.13 C572.86,567.87 574.48,561.21 575.92,559.41 C577.36,557.61 578.80,557.07 580.24,558.33 C581.68,559.59 583.49,567.15 584.57,566.97 C585.65,566.79 585.93,562.65 586.73,557.25 C587.52,551.85 588.42,537.80 589.32,534.56 C590.22,531.32 591.12,535.10 592.13,537.80 C593.14,540.50 594.29,545.73 595.37,550.77 C596.45,555.81 597.17,564.81 598.61,568.05 C600.05,571.30 602.39,570.76 604.01,570.22 C605.63,569.68 606.89,567.23 608.33,564.81 C609.77,562.40 611.40,555.56 612.66,555.74 C613.92,555.92 614.82,563.48 615.90,565.89 C616.98,568.31 618.06,570.40 619.14,570.22 C620.22,570.04 621.30,565.97 622.38,564.81 C623.46,563.66 624.36,563.91 625.62,563.30 C626.88,562.69 628.68,560.17 629.94,561.14 C631.20,562.11 632.10,568.34 633.18,569.13 C634.26,569.93 635.16,565.71 636.42,565.89 C637.68,566.07 638.95,569.68 640.75,570.22 C642.55,570.76 645.25,569.57 647.23,569.13 C649.21,568.70 651.73,567.87 652.63,567.62" fill="none" stroke="#d95f0e" stroke-width="1.1"/><path d="M519.74,571.94 C520.46,571.12 522.62,567.26 524.06,566.97 C525.51,566.69 527.13,569.27 528.39,570.22 C529.65,571.16 530.55,572.73 531.63,572.64 C532.71,572.55 533.61,569.74 534.87,569.67 C536.13,569.59 537.75,571.53 539.19,572.19 C540.63,572.84 542.25,574.24 543.51,573.62 C544.77,573.01 545.67,568.86 546.75,568.49 C547.83,568.11 548.73,571.64 549.99,571.39 C551.25,571.14 553.05,567.24 554.32,566.97 C555.58,566.71 556.48,568.69 557.56,569.78 C558.64,570.87 559.54,573.99 560.80,573.52 C562.06,573.05 563.86,567.52 565.12,566.97 C566.38,566.42 567.28,569.31 568.36,570.22 C569.44,571.12 570.34,572.69 571.60,572.41 C572.86,572.12 574.48,569.21 575.92,568.49 C577.36,567.76 578.80,567.77 580.24,568.05 C581.68,568.34 583.49,570.58 584.57,570.22 C585.65,569.86 585.93,568.95 586.73,565.89 C587.52,562.83 588.42,553.29 589.32,551.85 C590.22,550.41 591.12,554.91 592.13,557.25 C593.14,559.59 594.29,563.55 595.37,565.89 C596.45,568.23 597.17,570.01 598.61,571.30 C600.05,572.58 602.39,573.79 604.01,573.62 C605.63,573.46 606.89,571.77 608.33,570.30 C609.77,568.83 611.40,564.90 612.66,564.81 C613.92,564.73 614.82,568.36 615.90,569.78 C616.98,571.21 618.06,573.44 619.14,573.37 C620.22,573.31 621.30,570.18 622.38,569.40 C623.46,568.62 624.36,569.07 625.62,568.67 C626.88,568.26 628.68,566.54 629.94,566.97 C631.20,567.41 632.10,571.15 633.18,571.30 C634.26,571.44 635.16,567.76 636.42,567.87 C637.68,567.98 638.95,571.41 640.75,571.94 C642.55,572.48 645.25,571.39 647.23,571.10 C649.21,570.81 651.73,570.36 652.63,570.22" fill="none" stroke="#d95f0e" stroke-width="1.1"/><path d="M519.74,571.30 C520.46,569.68 522.62,561.93 524.06,561.57 C525.51,561.21 527.13,567.51 528.39,569.13 C529.65,570.76 530.55,571.48 531.63,571.30 C532.71,571.12 533.61,568.23 534.87,568.05 C536.13,567.87 537.75,569.68 539.19,570.22 C540.63,570.76 542.25,572.02 543.51,571.30 C544.77,570.58 545.67,566.43 546.75,565.89 C547.83,565.35 548.73,568.59 549.99,568.05 C551.25,567.51 553.05,562.65 554.32,562.65 C555.58,562.65 556.48,566.79 557.56,568.05 C558.64,569.31 559.54,571.30 560.80,570.22 C562.06,569.13 563.86,561.75 565.12,561.57 C566.38,561.39 567.28,567.69 568.36,569.13 C569.44,570.58 570.34,570.94 571.60,570.22 C572.86,569.49 574.48,566.07 575.92,564.81 C577.36,563.55 578.80,561.93 580.24,562.65 C581.68,563.37 583.49,569.31 584.57,569.13 C585.65,568.95 585.93,565.71 586.73,561.57 C587.52,557.43 588.42,546.45 589.32,544.29 C590.22,542.13 591.12,546.09 592.13,548.61 C593.14,551.13 594.29,555.81 595.37,559.41 C596.45,563.01 597.17,568.23 598.61,570.22 C600.05,572.20 602.39,571.84 604.01,571.30 C605.63,570.76 606.89,568.77 608.33,566.97 C609.77,565.17 611.40,560.31 612.66,560.49 C613.92,560.67 614.82,566.25 615.90,568.05 C616.98,569.86 618.06,571.48 619.14,571.30 C620.22,571.12 621.30,567.87 622.38,566.97 C623.46,566.07 624.36,566.43 625.62,565.89 C626.88,565.35 628.68,563.01 629.94,563.73 C631.20,564.45 632.10,569.68 633.18,570.22 C634.26,570.76 635.16,566.79 636.42,566.97 C637.68,567.15 638.95,570.76 640.75,571.30 C642.55,571.84 645.25,570.58 647.23,570.22 C649.21,569.86 651.73,569.31 652.63,569.13" fill="none" stroke="#d95f0e" stroke-width="1.9" stroke-linejoin="round"/>
<rect x="512.9" y="529.5" width="146.7" height="47.8" fill="none" stroke="#333" stroke-width="0.9"/>
<text x="583.9" y="477.2" font-size="9.7" text-anchor="middle" fill="#2e2e2e">Distal</text>
<path d="M519.57,577.3v2.6M532.90,577.3v2.6M546.24,577.3v2.6M559.58,577.3v2.6M572.91,577.3v2.6M586.25,577.3v2.6M599.59,577.3v2.6M612.92,577.3v2.6M626.26,577.3v2.6M639.60,577.3v2.6M652.93,577.3v2.6" stroke="#333" stroke-width="0.8"/><text transform="translate(522.0,585.7) rotate(-45)" font-size="8.7" text-anchor="end" fill="#333">–500</text><text transform="translate(535.3,585.7) rotate(-45)" font-size="8.7" text-anchor="end" fill="#333">–400</text><text transform="translate(548.6,585.7) rotate(-45)" font-size="8.7" text-anchor="end" fill="#333">–300</text><text transform="translate(562.0,585.7) rotate(-45)" font-size="8.7" text-anchor="end" fill="#333">–200</text><text transform="translate(575.3,585.7) rotate(-45)" font-size="8.7" text-anchor="end" fill="#333">–100</text><text transform="translate(588.6,585.7) rotate(-45)" font-size="8.7" text-anchor="end" fill="#333">0</text><text transform="translate(602.0,585.7) rotate(-45)" font-size="8.7" text-anchor="end" fill="#333">100</text><text transform="translate(615.3,585.7) rotate(-45)" font-size="8.7" text-anchor="end" fill="#333">200</text><text transform="translate(628.7,585.7) rotate(-45)" font-size="8.7" text-anchor="end" fill="#333">300</text><text transform="translate(642.0,585.7) rotate(-45)" font-size="8.7" text-anchor="end" fill="#333">400</text><text transform="translate(655.3,585.7) rotate(-45)" font-size="8.7" text-anchor="end" fill="#333">500</text>
<text x="662.4" y="503.8" font-size="9.7" fill="#2e2e2e">iCLIP</text>
<text x="662.4" y="561.6" font-size="9.7" fill="#2e2e2e">Motif</text>
<text transform="translate(10.2,528.5) rotate(-90)" font-size="9.7" text-anchor="middle" fill="#2e2e2e">Average coverage</text>
<text x="330.8" y="609.3" font-size="9.7" fill="#2e2e2e">Position</text>
<text x="0.0" y="630.8" font-size="12.6" font-weight="bold" fill="#000" stroke="#000" stroke-width="0.45">f</text>
<line x1="99" y1="640.1" x2="111" y2="640.1" stroke="#666" stroke-width="1.5"/>
<line x1="270" y1="640.1" x2="278.8" y2="640.1" stroke="#666" stroke-width="1.5"/>
<rect x="110.1" y="634.3" width="27.9" height="11.5" fill="#d3d3d3"/>
<rect x="137.8" y="634.3" width="58" height="11.5" fill="#999"/>
<rect x="194.4" y="633.9" width="52.8" height="12.7" rx="3.2" fill="#5b9b38"/>
<rect x="247.4" y="634.5" width="23.0" height="10.9" fill="#fff" stroke="#777" stroke-width="0.7"/>
<text x="166.3" y="643.0" font-size="8.2" text-anchor="middle" fill="#222">CDS</text>
<text x="220.3" y="642.9" font-size="8.0" text-anchor="middle" fill="#111"><tspan font-style="italic">ELK1</tspan> 3’UTR</text>
<text x="258.7" y="643.1" font-size="8.4" text-anchor="middle" fill="#222">SV40</text>
<path d="M138.4,634.3 V630.1 H145.2" fill="none" stroke="#222" stroke-width="0.9"/><path d="M144.4,628.3 L147.4,630.1 L144.4,631.9 Z" fill="#222"/>
<line x1="194.3" y1="645.6" x2="108.0" y2="672.6" stroke="#333" stroke-width="0.9" stroke-dasharray="2.6,2"/>
<line x1="246.3" y1="646.4" x2="257.9" y2="672.6" stroke="#333" stroke-width="0.9" stroke-dasharray="2.6,2"/>
<rect x="107.2" y="672.8" width="80" height="11.4" rx="2.8" fill="#1f8a45"/>
<rect x="186.5" y="672.8" width="71.5" height="11.4" fill="#50d27f"/>
<rect x="184.6" y="672.8" width="1.9" height="11.4" fill="#c07ef2"/>
<rect x="257.9" y="672.8" width="2.0" height="11.4" fill="#f25060"/>
<text x="146.8" y="681.8" font-size="8.4" text-anchor="middle" fill="#111">Proximal 3’UTR</text>
<text x="222.4" y="681.9" font-size="8.6" text-anchor="middle" fill="#111">Cryptic 3’Ext</text>
<text x="187.8" y="661.5" font-size="8.8" text-anchor="middle" fill="#e59cf7">Annotated</text>
<text x="188.0" y="671.0" font-size="8.8" text-anchor="middle" fill="#e59cf7">PAS</text>
<text x="267.8" y="663.7" font-size="9.0" text-anchor="middle" fill="#f77a7a">SV40</text>
<text x="266.5" y="672.8" font-size="9.0" text-anchor="middle" fill="#f77a7a">PAS</text>
<line x1="186.6" y1="684.5" x2="182.0" y2="702" stroke="#333" stroke-width="0.9" stroke-dasharray="2.6,2"/>
<line x1="198.0" y1="684.5" x2="271.0" y2="703.4" stroke="#333" stroke-width="0.9" stroke-dasharray="2.6,2"/>
<path d="M182.0,703.2 V710.8 M271.0,703.2 V710.8" stroke="#444" stroke-width="0.8"/>
<path d="M183,706.9 H208 M244,706.9 H270" stroke="#8a8a8a" stroke-width="0.9"/>
<path d="M182.4,706.9 l3.6,-1.8 v3.6 Z M270.6,706.9 l-3.6,-1.8 v3.6 Z" fill="#8a8a8a"/>
<text x="225.8" y="709.8" font-size="8.2" text-anchor="middle" fill="#777">150 bp</text>
<text x="175.3" y="723.5" font-size="9.9" text-anchor="end" fill="#222">UG-rich regions</text>
<text x="169.4" y="734.4" font-size="9.2" text-anchor="end" fill="#222">TDP-43 iCLIP</text>
<path d="M180.5,720.1H190.7M198.0,720.1H203.9M209.7,720.1H215.5M219.9,720.1H234.5M240.4,720.1H247.7M255.0,720.1H262.8" stroke="#c9c447" stroke-width="2.6"/>
<line x1="203.3" y1="731.2" x2="258.5" y2="731.2" stroke="#e47a32" stroke-width="2.6"/>
<text x="334.0" y="630.4" font-size="12.6" font-weight="bold" fill="#000" stroke="#000" stroke-width="0.45">g</text>
<rect x="525.3" y="640.7" width="2.6" height="82.3" fill="#d9d9d9"/>
<rect x="620.2" y="640.7" width="2.6" height="82.3" fill="#d9d9d9"/>
<path d="M403.3,668.3 L403.3,641.7 L404.0,641.5 L404.7,641.3 L405.4,641.3 L406.1,641.2 L406.8,641.4 L407.5,640.8 L408.2,641.1 L408.9,641.5 L409.6,641.3 L410.3,641.5 L411.0,641.0 L411.7,641.2 L412.4,641.1 L413.1,641.4 L413.8,641.4 L414.5,641.0 L415.2,641.2 L415.9,641.3 L416.6,641.8 L417.3,641.7 L418.0,641.3 L418.7,641.8 L419.4,641.3 L420.1,641.7 L420.8,641.4 L421.5,641.3 L422.2,641.9 L422.9,641.5 L423.6,641.5 L424.3,642.1 L425.0,642.0 L425.7,641.6 L426.4,642.1 L427.1,641.8 L427.8,642.0 L428.5,641.6 L429.2,642.2 L429.9,642.0 L430.6,642.2 L431.3,642.2 L432.0,641.8 L432.7,641.9 L433.4,641.8 L434.1,641.8 L434.8,641.7 L435.5,641.9 L436.2,642.2 L436.9,641.8 L437.6,642.3 L438.3,642.0 L439.0,642.0 L439.7,642.4 L440.4,642.2 L441.1,642.1 L441.8,642.2 L442.5,642.4 L443.2,642.0 L443.9,642.6 L444.6,642.0 L445.3,642.5 L446.0,642.6 L446.7,642.1 L447.4,642.6 L448.1,642.3 L448.8,642.5 L449.5,642.1 L450.2,642.2 L450.9,642.3 L451.6,642.9 L452.3,642.3 L453.0,642.8 L453.7,642.9 L454.4,642.9 L455.1,642.5 L455.8,642.6 L456.5,642.7 L457.2,642.9 L457.9,642.4 L458.6,642.9 L459.3,643.0 L460.0,643.0 L460.7,642.5 L461.4,643.1 L462.1,642.5 L462.8,642.7 L463.5,642.9 L464.2,643.2 L464.9,642.8 L465.6,643.2 L466.3,643.0 L467.0,642.8 L467.7,642.8 L468.4,642.8 L469.1,642.7 L469.8,642.8 L470.5,643.2 L471.2,643.4 L471.9,642.8 L472.6,642.8 L473.3,643.5 L474.0,643.2 L474.7,643.1 L475.4,643.0 L476.1,643.3 L476.8,643.4 L477.5,643.2 L478.2,643.2 L478.9,643.0 L479.6,643.6 L480.3,643.0 L481.0,643.3 L481.7,643.6 L482.4,643.1 L483.1,643.5 L483.8,643.7 L484.5,643.5 L485.2,643.6 L485.9,643.2 L486.6,643.4 L487.3,643.2 L488.0,643.7 L488.7,643.4 L489.4,643.5 L490.1,643.9 L490.8,643.8 L491.5,643.9 L492.2,643.6 L492.9,643.6 L493.6,643.8 L494.3,643.6 L495.0,643.5 L495.7,643.6 L496.4,643.5 L497.1,643.6 L497.8,644.1 L498.5,644.1 L499.2,643.9 L499.9,643.8 L500.6,643.7 L501.3,643.5 L502.0,643.7 L502.7,644.0 L503.4,644.1 L504.1,643.8 L504.8,644.1 L505.5,644.1 L506.2,644.0 L506.9,644.0 L507.6,644.1 L508.3,643.8 L509.0,644.1 L509.7,643.8 L510.4,643.9 L511.1,644.2 L511.8,644.1 L512.5,643.8 L513.2,644.3 L513.9,644.1 L514.6,644.1 L515.3,643.7 L516.0,644.1 L516.7,643.9 L517.4,644.2 L518.1,644.0 L518.8,644.3 L519.5,644.2 L520.2,644.3 L520.9,644.0 L521.6,644.2 L522.3,644.3 L523.0,644.4 L523.7,644.1 L524.4,644.4 L525.1,644.4 L525.8,644.3 L526.4,668.3 Z" fill="#3fb0a4"/>
<path d="M526.4,668.3 L526.4,661.8 L527.1,661.8 L527.8,661.5 L528.5,661.6 L529.2,661.3 L529.9,661.8 L530.6,661.9 L531.3,661.6 L532.0,661.8 L532.7,661.8 L533.4,661.8 L534.1,661.4 L534.8,661.9 L535.5,661.8 L536.2,661.8 L536.9,661.7 L537.6,661.8 L538.3,662.0 L539.0,661.9 L539.7,661.9 L540.4,661.5 L541.1,661.6 L541.8,661.8 L542.5,662.0 L543.2,661.7 L543.9,662.0 L544.6,662.0 L545.3,661.6 L546.0,661.9 L546.7,661.8 L547.4,661.7 L548.1,661.7 L548.8,661.9 L549.5,661.8 L550.2,661.8 L550.9,661.7 L551.6,662.1 L552.3,662.0 L553.0,662.2 L553.7,662.2 L554.4,662.0 L555.1,662.5 L555.8,661.8 L556.5,662.1 L557.2,662.1 L557.9,662.2 L558.6,662.0 L559.3,662.5 L560.0,662.2 L560.7,661.9 L561.4,662.3 L562.1,661.9 L562.8,662.2 L563.5,662.0 L564.2,662.1 L564.9,662.4 L565.6,662.2 L566.3,661.9 L567.0,662.1 L567.7,662.0 L568.4,661.7 L569.1,661.5 L569.8,661.8 L570.5,661.8 L571.2,662.0 L571.9,662.0 L572.6,661.7 L573.3,661.5 L574.0,661.8 L574.7,661.1 L575.4,661.2 L576.1,661.5 L576.8,661.5 L577.5,661.1 L578.2,661.4 L578.9,661.5 L579.6,661.1 L580.3,661.1 L581.0,661.0 L581.7,661.0 L582.4,661.5 L583.1,661.1 L583.8,661.4 L584.5,661.4 L585.2,661.2 L585.9,660.9 L586.6,661.4 L587.3,661.1 L588.0,661.0 L588.7,660.9 L589.4,661.4 L590.1,661.0 L590.8,660.8 L591.5,661.0 L592.2,660.7 L592.9,661.0 L593.6,660.9 L594.3,660.8 L595.0,661.1 L595.7,661.1 L596.4,660.5 L597.1,660.9 L597.8,660.7 L598.5,661.1 L599.2,661.0 L599.9,660.6 L600.6,660.6 L601.3,660.5 L602.0,661.1 L602.7,660.5 L603.4,660.7 L604.1,660.6 L604.8,660.7 L605.5,660.7 L606.2,660.7 L606.9,660.3 L607.6,660.7 L608.3,660.3 L609.0,660.5 L609.7,660.3 L610.4,660.2 L611.1,660.4 L611.8,660.3 L612.5,660.2 L613.2,660.4 L613.9,660.3 L614.6,659.9 L615.3,660.0 L616.0,660.1 L616.7,660.3 L617.4,660.3 L618.1,660.0 L618.8,659.5 L619.5,660.0 L620.2,659.7 L620.9,659.7 L621.6,659.8 L622.3,659.7 L623.0,659.5 L623.0,668.3 Z" fill="#3fb0a4"/>
<path d="M403.3,708.3 L403.3,681.8 L404.0,681.1 L404.7,680.8 L405.4,681.1 L406.1,680.7 L406.8,680.8 L407.5,681.2 L408.2,680.7 L408.9,681.3 L409.6,681.2 L410.3,681.1 L411.0,681.1 L411.7,681.4 L412.4,681.6 L413.1,681.1 L413.8,681.4 L414.5,681.5 L415.2,681.5 L415.9,681.4 L416.6,681.3 L417.3,681.7 L418.0,681.9 L418.7,681.4 L419.4,681.6 L420.1,682.0 L420.8,682.1 L421.5,682.0 L422.2,681.6 L422.9,682.1 L423.6,682.4 L424.3,682.4 L425.0,682.3 L425.7,681.9 L426.4,682.5 L427.1,682.1 L427.8,682.4 L428.5,682.7 L429.2,682.6 L429.9,682.2 L430.6,682.4 L431.3,682.8 L432.0,682.4 L432.7,682.7 L433.4,682.6 L434.1,682.5 L434.8,682.9 L435.5,682.5 L436.2,682.6 L436.9,682.8 L437.6,682.7 L438.3,682.7 L439.0,683.1 L439.7,683.3 L440.4,683.4 L441.1,683.0 L441.8,683.2 L442.5,683.2 L443.2,683.4 L443.9,683.4 L444.6,683.7 L445.3,683.4 L446.0,683.2 L446.7,683.7 L447.4,683.4 L448.1,683.8 L448.8,683.7 L449.5,684.1 L450.2,683.8 L450.9,683.9 L451.6,683.7 L452.3,684.0 L453.0,683.8 L453.7,684.2 L454.4,684.1 L455.1,683.8 L455.8,683.9 L456.5,684.1 L457.2,684.4 L457.9,684.0 L458.6,684.4 L459.3,684.4 L460.0,684.1 L460.7,684.5 L461.4,684.2 L462.1,684.2 L462.8,684.6 L463.5,684.4 L464.2,684.9 L464.9,684.6 L465.6,684.6 L466.3,684.9 L467.0,684.4 L467.7,685.0 L468.4,684.5 L469.1,684.6 L469.8,685.2 L470.5,685.1 L471.2,684.8 L471.9,684.8 L472.6,685.4 L473.3,685.2 L474.0,685.4 L474.7,684.9 L475.4,685.3 L476.1,685.2 L476.8,685.1 L477.5,685.2 L478.2,685.5 L478.9,685.3 L479.6,685.4 L480.3,685.3 L481.0,685.8 L481.7,685.7 L482.4,685.8 L483.1,685.6 L483.8,685.9 L484.5,685.7 L485.2,685.8 L485.9,685.8 L486.6,686.0 L487.3,685.8 L488.0,685.6 L488.7,685.6 L489.4,685.8 L490.1,685.7 L490.8,686.3 L491.5,686.1 L492.2,686.3 L492.9,685.8 L493.6,686.2 L494.3,686.5 L495.0,686.3 L495.7,686.2 L496.4,686.3 L497.1,686.1 L497.8,686.1 L498.5,686.2 L499.2,686.4 L499.9,686.4 L500.6,686.8 L501.3,686.3 L502.0,686.4 L502.7,686.4 L503.4,686.4 L504.1,686.5 L504.8,686.5 L505.5,686.7 L506.2,686.4 L506.9,687.0 L507.6,686.7 L508.3,687.1 L509.0,686.9 L509.7,687.0 L510.4,686.8 L511.1,687.2 L511.8,686.6 L512.5,687.0 L513.2,686.8 L513.9,687.1 L514.6,687.2 L515.3,686.8 L516.0,686.8 L516.7,686.7 L517.4,686.9 L518.1,686.8 L518.8,687.1 L519.5,687.5 L520.2,687.1 L520.9,687.1 L521.6,687.2 L522.3,687.1 L523.0,687.4 L523.7,687.5 L524.4,687.1 L525.1,687.2 L525.8,687.5 L526.4,708.3 Z" fill="#dfba66"/>
<path d="M526.4,708.3 L526.4,693.3 L527.1,693.1 L527.8,693.0 L528.5,693.4 L529.2,692.7 L529.9,692.8 L530.6,693.3 L531.3,693.0 L532.0,692.8 L532.7,693.2 L533.4,693.5 L534.1,693.2 L534.8,693.1 L535.5,692.9 L536.2,692.9 L536.9,693.5 L537.6,693.2 L538.3,693.6 L539.0,693.0 L539.7,693.1 L540.4,693.0 L541.1,693.2 L541.8,693.0 L542.5,693.2 L543.2,693.3 L543.9,693.2 L544.6,693.1 L545.3,693.1 L546.0,693.8 L546.7,693.2 L547.4,693.5 L548.1,693.4 L548.8,693.5 L549.5,693.2 L550.2,693.4 L550.9,693.2 L551.6,693.6 L552.3,693.8 L553.0,693.6 L553.7,693.8 L554.4,693.4 L555.1,693.3 L555.8,693.6 L556.5,693.6 L557.2,693.7 L557.9,693.6 L558.6,693.8 L559.3,693.8 L560.0,694.0 L560.7,693.6 L561.4,693.7 L562.1,694.0 L562.8,693.6 L563.5,693.5 L564.2,693.7 L564.9,693.5 L565.6,693.9 L566.3,693.9 L567.0,693.5 L567.7,693.3 L568.4,693.2 L569.1,693.3 L569.8,693.1 L570.5,693.3 L571.2,693.3 L571.9,693.0 L572.6,692.8 L573.3,693.2 L574.0,692.7 L574.7,692.7 L575.4,692.7 L576.1,692.7 L576.8,692.5 L577.5,692.7 L578.2,692.5 L578.9,692.8 L579.6,692.6 L580.3,692.8 L581.0,692.6 L581.7,692.6 L582.4,692.5 L583.1,692.4 L583.8,692.6 L584.5,692.5 L585.2,692.6 L585.9,692.5 L586.6,692.4 L587.3,692.1 L588.0,692.4 L588.7,692.1 L589.4,691.9 L590.1,691.8 L590.8,691.9 L591.5,691.9 L592.2,692.2 L592.9,691.9 L593.6,691.7 L594.3,692.2 L595.0,692.0 L595.7,691.6 L596.4,691.6 L597.1,691.6 L597.8,691.8 L598.5,692.1 L599.2,692.1 L599.9,691.9 L600.6,691.6 L601.3,691.7 L602.0,691.7 L602.7,691.6 L603.4,691.4 L604.1,691.7 L604.8,691.9 L605.5,691.8 L606.2,691.4 L606.9,691.6 L607.6,691.4 L608.3,691.7 L609.0,691.5 L609.7,691.8 L610.4,691.7 L611.1,691.2 L611.8,691.4 L612.5,691.8 L613.2,691.4 L613.9,691.4 L614.6,691.4 L615.3,691.6 L616.0,691.7 L616.7,691.3 L617.4,691.6 L618.1,691.3 L618.8,690.9 L619.5,691.4 L620.2,691.1 L620.9,690.8 L621.6,691.4 L622.3,690.7 L623.0,691.1 L623.0,708.3 Z" fill="#dfba66"/>
<line x1="398.2" y1="668.0" x2="398.2" y2="644.6" stroke="#111" stroke-width="0.9"/>
<path d="M396.4,645.2 L398.2,641.6 L400.0,645.2 Z" fill="#111"/>
<line x1="398.2" y1="708.0" x2="398.2" y2="684.2" stroke="#111" stroke-width="0.9"/>
<path d="M396.4,684.8 L398.2,681.2 L400.0,684.8 Z" fill="#111"/>
<text x="402.0" y="638.4" font-size="8.6" fill="#111">Ctrl</text>
<text x="401.5" y="679.3" font-size="8.6" fill="#111">TDP-43 KD</text>
<text transform="translate(381.6,677.8) rotate(-90)" font-size="9.6" text-anchor="middle" fill="#2e2e2e">Nanopore</text>
<text transform="translate(393.3,678.2) rotate(-90)" font-size="9.6" text-anchor="middle" fill="#2e2e2e">coverage</text>
<line x1="399.8" y1="726.1" x2="404" y2="726.1" stroke="#444" stroke-width="1.4"/>
<line x1="622" y1="726.1" x2="626.4" y2="726.1" stroke="#444" stroke-width="1.4"/>
<rect x="403.7" y="721.7" width="124" height="9" rx="2.4" fill="#1f8a45"/>
<rect x="527.3" y="721.7" width="93.2" height="9" fill="#50d27f"/>
<rect x="524.9" y="721.7" width="2.6" height="9" fill="#c07ef2"/>
<rect x="620.2" y="721.7" width="2.6" height="9" fill="#f25060"/>
<text x="402.0" y="721.0" font-size="8.6" fill="#111">Proximal 3’UTR</text>
<text x="525.8" y="718.0" font-size="8.6" fill="#111">Cryptic 3’Ext</text>
<text x="523.8" y="740.2" font-size="8.6" text-anchor="middle" fill="#222">Annotated</text>
<text x="523.8" y="749.4" font-size="8.6" text-anchor="middle" fill="#222">PAS</text>
<text x="619.4" y="740.2" font-size="8.6" text-anchor="middle" fill="#222">SV40</text>
<text x="619.4" y="749.4" font-size="8.6" text-anchor="middle" fill="#222">PAS</text>
<text x="0.0" y="760.3" font-size="12.6" font-weight="bold" fill="#000" stroke="#000" stroke-width="0.45">h</text>
<rect x="56.6" y="759.6" width="134.0" height="12.9" fill="#fff" stroke="#555" stroke-width="0.8"/>
<path d="M63.10,906.3V848.30H75.50V906.3ZM76.64,906.3V848.30H89.04V906.3ZM90.18,906.3V848.30H102.58V906.3ZM103.72,906.3V848.30H116.12V906.3ZM117.26,906.3V848.30H129.66V906.3ZM130.80,906.3V848.30H143.20V906.3ZM144.34,906.3V848.30H156.74V906.3ZM157.88,906.3V848.30H170.28V906.3ZM171.42,906.3V848.30H183.82V906.3Z" fill="#d4d4d4"/>
<line x1="56.6" y1="912.5" x2="190.6" y2="912.5" stroke="#777" stroke-width="0.9"/>
<path d="M69.30,912.5v3.2M82.84,912.5v3.2M96.38,912.5v3.2M109.92,912.5v3.2M123.46,912.5v3.2M137.00,912.5v3.2M150.54,912.5v3.2M164.08,912.5v3.2M177.62,912.5v3.2" stroke="#555" stroke-width="0.8"/>
<text transform="translate(71.9,922.0) rotate(-45)" font-size="8.5" text-anchor="end" fill="#333"><tspan stroke="#333" stroke-width="0.35">-</tspan>96</text>
<text transform="translate(85.4,922.0) rotate(-45)" font-size="8.5" text-anchor="end" fill="#333"><tspan stroke="#333" stroke-width="0.35">-</tspan>60</text>
<text transform="translate(99.0,922.0) rotate(-45)" font-size="8.5" text-anchor="end" fill="#333"><tspan stroke="#333" stroke-width="0.35">-</tspan>56</text>
<text transform="translate(112.5,922.0) rotate(-45)" font-size="8.5" text-anchor="end" fill="#333"><tspan stroke="#333" stroke-width="0.35">-</tspan>48</text>
<text transform="translate(126.1,922.0) rotate(-45)" font-size="8.5" text-anchor="end" fill="#333"><tspan stroke="#333" stroke-width="0.35">-</tspan>32</text>
<text transform="translate(139.6,922.0) rotate(-45)" font-size="8.5" text-anchor="end" fill="#333"><tspan stroke="#333" stroke-width="0.35">-</tspan>24</text>
<text transform="translate(153.1,922.0) rotate(-45)" font-size="8.5" text-anchor="end" fill="#333"><tspan stroke="#333" stroke-width="0.35">-</tspan>20</text>
<text transform="translate(166.7,922.0) rotate(-45)" font-size="8.5" text-anchor="end" fill="#333">0</text>
<text transform="translate(180.2,922.0) rotate(-45)" font-size="8.5" text-anchor="end" fill="#333">92</text>
<rect x="194.2" y="759.6" width="134.0" height="12.9" fill="#fff" stroke="#555" stroke-width="0.8"/>
<path d="M200.70,906.3V842.50H213.10V906.3ZM214.24,906.3V843.66H226.64V906.3ZM227.78,906.3V843.08H240.18V906.3ZM241.32,906.3V839.02H253.72V906.3ZM254.86,906.3V822.20H267.26V906.3ZM268.40,906.3V823.94H280.80V906.3ZM281.94,906.3V828.58H294.34V906.3ZM295.48,906.3V815.24H307.88V906.3ZM309.02,906.3V827.42H321.42V906.3Z" fill="#d4d4d4"/>
<line x1="194.2" y1="912.5" x2="328.2" y2="912.5" stroke="#777" stroke-width="0.9"/>
<path d="M206.90,912.5v3.2M220.44,912.5v3.2M233.98,912.5v3.2M247.52,912.5v3.2M261.06,912.5v3.2M274.60,912.5v3.2M288.14,912.5v3.2M301.68,912.5v3.2M315.22,912.5v3.2" stroke="#555" stroke-width="0.8"/>
<text transform="translate(209.5,922.0) rotate(-45)" font-size="8.5" text-anchor="end" fill="#333"><tspan stroke="#333" stroke-width="0.35">-</tspan>96</text>
<text transform="translate(223.0,922.0) rotate(-45)" font-size="8.5" text-anchor="end" fill="#333"><tspan stroke="#333" stroke-width="0.35">-</tspan>60</text>
<text transform="translate(236.6,922.0) rotate(-45)" font-size="8.5" text-anchor="end" fill="#333"><tspan stroke="#333" stroke-width="0.35">-</tspan>56</text>
<text transform="translate(250.1,922.0) rotate(-45)" font-size="8.5" text-anchor="end" fill="#333"><tspan stroke="#333" stroke-width="0.35">-</tspan>48</text>
<text transform="translate(263.7,922.0) rotate(-45)" font-size="8.5" text-anchor="end" fill="#333"><tspan stroke="#333" stroke-width="0.35">-</tspan>32</text>
<text transform="translate(277.2,922.0) rotate(-45)" font-size="8.5" text-anchor="end" fill="#333"><tspan stroke="#333" stroke-width="0.35">-</tspan>24</text>
<text transform="translate(290.7,922.0) rotate(-45)" font-size="8.5" text-anchor="end" fill="#333"><tspan stroke="#333" stroke-width="0.35">-</tspan>20</text>
<text transform="translate(304.3,922.0) rotate(-45)" font-size="8.5" text-anchor="end" fill="#333">0</text>
<text transform="translate(317.8,922.0) rotate(-45)" font-size="8.5" text-anchor="end" fill="#333">92</text>
<rect x="331.8" y="759.6" width="134.0" height="12.9" fill="#fff" stroke="#555" stroke-width="0.8"/>
<path d="M338.30,906.3V838.73H350.70V906.3ZM351.84,906.3V841.92H364.24V906.3ZM365.38,906.3V843.66H377.78V906.3ZM378.92,906.3V838.73H391.32V906.3ZM392.46,906.3V818.14H404.86V906.3ZM406.00,906.3V817.56H418.40V906.3ZM419.54,906.3V821.62H431.94V906.3ZM433.08,906.3V801.90H445.48V906.3ZM446.62,906.3V808.28H459.02V906.3Z" fill="#d4d4d4"/>
<line x1="331.8" y1="912.5" x2="465.8" y2="912.5" stroke="#777" stroke-width="0.9"/>
<path d="M344.50,912.5v3.2M358.04,912.5v3.2M371.58,912.5v3.2M385.12,912.5v3.2M398.66,912.5v3.2M412.20,912.5v3.2M425.74,912.5v3.2M439.28,912.5v3.2M452.82,912.5v3.2" stroke="#555" stroke-width="0.8"/>
<text transform="translate(347.1,922.0) rotate(-45)" font-size="8.5" text-anchor="end" fill="#333"><tspan stroke="#333" stroke-width="0.35">-</tspan>96</text>
<text transform="translate(360.6,922.0) rotate(-45)" font-size="8.5" text-anchor="end" fill="#333"><tspan stroke="#333" stroke-width="0.35">-</tspan>60</text>
<text transform="translate(374.2,922.0) rotate(-45)" font-size="8.5" text-anchor="end" fill="#333"><tspan stroke="#333" stroke-width="0.35">-</tspan>56</text>
<text transform="translate(387.7,922.0) rotate(-45)" font-size="8.5" text-anchor="end" fill="#333"><tspan stroke="#333" stroke-width="0.35">-</tspan>48</text>
<text transform="translate(401.3,922.0) rotate(-45)" font-size="8.5" text-anchor="end" fill="#333"><tspan stroke="#333" stroke-width="0.35">-</tspan>32</text>
<text transform="translate(414.8,922.0) rotate(-45)" font-size="8.5" text-anchor="end" fill="#333"><tspan stroke="#333" stroke-width="0.35">-</tspan>24</text>
<text transform="translate(428.3,922.0) rotate(-45)" font-size="8.5" text-anchor="end" fill="#333"><tspan stroke="#333" stroke-width="0.35">-</tspan>20</text>
<text transform="translate(441.9,922.0) rotate(-45)" font-size="8.5" text-anchor="end" fill="#333">0</text>
<text transform="translate(455.4,922.0) rotate(-45)" font-size="8.5" text-anchor="end" fill="#333">92</text>
<rect x="469.4" y="759.6" width="134.0" height="12.9" fill="#fff" stroke="#555" stroke-width="0.8"/>
<path d="M475.90,906.3V838.61H488.30V906.3ZM489.44,906.3V843.66H501.84V906.3ZM502.98,906.3V840.76H515.38V906.3ZM516.52,906.3V838.61H528.92V906.3ZM530.06,906.3V819.30H542.46V906.3ZM543.60,906.3V816.98H556.00V906.3ZM557.14,906.3V822.20H569.54V906.3ZM570.68,906.3V801.32H583.08V906.3ZM584.22,906.3V790.88H596.62V906.3Z" fill="#d4d4d4"/>
<line x1="469.4" y1="912.5" x2="603.4" y2="912.5" stroke="#777" stroke-width="0.9"/>
<path d="M482.10,912.5v3.2M495.64,912.5v3.2M509.18,912.5v3.2M522.72,912.5v3.2M536.26,912.5v3.2M549.80,912.5v3.2M563.34,912.5v3.2M576.88,912.5v3.2M590.42,912.5v3.2" stroke="#555" stroke-width="0.8"/>
<text transform="translate(484.7,922.0) rotate(-45)" font-size="8.5" text-anchor="end" fill="#333"><tspan stroke="#333" stroke-width="0.35">-</tspan>96</text>
<text transform="translate(498.2,922.0) rotate(-45)" font-size="8.5" text-anchor="end" fill="#333"><tspan stroke="#333" stroke-width="0.35">-</tspan>60</text>
<text transform="translate(511.8,922.0) rotate(-45)" font-size="8.5" text-anchor="end" fill="#333"><tspan stroke="#333" stroke-width="0.35">-</tspan>56</text>
<text transform="translate(525.3,922.0) rotate(-45)" font-size="8.5" text-anchor="end" fill="#333"><tspan stroke="#333" stroke-width="0.35">-</tspan>48</text>
<text transform="translate(538.9,922.0) rotate(-45)" font-size="8.5" text-anchor="end" fill="#333"><tspan stroke="#333" stroke-width="0.35">-</tspan>32</text>
<text transform="translate(552.4,922.0) rotate(-45)" font-size="8.5" text-anchor="end" fill="#333"><tspan stroke="#333" stroke-width="0.35">-</tspan>24</text>
<text transform="translate(565.9,922.0) rotate(-45)" font-size="8.5" text-anchor="end" fill="#333"><tspan stroke="#333" stroke-width="0.35">-</tspan>20</text>
<text transform="translate(579.5,922.0) rotate(-45)" font-size="8.5" text-anchor="end" fill="#333">0</text>
<text transform="translate(593.0,922.0) rotate(-45)" font-size="8.5" text-anchor="end" fill="#333">92</text>
<text x="123.6" y="769.5" font-size="9.7" text-anchor="middle" fill="#2e2e2e">Ctrl</text>
<text x="261.2" y="769.5" font-size="9.7" text-anchor="middle" fill="#2e2e2e">Low KD</text>
<text x="398.8" y="769.5" font-size="9.7" text-anchor="middle" fill="#2e2e2e">Medium KD</text>
<text x="536.4" y="769.5" font-size="9.7" text-anchor="middle" fill="#2e2e2e">High KD</text>
<line x1="56.6" y1="848.30" x2="603.4" y2="848.30" stroke="#aaa" stroke-width="0.9" stroke-dasharray="4,3"/>
<line x1="56.5" y1="772.5" x2="56.5" y2="912.5" stroke="#777" stroke-width="0.9"/>
<line x1="53.4" y1="906.30" x2="56.5" y2="906.30" stroke="#555" stroke-width="0.8"/>
<text x="51.0" y="909.4" font-size="8.7" text-anchor="end" fill="#333">0</text>
<line x1="53.4" y1="877.30" x2="56.5" y2="877.30" stroke="#555" stroke-width="0.8"/>
<text x="51.0" y="880.4" font-size="8.7" text-anchor="end" fill="#333">0.5</text>
<line x1="53.4" y1="848.30" x2="56.5" y2="848.30" stroke="#555" stroke-width="0.8"/>
<text x="51.0" y="851.4" font-size="8.7" text-anchor="end" fill="#333">1.0</text>
<line x1="53.4" y1="819.30" x2="56.5" y2="819.30" stroke="#555" stroke-width="0.8"/>
<text x="51.0" y="822.4" font-size="8.7" text-anchor="end" fill="#333">1.5</text>
<line x1="53.4" y1="790.30" x2="56.5" y2="790.30" stroke="#555" stroke-width="0.8"/>
<text x="51.0" y="793.4" font-size="8.7" text-anchor="end" fill="#333">2.0</text>
<circle cx="66.9" cy="842.5" r="1.15" fill="#a857c8"/>
<path d="M67.5,841.9 l1.3,2.3 h-2.6 Z" fill="#a857c8"/>
<rect x="70.8" y="838.0" width="2.1" height="2.1" fill="#e41a1c"/>
<circle cx="72.8" cy="843.9" r="1.15" fill="#e41a1c"/>
<path d="M69.8,849.3 l1.3,2.3 h-2.6 Z" fill="#377eb8"/>
<rect x="67.5" y="852.7" width="2.1" height="2.1" fill="#4daf4a"/>
<circle cx="68.0" cy="856.4" r="1.15" fill="#4daf4a"/>
<path d="M70.6,855.0 l1.3,2.3 h-2.6 Z" fill="#377eb8"/>
<rect x="70.2" y="858.2" width="2.1" height="2.1" fill="#377eb8"/>
<circle cx="80.7" cy="850.5" r="1.15" fill="#a857c8"/>
<path d="M83.3,846.9 l1.3,2.3 h-2.6 Z" fill="#a857c8"/>
<rect x="84.4" y="845.6" width="2.1" height="2.1" fill="#a857c8"/>
<circle cx="94.4" cy="849.7" r="1.15" fill="#a857c8"/>
<path d="M96.2,847.6 l1.3,2.3 h-2.6 Z" fill="#a857c8"/>
<rect x="98.0" y="846.0" width="2.1" height="2.1" fill="#a857c8"/>
<circle cx="108.0" cy="850.5" r="1.15" fill="#a857c8"/>
<path d="M110.2,846.9 l1.3,2.3 h-2.6 Z" fill="#a857c8"/>
<rect x="111.5" y="846.0" width="2.1" height="2.1" fill="#a857c8"/>
<circle cx="121.5" cy="848.6" r="1.15" fill="#a857c8"/>
<path d="M123.9,841.5 l1.3,2.3 h-2.6 Z" fill="#a857c8"/>
<rect x="124.9" y="853.2" width="2.1" height="2.1" fill="#a857c8"/>
<circle cx="134.9" cy="847.5" r="1.15" fill="#a857c8"/>
<path d="M136.6,848.1 l1.3,2.3 h-2.6 Z" fill="#a857c8"/>
<rect x="137.5" y="844.7" width="2.1" height="2.1" fill="#4daf4a"/>
<circle cx="140.0" cy="853.1" r="1.15" fill="#4daf4a"/>
<path d="M148.0,847.9 l1.3,2.3 h-2.6 Z" fill="#a857c8"/>
<rect x="149.5" y="845.6" width="2.1" height="2.1" fill="#a857c8"/>
<circle cx="152.7" cy="848.8" r="1.15" fill="#4daf4a"/>
<path d="M154.0,850.1 l1.3,2.3 h-2.6 Z" fill="#4daf4a"/>
<rect x="160.9" y="848.7" width="2.1" height="2.1" fill="#a857c8"/>
<circle cx="164.3" cy="847.0" r="1.15" fill="#a857c8"/>
<path d="M166.5,847.6 l1.3,2.3 h-2.6 Z" fill="#a857c8"/>
<rect x="174.3" y="854.0" width="2.1" height="2.1" fill="#a857c8"/>
<circle cx="177.6" cy="836.5" r="1.15" fill="#a857c8"/>
<path d="M180.2,852.9 l1.3,2.3 h-2.6 Z" fill="#a857c8"/>
<rect x="203.4" y="837.1" width="2.1" height="2.1" fill="#a857c8"/>
<circle cx="203.9" cy="841.2" r="1.15" fill="#a857c8"/>
<path d="M207.3,835.5 l1.3,2.3 h-2.6 Z" fill="#4daf4a"/>
<rect x="205.4" y="837.0" width="2.1" height="2.1" fill="#4daf4a"/>
<circle cx="209.8" cy="842.7" r="1.15" fill="#e41a1c"/>
<path d="M210.4,845.2 l1.3,2.3 h-2.6 Z" fill="#e41a1c"/>
<rect x="207.2" y="844.2" width="2.1" height="2.1" fill="#377eb8"/>
<circle cx="208.8" cy="851.7" r="1.15" fill="#377eb8"/>
<path d="M209.6,850.3 l1.3,2.3 h-2.6 Z" fill="#377eb8"/>
<rect x="217.9" y="841.5" width="2.1" height="2.1" fill="#a857c8"/>
<circle cx="221.5" cy="844.0" r="1.15" fill="#a857c8"/>
<path d="M223.8,842.9 l1.3,2.3 h-2.6 Z" fill="#a857c8"/>
<rect x="230.9" y="842.5" width="2.1" height="2.1" fill="#a857c8"/>
<circle cx="234.5" cy="840.5" r="1.15" fill="#a857c8"/>
<path d="M236.8,842.6 l1.3,2.3 h-2.6 Z" fill="#a857c8"/>
<rect x="244.8" y="840.5" width="2.1" height="2.1" fill="#a857c8"/>
<circle cx="248.2" cy="835.6" r="1.15" fill="#a857c8"/>
<path d="M250.3,838.8 l1.3,2.3 h-2.6 Z" fill="#a857c8"/>
<rect x="258.1" y="824.4" width="2.1" height="2.1" fill="#a857c8"/>
<circle cx="261.5" cy="819.0" r="1.15" fill="#a857c8"/>
<path d="M263.9,821.2 l1.3,2.3 h-2.6 Z" fill="#a857c8"/>
<rect x="271.3" y="826.4" width="2.1" height="2.1" fill="#a857c8"/>
<circle cx="273.5" cy="829.5" r="1.15" fill="#a857c8"/>
<path d="M275.5,822.2 l1.3,2.3 h-2.6 Z" fill="#4daf4a"/>
<rect x="276.9" y="817.2" width="2.1" height="2.1" fill="#4daf4a"/>
<circle cx="276.4" cy="822.6" r="1.15" fill="#a857c8"/>
<path d="M285.6,828.6 l1.3,2.3 h-2.6 Z" fill="#a857c8"/>
<rect x="286.3" y="827.2" width="2.1" height="2.1" fill="#a857c8"/>
<circle cx="289.0" cy="826.1" r="1.15" fill="#a857c8"/>
<path d="M290.0,828.4 l1.3,2.3 h-2.6 Z" fill="#4daf4a"/>
<rect x="290.2" y="826.0" width="2.1" height="2.1" fill="#4daf4a"/>
<circle cx="299.7" cy="817.2" r="1.15" fill="#a857c8"/>
<path d="M301.8,813.1 l1.3,2.3 h-2.6 Z" fill="#a857c8"/>
<rect x="303.2" y="812.9" width="2.1" height="2.1" fill="#a857c8"/>
<circle cx="313.3" cy="827.2" r="1.15" fill="#a857c8"/>
<path d="M315.5,841.3 l1.3,2.3 h-2.6 Z" fill="#a857c8"/>
<rect x="316.2" y="813.4" width="2.1" height="2.1" fill="#a857c8"/>
<circle cx="342.5" cy="834.5" r="1.15" fill="#a857c8"/>
<path d="M341.8,834.1 l1.3,2.3 h-2.6 Z" fill="#a857c8"/>
<rect x="343.4" y="832.1" width="2.1" height="2.1" fill="#4daf4a"/>
<circle cx="345.2" cy="832.5" r="1.15" fill="#4daf4a"/>
<path d="M345.8,839.7 l1.3,2.3 h-2.6 Z" fill="#377eb8"/>
<rect x="346.2" y="846.4" width="2.1" height="2.1" fill="#e41a1c"/>
<circle cx="348.0" cy="847.8" r="1.15" fill="#e41a1c"/>
<path d="M356.5,842.6 l1.3,2.3 h-2.6 Z" fill="#a857c8"/>
<rect x="357.4" y="839.5" width="2.1" height="2.1" fill="#a857c8"/>
<circle cx="360.7" cy="841.7" r="1.15" fill="#a857c8"/>
<path d="M370.5,840.6 l1.3,2.3 h-2.6 Z" fill="#a857c8"/>
<rect x="372.8" y="844.4" width="2.1" height="2.1" fill="#a857c8"/>
<circle cx="383.3" cy="837.4" r="1.15" fill="#a857c8"/>
<path d="M385.5,836.0 l1.3,2.3 h-2.6 Z" fill="#a857c8"/>
<rect x="386.8" y="840.7" width="2.1" height="2.1" fill="#a857c8"/>
<circle cx="396.5" cy="819.2" r="1.15" fill="#a857c8"/>
<path d="M399.0,819.5 l1.3,2.3 h-2.6 Z" fill="#a857c8"/>
<rect x="400.2" y="814.2" width="2.1" height="2.1" fill="#a857c8"/>
<circle cx="410.5" cy="818.9" r="1.15" fill="#a857c8"/>
<path d="M411.5,821.2 l1.3,2.3 h-2.6 Z" fill="#a857c8"/>
<rect x="412.4" y="815.0" width="2.1" height="2.1" fill="#4daf4a"/>
<circle cx="415.0" cy="815.2" r="1.15" fill="#4daf4a"/>
<path d="M412.8,817.5 l1.3,2.3 h-2.6 Z" fill="#a857c8"/>
<rect x="422.4" y="821.6" width="2.1" height="2.1" fill="#a857c8"/>
<circle cx="425.5" cy="824.0" r="1.15" fill="#a857c8"/>
<path d="M427.0,818.3 l1.3,2.3 h-2.6 Z" fill="#4daf4a"/>
<rect x="427.8" y="821.0" width="2.1" height="2.1" fill="#4daf4a"/>
<circle cx="437.5" cy="801.5" r="1.15" fill="#a857c8"/>
<path d="M439.8,799.3 l1.3,2.3 h-2.6 Z" fill="#a857c8"/>
<rect x="440.9" y="802.0" width="2.1" height="2.1" fill="#a857c8"/>
<circle cx="451.0" cy="812.6" r="1.15" fill="#a857c8"/>
<path d="M453.5,815.2 l1.3,2.3 h-2.6 Z" fill="#a857c8"/>
<rect x="449.8" y="795.1" width="2.1" height="2.1" fill="#a857c8"/>
<circle cx="480.5" cy="845.3" r="1.15" fill="#a857c8"/>
<path d="M481.5,841.6 l1.3,2.3 h-2.6 Z" fill="#a857c8"/>
<rect x="480.9" y="836.1" width="2.1" height="2.1" fill="#4daf4a"/>
<circle cx="483.0" cy="836.0" r="1.15" fill="#4daf4a"/>
<path d="M484.0,839.6 l1.3,2.3 h-2.6 Z" fill="#377eb8"/>
<rect x="484.4" y="832.1" width="2.1" height="2.1" fill="#e41a1c"/>
<circle cx="486.0" cy="838.0" r="1.15" fill="#e41a1c"/>
<path d="M487.0,836.9 l1.3,2.3 h-2.6 Z" fill="#e41a1c"/>
<rect x="492.9" y="843.2" width="2.1" height="2.1" fill="#a857c8"/>
<circle cx="496.5" cy="843.5" r="1.15" fill="#a857c8"/>
<path d="M499.0,840.6 l1.3,2.3 h-2.6 Z" fill="#a857c8"/>
<rect x="506.4" y="840.5" width="2.1" height="2.1" fill="#a857c8"/>
<circle cx="510.0" cy="841.0" r="1.15" fill="#a857c8"/>
<path d="M512.0,838.9 l1.3,2.3 h-2.6 Z" fill="#a857c8"/>
<rect x="520.0" y="838.4" width="2.1" height="2.1" fill="#a857c8"/>
<circle cx="523.5" cy="837.1" r="1.15" fill="#a857c8"/>
<path d="M525.5,837.3 l1.3,2.3 h-2.6 Z" fill="#a857c8"/>
<rect x="533.0" y="817.0" width="2.1" height="2.1" fill="#a857c8"/>
<circle cx="536.5" cy="818.0" r="1.15" fill="#a857c8"/>
<path d="M539.0,824.2 l1.3,2.3 h-2.6 Z" fill="#a857c8"/>
<rect x="546.5" y="819.0" width="2.1" height="2.1" fill="#a857c8"/>
<circle cx="549.5" cy="818.5" r="1.15" fill="#a857c8"/>
<path d="M551.5,812.0 l1.3,2.3 h-2.6 Z" fill="#4daf4a"/>
<rect x="552.0" y="814.4" width="2.1" height="2.1" fill="#4daf4a"/>
<circle cx="561.0" cy="822.3" r="1.15" fill="#a857c8"/>
<path d="M563.0,821.6 l1.3,2.3 h-2.6 Z" fill="#a857c8"/>
<rect x="564.0" y="819.0" width="2.1" height="2.1" fill="#4daf4a"/>
<circle cx="566.5" cy="823.6" r="1.15" fill="#4daf4a"/>
<path d="M575.0,799.5 l1.3,2.3 h-2.6 Z" fill="#a857c8"/>
<rect x="576.5" y="801.5" width="2.1" height="2.1" fill="#a857c8"/>
<circle cx="580.0" cy="800.3" r="1.15" fill="#a857c8"/>
<path d="M590.0,777.5 l1.3,2.3 h-2.6 Z" fill="#a857c8"/>
<rect x="590.5" y="783.5" width="2.1" height="2.1" fill="#a857c8"/>
<circle cx="593.0" cy="809.1" r="1.15" fill="#a857c8"/>
<text transform="translate(22.4,842.7) rotate(-90)" font-size="9.65" text-anchor="middle" fill="#2e2e2e">Fold change in</text>
<text transform="translate(32.8,844.4) rotate(-90)" font-size="9.65" text-anchor="middle" fill="#2e2e2e">cryptic PAS usage vs CTRL</text>
<text x="330.8" y="943.1" font-size="9.95" text-anchor="middle" fill="#2e2e2e">Change of UG dinucleotide content (%)</text>
<text x="608.5" y="805.4" font-size="9.9" fill="#2e2e2e">Variants</text>
<circle cx="616.7" cy="811.8" r="1.2" fill="#a857c8"/>
<text x="621.0" y="815.0" font-size="9.0" fill="#2e2e2e">1</text>
<circle cx="616.7" cy="820.3" r="1.2" fill="#4daf4a"/>
<text x="621.0" y="823.5" font-size="9.0" fill="#2e2e2e">2</text>
<circle cx="616.7" cy="828.8" r="1.2" fill="#377eb8"/>
<text x="621.0" y="832.0" font-size="9.0" fill="#2e2e2e">3</text>
<circle cx="616.7" cy="837.4" r="1.2" fill="#e41a1c"/>
<text x="621.0" y="840.6" font-size="9.0" fill="#2e2e2e">4</text>
<text x="608.5" y="858.0" font-size="9.9" fill="#2e2e2e">Replicate</text>
<circle cx="616.7" cy="864.6" r="1.1" fill="#333"/>
<path d="M616.7,871.9 l1.2,2.1 h-2.4 Z" fill="#333"/>
<rect x="615.7" y="880.4" width="2" height="2" fill="#333"/>
<text x="621.0" y="867.8" font-size="9.0" fill="#2e2e2e">1</text>
<text x="621.0" y="876.4" font-size="9.0" fill="#2e2e2e">2</text>
<text x="621.0" y="884.6" font-size="9.0" fill="#2e2e2e">3</text>
</svg>
</body></html>
